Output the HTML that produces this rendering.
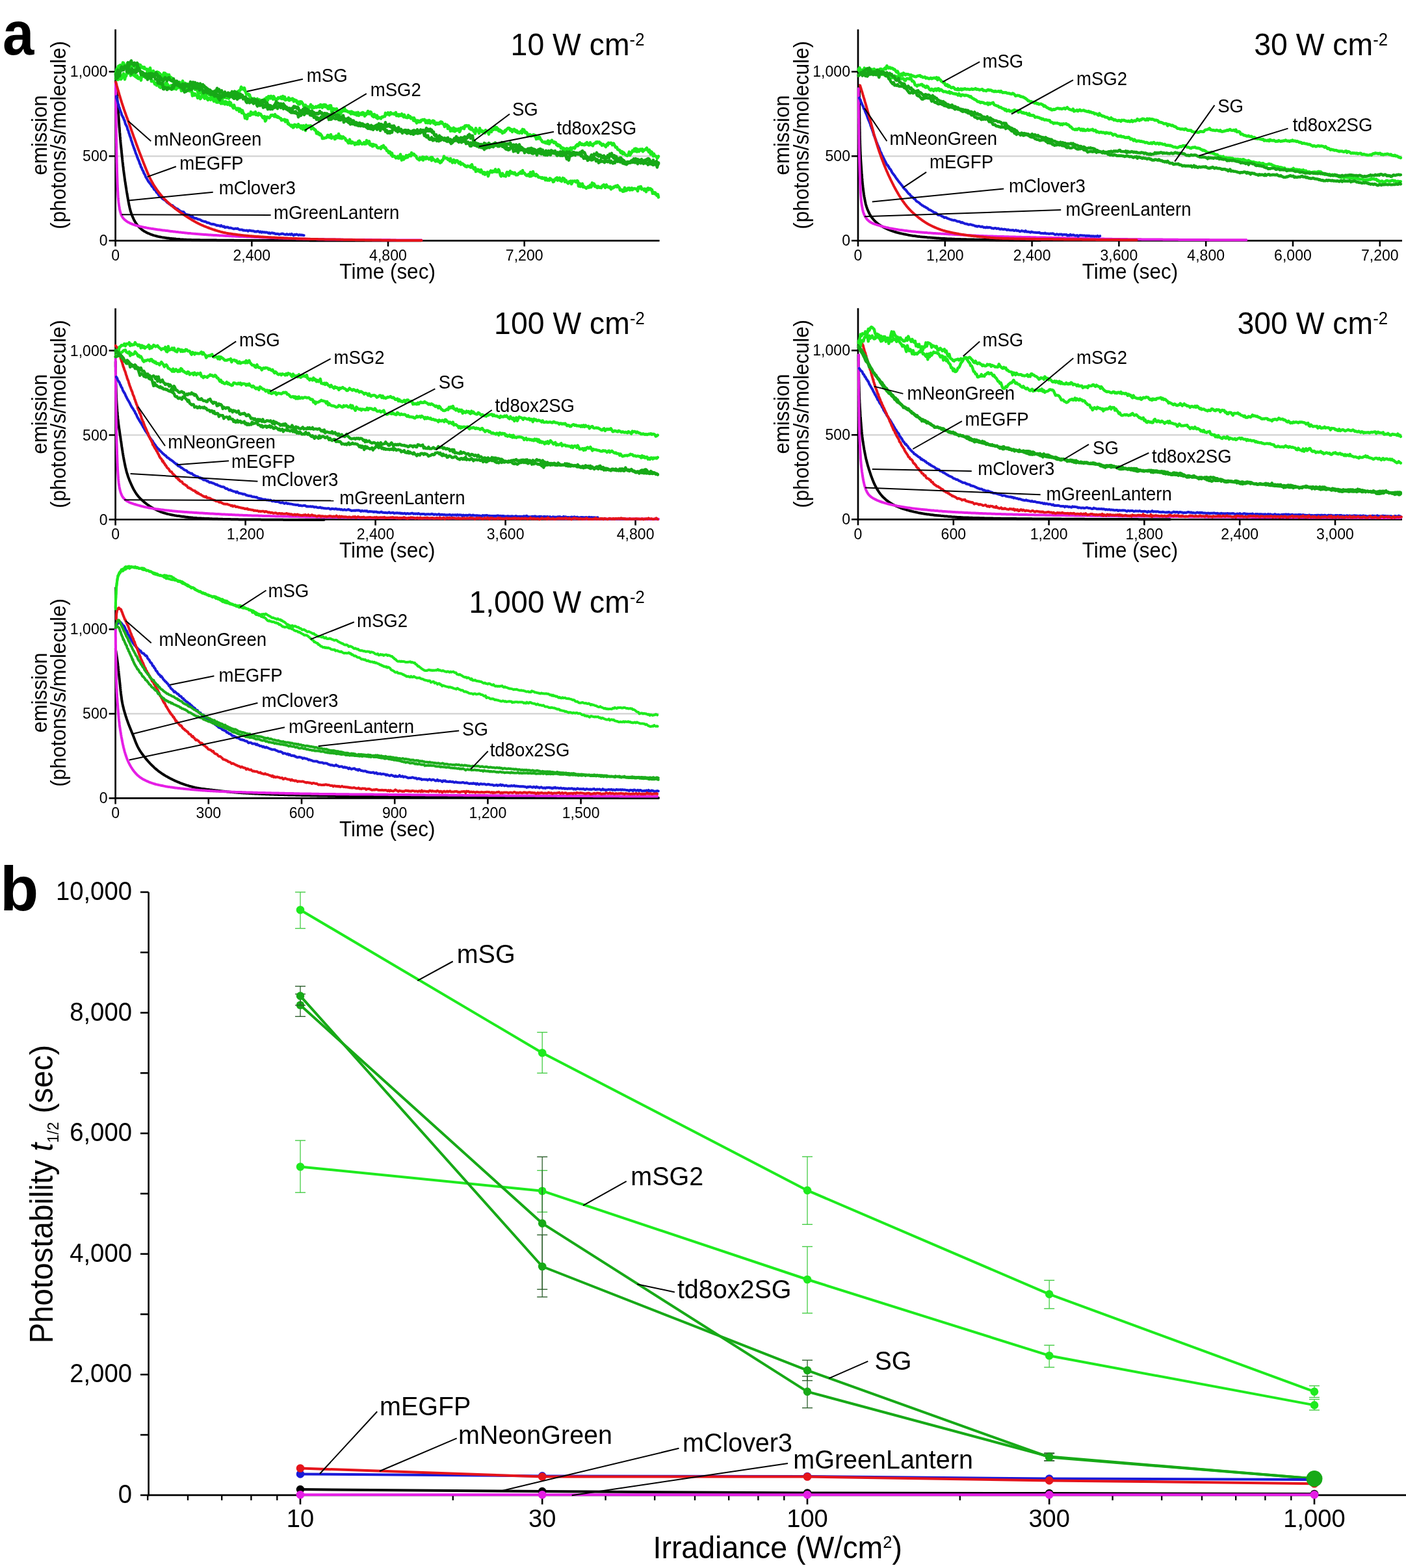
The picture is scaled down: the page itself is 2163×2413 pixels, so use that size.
<!DOCTYPE html>
<html><head><meta charset="utf-8"><title>Photostability</title>
<style>html,body{margin:0;padding:0;background:#fff;} svg{display:block;} text{fill:#000;}</style>
</head><body>
<svg xmlns="http://www.w3.org/2000/svg" width="2163" height="2413" viewBox="0 0 2163 2413" font-family='"Liberation Sans", Arial, Helvetica, sans-serif'>
<line x1="177.6" y1="240.3" x2="1014.6" y2="240.3" stroke="#d2d2d2" stroke-width="2.2" />
<line x1="167.6" y1="370.3" x2="177.6" y2="370.3" stroke="#000" stroke-width="2.6" />
<text transform="translate(165.6,378.3) scale(0.9615,1)" font-size="24.02" text-anchor="end" font-weight="normal"  style="">0</text>
<line x1="167.6" y1="240.3" x2="177.6" y2="240.3" stroke="#000" stroke-width="2.6" />
<text transform="translate(165.6,248.3) scale(0.9615,1)" font-size="24.02" text-anchor="end" font-weight="normal"  style="">500</text>
<line x1="167.6" y1="110.3" x2="177.6" y2="110.3" stroke="#000" stroke-width="2.6" />
<text transform="translate(165.6,118.3) scale(0.9615,1)" font-size="24.02" text-anchor="end" font-weight="normal"  style="">1,000</text>
<line x1="177.6" y1="370.3" x2="177.6" y2="379.3" stroke="#000" stroke-width="2.6" />
<text transform="translate(177.6,400.8) scale(0.9615,1)" font-size="24.02" text-anchor="middle" font-weight="normal"  style="">0</text>
<line x1="387.3" y1="370.3" x2="387.3" y2="379.3" stroke="#000" stroke-width="2.6" />
<text transform="translate(387.3,400.8) scale(0.9615,1)" font-size="24.02" text-anchor="middle" font-weight="normal"  style="">2,400</text>
<line x1="597.0" y1="370.3" x2="597.0" y2="379.3" stroke="#000" stroke-width="2.6" />
<text transform="translate(597.0,400.8) scale(0.9615,1)" font-size="24.02" text-anchor="middle" font-weight="normal"  style="">4,800</text>
<line x1="806.7" y1="370.3" x2="806.7" y2="379.3" stroke="#000" stroke-width="2.6" />
<text transform="translate(806.7,400.8) scale(0.9615,1)" font-size="24.02" text-anchor="middle" font-weight="normal"  style="">7,200</text>
<text transform="translate(596.1,428.8) scale(0.9615,1)" font-size="32.76" text-anchor="middle" font-weight="normal"  style="">Time (sec)</text>
<text transform="translate(71.8,207.9) rotate(-90) scale(0.9615,1)" font-size="32.45" text-anchor="middle">emission</text>
<text transform="translate(101.3,207.9) rotate(-90) scale(0.9615,1)" font-size="32.45" text-anchor="middle">(photons/s/molecule)</text>
<text transform="translate(991.5,85.0) scale(0.953,1)" font-size="48.7" text-anchor="end">10 W cm<tspan font-size="27" dy="-15.1">-2</tspan></text>
<line x1="1320.0" y1="240.3" x2="2157.0" y2="240.3" stroke="#d2d2d2" stroke-width="2.2" />
<line x1="1310.0" y1="370.3" x2="1320.0" y2="370.3" stroke="#000" stroke-width="2.6" />
<text transform="translate(1308.0,378.3) scale(0.9615,1)" font-size="24.02" text-anchor="end" font-weight="normal"  style="">0</text>
<line x1="1310.0" y1="240.3" x2="1320.0" y2="240.3" stroke="#000" stroke-width="2.6" />
<text transform="translate(1308.0,248.3) scale(0.9615,1)" font-size="24.02" text-anchor="end" font-weight="normal"  style="">500</text>
<line x1="1310.0" y1="110.3" x2="1320.0" y2="110.3" stroke="#000" stroke-width="2.6" />
<text transform="translate(1308.0,118.3) scale(0.9615,1)" font-size="24.02" text-anchor="end" font-weight="normal"  style="">1,000</text>
<line x1="1320.0" y1="370.3" x2="1320.0" y2="379.3" stroke="#000" stroke-width="2.6" />
<text transform="translate(1320.0,400.8) scale(0.9615,1)" font-size="24.02" text-anchor="middle" font-weight="normal"  style="">0</text>
<line x1="1453.8" y1="370.3" x2="1453.8" y2="379.3" stroke="#000" stroke-width="2.6" />
<text transform="translate(1453.8,400.8) scale(0.9615,1)" font-size="24.02" text-anchor="middle" font-weight="normal"  style="">1,200</text>
<line x1="1587.6" y1="370.3" x2="1587.6" y2="379.3" stroke="#000" stroke-width="2.6" />
<text transform="translate(1587.6,400.8) scale(0.9615,1)" font-size="24.02" text-anchor="middle" font-weight="normal"  style="">2,400</text>
<line x1="1721.4" y1="370.3" x2="1721.4" y2="379.3" stroke="#000" stroke-width="2.6" />
<text transform="translate(1721.4,400.8) scale(0.9615,1)" font-size="24.02" text-anchor="middle" font-weight="normal"  style="">3,600</text>
<line x1="1855.2" y1="370.3" x2="1855.2" y2="379.3" stroke="#000" stroke-width="2.6" />
<text transform="translate(1855.2,400.8) scale(0.9615,1)" font-size="24.02" text-anchor="middle" font-weight="normal"  style="">4,800</text>
<line x1="1989.0" y1="370.3" x2="1989.0" y2="379.3" stroke="#000" stroke-width="2.6" />
<text transform="translate(1989.0,400.8) scale(0.9615,1)" font-size="24.02" text-anchor="middle" font-weight="normal"  style="">6,000</text>
<line x1="2122.8" y1="370.3" x2="2122.8" y2="379.3" stroke="#000" stroke-width="2.6" />
<text transform="translate(2122.8,400.8) scale(0.9615,1)" font-size="24.02" text-anchor="middle" font-weight="normal"  style="">7,200</text>
<text transform="translate(1738.5,428.8) scale(0.9615,1)" font-size="32.76" text-anchor="middle" font-weight="normal"  style="">Time (sec)</text>
<text transform="translate(1214.2,207.9) rotate(-90) scale(0.9615,1)" font-size="32.45" text-anchor="middle">emission</text>
<text transform="translate(1243.7,207.9) rotate(-90) scale(0.9615,1)" font-size="32.45" text-anchor="middle">(photons/s/molecule)</text>
<text transform="translate(2135.1,85.0) scale(0.953,1)" font-size="48.7" text-anchor="end">30 W cm<tspan font-size="27" dy="-15.1">-2</tspan></text>
<line x1="177.6" y1="669.5" x2="1014.0" y2="669.5" stroke="#d2d2d2" stroke-width="2.2" />
<line x1="167.6" y1="799.5" x2="177.6" y2="799.5" stroke="#000" stroke-width="2.6" />
<text transform="translate(165.6,807.5) scale(0.9615,1)" font-size="24.02" text-anchor="end" font-weight="normal"  style="">0</text>
<line x1="167.6" y1="669.5" x2="177.6" y2="669.5" stroke="#000" stroke-width="2.6" />
<text transform="translate(165.6,677.5) scale(0.9615,1)" font-size="24.02" text-anchor="end" font-weight="normal"  style="">500</text>
<line x1="167.6" y1="539.5" x2="177.6" y2="539.5" stroke="#000" stroke-width="2.6" />
<text transform="translate(165.6,547.5) scale(0.9615,1)" font-size="24.02" text-anchor="end" font-weight="normal"  style="">1,000</text>
<line x1="177.6" y1="799.5" x2="177.6" y2="808.5" stroke="#000" stroke-width="2.6" />
<text transform="translate(177.6,830.0) scale(0.9615,1)" font-size="24.02" text-anchor="middle" font-weight="normal"  style="">0</text>
<line x1="377.6" y1="799.5" x2="377.6" y2="808.5" stroke="#000" stroke-width="2.6" />
<text transform="translate(377.6,830.0) scale(0.9615,1)" font-size="24.02" text-anchor="middle" font-weight="normal"  style="">1,200</text>
<line x1="577.6" y1="799.5" x2="577.6" y2="808.5" stroke="#000" stroke-width="2.6" />
<text transform="translate(577.6,830.0) scale(0.9615,1)" font-size="24.02" text-anchor="middle" font-weight="normal"  style="">2,400</text>
<line x1="777.6" y1="799.5" x2="777.6" y2="808.5" stroke="#000" stroke-width="2.6" />
<text transform="translate(777.6,830.0) scale(0.9615,1)" font-size="24.02" text-anchor="middle" font-weight="normal"  style="">3,600</text>
<line x1="977.6" y1="799.5" x2="977.6" y2="808.5" stroke="#000" stroke-width="2.6" />
<text transform="translate(977.6,830.0) scale(0.9615,1)" font-size="24.02" text-anchor="middle" font-weight="normal"  style="">4,800</text>
<text transform="translate(595.8,858.0) scale(0.9615,1)" font-size="32.76" text-anchor="middle" font-weight="normal"  style="">Time (sec)</text>
<text transform="translate(71.8,637.1) rotate(-90) scale(0.9615,1)" font-size="32.45" text-anchor="middle">emission</text>
<text transform="translate(101.3,637.1) rotate(-90) scale(0.9615,1)" font-size="32.45" text-anchor="middle">(photons/s/molecule)</text>
<text transform="translate(991.8,513.9) scale(0.953,1)" font-size="48.7" text-anchor="end">100 W cm<tspan font-size="27" dy="-15.1">-2</tspan></text>
<line x1="1320.0" y1="669.3" x2="2157.0" y2="669.3" stroke="#d2d2d2" stroke-width="2.2" />
<line x1="1310.0" y1="799.3" x2="1320.0" y2="799.3" stroke="#000" stroke-width="2.6" />
<text transform="translate(1308.0,807.3) scale(0.9615,1)" font-size="24.02" text-anchor="end" font-weight="normal"  style="">0</text>
<line x1="1310.0" y1="669.3" x2="1320.0" y2="669.3" stroke="#000" stroke-width="2.6" />
<text transform="translate(1308.0,677.3) scale(0.9615,1)" font-size="24.02" text-anchor="end" font-weight="normal"  style="">500</text>
<line x1="1310.0" y1="539.3" x2="1320.0" y2="539.3" stroke="#000" stroke-width="2.6" />
<text transform="translate(1308.0,547.3) scale(0.9615,1)" font-size="24.02" text-anchor="end" font-weight="normal"  style="">1,000</text>
<line x1="1320.0" y1="799.3" x2="1320.0" y2="808.3" stroke="#000" stroke-width="2.6" />
<text transform="translate(1320.0,829.8) scale(0.9615,1)" font-size="24.02" text-anchor="middle" font-weight="normal"  style="">0</text>
<line x1="1466.8" y1="799.3" x2="1466.8" y2="808.3" stroke="#000" stroke-width="2.6" />
<text transform="translate(1466.8,829.8) scale(0.9615,1)" font-size="24.02" text-anchor="middle" font-weight="normal"  style="">600</text>
<line x1="1613.6" y1="799.3" x2="1613.6" y2="808.3" stroke="#000" stroke-width="2.6" />
<text transform="translate(1613.6,829.8) scale(0.9615,1)" font-size="24.02" text-anchor="middle" font-weight="normal"  style="">1,200</text>
<line x1="1760.4" y1="799.3" x2="1760.4" y2="808.3" stroke="#000" stroke-width="2.6" />
<text transform="translate(1760.4,829.8) scale(0.9615,1)" font-size="24.02" text-anchor="middle" font-weight="normal"  style="">1,800</text>
<line x1="1907.2" y1="799.3" x2="1907.2" y2="808.3" stroke="#000" stroke-width="2.6" />
<text transform="translate(1907.2,829.8) scale(0.9615,1)" font-size="24.02" text-anchor="middle" font-weight="normal"  style="">2,400</text>
<line x1="2054.0" y1="799.3" x2="2054.0" y2="808.3" stroke="#000" stroke-width="2.6" />
<text transform="translate(2054.0,829.8) scale(0.9615,1)" font-size="24.02" text-anchor="middle" font-weight="normal"  style="">3,000</text>
<text transform="translate(1738.5,857.8) scale(0.9615,1)" font-size="32.76" text-anchor="middle" font-weight="normal"  style="">Time (sec)</text>
<text transform="translate(1214.2,636.9) rotate(-90) scale(0.9615,1)" font-size="32.45" text-anchor="middle">emission</text>
<text transform="translate(1243.7,636.9) rotate(-90) scale(0.9615,1)" font-size="32.45" text-anchor="middle">(photons/s/molecule)</text>
<text transform="translate(2135.1,513.9) scale(0.953,1)" font-size="48.7" text-anchor="end">300 W cm<tspan font-size="27" dy="-15.1">-2</tspan></text>
<line x1="177.6" y1="1098.4" x2="1014.0" y2="1098.4" stroke="#d2d2d2" stroke-width="2.2" />
<line x1="167.6" y1="1228.4" x2="177.6" y2="1228.4" stroke="#000" stroke-width="2.6" />
<text transform="translate(165.6,1236.4) scale(0.9615,1)" font-size="24.02" text-anchor="end" font-weight="normal"  style="">0</text>
<line x1="167.6" y1="1098.4" x2="177.6" y2="1098.4" stroke="#000" stroke-width="2.6" />
<text transform="translate(165.6,1106.4) scale(0.9615,1)" font-size="24.02" text-anchor="end" font-weight="normal"  style="">500</text>
<line x1="167.6" y1="968.4" x2="177.6" y2="968.4" stroke="#000" stroke-width="2.6" />
<text transform="translate(165.6,976.4) scale(0.9615,1)" font-size="24.02" text-anchor="end" font-weight="normal"  style="">1,000</text>
<line x1="177.6" y1="1228.4" x2="177.6" y2="1237.4" stroke="#000" stroke-width="2.6" />
<text transform="translate(177.6,1258.9) scale(0.9615,1)" font-size="24.02" text-anchor="middle" font-weight="normal"  style="">0</text>
<line x1="320.8" y1="1228.4" x2="320.8" y2="1237.4" stroke="#000" stroke-width="2.6" />
<text transform="translate(320.8,1258.9) scale(0.9615,1)" font-size="24.02" text-anchor="middle" font-weight="normal"  style="">300</text>
<line x1="464.0" y1="1228.4" x2="464.0" y2="1237.4" stroke="#000" stroke-width="2.6" />
<text transform="translate(464.0,1258.9) scale(0.9615,1)" font-size="24.02" text-anchor="middle" font-weight="normal"  style="">600</text>
<line x1="607.2" y1="1228.4" x2="607.2" y2="1237.4" stroke="#000" stroke-width="2.6" />
<text transform="translate(607.2,1258.9) scale(0.9615,1)" font-size="24.02" text-anchor="middle" font-weight="normal"  style="">900</text>
<line x1="750.4" y1="1228.4" x2="750.4" y2="1237.4" stroke="#000" stroke-width="2.6" />
<text transform="translate(750.4,1258.9) scale(0.9615,1)" font-size="24.02" text-anchor="middle" font-weight="normal"  style="">1,200</text>
<line x1="893.6" y1="1228.4" x2="893.6" y2="1237.4" stroke="#000" stroke-width="2.6" />
<text transform="translate(893.6,1258.9) scale(0.9615,1)" font-size="24.02" text-anchor="middle" font-weight="normal"  style="">1,500</text>
<text transform="translate(595.8,1286.9) scale(0.9615,1)" font-size="32.76" text-anchor="middle" font-weight="normal"  style="">Time (sec)</text>
<text transform="translate(71.8,1066.0) rotate(-90) scale(0.9615,1)" font-size="32.45" text-anchor="middle">emission</text>
<text transform="translate(101.3,1066.0) rotate(-90) scale(0.9615,1)" font-size="32.45" text-anchor="middle">(photons/s/molecule)</text>
<text transform="translate(991.8,942.7) scale(0.953,1)" font-size="48.7" text-anchor="end">1,000 W cm<tspan font-size="27" dy="-15.1">-2</tspan></text>
<text transform="translate(4,84.1) scale(0.927,1)" font-size="93.8" font-weight="bold">a</text>
<text transform="translate(0,1401) scale(1.0,1)" font-size="97" font-weight="bold">b</text>
<line x1="177.6" y1="45.3" x2="177.6" y2="371.6" stroke="#000" stroke-width="2.7" />
<line x1="176.3" y1="370.3" x2="1014.6" y2="370.3" stroke="#000" stroke-width="2.7" />
<path d="M178.0,126.0 178.2,128.1 178.3,129.2 178.4,130.6 178.6,132.0 178.7,133.5 178.8,135.0 179.0,136.5 179.1,137.9 179.2,139.4 179.4,140.9 179.5,142.4 179.6,143.9 179.8,145.4 179.9,146.9 180.0,148.4 180.2,149.9 180.3,151.4 180.4,152.9 180.5,154.4 180.7,155.9 180.8,157.4 180.9,158.9 181.0,160.4 181.1,161.9 181.3,163.4 181.4,164.8 181.5,166.3 181.6,167.8 181.7,169.3 181.8,170.8 181.9,172.3 182.0,173.8 182.1,175.3 182.3,176.8 182.4,178.3 182.5,179.8 182.6,181.3 182.7,182.8 182.8,184.3 182.9,185.8 183.0,187.3 183.1,188.8 183.2,190.3 183.3,191.8 183.4,193.3 183.5,194.8 183.6,196.3 183.8,197.8 183.9,199.3 184.0,200.7 184.1,202.2 184.2,203.7 184.4,205.2 184.5,206.7 184.6,208.2 184.7,209.7 184.9,211.2 185.0,212.7 185.1,214.2 185.3,215.7 185.4,217.2 185.5,218.7 185.7,220.2 185.8,221.7 186.0,223.2 186.1,224.7 186.2,226.1 186.4,227.6 186.5,229.1 186.7,230.6 186.8,232.1 187.0,233.6 187.1,235.1 187.3,236.6 187.4,238.1 187.6,239.6 187.7,241.1 187.9,242.6 188.1,244.1 188.2,245.5 188.4,247.0 188.5,248.5 188.7,250.0 188.9,251.5 189.1,253.0 189.2,254.5 189.4,256.0 189.6,257.5 189.8,259.0 189.9,260.4 190.1,261.9 190.3,263.4 190.5,264.9 190.7,266.4 190.9,267.9 191.1,269.4 191.3,270.8 191.5,272.3 191.7,273.8 191.9,275.3 192.1,276.8 192.3,278.3 192.6,279.8 192.8,281.2 193.0,282.7 193.2,284.2 193.5,285.7 193.7,287.2 193.9,288.7 194.2,290.1 194.4,291.6 194.6,293.1 194.9,294.6 195.1,296.1 195.4,297.5 195.6,299.0 195.9,300.5 196.1,302.0 196.4,303.5 196.6,305.0 196.9,306.4 197.2,307.9 197.4,309.4 197.7,310.9 198.0,312.4 198.3,313.9 198.5,315.3 198.9,316.8 199.2,318.3 199.5,319.7 199.9,321.2 200.2,322.6 200.6,324.0 201.0,325.5 201.5,326.9 202.0,328.3 202.5,329.8 203.0,331.2 203.6,332.6 204.2,334.0 204.8,335.4 205.4,336.8 206.1,338.2 206.8,339.5 207.5,340.8 208.3,342.1 209.1,343.3 209.9,344.5 210.8,345.7 211.7,346.8 212.6,348.0 213.7,349.1 214.7,350.2 215.9,351.2 217.0,352.3 218.2,353.3 219.4,354.2 220.7,355.1 221.9,355.9 223.2,356.6 224.5,357.3 225.7,358.0 227.1,358.6 228.4,359.2 229.8,359.7 231.1,360.3 232.5,360.8 234.0,361.3 235.4,361.8 236.9,362.3 238.3,362.7 239.8,363.1 241.3,363.5 242.8,363.9 244.3,364.2 245.8,364.6 247.3,364.8 248.8,365.1 250.2,365.4 251.7,365.6 253.2,365.8 254.7,366.0 256.1,366.2 257.6,366.4 259.1,366.5 260.6,366.7 262.0,366.9 263.5,367.0 265.0,367.2 266.5,367.3 268.0,367.5 269.5,367.6 271.0,367.8 272.5,367.9 274.0,368.0 275.5,368.1 277.0,368.3 278.5,368.4 280.0,368.5 281.5,368.6 283.0,368.7 284.5,368.7 286.0,368.8 287.6,368.9 289.1,369.0 290.6,369.0 292.1,369.1 293.6,369.1 295.1,369.2 296.6,369.2 298.1,369.2 299.6,369.2 301.1,369.3 302.6,369.3 304.1,369.3 305.6,369.3 307.0,369.3 308.5,369.4 310.0,369.4 311.5,369.4 313.0,369.4 314.5,369.4 316.0,369.5 317.5,369.5 319.0,369.5 320.5,369.5 322.0,369.5 323.5,369.6 325.0,369.6 326.5,369.6 328.0,369.6 329.5,369.6 331.0,369.6 332.5,369.6 334.0,369.7 335.5,369.7 337.0,369.7 338.5,369.7 340.0,369.7 341.5,369.7 343.0,369.7 344.5,369.7 346.0,369.8 347.5,369.8 349.0,369.8 350.5,369.8 352.0,369.8 353.5,369.8 355.0,369.8 356.5,369.8 358.0,369.8 359.5,369.8 361.0,369.9 362.5,369.9 364.0,369.9 365.5,369.9 367.0,369.9 368.5,369.9 370.0,369.9 371.5,369.9 373.0,369.9 374.5,369.9 376.0,369.9 377.5,369.9 379.0,369.9 380.5,369.9 382.0,369.9 383.5,370.0 385.0,370.0 386.5,370.0 388.0,370.0 389.5,370.0 391.0,370.0 392.5,370.0 394.0,370.0 395.5,370.0 397.0,370.0 398.5,370.0 400.0,370.0 401.5,370.0 403.0,370.0 404.5,370.0 406.0,370.0 407.5,370.0 409.0,370.0 410.5,370.0 412.0,370.0 413.5,370.0 415.0,370.0 416.5,370.0 418.0,370.0 419.5,370.0 421.0,370.0 422.5,370.1 424.0,370.1 425.5,370.1 427.0,370.1 428.5,370.1 430.0,370.1 431.5,370.1 433.0,370.1 434.5,370.1 436.0,370.1 437.5,370.1 439.0,370.1 440.5,370.1 442.0,370.1 443.5,370.1 445.0,370.1 446.5,370.1 448.0,370.1 449.5,370.1 451.0,370.1 452.5,370.1 454.0,370.1 455.5,370.1 457.0,370.1 458.5,370.1 460.0,370.1 461.5,370.1 463.0,370.1 464.5,370.1 466.0,370.1 467.5,370.1 469.0,370.1 470.5,370.1 472.0,370.1 473.5,370.1 475.0,370.1 476.5,370.2 478.0,370.2 479.5,370.2 481.0,370.2 482.5,370.2 484.0,370.2 485.5,370.2 487.0,370.2 488.5,370.2 490.0,370.2 491.5,370.2 493.0,370.2 494.5,370.2 496.0,370.2 497.5,370.2 499.0,370.2 500.5,370.2 502.0,370.2 503.5,370.2 505.0,370.2 506.5,370.2 508.0,370.2 509.5,370.2 511.0,370.2 512.5,370.2 514.0,370.2 515.5,370.2 517.0,370.2 518.5,370.2 520.0,370.2 521.5,370.2 523.0,370.2 524.5,370.2 526.0,370.2 527.5,370.2 529.0,370.2 530.5,370.2 532.0,370.2 533.5,370.2 535.0,370.2 536.5,370.2 538.0,370.2 539.5,370.2 541.0,370.2 542.5,370.2 544.0,370.2 545.5,370.2 547.0,370.2 548.5,370.2 550.0,370.2 551.5,370.3 553.0,370.3 554.5,370.3 556.0,370.3 557.5,370.3 559.0,370.3 560.5,370.3 562.0,370.3 563.5,370.3 565.0,370.3 566.5,370.3 568.0,370.3 569.5,370.3 571.0,370.3 572.5,370.3 574.0,370.3 575.5,370.3 577.0,370.3 578.5,370.3 580.0,370.3 581.5,370.3 583.0,370.3 584.5,370.3 586.0,370.3 587.5,370.3 589.0,370.3 590.5,370.3 592.0,370.3 593.5,370.3 595.0,370.3 596.5,370.3 598.0,370.3 599.5,370.3 601.0,370.3 602.5,370.3 604.0,370.3 605.5,370.3 607.0,370.3 608.5,370.3 610.0,370.3 611.5,370.3 613.0,370.3 614.5,370.3 616.0,370.3 617.5,370.3 619.0,370.3 620.5,370.3 622.0,370.3 623.5,370.3 625.0,370.3 626.5,370.3 628.0,370.3 629.5,370.3 631.0,370.3 632.5,370.3 634.0,370.3 635.5,370.3 637.0,370.3 638.5,370.3 640.0,370.3 641.5,370.3 643.0,370.3 644.5,370.3 645.9,370.3 647.2,370.3 648.2,370.3" fill="none" stroke="#000000" stroke-width="4" stroke-linejoin="round" stroke-linecap="round"/>
<path d="M178.0,128.0 178.0,130.1 178.0,131.2 178.0,132.6 178.0,134.0 178.1,135.5 178.1,137.0 178.1,138.5 178.1,140.0 178.1,141.5 178.1,143.0 178.1,144.5 178.1,146.0 178.2,147.5 178.2,149.0 178.2,150.5 178.2,152.0 178.2,153.5 178.2,155.0 178.2,156.5 178.3,158.0 178.3,159.5 178.3,161.0 178.3,162.5 178.3,164.0 178.3,165.5 178.4,167.0 178.4,168.5 178.4,170.0 178.4,171.5 178.4,173.0 178.4,174.5 178.5,176.0 178.5,177.5 178.5,179.0 178.5,180.5 178.5,182.0 178.5,183.5 178.6,185.0 178.6,186.5 178.6,188.0 178.6,189.5 178.6,191.0 178.7,192.5 178.7,194.0 178.7,195.5 178.7,197.0 178.7,198.5 178.8,200.0 178.8,201.5 178.8,203.0 178.8,204.5 178.8,206.0 178.9,207.5 178.9,209.0 178.9,210.5 178.9,212.0 179.0,213.5 179.0,215.0 179.0,216.5 179.0,218.0 179.0,219.5 179.1,221.0 179.1,222.5 179.1,224.0 179.2,225.5 179.2,227.0 179.2,228.5 179.2,230.0 179.3,231.5 179.3,233.0 179.3,234.5 179.4,236.0 179.4,237.5 179.4,239.0 179.4,240.5 179.5,242.0 179.5,243.5 179.5,245.0 179.6,246.5 179.6,248.0 179.6,249.5 179.7,251.0 179.7,252.5 179.8,254.0 179.8,255.5 179.8,257.0 179.9,258.5 179.9,260.0 179.9,261.5 180.0,263.0 180.0,264.5 180.1,266.0 180.1,267.5 180.2,269.0 180.2,270.5 180.3,272.0 180.3,273.5 180.4,275.0 180.4,276.5 180.5,278.0 180.5,279.5 180.6,281.0 180.6,282.5 180.7,284.0 180.8,285.5 180.8,287.0 180.9,288.5 181.0,290.0 181.0,291.5 181.1,293.0 181.2,294.5 181.3,296.0 181.4,297.5 181.4,299.0 181.5,300.4 181.6,301.9 181.7,303.4 181.9,304.9 182.0,306.4 182.1,307.9 182.3,309.4 182.4,310.9 182.6,312.4 182.8,313.9 183.0,315.4 183.2,316.9 183.4,318.4 183.7,319.9 183.9,321.3 184.2,322.8 184.6,324.3 184.9,325.8 185.4,327.2 185.8,328.7 186.3,330.1 186.9,331.5 187.6,332.8 188.3,334.0 189.1,335.2 190.0,336.3 191.1,337.4 192.2,338.5 193.4,339.4 194.6,340.3 195.8,341.2 197.1,341.9 198.4,342.6 199.7,343.3 201.1,343.9 202.5,344.5 203.9,345.0 205.3,345.6 206.7,346.0 208.2,346.5 209.6,347.0 211.1,347.4 212.6,347.8 214.0,348.1 215.5,348.5 216.9,348.8 218.4,349.1 219.8,349.4 221.3,349.8 222.8,350.0 224.2,350.3 225.7,350.6 227.2,350.9 228.7,351.1 230.1,351.4 231.6,351.6 233.1,351.9 234.6,352.1 236.1,352.3 237.6,352.6 239.0,352.8 240.5,353.0 242.0,353.2 243.5,353.4 245.0,353.6 246.5,353.8 248.0,354.0 249.5,354.2 251.0,354.4 252.5,354.6 254.0,354.8 255.5,355.0 257.0,355.1 258.5,355.3 259.9,355.5 261.4,355.7 262.9,355.9 264.4,356.0 265.9,356.2 267.4,356.4 268.9,356.6 270.4,356.8 271.9,356.9 273.3,357.1 274.8,357.3 276.3,357.4 277.8,357.6 279.3,357.8 280.8,357.9 282.3,358.1 283.8,358.2 285.3,358.4 286.8,358.6 288.3,358.7 289.8,358.9 291.3,359.0 292.7,359.1 294.2,359.3 295.7,359.4 297.2,359.6 298.7,359.7 300.2,359.8 301.7,360.0 303.2,360.1 304.7,360.2 306.2,360.3 307.7,360.5 309.2,360.6 310.7,360.7 312.2,360.8 313.7,360.9 315.2,361.0 316.7,361.1 318.2,361.2 319.7,361.3 321.2,361.4 322.7,361.5 324.1,361.6 325.6,361.7 327.1,361.8 328.6,361.9 330.1,362.0 331.6,362.0 333.1,362.1 334.6,362.2 336.1,362.3 337.6,362.4 339.1,362.5 340.6,362.6 342.1,362.6 343.6,362.7 345.1,362.8 346.6,362.9 348.1,362.9 349.6,363.0 351.1,363.1 352.6,363.2 354.1,363.2 355.6,363.3 357.1,363.4 358.6,363.4 360.1,363.5 361.6,363.6 363.1,363.7 364.6,363.7 366.1,363.8 367.6,363.9 369.1,363.9 370.6,364.0 372.1,364.1 373.6,364.1 375.1,364.2 376.6,364.2 378.1,364.3 379.6,364.4 381.1,364.4 382.6,364.5 384.1,364.6 385.6,364.6 387.1,364.7 388.6,364.7 390.1,364.8 391.6,364.9 393.1,364.9 394.6,365.0 396.1,365.0 397.6,365.1 399.1,365.2 400.6,365.2 402.1,365.3 403.6,365.4 405.1,365.4 406.6,365.5 408.1,365.5 409.6,365.6 411.1,365.7 412.6,365.7 414.1,365.8 415.6,365.9 417.1,365.9 418.5,366.0 420.0,366.0 421.5,366.1 423.0,366.2 424.5,366.2 426.0,366.3 427.5,366.3 429.0,366.4 430.5,366.5 432.0,366.5 433.5,366.6 435.0,366.6 436.5,366.7 438.0,366.7 439.5,366.8 441.0,366.8 442.5,366.9 444.0,367.0 445.5,367.0 447.0,367.1 448.5,367.1 450.0,367.2 451.5,367.2 453.0,367.3 454.5,367.3 456.0,367.4 457.5,367.4 459.0,367.5 460.5,367.5 462.0,367.5 463.5,367.6 465.0,367.6 466.5,367.7 468.0,367.7 469.5,367.8 471.0,367.8 472.5,367.8 474.0,367.9 475.5,367.9 477.0,367.9 478.5,368.0 480.0,368.0 481.5,368.0 483.0,368.1 484.5,368.1 486.0,368.1 487.5,368.2 489.0,368.2 490.5,368.2 492.0,368.2 493.5,368.3 495.0,368.3 496.5,368.3 498.0,368.3 499.5,368.3 501.0,368.4 502.5,368.4 504.0,368.4 505.5,368.4 507.0,368.4 508.5,368.5 510.0,368.5 511.5,368.5 513.0,368.5 514.5,368.5 516.0,368.6 517.5,368.6 519.0,368.6 520.5,368.6 522.0,368.6 523.5,368.6 525.0,368.7 526.5,368.7 528.0,368.7 529.5,368.7 531.0,368.7 532.5,368.7 534.0,368.8 535.5,368.8 537.0,368.8 538.5,368.8 540.0,368.8 541.5,368.8 543.0,368.9 544.5,368.9 546.0,368.9 547.5,368.9 549.0,368.9 550.5,368.9 552.0,369.0 553.5,369.0 555.0,369.0 556.5,369.0 558.0,369.0 559.5,369.0 561.0,369.0 562.5,369.1 564.0,369.1 565.5,369.1 567.0,369.1 568.5,369.1 570.0,369.1 571.5,369.1 573.0,369.2 574.5,369.2 576.0,369.2 577.5,369.2 579.0,369.2 580.5,369.2 582.0,369.2 583.5,369.2 585.0,369.2 586.5,369.3 588.0,369.3 589.5,369.3 591.0,369.3 592.5,369.3 594.0,369.3 595.5,369.3 597.0,369.3 598.5,369.3 600.0,369.3 601.5,369.4 603.0,369.4 604.5,369.4 606.0,369.4 607.5,369.4 609.0,369.4 610.5,369.4 612.0,369.4 613.5,369.4 615.0,369.4 616.5,369.4 618.0,369.4 619.5,369.4 621.0,369.4 622.5,369.5 624.0,369.5 625.5,369.5 627.0,369.5 628.5,369.5 630.0,369.5 631.5,369.5 633.0,369.5 634.5,369.5 636.0,369.5 637.5,369.5 639.0,369.5 640.5,369.5 642.0,369.5 643.5,369.5 644.9,369.5 646.3,369.5 647.5,369.5 648.5,369.5" fill="none" stroke="#e51ee5" stroke-width="4" stroke-linejoin="round" stroke-linecap="round"/>
<path d="M179.0,148.2 179.4,151.4 179.7,151.5 180.1,153.2 180.4,154.7 180.8,155.8 181.2,157.0 181.6,159.4 182.0,160.7 182.4,161.0 182.9,164.6 183.3,165.3 183.8,165.9 184.2,168.1 184.7,168.9 185.2,170.5 185.7,172.3 186.2,172.7 186.8,175.0 187.3,176.8 187.9,178.1 188.5,178.7 189.1,180.7 189.7,180.8 190.3,182.9 190.9,184.6 191.5,185.1 192.0,187.1 192.6,189.4 193.1,191.2 193.6,191.7 194.2,193.1 194.7,193.7 195.2,194.9 195.7,196.3 196.2,198.6 196.7,200.2 197.2,200.9 197.7,202.0 198.1,204.2 198.6,205.6 199.1,206.8 199.6,208.9 200.0,209.7 200.5,211.1 201.0,212.0 201.5,214.1 201.9,216.1 202.4,216.9 202.9,218.3 203.4,219.9 203.8,221.3 204.3,222.8 204.8,224.2 205.3,225.7 205.7,226.4 206.2,228.4 206.7,228.8 207.2,231.2 207.7,231.8 208.2,233.8 208.7,235.5 209.2,236.5 209.8,238.1 210.3,238.7 210.8,240.5 211.3,242.6 211.9,243.1 212.4,245.4 213.0,245.8 213.5,247.4 214.1,248.7 214.6,250.7 215.2,252.3 215.8,252.9 216.3,254.8 216.9,257.1 217.5,257.5 218.1,258.6 218.7,260.6 219.3,261.7 219.9,262.8 220.5,263.6 221.2,266.3 221.8,266.9 222.5,268.5 223.2,269.3 223.9,271.8 224.6,272.8 225.3,274.2 226.0,275.0 226.8,276.6 227.6,278.1 228.4,279.4 229.2,280.3 230.0,281.4 230.9,282.5 231.7,283.5 232.6,284.7 233.5,286.6 234.4,287.5 235.3,287.8 236.2,289.9 237.1,291.7 238.1,292.2 239.0,292.6 240.0,294.6 240.9,296.2 241.9,297.0 242.9,297.8 243.9,300.0 244.9,301.1 246.0,301.2 247.1,302.7 248.1,303.6 249.2,304.8 250.3,306.1 251.5,306.8 252.6,307.5 253.8,308.1 254.9,309.0 256.1,310.3 257.3,311.8 258.4,312.3 259.6,313.1 260.8,314.1 262.0,314.9 263.2,316.0 264.5,316.0 265.7,316.4 266.9,318.0 268.2,318.5 269.4,320.7 270.7,320.6 272.0,321.3 273.3,321.5 274.6,323.2 275.9,323.5 277.2,325.1 278.5,325.7 279.8,325.6 281.1,326.9 282.5,326.1 283.8,327.8 285.1,329.4 286.5,329.9 287.8,330.2 289.2,330.8 290.5,330.7 291.9,331.4 293.2,332.8 294.6,334.2 296.0,332.8 297.3,334.8 298.7,335.4 300.1,336.1 301.5,335.8 302.9,336.5 304.3,337.4 305.7,337.4 307.1,337.8 308.5,338.5 309.9,339.4 311.4,340.1 312.8,340.4 314.2,340.9 315.6,340.9 317.0,341.4 318.5,342.7 319.9,342.6 321.3,343.0 322.8,343.9 324.2,344.5 325.7,344.9 327.1,344.8 328.6,345.0 330.0,345.5 331.5,345.9 332.9,346.9 334.4,346.7 335.8,347.2 337.3,347.2 338.8,348.2 340.2,346.9 341.7,348.4 343.2,348.9 344.6,348.3 346.1,350.2 347.6,349.4 349.0,349.7 350.5,349.5 352.0,350.8 353.4,350.7 354.9,350.6 356.4,351.2 357.9,351.7 359.3,352.2 360.8,352.0 362.3,351.6 363.8,352.1 365.3,351.5 366.7,352.5 368.2,353.4 369.7,353.5 371.2,353.5 372.7,353.6 374.2,354.7 375.6,354.3 377.1,354.8 378.6,354.7 380.1,354.4 381.6,355.7 383.1,354.5 384.6,354.7 386.1,355.2 387.5,355.2 389.0,355.5 390.5,355.6 392.0,356.6 393.5,356.3 395.0,356.6 396.5,355.7 398.0,356.3 399.4,357.4 400.9,356.4 402.4,357.7 403.9,356.8 405.4,357.6 406.9,357.2 408.4,357.8 409.9,357.4 411.4,357.9 412.9,359.0 414.3,358.1 415.8,359.5 417.3,358.4 418.8,358.2 420.3,358.9 421.8,358.8 423.3,360.0 424.8,359.7 426.3,360.0 427.8,359.8 429.3,360.9 430.8,360.2 432.3,360.2 433.7,359.6 435.2,359.7 436.7,360.3 438.2,360.8 439.7,361.0 441.2,360.1 442.7,360.9 444.2,360.9 445.7,360.3 447.2,361.2 448.7,359.9 450.2,361.3 451.7,362.5 453.2,360.8 454.7,361.4 456.2,360.5 457.7,361.2 459.2,362.0 460.7,361.2 462.2,361.7 463.7,361.6 465.1,361.7 466.5,362.0 467.6,362.2" fill="none" stroke="#1a1ad8" stroke-width="4" stroke-linejoin="round" stroke-linecap="round"/>
<path d="M178.2,126.2 178.7,128.1 179.0,129.2 179.4,130.6 179.7,132.0 180.1,133.5 180.5,134.9 180.9,136.3 181.3,137.8 181.7,139.2 182.2,140.7 182.6,142.1 183.0,143.6 183.4,145.0 183.8,146.4 184.3,147.9 184.7,149.3 185.1,150.7 185.6,152.2 186.0,153.6 186.4,155.0 186.9,156.5 187.3,157.9 187.8,159.3 188.3,160.8 188.7,162.2 189.2,163.6 189.7,165.0 190.1,166.5 190.6,167.9 191.1,169.3 191.6,170.7 192.1,172.1 192.6,173.5 193.1,174.9 193.6,176.4 194.1,177.8 194.6,179.2 195.1,180.6 195.7,182.0 196.2,183.4 196.7,184.8 197.2,186.2 197.7,187.7 198.2,189.1 198.7,190.5 199.2,191.9 199.7,193.3 200.2,194.7 200.7,196.1 201.2,197.5 201.7,199.0 202.2,200.4 202.7,201.8 203.2,203.2 203.7,204.6 204.2,206.0 204.7,207.4 205.2,208.9 205.7,210.3 206.2,211.7 206.7,213.1 207.3,214.5 207.8,215.9 208.3,217.3 208.8,218.7 209.3,220.1 209.8,221.6 210.3,223.0 210.8,224.4 211.4,225.8 211.9,227.2 212.4,228.6 212.9,230.0 213.5,231.4 214.0,232.8 214.5,234.2 215.0,235.6 215.6,237.0 216.1,238.4 216.7,239.8 217.2,241.2 217.8,242.6 218.3,244.0 218.9,245.4 219.4,246.8 219.9,248.2 220.5,249.6 221.0,251.0 221.6,252.4 222.1,253.8 222.7,255.2 223.2,256.6 223.8,258.0 224.3,259.4 224.9,260.8 225.5,262.2 226.0,263.6 226.6,265.0 227.2,266.4 227.8,267.8 228.4,269.2 229.0,270.5 229.7,271.9 230.3,273.2 231.0,274.6 231.6,275.9 232.3,277.2 233.0,278.5 233.7,279.8 234.4,281.1 235.2,282.4 235.9,283.7 236.7,285.0 237.5,286.2 238.3,287.5 239.1,288.8 240.0,290.0 240.9,291.3 241.7,292.5 242.6,293.8 243.5,295.0 244.4,296.2 245.4,297.4 246.3,298.6 247.2,299.7 248.2,300.9 249.2,302.0 250.1,303.1 251.1,304.2 252.1,305.3 253.1,306.4 254.2,307.5 255.2,308.5 256.3,309.5 257.3,310.6 258.4,311.6 259.5,312.6 260.7,313.6 261.8,314.6 262.9,315.6 264.1,316.6 265.3,317.5 266.4,318.5 267.6,319.5 268.8,320.4 270.0,321.3 271.2,322.2 272.4,323.2 273.7,324.1 274.9,324.9 276.1,325.8 277.3,326.7 278.6,327.6 279.8,328.4 281.0,329.3 282.3,330.1 283.5,330.9 284.7,331.8 286.0,332.6 287.2,333.4 288.5,334.2 289.8,335.0 291.1,335.8 292.3,336.6 293.6,337.4 294.9,338.2 296.2,339.0 297.5,339.7 298.8,340.5 300.2,341.2 301.5,342.0 302.8,342.7 304.2,343.4 305.5,344.1 306.8,344.7 308.2,345.4 309.5,346.0 310.9,346.6 312.3,347.2 313.6,347.8 315.0,348.4 316.4,348.9 317.8,349.5 319.1,350.0 320.5,350.5 321.9,351.0 323.4,351.6 324.8,352.1 326.2,352.6 327.6,353.1 329.1,353.5 330.5,354.0 331.9,354.5 333.4,354.9 334.8,355.4 336.3,355.8 337.7,356.2 339.2,356.6 340.7,357.0 342.1,357.3 343.6,357.7 345.1,358.0 346.5,358.3 348.0,358.6 349.5,358.9 350.9,359.1 352.4,359.4 353.8,359.6 355.3,359.8 356.8,360.0 358.3,360.2 359.7,360.4 361.2,360.6 362.7,360.8 364.2,361.0 365.7,361.2 367.2,361.4 368.6,361.5 370.1,361.7 371.6,361.9 373.1,362.1 374.6,362.2 376.1,362.4 377.6,362.5 379.1,362.7 380.6,362.8 382.1,362.9 383.6,363.1 385.1,363.2 386.6,363.3 388.1,363.5 389.6,363.6 391.1,363.7 392.6,363.8 394.1,363.9 395.6,364.0 397.1,364.1 398.6,364.2 400.1,364.3 401.6,364.4 403.1,364.5 404.6,364.6 406.1,364.7 407.6,364.8 409.1,364.9 410.6,365.0 412.1,365.1 413.6,365.2 415.1,365.2 416.6,365.3 418.1,365.4 419.6,365.5 421.1,365.6 422.6,365.6 424.1,365.7 425.6,365.8 427.1,365.9 428.6,366.0 430.1,366.0 431.6,366.1 433.1,366.2 434.6,366.2 436.1,366.3 437.6,366.4 439.1,366.5 440.6,366.5 442.1,366.6 443.6,366.7 445.0,366.7 446.5,366.8 448.0,366.8 449.5,366.9 451.0,367.0 452.5,367.0 454.0,367.1 455.5,367.1 457.0,367.2 458.5,367.3 460.0,367.3 461.5,367.4 463.0,367.4 464.5,367.5 466.0,367.5 467.5,367.6 469.0,367.6 470.5,367.7 472.0,367.7 473.5,367.8 475.0,367.8 476.5,367.8 478.0,367.9 479.5,367.9 481.0,368.0 482.5,368.0 484.0,368.0 485.5,368.1 487.0,368.1 488.5,368.1 490.0,368.2 491.5,368.2 493.0,368.2 494.5,368.3 496.0,368.3 497.5,368.3 499.0,368.4 500.5,368.4 502.0,368.4 503.5,368.4 505.0,368.5 506.5,368.5 508.0,368.5 509.5,368.5 511.0,368.6 512.5,368.6 514.0,368.6 515.5,368.6 517.0,368.7 518.5,368.7 520.0,368.7 521.5,368.7 523.0,368.8 524.5,368.8 526.0,368.8 527.5,368.8 529.0,368.9 530.5,368.9 532.0,368.9 533.5,368.9 535.0,369.0 536.5,369.0 538.0,369.0 539.5,369.0 541.0,369.1 542.5,369.1 544.0,369.1 545.5,369.1 547.0,369.2 548.5,369.2 550.0,369.2 551.5,369.2 553.0,369.2 554.5,369.3 556.0,369.3 557.5,369.3 559.0,369.3 560.5,369.3 562.0,369.4 563.5,369.4 565.0,369.4 566.5,369.4 568.0,369.4 569.5,369.5 571.0,369.5 572.5,369.5 574.0,369.5 575.5,369.5 577.0,369.5 578.5,369.6 580.0,369.6 581.5,369.6 583.0,369.6 584.5,369.6 586.0,369.6 587.5,369.7 589.0,369.7 590.5,369.7 592.0,369.7 593.5,369.7 595.0,369.7 596.5,369.7 598.0,369.8 599.5,369.8 601.0,369.8 602.5,369.8 604.0,369.8 605.5,369.8 607.0,369.8 608.5,369.8 610.0,369.9 611.5,369.9 613.0,369.9 614.5,369.9 616.0,369.9 617.5,369.9 619.0,369.9 620.5,369.9 622.0,369.9 623.5,369.9 625.0,369.9 626.5,369.9 628.0,370.0 629.5,370.0 631.0,370.0 632.5,370.0 634.0,370.0 635.5,370.0 637.0,370.0 638.5,370.0 640.0,370.0 641.5,370.0 643.0,370.0 644.5,370.0 645.9,370.0 647.3,370.0 648.4,370.0" fill="none" stroke="#e5141b" stroke-width="4" stroke-linejoin="round" stroke-linecap="round"/>
<path d="M178.0,120.8 179.0,120.2 180.0,117.0 181.0,122.7 182.0,122.4 183.0,114.9 184.0,121.1 185.0,121.5 186.0,122.0 187.0,120.9 188.0,115.9 189.0,118.4 190.0,113.2 191.0,117.4 192.0,122.1 193.0,117.6 194.0,117.0 195.0,112.7 196.0,110.5 197.0,109.8 198.0,112.6 199.0,110.4 200.0,111.3 201.0,116.3 202.0,109.9 203.0,111.4 204.0,113.9 205.0,115.3 206.0,116.0 207.0,113.2 208.0,117.7 209.0,117.5 210.0,119.2 211.0,116.4 212.0,120.5 213.0,121.1 214.0,119.3 215.0,120.6 216.0,119.6 217.0,123.6 218.0,112.5 219.0,116.0 220.0,114.9 221.0,117.6 222.0,116.6 223.0,116.9 224.0,119.7 225.0,114.6 226.0,116.6 227.0,118.2 228.0,116.2 229.0,120.1 230.0,120.5 231.0,118.6 232.0,116.8 233.0,125.3 234.0,123.9 235.0,124.8 236.0,125.3 237.0,126.1 238.0,129.3 239.0,128.4 240.0,127.8 241.0,131.4 242.0,130.5 243.0,129.1 244.0,129.0 245.0,133.5 246.0,132.1 247.0,134.9 248.0,129.2 249.0,128.5 250.0,130.8 251.0,132.4 252.0,130.5 253.0,130.1 254.0,133.4 255.0,127.8 256.0,127.2 257.0,128.8 258.0,130.2 259.0,132.1 260.0,134.0 261.0,133.2 262.0,136.1 263.0,131.5 264.0,137.7 265.0,132.6 266.0,137.1 267.0,133.2 268.0,136.3 269.0,135.7 270.0,136.7 271.0,137.3 272.0,135.2 273.0,135.2 274.0,135.3 275.0,132.0 276.0,133.3 277.0,131.4 278.0,134.9 279.0,139.8 280.0,137.2 281.0,133.9 282.0,134.3 283.0,137.9 284.0,135.4 285.0,133.2 286.0,134.7 287.0,134.9 288.0,135.5 289.0,139.6 290.0,139.4 291.0,137.5 292.0,140.2 293.0,139.7 294.0,140.4 295.0,140.5 296.0,147.4 297.0,143.5 298.0,145.8 299.0,146.6 300.0,144.3 301.0,146.3 302.0,146.8 303.0,146.7 304.0,150.8 305.0,147.6 306.0,147.3 307.0,149.4 308.0,152.0 309.0,151.0 310.0,148.3 311.0,147.8 312.0,147.6 313.0,148.3 314.0,150.5 315.0,151.6 316.0,145.7 317.0,150.4 318.0,148.9 319.0,152.8 320.0,153.9 321.0,151.1 322.0,152.1 323.0,151.0 324.0,153.5 325.0,149.5 326.0,149.8 327.0,150.4 328.0,153.6 329.0,155.9 330.0,151.3 331.0,149.2 332.0,152.1 333.0,151.2 334.0,154.8 335.0,152.5 336.0,154.7 337.0,155.9 338.0,157.5 339.0,156.6 340.0,159.4 341.0,157.4 342.0,153.9 343.0,159.3 344.0,156.9 345.0,156.6 346.0,160.5 347.0,156.2 348.0,158.5 349.0,157.2 350.0,161.0 351.0,158.0 352.0,159.4 353.0,156.7 354.0,162.2 355.0,158.2 356.0,162.2 357.0,163.4 358.0,164.6 359.0,166.4 360.0,161.7 361.0,165.4 362.0,165.8 363.0,167.2 364.0,169.0 365.0,167.7 366.0,166.6 367.0,168.4 368.0,171.6 369.0,167.4 370.0,170.5 371.0,169.2 372.0,173.7 373.0,170.0 374.0,173.6 375.0,175.0 376.0,176.7 377.0,181.8 378.0,181.2 379.0,177.2 380.0,183.0 381.0,177.0 382.0,175.5 383.0,175.6 384.0,177.8 385.0,177.7 386.0,172.2 387.0,176.0 388.0,174.4 389.0,175.6 390.0,173.7 391.0,175.5 392.0,174.9 393.0,172.1 394.0,176.7 395.0,174.9 396.0,176.1 397.0,177.4 398.0,174.2 399.0,176.0 400.0,175.2 401.0,175.4 402.0,177.9 403.0,178.5 404.0,180.7 405.0,181.5 406.0,179.9 407.0,179.1 408.0,186.5 409.0,185.1 410.0,181.4 411.0,179.9 412.0,180.3 413.0,181.0 414.0,181.5 415.0,180.5 416.0,178.9 417.0,177.2 418.0,177.8 419.0,176.9 420.0,177.8 421.0,177.8 422.0,179.4 423.0,176.0 424.0,179.1 425.0,179.6 426.0,178.7 427.0,180.6 428.0,179.6 429.0,180.7 430.0,181.6 431.0,182.2 432.0,182.1 433.0,185.1 434.0,184.0 435.0,184.5 436.0,184.8 437.0,183.8 438.0,183.9 439.0,187.3 440.0,186.1 441.0,184.8 442.0,185.3 443.0,190.5 444.0,190.0 445.0,192.1 446.0,192.3 447.0,193.3 448.0,194.2 449.0,192.7 450.0,194.9 451.0,196.4 452.0,195.8 453.0,191.8 454.0,192.2 455.0,192.2 456.0,193.8 457.0,195.5 458.0,194.6 459.0,191.2 460.0,194.2 461.0,195.5 462.0,193.6 463.0,197.5 464.0,193.6 465.0,196.8 466.0,199.0 467.0,193.3 468.0,195.1 469.0,196.8 470.0,200.9 471.0,192.6 472.0,196.3 473.0,195.8 474.0,194.4 475.0,193.6 476.0,194.0 477.0,194.5 478.0,193.4 479.0,198.6 480.0,195.0 481.0,196.9 482.0,197.2 483.0,198.3 484.0,200.0 485.0,199.6 486.0,201.2 487.0,205.4 488.0,205.0 489.0,203.5 490.0,206.5 491.0,204.9 492.0,207.6 493.0,206.1 494.0,207.8 495.0,209.0 496.0,213.1 497.0,212.0 498.0,212.9 499.0,212.4 500.0,212.4 501.0,211.8 502.0,211.9 503.0,210.4 504.0,208.1 505.0,208.1 506.0,211.2 507.0,211.4 508.0,210.3 509.0,207.0 510.0,212.8 511.0,211.1 512.0,210.8 513.0,211.1 514.0,210.6 515.0,214.1 516.0,213.8 517.0,209.1 518.0,210.3 519.0,210.7 520.0,212.0 521.0,206.0 522.0,211.2 523.0,212.6 524.0,209.7 525.0,210.4 526.0,213.1 527.0,212.3 528.0,210.5 529.0,211.6 530.0,212.7 531.0,212.8 532.0,215.8 533.0,215.5 534.0,217.0 535.0,218.5 536.0,220.2 537.0,217.9 538.0,214.7 539.0,220.2 540.0,217.9 541.0,220.4 542.0,218.3 543.0,219.8 544.0,219.5 545.0,220.0 546.0,222.6 547.0,219.8 548.0,221.4 549.0,221.7 550.0,220.8 551.0,217.6 552.0,221.7 553.0,216.7 554.0,218.6 555.0,219.9 556.0,221.2 557.0,221.7 558.0,221.4 559.0,220.9 560.0,219.2 561.0,221.7 562.0,219.2 563.0,221.3 564.0,216.1 565.0,218.4 566.0,219.5 567.0,220.8 568.0,217.4 569.0,222.9 570.0,223.4 571.0,223.6 572.0,222.0 573.0,225.2 574.0,222.0 575.0,224.4 576.0,222.9 577.0,223.2 578.0,223.3 579.0,224.1 580.0,226.6 581.0,227.4 582.0,227.8 583.0,227.2 584.0,227.2 585.0,226.8 586.0,228.9 587.0,225.5 588.0,225.1 589.0,226.3 590.0,224.0 591.0,226.9 592.0,228.0 593.0,227.3 594.0,228.8 595.0,231.9 596.0,231.5 597.0,232.8 598.0,235.2 599.0,233.5 600.0,233.5 601.0,236.4 602.0,238.5 603.0,235.7 604.0,240.7 605.0,240.0 606.0,240.5 607.0,240.2 608.0,241.5 609.0,243.2 610.0,242.5 611.0,242.8 612.0,240.6 613.0,243.6 614.0,243.3 615.0,241.4 616.0,237.5 617.0,242.0 618.0,246.5 619.0,242.4 620.0,241.2 621.0,245.4 622.0,241.7 623.0,243.3 624.0,243.3 625.0,239.2 626.0,241.2 627.0,242.2 628.0,239.2 629.0,240.0 630.0,238.2 631.0,239.1 632.0,240.1 633.0,235.1 634.0,236.7 635.0,238.0 636.0,236.9 637.0,237.4 638.0,239.0 639.0,239.9 640.0,240.1 641.0,242.7 642.0,244.2 643.0,244.9 644.0,245.2 645.0,246.3 646.0,242.5 647.0,244.8 648.0,245.2 649.0,245.3 650.0,241.5 651.0,246.5 652.0,241.9 653.0,243.4 654.0,243.9 655.0,244.5 656.0,241.7 657.0,242.1 658.0,243.8 659.0,244.4 660.0,245.1 661.0,243.9 662.0,243.0 663.0,242.3 664.0,247.1 665.0,242.2 666.0,245.7 667.0,245.2 668.0,246.2 669.0,247.0 670.0,248.2 671.0,246.7 672.0,247.9 673.0,244.9 674.0,248.5 675.0,247.3 676.0,248.5 677.0,250.6 678.0,248.4 679.0,249.6 680.0,246.6 681.0,246.7 682.0,244.7 683.0,240.5 684.0,242.8 685.0,243.1 686.0,243.5 687.0,243.2 688.0,243.4 689.0,245.6 690.0,245.7 691.0,245.0 692.0,247.8 693.0,244.0 694.0,247.3 695.0,247.9 696.0,250.3 697.0,247.5 698.0,246.0 699.0,248.2 700.0,250.3 701.0,247.2 702.0,247.2 703.0,247.0 704.0,247.6 705.0,250.0 706.0,251.4 707.0,249.7 708.0,249.4 709.0,253.2 710.0,251.3 711.0,251.9 712.0,252.1 713.0,253.0 714.0,254.6 715.0,254.3 716.0,256.1 717.0,255.8 718.0,256.7 719.0,255.3 720.0,255.5 721.0,256.1 722.0,255.7 723.0,255.8 724.0,257.5 725.0,254.2 726.0,253.3 727.0,258.1 728.0,257.2 729.0,260.2 730.0,258.7 731.0,258.0 732.0,264.0 733.0,261.7 734.0,261.1 735.0,260.9 736.0,263.3 737.0,261.7 738.0,263.6 739.0,265.0 740.0,261.3 741.0,263.4 742.0,265.0 743.0,267.3 744.0,266.7 745.0,265.1 746.0,268.6 747.0,266.0 748.0,266.6 749.0,267.3 750.0,264.9 751.0,271.2 752.0,267.8 753.0,265.8 754.0,264.1 755.0,262.8 756.0,264.9 757.0,265.2 758.0,263.2 759.0,263.5 760.0,264.4 761.0,263.5 762.0,260.5 763.0,264.4 764.0,263.7 765.0,264.5 766.0,262.6 767.0,260.9 768.0,262.9 769.0,266.3 770.0,270.0 771.0,271.2 772.0,268.8 773.0,266.8 774.0,269.2 775.0,270.7 776.0,270.6 777.0,270.0 778.0,271.4 779.0,267.6 780.0,264.9 781.0,266.4 782.0,265.4 783.0,270.1 784.0,265.7 785.0,263.4 786.0,266.2 787.0,266.7 788.0,265.3 789.0,265.7 790.0,267.4 791.0,267.1 792.0,265.8 793.0,268.5 794.0,269.3 795.0,268.5 796.0,269.2 797.0,268.4 798.0,266.6 799.0,266.2 800.0,266.7 801.0,264.4 802.0,266.7 803.0,266.9 804.0,262.3 805.0,265.8 806.0,265.7 807.0,266.5 808.0,268.5 809.0,268.6 810.0,270.2 811.0,270.1 812.0,270.2 813.0,268.4 814.0,268.9 815.0,271.4 816.0,265.0 817.0,271.2 818.0,267.5 819.0,270.1 820.0,264.1 821.0,267.6 822.0,269.7 823.0,268.9 824.0,270.7 825.0,268.2 826.0,269.3 827.0,269.9 828.0,272.5 829.0,273.0 830.0,272.7 831.0,273.0 832.0,273.5 833.0,274.4 834.0,273.1 835.0,274.6 836.0,274.5 837.0,273.9 838.0,273.8 839.0,277.1 840.0,274.0 841.0,275.7 842.0,277.4 843.0,276.7 844.0,275.9 845.0,277.6 846.0,274.4 847.0,275.0 848.0,276.5 849.0,276.7 850.0,277.0 851.0,279.9 852.0,279.4 853.0,276.4 854.0,276.6 855.0,274.6 856.0,276.2 857.0,273.4 858.0,277.6 859.0,274.6 860.0,276.4 861.0,273.7 862.0,278.1 863.0,276.9 864.0,279.1 865.0,276.3 866.0,274.0 867.0,275.4 868.0,275.0 869.0,279.8 870.0,277.1 871.0,277.7 872.0,280.6 873.0,281.0 874.0,282.2 875.0,281.3 876.0,279.4 877.0,280.3 878.0,278.6 879.0,283.1 880.0,281.6 881.0,278.6 882.0,279.2 883.0,278.8 884.0,278.6 885.0,278.8 886.0,280.2 887.0,280.2 888.0,278.1 889.0,278.8 890.0,286.4 891.0,286.6 892.0,282.6 893.0,287.1 894.0,285.5 895.0,286.0 896.0,282.7 897.0,287.9 898.0,286.5 899.0,287.9 900.0,288.4 901.0,288.9 902.0,289.9 903.0,288.3 904.0,288.3 905.0,286.9 906.0,288.5 907.0,286.8 908.0,284.9 909.0,288.1 910.0,287.0 911.0,281.4 912.0,282.3 913.0,284.7 914.0,282.8 915.0,287.1 916.0,285.8 917.0,287.0 918.0,288.1 919.0,288.9 920.0,286.7 921.0,288.4 922.0,287.8 923.0,288.7 924.0,288.0 925.0,289.0 926.0,287.4 927.0,285.6 928.0,286.4 929.0,284.3 930.0,286.7 931.0,288.8 932.0,285.8 933.0,284.5 934.0,287.3 935.0,287.0 936.0,288.2 937.0,287.6 938.0,288.8 939.0,287.3 940.0,291.2 941.0,288.7 942.0,289.5 943.0,289.4 944.0,287.7 945.0,288.2 946.0,286.8 947.0,286.1 948.0,286.4 949.0,287.7 950.0,285.4 951.0,286.7 952.0,287.8 953.0,289.2 954.0,292.7 955.0,291.7 956.0,292.1 957.0,293.3 958.0,294.6 959.0,291.9 960.0,294.4 961.0,288.8 962.0,290.5 963.0,293.4 964.0,293.1 965.0,290.7 966.0,289.6 967.0,291.3 968.0,289.4 969.0,292.4 970.0,292.0 971.0,291.7 972.0,289.4 973.0,292.1 974.0,290.3 975.0,290.5 976.0,290.1 977.0,290.3 978.0,290.8 979.0,290.9 980.0,290.5 981.0,294.0 982.0,288.1 983.0,290.2 984.0,287.5 985.0,288.5 986.0,287.3 987.0,291.3 988.0,290.5 989.0,290.8 990.0,291.0 991.0,292.9 992.0,290.7 993.0,292.0 994.0,295.1 995.0,291.2 996.0,290.2 997.0,289.4 998.0,292.0 999.0,290.9 1000.0,290.0 1001.0,290.5 1002.0,292.6 1003.0,292.1 1004.0,297.8 1005.0,295.5 1006.0,296.8 1007.0,298.1 1008.0,296.5 1009.0,298.0 1010.0,300.3 1011.0,301.0 1012.0,299.1 1013.0,303.6" fill="none" stroke="#1eea1e" stroke-width="4.6" stroke-linejoin="round" stroke-linecap="round"/>
<path d="M178.0,113.4 179.0,108.7 180.0,105.3 181.0,108.5 182.0,101.8 183.0,103.5 184.0,100.9 185.0,100.2 186.0,101.1 187.0,104.1 188.0,101.5 189.0,96.4 190.0,96.7 191.0,99.6 192.0,100.5 193.0,103.1 194.0,101.7 195.0,101.9 196.0,97.1 197.0,100.9 198.0,102.1 199.0,105.1 200.0,102.5 201.0,100.4 202.0,97.4 203.0,100.6 204.0,101.0 205.0,100.6 206.0,101.6 207.0,102.5 208.0,102.8 209.0,107.2 210.0,99.5 211.0,98.0 212.0,103.0 213.0,98.9 214.0,101.7 215.0,102.0 216.0,100.0 217.0,104.0 218.0,103.9 219.0,102.9 220.0,104.4 221.0,105.4 222.0,103.3 223.0,106.1 224.0,105.9 225.0,106.5 226.0,106.4 227.0,112.4 228.0,110.1 229.0,106.5 230.0,111.3 231.0,104.5 232.0,111.3 233.0,112.6 234.0,113.9 235.0,111.0 236.0,109.1 237.0,115.5 238.0,114.0 239.0,115.3 240.0,112.5 241.0,115.3 242.0,110.7 243.0,116.7 244.0,111.4 245.0,114.0 246.0,113.3 247.0,119.3 248.0,118.8 249.0,115.4 250.0,119.4 251.0,116.9 252.0,112.3 253.0,115.6 254.0,112.6 255.0,116.5 256.0,117.0 257.0,114.6 258.0,117.9 259.0,118.8 260.0,115.0 261.0,118.9 262.0,118.4 263.0,119.0 264.0,124.3 265.0,120.5 266.0,122.3 267.0,124.0 268.0,126.3 269.0,127.8 270.0,124.9 271.0,130.1 272.0,131.5 273.0,132.2 274.0,128.8 275.0,127.7 276.0,126.4 277.0,129.4 278.0,128.6 279.0,128.7 280.0,127.7 281.0,124.6 282.0,128.9 283.0,129.6 284.0,129.6 285.0,127.9 286.0,130.5 287.0,130.9 288.0,129.1 289.0,132.8 290.0,131.4 291.0,131.7 292.0,132.1 293.0,130.7 294.0,131.1 295.0,132.6 296.0,133.5 297.0,134.3 298.0,133.0 299.0,135.8 300.0,137.7 301.0,133.6 302.0,136.6 303.0,138.6 304.0,140.0 305.0,144.5 306.0,143.9 307.0,142.2 308.0,142.5 309.0,140.6 310.0,141.8 311.0,146.3 312.0,140.2 313.0,144.6 314.0,141.7 315.0,142.1 316.0,142.3 317.0,145.8 318.0,142.8 319.0,142.9 320.0,143.9 321.0,137.9 322.0,146.2 323.0,140.3 324.0,143.0 325.0,146.8 326.0,144.3 327.0,144.7 328.0,151.9 329.0,150.6 330.0,154.2 331.0,154.4 332.0,153.7 333.0,157.5 334.0,153.8 335.0,157.6 336.0,151.4 337.0,150.0 338.0,149.5 339.0,150.2 340.0,146.7 341.0,146.9 342.0,150.6 343.0,148.4 344.0,150.6 345.0,149.6 346.0,148.5 347.0,148.7 348.0,150.8 349.0,150.8 350.0,149.4 351.0,148.8 352.0,151.6 353.0,150.0 354.0,147.6 355.0,145.5 356.0,144.3 357.0,147.9 358.0,142.9 359.0,148.0 360.0,142.3 361.0,140.9 362.0,147.0 363.0,143.0 364.0,145.5 365.0,143.1 366.0,141.0 367.0,142.4 368.0,139.3 369.0,139.5 370.0,137.4 371.0,133.8 372.0,137.1 373.0,135.4 374.0,136.4 375.0,137.8 376.0,135.4 377.0,140.0 378.0,141.2 379.0,145.0 380.0,144.4 381.0,145.1 382.0,144.7 383.0,147.1 384.0,146.0 385.0,150.3 386.0,150.3 387.0,151.3 388.0,152.5 389.0,153.7 390.0,153.9 391.0,151.5 392.0,155.7 393.0,153.6 394.0,153.9 395.0,153.4 396.0,152.0 397.0,154.2 398.0,153.7 399.0,153.3 400.0,155.4 401.0,156.8 402.0,157.1 403.0,156.6 404.0,155.2 405.0,155.4 406.0,155.3 407.0,152.3 408.0,155.2 409.0,153.2 410.0,150.2 411.0,154.0 412.0,154.1 413.0,148.2 414.0,149.8 415.0,148.6 416.0,151.3 417.0,147.9 418.0,151.1 419.0,151.3 420.0,152.8 421.0,148.2 422.0,150.4 423.0,151.6 424.0,153.5 425.0,152.2 426.0,153.1 427.0,152.5 428.0,150.1 429.0,151.2 430.0,150.6 431.0,150.4 432.0,149.2 433.0,152.0 434.0,151.3 435.0,148.0 436.0,152.3 437.0,150.5 438.0,149.3 439.0,154.1 440.0,152.2 441.0,153.4 442.0,152.7 443.0,153.2 444.0,150.4 445.0,154.6 446.0,152.1 447.0,153.5 448.0,153.4 449.0,151.9 450.0,151.6 451.0,153.5 452.0,156.1 453.0,153.5 454.0,154.0 455.0,155.5 456.0,154.7 457.0,158.1 458.0,156.8 459.0,160.2 460.0,156.7 461.0,160.4 462.0,156.3 463.0,158.0 464.0,156.7 465.0,158.7 466.0,160.0 467.0,162.5 468.0,164.8 469.0,163.0 470.0,161.6 471.0,164.6 472.0,164.5 473.0,164.2 474.0,166.5 475.0,166.8 476.0,164.0 477.0,164.0 478.0,160.9 479.0,164.1 480.0,166.4 481.0,163.4 482.0,166.2 483.0,165.7 484.0,165.5 485.0,165.3 486.0,163.8 487.0,165.3 488.0,164.9 489.0,163.5 490.0,162.8 491.0,164.9 492.0,164.9 493.0,161.0 494.0,163.2 495.0,162.0 496.0,165.8 497.0,161.7 498.0,161.3 499.0,161.0 500.0,164.3 501.0,161.4 502.0,164.5 503.0,163.1 504.0,166.5 505.0,167.5 506.0,167.2 507.0,162.6 508.0,163.8 509.0,162.4 510.0,171.5 511.0,166.6 512.0,166.9 513.0,168.0 514.0,169.1 515.0,167.7 516.0,168.7 517.0,168.9 518.0,167.4 519.0,172.8 520.0,173.1 521.0,170.8 522.0,170.7 523.0,174.2 524.0,175.2 525.0,171.2 526.0,171.9 527.0,169.8 528.0,170.8 529.0,166.1 530.0,166.4 531.0,170.8 532.0,169.9 533.0,171.2 534.0,170.8 535.0,172.1 536.0,172.2 537.0,172.0 538.0,173.3 539.0,171.8 540.0,175.4 541.0,171.7 542.0,172.9 543.0,175.1 544.0,173.1 545.0,175.2 546.0,176.1 547.0,175.3 548.0,173.5 549.0,177.4 550.0,175.0 551.0,173.0 552.0,177.9 553.0,174.8 554.0,175.6 555.0,176.1 556.0,174.0 557.0,176.3 558.0,173.0 559.0,173.5 560.0,174.5 561.0,178.7 562.0,176.1 563.0,176.7 564.0,173.8 565.0,175.2 566.0,171.0 567.0,174.1 568.0,175.3 569.0,173.9 570.0,172.1 571.0,173.0 572.0,177.3 573.0,178.7 574.0,176.5 575.0,180.0 576.0,175.9 577.0,179.4 578.0,179.4 579.0,181.2 580.0,177.7 581.0,182.5 582.0,181.9 583.0,180.6 584.0,181.4 585.0,182.0 586.0,182.5 587.0,180.2 588.0,179.6 589.0,180.2 590.0,179.3 591.0,179.3 592.0,179.3 593.0,173.9 594.0,176.3 595.0,176.3 596.0,175.6 597.0,173.4 598.0,175.8 599.0,177.1 600.0,174.2 601.0,173.1 602.0,175.4 603.0,174.5 604.0,175.0 605.0,175.5 606.0,174.7 607.0,175.8 608.0,175.0 609.0,173.1 610.0,178.1 611.0,176.9 612.0,176.3 613.0,178.6 614.0,176.1 615.0,178.2 616.0,177.8 617.0,176.3 618.0,175.2 619.0,178.4 620.0,178.5 621.0,180.2 622.0,176.7 623.0,179.6 624.0,180.5 625.0,181.0 626.0,180.9 627.0,181.2 628.0,177.3 629.0,180.6 630.0,180.1 631.0,179.2 632.0,182.4 633.0,182.0 634.0,181.4 635.0,181.8 636.0,185.3 637.0,181.4 638.0,185.9 639.0,184.4 640.0,186.6 641.0,189.3 642.0,187.6 643.0,185.5 644.0,187.8 645.0,187.9 646.0,186.2 647.0,187.4 648.0,184.8 649.0,185.3 650.0,184.3 651.0,184.1 652.0,184.9 653.0,184.0 654.0,185.2 655.0,189.0 656.0,187.0 657.0,185.8 658.0,189.2 659.0,189.0 660.0,185.1 661.0,185.9 662.0,189.8 663.0,187.4 664.0,187.3 665.0,186.4 666.0,185.7 667.0,189.6 668.0,186.5 669.0,189.2 670.0,191.6 671.0,190.0 672.0,189.2 673.0,190.7 674.0,190.8 675.0,189.3 676.0,190.5 677.0,188.3 678.0,187.4 679.0,189.7 680.0,188.0 681.0,190.2 682.0,191.0 683.0,191.9 684.0,195.0 685.0,191.0 686.0,192.2 687.0,192.7 688.0,192.4 689.0,198.0 690.0,194.3 691.0,195.9 692.0,196.8 693.0,201.7 694.0,198.0 695.0,197.8 696.0,201.4 697.0,198.7 698.0,196.7 699.0,202.2 700.0,202.1 701.0,198.4 702.0,198.9 703.0,200.7 704.0,199.4 705.0,198.3 706.0,198.4 707.0,202.9 708.0,201.1 709.0,196.9 710.0,197.6 711.0,197.3 712.0,196.0 713.0,195.9 714.0,198.2 715.0,193.8 716.0,193.3 717.0,194.3 718.0,193.2 719.0,193.9 720.0,194.1 721.0,193.4 722.0,197.6 723.0,195.3 724.0,199.2 725.0,196.7 726.0,197.4 727.0,200.2 728.0,200.1 729.0,202.5 730.0,202.8 731.0,205.7 732.0,197.2 733.0,200.0 734.0,201.5 735.0,201.0 736.0,200.9 737.0,205.1 738.0,197.3 739.0,202.0 740.0,200.4 741.0,201.1 742.0,203.2 743.0,201.8 744.0,203.4 745.0,204.6 746.0,204.8 747.0,200.3 748.0,202.6 749.0,201.6 750.0,202.7 751.0,203.3 752.0,206.6 753.0,201.7 754.0,201.7 755.0,201.1 756.0,202.9 757.0,199.0 758.0,199.7 759.0,199.7 760.0,198.9 761.0,194.8 762.0,196.2 763.0,199.5 764.0,196.0 765.0,199.1 766.0,197.9 767.0,201.5 768.0,201.6 769.0,199.8 770.0,202.5 771.0,201.3 772.0,202.2 773.0,205.0 774.0,203.0 775.0,202.6 776.0,203.6 777.0,200.6 778.0,201.5 779.0,199.4 780.0,198.8 781.0,197.7 782.0,197.0 783.0,197.0 784.0,197.7 785.0,200.6 786.0,200.9 787.0,199.2 788.0,203.0 789.0,200.1 790.0,200.4 791.0,198.8 792.0,199.8 793.0,202.6 794.0,202.1 795.0,200.9 796.0,204.2 797.0,202.7 798.0,203.2 799.0,204.8 800.0,204.0 801.0,202.7 802.0,201.4 803.0,204.8 804.0,198.9 805.0,201.3 806.0,199.6 807.0,201.7 808.0,204.3 809.0,203.1 810.0,203.7 811.0,205.0 812.0,208.8 813.0,208.8 814.0,207.5 815.0,206.9 816.0,207.7 817.0,209.3 818.0,208.4 819.0,208.8 820.0,207.6 821.0,207.2 822.0,207.8 823.0,210.0 824.0,208.5 825.0,214.1 826.0,211.5 827.0,212.1 828.0,213.2 829.0,210.4 830.0,210.8 831.0,213.0 832.0,215.0 833.0,215.6 834.0,217.9 835.0,218.4 836.0,218.5 837.0,219.2 838.0,218.5 839.0,220.0 840.0,218.7 841.0,218.5 842.0,220.7 843.0,216.5 844.0,221.2 845.0,221.5 846.0,217.5 847.0,218.9 848.0,217.7 849.0,215.8 850.0,217.9 851.0,218.6 852.0,219.8 853.0,218.4 854.0,220.0 855.0,219.5 856.0,222.8 857.0,222.0 858.0,224.4 859.0,222.7 860.0,224.5 861.0,223.6 862.0,224.6 863.0,228.1 864.0,226.8 865.0,227.6 866.0,229.7 867.0,228.0 868.0,232.8 869.0,229.0 870.0,229.8 871.0,234.0 872.0,228.2 873.0,233.6 874.0,231.3 875.0,231.2 876.0,228.6 877.0,229.9 878.0,227.4 879.0,230.7 880.0,228.4 881.0,227.4 882.0,227.2 883.0,227.1 884.0,228.4 885.0,226.8 886.0,224.3 887.0,223.5 888.0,222.4 889.0,224.5 890.0,223.4 891.0,220.5 892.0,219.4 893.0,221.8 894.0,221.1 895.0,222.7 896.0,221.7 897.0,222.6 898.0,223.1 899.0,223.3 900.0,221.3 901.0,222.5 902.0,220.2 903.0,219.2 904.0,221.3 905.0,223.0 906.0,223.5 907.0,221.5 908.0,219.3 909.0,222.8 910.0,222.0 911.0,223.4 912.0,224.2 913.0,221.7 914.0,220.9 915.0,220.9 916.0,219.8 917.0,218.7 918.0,220.1 919.0,218.3 920.0,218.7 921.0,218.7 922.0,218.6 923.0,221.1 924.0,220.3 925.0,221.6 926.0,223.8 927.0,223.3 928.0,221.8 929.0,223.4 930.0,223.5 931.0,224.8 932.0,226.0 933.0,223.1 934.0,221.7 935.0,223.4 936.0,219.8 937.0,220.8 938.0,220.8 939.0,219.9 940.0,219.7 941.0,220.6 942.0,223.1 943.0,222.0 944.0,220.8 945.0,222.8 946.0,224.6 947.0,226.7 948.0,226.4 949.0,226.7 950.0,229.8 951.0,230.4 952.0,230.6 953.0,230.7 954.0,232.9 955.0,235.2 956.0,233.1 957.0,233.2 958.0,236.9 959.0,234.5 960.0,235.3 961.0,237.4 962.0,238.0 963.0,238.8 964.0,239.3 965.0,239.8 966.0,238.7 967.0,237.3 968.0,233.7 969.0,239.0 970.0,237.3 971.0,236.1 972.0,234.2 973.0,231.9 974.0,233.1 975.0,231.7 976.0,229.2 977.0,232.7 978.0,228.6 979.0,230.1 980.0,233.5 981.0,229.7 982.0,231.5 983.0,233.0 984.0,231.6 985.0,229.6 986.0,231.0 987.0,231.6 988.0,229.3 989.0,233.2 990.0,231.1 991.0,231.4 992.0,230.3 993.0,230.0 994.0,228.9 995.0,227.6 996.0,231.2 997.0,230.8 998.0,233.8 999.0,230.7 1000.0,233.6 1001.0,237.5 1002.0,233.4 1003.0,234.4 1004.0,237.2 1005.0,240.3 1006.0,236.8 1007.0,239.7 1008.0,240.0 1009.0,240.2 1010.0,241.3 1011.0,243.7 1012.0,242.4 1013.0,240.5" fill="none" stroke="#1eea1e" stroke-width="4.6" stroke-linejoin="round" stroke-linecap="round"/>
<path d="M178.0,116.2 179.0,121.3 180.0,118.5 181.0,119.9 182.0,115.6 183.0,114.0 184.0,116.9 185.0,108.9 186.0,105.5 187.0,108.3 188.0,108.2 189.0,105.3 190.0,105.3 191.0,103.5 192.0,101.6 193.0,103.6 194.0,103.3 195.0,110.0 196.0,106.7 197.0,111.5 198.0,108.1 199.0,106.9 200.0,110.2 201.0,110.5 202.0,113.9 203.0,105.4 204.0,109.4 205.0,111.2 206.0,107.8 207.0,109.7 208.0,107.9 209.0,111.7 210.0,111.0 211.0,102.6 212.0,104.2 213.0,106.4 214.0,109.0 215.0,109.6 216.0,109.8 217.0,113.2 218.0,114.9 219.0,113.8 220.0,113.6 221.0,115.0 222.0,113.1 223.0,117.5 224.0,117.7 225.0,113.4 226.0,119.0 227.0,115.1 228.0,117.2 229.0,115.2 230.0,114.6 231.0,116.6 232.0,112.9 233.0,114.7 234.0,113.2 235.0,117.8 236.0,116.9 237.0,117.5 238.0,117.9 239.0,121.9 240.0,121.9 241.0,121.7 242.0,122.4 243.0,128.1 244.0,128.2 245.0,122.7 246.0,128.7 247.0,128.2 248.0,128.5 249.0,129.8 250.0,127.2 251.0,136.9 252.0,137.2 253.0,134.1 254.0,135.1 255.0,136.1 256.0,134.9 257.0,138.0 258.0,137.1 259.0,134.8 260.0,136.2 261.0,136.0 262.0,136.1 263.0,136.0 264.0,137.2 265.0,134.2 266.0,130.5 267.0,135.3 268.0,129.4 269.0,131.8 270.0,128.1 271.0,127.9 272.0,124.7 273.0,126.8 274.0,126.5 275.0,128.2 276.0,130.6 277.0,130.4 278.0,134.3 279.0,131.1 280.0,133.1 281.0,137.2 282.0,138.3 283.0,140.0 284.0,141.8 285.0,139.7 286.0,140.9 287.0,139.6 288.0,139.4 289.0,138.7 290.0,138.4 291.0,136.6 292.0,136.6 293.0,137.9 294.0,136.7 295.0,137.6 296.0,133.9 297.0,133.8 298.0,135.1 299.0,132.8 300.0,132.7 301.0,135.8 302.0,133.8 303.0,136.2 304.0,135.1 305.0,134.4 306.0,133.5 307.0,138.7 308.0,136.9 309.0,136.4 310.0,136.1 311.0,137.2 312.0,139.4 313.0,143.1 314.0,139.6 315.0,142.1 316.0,141.6 317.0,134.9 318.0,138.8 319.0,142.9 320.0,137.2 321.0,143.4 322.0,141.4 323.0,138.5 324.0,145.5 325.0,142.0 326.0,145.5 327.0,143.2 328.0,142.1 329.0,146.2 330.0,148.1 331.0,147.6 332.0,143.8 333.0,148.1 334.0,145.4 335.0,147.3 336.0,151.5 337.0,146.7 338.0,154.1 339.0,146.6 340.0,146.9 341.0,150.3 342.0,148.3 343.0,147.9 344.0,146.1 345.0,148.7 346.0,147.5 347.0,146.8 348.0,145.2 349.0,144.0 350.0,146.6 351.0,142.7 352.0,145.6 353.0,148.0 354.0,148.3 355.0,146.6 356.0,142.8 357.0,148.9 358.0,150.1 359.0,149.0 360.0,151.7 361.0,151.4 362.0,146.9 363.0,149.7 364.0,149.2 365.0,152.8 366.0,151.5 367.0,149.5 368.0,150.0 369.0,150.4 370.0,147.7 371.0,148.8 372.0,149.3 373.0,149.3 374.0,150.1 375.0,151.8 376.0,150.0 377.0,151.0 378.0,155.2 379.0,157.1 380.0,158.1 381.0,152.1 382.0,156.2 383.0,154.3 384.0,154.9 385.0,155.4 386.0,156.6 387.0,157.2 388.0,152.3 389.0,155.8 390.0,159.3 391.0,158.2 392.0,155.8 393.0,157.5 394.0,158.2 395.0,161.7 396.0,163.4 397.0,158.9 398.0,162.0 399.0,160.7 400.0,162.5 401.0,161.5 402.0,160.4 403.0,161.4 404.0,161.9 405.0,165.6 406.0,162.3 407.0,164.6 408.0,162.5 409.0,163.0 410.0,164.8 411.0,163.8 412.0,168.2 413.0,167.4 414.0,163.5 415.0,166.4 416.0,168.1 417.0,163.5 418.0,164.9 419.0,168.0 420.0,164.1 421.0,166.2 422.0,165.2 423.0,165.5 424.0,163.3 425.0,164.6 426.0,163.8 427.0,167.1 428.0,164.9 429.0,163.6 430.0,162.7 431.0,163.5 432.0,159.5 433.0,160.5 434.0,160.6 435.0,160.8 436.0,159.7 437.0,163.5 438.0,162.5 439.0,165.9 440.0,164.4 441.0,164.7 442.0,167.0 443.0,167.7 444.0,167.5 445.0,169.9 446.0,171.9 447.0,170.0 448.0,173.4 449.0,171.4 450.0,173.4 451.0,172.3 452.0,172.2 453.0,173.8 454.0,171.8 455.0,171.5 456.0,174.7 457.0,175.0 458.0,174.2 459.0,180.2 460.0,177.9 461.0,176.1 462.0,178.0 463.0,177.8 464.0,175.7 465.0,175.4 466.0,172.1 467.0,174.8 468.0,176.7 469.0,175.0 470.0,174.4 471.0,171.5 472.0,170.9 473.0,174.4 474.0,174.0 475.0,173.7 476.0,174.2 477.0,177.1 478.0,177.4 479.0,176.6 480.0,177.7 481.0,175.8 482.0,177.3 483.0,180.8 484.0,179.5 485.0,179.5 486.0,181.8 487.0,183.9 488.0,180.7 489.0,181.6 490.0,181.9 491.0,186.6 492.0,184.4 493.0,182.8 494.0,179.9 495.0,183.2 496.0,182.6 497.0,181.1 498.0,179.7 499.0,179.9 500.0,177.8 501.0,180.0 502.0,179.8 503.0,179.3 504.0,180.7 505.0,179.3 506.0,184.1 507.0,182.3 508.0,180.5 509.0,183.8 510.0,183.4 511.0,181.3 512.0,179.7 513.0,181.5 514.0,182.2 515.0,182.4 516.0,183.0 517.0,182.9 518.0,179.4 519.0,182.5 520.0,179.5 521.0,184.3 522.0,183.5 523.0,184.7 524.0,183.3 525.0,183.5 526.0,182.6 527.0,179.0 528.0,183.4 529.0,188.2 530.0,186.4 531.0,184.5 532.0,186.0 533.0,186.7 534.0,185.8 535.0,187.3 536.0,188.6 537.0,187.8 538.0,189.8 539.0,191.3 540.0,190.8 541.0,190.1 542.0,189.2 543.0,190.8 544.0,188.9 545.0,188.8 546.0,192.1 547.0,189.8 548.0,188.4 549.0,192.2 550.0,192.3 551.0,193.1 552.0,191.3 553.0,193.3 554.0,191.2 555.0,189.9 556.0,191.4 557.0,192.1 558.0,190.4 559.0,192.4 560.0,193.6 561.0,193.2 562.0,194.6 563.0,195.1 564.0,194.6 565.0,197.0 566.0,197.8 567.0,193.9 568.0,195.8 569.0,198.0 570.0,197.0 571.0,192.8 572.0,195.9 573.0,197.3 574.0,196.1 575.0,195.7 576.0,194.4 577.0,194.8 578.0,193.2 579.0,195.6 580.0,199.5 581.0,196.3 582.0,195.1 583.0,197.7 584.0,193.6 585.0,200.9 586.0,198.2 587.0,197.0 588.0,196.9 589.0,196.5 590.0,198.8 591.0,199.4 592.0,197.6 593.0,202.5 594.0,201.1 595.0,200.7 596.0,204.6 597.0,204.7 598.0,202.5 599.0,202.4 600.0,204.8 601.0,202.0 602.0,202.4 603.0,203.7 604.0,199.1 605.0,198.3 606.0,198.9 607.0,198.9 608.0,199.7 609.0,201.0 610.0,198.6 611.0,201.9 612.0,199.4 613.0,196.0 614.0,199.1 615.0,200.7 616.0,201.6 617.0,199.1 618.0,200.7 619.0,205.0 620.0,202.3 621.0,201.0 622.0,200.4 623.0,202.4 624.0,203.8 625.0,201.6 626.0,205.5 627.0,202.3 628.0,200.4 629.0,204.6 630.0,203.8 631.0,203.4 632.0,205.9 633.0,203.2 634.0,205.4 635.0,203.3 636.0,206.9 637.0,204.3 638.0,204.2 639.0,205.2 640.0,204.2 641.0,205.1 642.0,204.1 643.0,205.5 644.0,204.5 645.0,203.3 646.0,204.8 647.0,204.4 648.0,201.8 649.0,202.9 650.0,200.6 651.0,203.7 652.0,205.5 653.0,208.8 654.0,206.6 655.0,209.0 656.0,211.1 657.0,211.3 658.0,208.5 659.0,211.7 660.0,213.9 661.0,214.6 662.0,214.5 663.0,213.1 664.0,211.5 665.0,215.2 666.0,216.3 667.0,213.6 668.0,215.4 669.0,213.7 670.0,214.6 671.0,214.2 672.0,216.8 673.0,214.2 674.0,215.9 675.0,217.2 676.0,215.6 677.0,213.6 678.0,216.0 679.0,214.9 680.0,212.9 681.0,214.5 682.0,214.1 683.0,215.7 684.0,214.2 685.0,215.4 686.0,216.5 687.0,213.0 688.0,217.9 689.0,216.7 690.0,215.4 691.0,217.2 692.0,218.6 693.0,215.6 694.0,215.4 695.0,218.0 696.0,217.9 697.0,217.9 698.0,214.6 699.0,212.8 700.0,212.7 701.0,213.8 702.0,212.9 703.0,215.7 704.0,217.4 705.0,214.3 706.0,218.8 707.0,215.5 708.0,216.4 709.0,215.5 710.0,219.2 711.0,218.0 712.0,218.0 713.0,213.4 714.0,217.1 715.0,218.3 716.0,213.6 717.0,221.1 718.0,218.9 719.0,220.5 720.0,218.6 721.0,220.9 722.0,221.9 723.0,224.5 724.0,219.5 725.0,224.8 726.0,220.5 727.0,222.8 728.0,222.4 729.0,223.2 730.0,221.0 731.0,223.8 732.0,222.7 733.0,224.4 734.0,225.2 735.0,224.7 736.0,224.4 737.0,226.5 738.0,225.1 739.0,225.7 740.0,227.2 741.0,225.5 742.0,226.5 743.0,227.9 744.0,227.1 745.0,230.1 746.0,227.5 747.0,228.1 748.0,228.0 749.0,227.4 750.0,227.3 751.0,226.1 752.0,222.4 753.0,227.2 754.0,224.1 755.0,225.4 756.0,222.3 757.0,224.9 758.0,221.8 759.0,226.2 760.0,223.9 761.0,223.4 762.0,219.7 763.0,220.5 764.0,223.3 765.0,223.1 766.0,223.1 767.0,223.1 768.0,225.2 769.0,223.1 770.0,223.2 771.0,223.1 772.0,222.9 773.0,225.6 774.0,224.8 775.0,225.6 776.0,227.3 777.0,227.6 778.0,229.3 779.0,229.9 780.0,227.1 781.0,228.0 782.0,230.8 783.0,228.7 784.0,230.2 785.0,227.8 786.0,225.3 787.0,225.6 788.0,227.8 789.0,228.6 790.0,233.2 791.0,231.3 792.0,231.8 793.0,232.3 794.0,228.7 795.0,231.6 796.0,231.5 797.0,234.7 798.0,230.4 799.0,229.0 800.0,231.1 801.0,230.4 802.0,230.6 803.0,230.9 804.0,230.9 805.0,230.0 806.0,230.5 807.0,235.1 808.0,230.9 809.0,233.0 810.0,231.2 811.0,230.3 812.0,234.5 813.0,233.3 814.0,235.1 815.0,234.4 816.0,233.1 817.0,231.5 818.0,235.8 819.0,233.0 820.0,236.5 821.0,234.6 822.0,235.3 823.0,235.4 824.0,235.5 825.0,234.7 826.0,238.8 827.0,233.7 828.0,232.6 829.0,235.2 830.0,233.7 831.0,236.2 832.0,234.7 833.0,237.0 834.0,235.9 835.0,234.9 836.0,236.2 837.0,238.2 838.0,236.6 839.0,236.4 840.0,237.2 841.0,237.8 842.0,238.8 843.0,237.1 844.0,237.5 845.0,235.5 846.0,238.3 847.0,238.4 848.0,233.9 849.0,235.2 850.0,234.6 851.0,235.6 852.0,235.0 853.0,234.8 854.0,234.1 855.0,235.9 856.0,237.2 857.0,239.5 858.0,239.1 859.0,237.8 860.0,237.7 861.0,236.3 862.0,239.5 863.0,238.5 864.0,239.4 865.0,239.6 866.0,239.4 867.0,238.7 868.0,238.6 869.0,238.2 870.0,239.2 871.0,241.6 872.0,244.7 873.0,240.9 874.0,242.0 875.0,246.6 876.0,241.5 877.0,240.3 878.0,240.1 879.0,238.9 880.0,235.6 881.0,238.8 882.0,234.1 883.0,235.2 884.0,235.1 885.0,236.4 886.0,235.3 887.0,235.3 888.0,235.2 889.0,237.4 890.0,237.3 891.0,237.2 892.0,236.9 893.0,238.3 894.0,240.2 895.0,238.1 896.0,241.1 897.0,241.5 898.0,243.8 899.0,241.5 900.0,241.8 901.0,243.8 902.0,243.9 903.0,240.9 904.0,247.0 905.0,245.7 906.0,245.5 907.0,243.8 908.0,245.3 909.0,243.8 910.0,246.3 911.0,244.9 912.0,245.8 913.0,241.8 914.0,242.8 915.0,243.7 916.0,244.1 917.0,248.0 918.0,246.8 919.0,245.3 920.0,247.2 921.0,250.6 922.0,247.8 923.0,249.4 924.0,246.1 925.0,248.0 926.0,248.6 927.0,248.3 928.0,248.6 929.0,249.0 930.0,250.0 931.0,245.4 932.0,248.0 933.0,248.7 934.0,247.8 935.0,249.1 936.0,247.5 937.0,247.4 938.0,247.4 939.0,250.4 940.0,247.6 941.0,249.3 942.0,250.0 943.0,251.4 944.0,249.8 945.0,248.7 946.0,250.6 947.0,247.6 948.0,247.8 949.0,245.5 950.0,248.6 951.0,248.5 952.0,245.7 953.0,248.1 954.0,249.4 955.0,247.8 956.0,246.7 957.0,249.6 958.0,251.2 959.0,247.8 960.0,252.0 961.0,250.9 962.0,252.4 963.0,249.5 964.0,252.2 965.0,250.9 966.0,251.3 967.0,249.7 968.0,250.7 969.0,248.8 970.0,248.4 971.0,247.6 972.0,247.0 973.0,249.8 974.0,249.2 975.0,249.6 976.0,249.4 977.0,250.4 978.0,249.8 979.0,248.6 980.0,250.3 981.0,252.2 982.0,247.7 983.0,248.4 984.0,250.0 985.0,248.2 986.0,251.2 987.0,248.9 988.0,248.5 989.0,249.0 990.0,252.0 991.0,247.5 992.0,250.8 993.0,247.2 994.0,251.4 995.0,250.8 996.0,251.1 997.0,253.5 998.0,250.2 999.0,252.2 1000.0,251.4 1001.0,252.4 1002.0,249.8 1003.0,252.8 1004.0,250.9 1005.0,253.8 1006.0,253.2 1007.0,252.1 1008.0,253.2 1009.0,253.5 1010.0,253.3 1011.0,257.4 1012.0,252.3 1013.0,251.7" fill="none" stroke="#17a917" stroke-width="4.6" stroke-linejoin="round" stroke-linecap="round"/>
<path d="M178.0,114.1 179.0,112.8 180.0,111.3 181.0,107.5 182.0,111.8 183.0,110.2 184.0,113.5 185.0,109.7 186.0,107.4 187.0,102.7 188.0,105.4 189.0,105.7 190.0,107.6 191.0,103.4 192.0,103.9 193.0,102.9 194.0,105.0 195.0,103.4 196.0,100.4 197.0,96.2 198.0,103.7 199.0,99.4 200.0,96.8 201.0,94.7 202.0,93.5 203.0,98.3 204.0,97.2 205.0,98.4 206.0,101.0 207.0,96.7 208.0,99.5 209.0,98.6 210.0,98.8 211.0,96.8 212.0,101.6 213.0,107.5 214.0,105.2 215.0,108.6 216.0,109.5 217.0,115.2 218.0,115.2 219.0,110.9 220.0,112.0 221.0,116.3 222.0,114.7 223.0,114.6 224.0,117.6 225.0,116.6 226.0,115.6 227.0,122.5 228.0,116.8 229.0,113.3 230.0,117.5 231.0,117.6 232.0,121.2 233.0,118.2 234.0,116.0 235.0,118.0 236.0,114.2 237.0,115.8 238.0,117.0 239.0,114.0 240.0,111.3 241.0,113.6 242.0,114.4 243.0,118.4 244.0,117.0 245.0,118.9 246.0,117.8 247.0,121.2 248.0,120.3 249.0,123.2 250.0,122.6 251.0,125.1 252.0,123.1 253.0,120.6 254.0,119.2 255.0,121.3 256.0,122.4 257.0,124.4 258.0,120.7 259.0,119.8 260.0,119.2 261.0,121.5 262.0,123.5 263.0,123.7 264.0,123.8 265.0,124.6 266.0,125.4 267.0,121.2 268.0,125.3 269.0,125.5 270.0,126.5 271.0,127.0 272.0,125.3 273.0,131.4 274.0,130.4 275.0,131.7 276.0,133.2 277.0,132.8 278.0,133.6 279.0,133.4 280.0,130.2 281.0,129.3 282.0,133.0 283.0,129.8 284.0,136.0 285.0,129.3 286.0,132.1 287.0,131.8 288.0,132.7 289.0,130.1 290.0,132.5 291.0,135.4 292.0,129.9 293.0,125.9 294.0,131.0 295.0,129.9 296.0,129.7 297.0,126.4 298.0,128.8 299.0,129.7 300.0,126.9 301.0,128.1 302.0,129.4 303.0,130.0 304.0,128.5 305.0,129.7 306.0,133.8 307.0,134.1 308.0,128.6 309.0,135.2 310.0,130.9 311.0,134.3 312.0,130.1 313.0,132.6 314.0,131.9 315.0,134.8 316.0,134.0 317.0,135.2 318.0,135.6 319.0,136.3 320.0,138.6 321.0,138.2 322.0,139.1 323.0,139.0 324.0,139.4 325.0,140.6 326.0,142.6 327.0,143.5 328.0,140.9 329.0,144.3 330.0,142.2 331.0,139.5 332.0,139.8 333.0,139.0 334.0,135.8 335.0,141.1 336.0,140.4 337.0,137.5 338.0,142.7 339.0,140.6 340.0,141.9 341.0,139.4 342.0,143.0 343.0,144.2 344.0,143.2 345.0,144.5 346.0,141.4 347.0,146.2 348.0,145.5 349.0,145.9 350.0,147.5 351.0,148.2 352.0,146.1 353.0,147.7 354.0,148.8 355.0,143.0 356.0,144.6 357.0,140.9 358.0,144.1 359.0,145.6 360.0,142.6 361.0,140.8 362.0,142.3 363.0,144.6 364.0,142.0 365.0,142.8 366.0,146.8 367.0,144.2 368.0,147.2 369.0,145.4 370.0,144.6 371.0,149.0 372.0,149.7 373.0,146.5 374.0,152.4 375.0,149.3 376.0,150.4 377.0,150.6 378.0,149.3 379.0,153.6 380.0,153.0 381.0,154.1 382.0,154.1 383.0,153.5 384.0,158.3 385.0,155.3 386.0,154.5 387.0,156.0 388.0,152.7 389.0,155.2 390.0,159.2 391.0,153.5 392.0,155.4 393.0,152.8 394.0,155.1 395.0,157.3 396.0,154.3 397.0,154.8 398.0,158.8 399.0,157.8 400.0,158.5 401.0,158.5 402.0,155.2 403.0,154.3 404.0,154.1 405.0,157.9 406.0,154.9 407.0,154.5 408.0,157.3 409.0,158.8 410.0,160.5 411.0,158.2 412.0,164.5 413.0,161.5 414.0,164.0 415.0,163.9 416.0,162.3 417.0,164.4 418.0,163.7 419.0,164.2 420.0,164.8 421.0,164.4 422.0,161.9 423.0,160.8 424.0,158.7 425.0,156.4 426.0,159.7 427.0,158.3 428.0,159.2 429.0,159.3 430.0,161.3 431.0,160.6 432.0,165.9 433.0,164.3 434.0,162.8 435.0,165.0 436.0,167.5 437.0,163.9 438.0,166.7 439.0,166.2 440.0,167.8 441.0,167.3 442.0,168.9 443.0,169.6 444.0,169.9 445.0,166.4 446.0,169.9 447.0,168.4 448.0,166.8 449.0,167.0 450.0,168.9 451.0,165.4 452.0,163.6 453.0,165.7 454.0,164.0 455.0,165.5 456.0,164.9 457.0,167.1 458.0,164.8 459.0,166.1 460.0,169.5 461.0,171.6 462.0,169.9 463.0,172.1 464.0,171.4 465.0,170.8 466.0,168.2 467.0,174.1 468.0,172.1 469.0,166.0 470.0,170.7 471.0,168.2 472.0,167.6 473.0,168.5 474.0,171.0 475.0,170.2 476.0,170.6 477.0,171.5 478.0,171.9 479.0,174.2 480.0,170.6 481.0,172.3 482.0,174.5 483.0,173.0 484.0,175.3 485.0,174.4 486.0,175.4 487.0,174.3 488.0,175.3 489.0,174.2 490.0,175.2 491.0,173.5 492.0,171.1 493.0,174.0 494.0,174.2 495.0,173.5 496.0,176.1 497.0,175.4 498.0,177.0 499.0,174.3 500.0,174.2 501.0,176.2 502.0,178.1 503.0,174.7 504.0,177.0 505.0,176.3 506.0,176.2 507.0,178.3 508.0,178.1 509.0,177.7 510.0,175.5 511.0,176.3 512.0,173.3 513.0,176.9 514.0,174.0 515.0,175.9 516.0,177.8 517.0,176.6 518.0,177.5 519.0,176.9 520.0,182.9 521.0,177.2 522.0,178.7 523.0,179.8 524.0,184.7 525.0,179.8 526.0,181.1 527.0,182.4 528.0,177.7 529.0,183.0 530.0,182.2 531.0,184.4 532.0,184.7 533.0,183.3 534.0,184.5 535.0,182.0 536.0,181.4 537.0,183.2 538.0,184.0 539.0,183.4 540.0,184.7 541.0,185.5 542.0,187.9 543.0,185.6 544.0,185.8 545.0,188.2 546.0,188.6 547.0,190.1 548.0,192.4 549.0,188.9 550.0,192.1 551.0,193.4 552.0,193.3 553.0,189.0 554.0,191.0 555.0,193.9 556.0,191.9 557.0,193.0 558.0,192.1 559.0,194.4 560.0,192.8 561.0,192.2 562.0,193.0 563.0,195.3 564.0,194.1 565.0,191.4 566.0,191.5 567.0,196.6 568.0,193.6 569.0,197.3 570.0,196.6 571.0,198.5 572.0,197.1 573.0,194.1 574.0,199.7 575.0,196.8 576.0,195.7 577.0,197.5 578.0,195.1 579.0,194.9 580.0,192.1 581.0,192.2 582.0,192.2 583.0,190.2 584.0,192.8 585.0,192.1 586.0,191.1 587.0,191.2 588.0,193.7 589.0,192.4 590.0,193.7 591.0,193.6 592.0,193.0 593.0,188.3 594.0,194.1 595.0,194.7 596.0,192.3 597.0,191.9 598.0,194.2 599.0,191.0 600.0,195.0 601.0,194.1 602.0,195.8 603.0,193.9 604.0,194.6 605.0,195.6 606.0,193.6 607.0,195.6 608.0,199.7 609.0,197.4 610.0,197.9 611.0,200.6 612.0,203.0 613.0,201.2 614.0,201.2 615.0,201.8 616.0,202.3 617.0,198.9 618.0,201.7 619.0,201.3 620.0,202.1 621.0,201.9 622.0,201.0 623.0,203.2 624.0,200.1 625.0,200.4 626.0,203.9 627.0,202.1 628.0,201.7 629.0,202.3 630.0,203.7 631.0,201.8 632.0,205.5 633.0,204.4 634.0,205.4 635.0,201.1 636.0,201.7 637.0,200.5 638.0,201.8 639.0,201.3 640.0,201.8 641.0,202.0 642.0,199.3 643.0,201.8 644.0,201.9 645.0,202.2 646.0,203.2 647.0,199.5 648.0,201.6 649.0,202.1 650.0,201.0 651.0,200.2 652.0,203.2 653.0,202.8 654.0,203.9 655.0,199.6 656.0,197.1 657.0,201.6 658.0,200.1 659.0,198.9 660.0,201.7 661.0,200.9 662.0,198.6 663.0,202.1 664.0,199.9 665.0,204.0 666.0,202.4 667.0,203.0 668.0,207.4 669.0,208.7 670.0,207.8 671.0,207.3 672.0,210.6 673.0,210.5 674.0,211.0 675.0,210.1 676.0,208.8 677.0,210.5 678.0,213.9 679.0,211.1 680.0,212.4 681.0,212.6 682.0,214.3 683.0,213.3 684.0,212.4 685.0,216.2 686.0,213.6 687.0,213.9 688.0,212.6 689.0,211.9 690.0,216.0 691.0,215.6 692.0,217.6 693.0,214.4 694.0,221.1 695.0,218.6 696.0,219.5 697.0,216.0 698.0,217.1 699.0,216.3 700.0,216.7 701.0,215.2 702.0,210.1 703.0,213.3 704.0,213.0 705.0,212.4 706.0,213.3 707.0,214.0 708.0,214.8 709.0,211.6 710.0,212.1 711.0,213.5 712.0,214.3 713.0,211.5 714.0,212.6 715.0,210.3 716.0,211.9 717.0,211.0 718.0,211.6 719.0,212.4 720.0,208.4 721.0,209.9 722.0,206.7 723.0,210.0 724.0,212.9 725.0,208.7 726.0,211.6 727.0,209.0 728.0,216.3 729.0,220.7 730.0,217.3 731.0,220.6 732.0,223.1 733.0,220.4 734.0,222.4 735.0,220.9 736.0,221.3 737.0,222.1 738.0,223.4 739.0,222.3 740.0,222.1 741.0,222.2 742.0,224.4 743.0,223.7 744.0,223.7 745.0,220.1 746.0,222.7 747.0,221.2 748.0,225.3 749.0,223.5 750.0,224.7 751.0,221.1 752.0,220.2 753.0,221.2 754.0,223.7 755.0,222.1 756.0,224.5 757.0,225.6 758.0,223.3 759.0,225.6 760.0,220.9 761.0,222.4 762.0,223.6 763.0,224.0 764.0,222.1 765.0,223.4 766.0,225.3 767.0,224.6 768.0,223.5 769.0,220.8 770.0,223.9 771.0,222.2 772.0,219.1 773.0,222.1 774.0,219.9 775.0,221.1 776.0,220.7 777.0,221.1 778.0,222.7 779.0,224.3 780.0,221.3 781.0,221.2 782.0,221.1 783.0,221.9 784.0,222.3 785.0,219.6 786.0,222.2 787.0,225.9 788.0,223.6 789.0,224.2 790.0,222.6 791.0,226.4 792.0,224.2 793.0,223.1 794.0,222.6 795.0,224.9 796.0,227.3 797.0,223.8 798.0,223.8 799.0,222.5 800.0,227.8 801.0,225.8 802.0,227.0 803.0,227.1 804.0,228.1 805.0,231.4 806.0,229.5 807.0,231.4 808.0,230.1 809.0,230.9 810.0,232.3 811.0,231.9 812.0,228.9 813.0,230.4 814.0,228.6 815.0,230.8 816.0,228.6 817.0,228.0 818.0,230.7 819.0,228.7 820.0,230.1 821.0,231.3 822.0,229.7 823.0,230.2 824.0,231.6 825.0,234.3 826.0,231.6 827.0,231.7 828.0,230.4 829.0,230.0 830.0,232.5 831.0,229.2 832.0,229.6 833.0,233.4 834.0,230.8 835.0,230.9 836.0,234.4 837.0,236.0 838.0,237.7 839.0,238.6 840.0,231.8 841.0,234.7 842.0,234.0 843.0,234.4 844.0,232.2 845.0,233.1 846.0,233.1 847.0,232.7 848.0,231.4 849.0,233.5 850.0,232.4 851.0,232.8 852.0,234.2 853.0,236.2 854.0,232.2 855.0,235.4 856.0,237.7 857.0,235.6 858.0,234.4 859.0,235.3 860.0,237.2 861.0,234.2 862.0,233.4 863.0,235.7 864.0,234.1 865.0,233.5 866.0,236.2 867.0,233.9 868.0,235.0 869.0,238.0 870.0,236.4 871.0,238.2 872.0,233.6 873.0,234.2 874.0,235.4 875.0,236.5 876.0,233.6 877.0,236.8 878.0,235.6 879.0,235.6 880.0,236.5 881.0,236.0 882.0,234.6 883.0,236.1 884.0,234.8 885.0,239.0 886.0,236.2 887.0,236.5 888.0,236.2 889.0,237.2 890.0,237.2 891.0,236.5 892.0,234.7 893.0,237.9 894.0,235.8 895.0,232.7 896.0,232.2 897.0,234.3 898.0,234.8 899.0,234.6 900.0,236.6 901.0,239.5 902.0,241.7 903.0,240.9 904.0,241.9 905.0,243.3 906.0,245.2 907.0,243.5 908.0,242.2 909.0,240.4 910.0,238.4 911.0,240.2 912.0,240.8 913.0,238.9 914.0,237.0 915.0,238.6 916.0,237.7 917.0,237.0 918.0,235.0 919.0,239.3 920.0,237.5 921.0,240.6 922.0,238.1 923.0,239.4 924.0,238.7 925.0,242.5 926.0,242.3 927.0,240.5 928.0,243.1 929.0,239.5 930.0,242.8 931.0,241.3 932.0,242.1 933.0,241.5 934.0,242.9 935.0,239.1 936.0,240.7 937.0,243.1 938.0,236.9 939.0,239.8 940.0,238.0 941.0,235.9 942.0,241.0 943.0,240.1 944.0,243.4 945.0,239.2 946.0,243.0 947.0,245.5 948.0,240.7 949.0,244.5 950.0,244.7 951.0,243.9 952.0,245.8 953.0,244.7 954.0,242.7 955.0,242.8 956.0,244.3 957.0,247.6 958.0,245.7 959.0,248.2 960.0,247.2 961.0,249.2 962.0,249.9 963.0,251.7 964.0,253.0 965.0,249.7 966.0,248.9 967.0,250.4 968.0,250.1 969.0,250.0 970.0,250.5 971.0,247.7 972.0,247.4 973.0,246.5 974.0,247.4 975.0,244.4 976.0,246.4 977.0,247.4 978.0,244.1 979.0,246.7 980.0,245.6 981.0,245.1 982.0,248.8 983.0,248.1 984.0,246.2 985.0,247.9 986.0,246.2 987.0,245.2 988.0,248.8 989.0,247.0 990.0,249.4 991.0,246.9 992.0,246.9 993.0,246.0 994.0,246.4 995.0,245.1 996.0,246.1 997.0,244.1 998.0,244.3 999.0,245.4 1000.0,247.1 1001.0,248.4 1002.0,248.7 1003.0,250.9 1004.0,253.3 1005.0,246.2 1006.0,252.2 1007.0,251.5 1008.0,249.4 1009.0,250.8 1010.0,247.9 1011.0,250.8 1012.0,254.0 1013.0,250.4" fill="none" stroke="#17a917" stroke-width="4.6" stroke-linejoin="round" stroke-linecap="round"/>
<line x1="379.8" y1="140.7" x2="465.9" y2="121.7" stroke="#000" stroke-width="2.0" />
<text transform="translate(471.8,126.4) scale(0.9615,1)" font-size="28.70" text-anchor="start" font-weight="normal"  style="">mSG</text>
<line x1="468.8" y1="200.6" x2="563.8" y2="144.2" stroke="#000" stroke-width="2.0" />
<text transform="translate(569.7,148.4) scale(0.9615,1)" font-size="28.70" text-anchor="start" font-weight="normal"  style="">mSG2</text>
<line x1="729.0" y1="216.8" x2="784.0" y2="175.5" stroke="#000" stroke-width="2.0" />
<text transform="translate(787.9,178.1) scale(0.9615,1)" font-size="28.70" text-anchor="start" font-weight="normal"  style="">SG</text>
<line x1="736.9" y1="225.6" x2="852.0" y2="202.7" stroke="#000" stroke-width="2.0" />
<text transform="translate(856.5,207.1) scale(0.9615,1)" font-size="28.70" text-anchor="start" font-weight="normal"  style="">td8ox2SG</text>
<line x1="197.0" y1="186.0" x2="232.3" y2="217.2" stroke="#000" stroke-width="2.0" />
<text transform="translate(236.8,223.9) scale(0.9615,1)" font-size="28.70" text-anchor="start" font-weight="normal"  style="">mNeonGreen</text>
<line x1="226.6" y1="272.1" x2="270.9" y2="256.3" stroke="#000" stroke-width="2.0" />
<text transform="translate(276.3,261.4) scale(0.9615,1)" font-size="28.70" text-anchor="start" font-weight="normal"  style="">mEGFP</text>
<line x1="198.1" y1="308.5" x2="327.7" y2="295.8" stroke="#000" stroke-width="2.0" />
<text transform="translate(336.8,299.4) scale(0.9615,1)" font-size="28.70" text-anchor="start" font-weight="normal"  style="">mClover3</text>
<line x1="187.2" y1="330.2" x2="416.6" y2="331.1" stroke="#000" stroke-width="2.0" />
<text transform="translate(421.1,336.6) scale(0.9615,1)" font-size="28.70" text-anchor="start" font-weight="normal"  style="">mGreenLantern</text>
<line x1="1320.0" y1="45.3" x2="1320.0" y2="371.6" stroke="#000" stroke-width="2.7" />
<line x1="1318.7" y1="370.3" x2="2157.0" y2="370.3" stroke="#000" stroke-width="2.7" />
<path d="M1321.9,131.5 1321.9,133.6 1321.9,134.8 1321.9,136.1 1321.9,137.5 1321.9,139.0 1321.9,140.5 1321.9,142.0 1321.9,143.5 1321.9,145.0 1321.9,146.5 1322.0,148.0 1322.0,149.5 1322.0,151.0 1322.0,152.5 1322.0,154.0 1322.0,155.5 1322.0,157.0 1322.0,158.5 1322.1,160.0 1322.1,161.5 1322.1,163.0 1322.1,164.5 1322.1,166.0 1322.1,167.5 1322.2,169.0 1322.2,170.5 1322.2,172.0 1322.2,173.5 1322.2,175.0 1322.3,176.5 1322.3,178.0 1322.3,179.5 1322.3,181.0 1322.4,182.5 1322.4,184.0 1322.4,185.5 1322.4,187.0 1322.5,188.5 1322.5,190.0 1322.5,191.5 1322.5,193.0 1322.6,194.5 1322.6,196.0 1322.6,197.5 1322.7,199.0 1322.7,200.5 1322.7,202.0 1322.8,203.5 1322.8,205.0 1322.8,206.5 1322.8,208.0 1322.9,209.5 1322.9,211.0 1322.9,212.5 1323.0,214.0 1323.0,215.5 1323.1,217.0 1323.1,218.5 1323.1,220.0 1323.2,221.5 1323.2,223.0 1323.3,224.5 1323.3,226.0 1323.4,227.5 1323.4,229.0 1323.5,230.5 1323.5,232.0 1323.6,233.5 1323.7,235.0 1323.7,236.5 1323.8,238.0 1323.9,239.5 1324.0,241.0 1324.0,242.5 1324.1,244.0 1324.2,245.5 1324.3,247.0 1324.4,248.5 1324.5,250.0 1324.6,251.5 1324.7,252.9 1324.8,254.4 1324.9,255.9 1325.0,257.4 1325.1,258.9 1325.2,260.4 1325.3,261.9 1325.4,263.4 1325.5,264.9 1325.6,266.4 1325.8,267.9 1325.9,269.4 1326.0,270.9 1326.1,272.4 1326.2,273.9 1326.4,275.4 1326.5,276.9 1326.6,278.4 1326.8,279.9 1326.9,281.4 1327.1,282.9 1327.2,284.4 1327.4,285.9 1327.5,287.4 1327.7,288.9 1327.9,290.4 1328.0,291.9 1328.2,293.3 1328.4,294.8 1328.6,296.3 1328.8,297.8 1329.0,299.3 1329.3,300.8 1329.5,302.3 1329.8,303.8 1330.0,305.2 1330.3,306.7 1330.6,308.1 1330.8,309.6 1331.2,311.1 1331.5,312.5 1331.8,314.0 1332.2,315.4 1332.7,316.9 1333.1,318.3 1333.6,319.7 1334.1,321.2 1334.7,322.6 1335.3,324.0 1335.9,325.3 1336.5,326.7 1337.2,328.0 1337.8,329.4 1338.6,330.6 1339.3,331.9 1340.1,333.2 1341.0,334.4 1341.9,335.6 1342.9,336.8 1343.9,338.0 1344.9,339.1 1345.9,340.1 1347.0,341.2 1348.1,342.2 1349.2,343.1 1350.4,344.1 1351.6,345.0 1352.8,345.9 1354.1,346.7 1355.3,347.5 1356.6,348.3 1358.0,349.0 1359.3,349.8 1360.6,350.4 1361.9,351.1 1363.3,351.7 1364.6,352.3 1366.0,352.9 1367.4,353.5 1368.8,354.1 1370.2,354.6 1371.6,355.1 1373.1,355.6 1374.5,356.1 1375.9,356.6 1377.4,357.0 1378.8,357.5 1380.3,357.9 1381.7,358.3 1383.2,358.6 1384.6,359.0 1386.1,359.3 1387.5,359.6 1389.0,359.9 1390.4,360.3 1391.9,360.6 1393.4,360.8 1394.8,361.1 1396.3,361.4 1397.8,361.7 1399.3,361.9 1400.8,362.2 1402.3,362.4 1403.7,362.7 1405.2,362.9 1406.7,363.1 1408.2,363.3 1409.7,363.5 1411.2,363.7 1412.7,363.9 1414.2,364.1 1415.7,364.3 1417.2,364.4 1418.7,364.6 1420.1,364.7 1421.6,364.8 1423.1,365.0 1424.6,365.1 1426.1,365.2 1427.6,365.4 1429.1,365.5 1430.6,365.6 1432.1,365.7 1433.6,365.8 1435.1,366.0 1436.6,366.1 1438.1,366.2 1439.6,366.3 1441.1,366.4 1442.6,366.5 1444.0,366.6 1445.5,366.7 1447.0,366.8 1448.5,366.9 1450.0,367.0 1451.5,367.0 1453.0,367.1 1454.5,367.2 1456.0,367.3 1457.5,367.4 1459.0,367.4 1460.5,367.5 1462.0,367.6 1463.5,367.6 1465.0,367.7 1466.5,367.8 1468.0,367.8 1469.5,367.9 1471.0,367.9 1472.5,368.0 1474.0,368.0 1475.5,368.1 1477.0,368.1 1478.5,368.2 1480.0,368.2 1481.5,368.2 1483.0,368.3 1484.5,368.3 1486.0,368.3 1487.5,368.4 1489.0,368.4 1490.5,368.5 1492.0,368.5 1493.5,368.5 1495.0,368.6 1496.5,368.6 1498.0,368.6 1499.5,368.7 1501.0,368.7 1502.5,368.7 1504.0,368.8 1505.5,368.8 1507.0,368.8 1508.5,368.9 1510.0,368.9 1511.5,368.9 1513.0,369.0 1514.5,369.0 1516.0,369.0 1517.5,369.1 1519.0,369.1 1520.5,369.1 1522.0,369.2 1523.5,369.2 1525.0,369.2 1526.5,369.3 1528.0,369.3 1529.5,369.3 1531.0,369.3 1532.5,369.4 1534.0,369.4 1535.5,369.4 1537.0,369.4 1538.5,369.5 1540.0,369.5 1541.5,369.5 1543.0,369.5 1544.5,369.6 1546.0,369.6 1547.5,369.6 1549.0,369.6 1550.5,369.6 1552.0,369.7 1553.5,369.7 1555.0,369.7 1556.5,369.7 1558.0,369.7 1559.5,369.8 1561.0,369.8 1562.5,369.8 1564.0,369.8 1565.5,369.8 1567.0,369.8 1568.5,369.8 1570.0,369.9 1571.5,369.9 1573.0,369.9 1574.5,369.9 1576.0,369.9 1577.5,369.9 1579.0,369.9 1580.5,369.9 1582.0,369.9 1583.5,370.0 1585.0,370.0 1586.5,370.0 1588.0,370.0 1589.5,370.0 1591.0,370.0 1592.5,370.0 1594.0,370.0 1595.4,370.0 1596.7,370.0 1597.9,370.0 1600.0,370.0" fill="none" stroke="#000000" stroke-width="4" stroke-linejoin="round" stroke-linecap="round"/>
<path d="M1320.8,136.2 1320.8,138.3 1320.8,139.4 1320.8,140.8 1320.8,142.2 1320.8,143.7 1320.8,145.2 1320.8,146.7 1320.8,148.2 1320.8,149.7 1320.8,151.2 1320.8,152.7 1320.8,154.2 1320.9,155.7 1320.9,157.2 1320.9,158.7 1320.9,160.2 1320.9,161.7 1320.9,163.2 1320.9,164.7 1320.9,166.2 1320.9,167.7 1320.9,169.2 1321.0,170.7 1321.0,172.2 1321.0,173.7 1321.0,175.2 1321.0,176.7 1321.0,178.2 1321.0,179.7 1321.0,181.2 1321.1,182.7 1321.1,184.2 1321.1,185.7 1321.1,187.2 1321.1,188.7 1321.1,190.2 1321.2,191.7 1321.2,193.2 1321.2,194.7 1321.2,196.2 1321.2,197.7 1321.2,199.2 1321.3,200.7 1321.3,202.2 1321.3,203.7 1321.3,205.2 1321.3,206.7 1321.4,208.2 1321.4,209.7 1321.4,211.2 1321.4,212.7 1321.4,214.2 1321.5,215.7 1321.5,217.2 1321.5,218.7 1321.5,220.2 1321.5,221.7 1321.6,223.2 1321.6,224.7 1321.6,226.2 1321.6,227.7 1321.7,229.2 1321.7,230.7 1321.7,232.2 1321.8,233.7 1321.8,235.2 1321.8,236.6 1321.9,238.1 1321.9,239.6 1321.9,241.1 1322.0,242.6 1322.0,244.1 1322.1,245.6 1322.1,247.1 1322.1,248.6 1322.2,250.1 1322.2,251.6 1322.3,253.1 1322.3,254.6 1322.4,256.1 1322.4,257.6 1322.5,259.1 1322.5,260.6 1322.6,262.1 1322.6,263.6 1322.7,265.1 1322.7,266.6 1322.8,268.1 1322.8,269.6 1322.9,271.1 1322.9,272.6 1323.0,274.1 1323.1,275.6 1323.1,277.1 1323.2,278.6 1323.2,280.1 1323.3,281.6 1323.3,283.1 1323.4,284.6 1323.5,286.1 1323.5,287.6 1323.6,289.1 1323.7,290.6 1323.7,292.1 1323.8,293.6 1323.9,295.1 1324.0,296.6 1324.1,298.1 1324.2,299.6 1324.3,301.1 1324.4,302.6 1324.5,304.1 1324.6,305.6 1324.7,307.1 1324.9,308.6 1325.0,310.0 1325.2,311.5 1325.4,313.0 1325.6,314.5 1325.8,316.0 1326.1,317.5 1326.4,319.0 1326.6,320.5 1326.9,321.9 1327.3,323.4 1327.6,324.8 1328.0,326.3 1328.5,327.7 1329.0,329.1 1329.6,330.5 1330.2,331.9 1330.9,333.2 1331.7,334.5 1332.5,335.7 1333.4,336.9 1334.3,338.1 1335.4,339.1 1336.5,340.1 1337.7,341.0 1338.9,341.8 1340.2,342.6 1341.5,343.2 1342.9,343.8 1344.3,344.4 1345.7,344.9 1347.1,345.4 1348.6,345.8 1350.0,346.3 1351.4,346.7 1352.9,347.2 1354.3,347.6 1355.8,348.0 1357.2,348.4 1358.7,348.8 1360.1,349.2 1361.6,349.5 1363.0,349.9 1364.5,350.2 1366.0,350.5 1367.4,350.9 1368.9,351.2 1370.4,351.4 1371.8,351.7 1373.3,352.0 1374.8,352.3 1376.3,352.5 1377.7,352.8 1379.2,353.0 1380.7,353.2 1382.2,353.5 1383.7,353.7 1385.1,353.9 1386.6,354.1 1388.1,354.3 1389.6,354.5 1391.1,354.7 1392.6,354.9 1394.1,355.1 1395.6,355.3 1397.1,355.5 1398.5,355.7 1400.0,355.8 1401.5,356.0 1403.0,356.2 1404.5,356.3 1406.0,356.5 1407.5,356.6 1409.0,356.8 1410.5,356.9 1412.0,357.0 1413.5,357.2 1415.0,357.3 1416.4,357.4 1417.9,357.5 1419.4,357.7 1420.9,357.8 1422.4,357.9 1423.9,358.0 1425.4,358.1 1426.9,358.3 1428.4,358.4 1429.9,358.5 1431.4,358.6 1432.9,358.7 1434.4,358.8 1435.9,358.9 1437.4,359.0 1438.9,359.1 1440.4,359.2 1441.9,359.3 1443.4,359.4 1444.9,359.5 1446.4,359.6 1447.9,359.7 1449.4,359.7 1450.9,359.8 1452.4,359.9 1453.8,360.0 1455.3,360.1 1456.8,360.2 1458.3,360.3 1459.8,360.4 1461.3,360.5 1462.8,360.6 1464.3,360.6 1465.8,360.7 1467.3,360.8 1468.8,360.9 1470.3,361.0 1471.8,361.1 1473.3,361.2 1474.8,361.3 1476.3,361.3 1477.8,361.4 1479.3,361.5 1480.8,361.6 1482.3,361.7 1483.8,361.8 1485.3,361.8 1486.8,361.9 1488.3,362.0 1489.8,362.1 1491.3,362.1 1492.8,362.2 1494.3,362.3 1495.8,362.4 1497.3,362.4 1498.8,362.5 1500.3,362.6 1501.8,362.7 1503.3,362.7 1504.8,362.8 1506.3,362.9 1507.8,362.9 1509.2,363.0 1510.7,363.0 1512.2,363.1 1513.7,363.2 1515.2,363.2 1516.7,363.3 1518.2,363.3 1519.7,363.4 1521.2,363.4 1522.7,363.5 1524.2,363.5 1525.7,363.6 1527.2,363.6 1528.7,363.7 1530.2,363.7 1531.7,363.8 1533.2,363.8 1534.7,363.9 1536.2,363.9 1537.7,364.0 1539.2,364.0 1540.7,364.1 1542.2,364.1 1543.7,364.1 1545.2,364.2 1546.7,364.2 1548.2,364.3 1549.7,364.3 1551.2,364.3 1552.7,364.4 1554.2,364.4 1555.7,364.5 1557.2,364.5 1558.7,364.5 1560.2,364.6 1561.7,364.6 1563.2,364.7 1564.7,364.7 1566.2,364.7 1567.7,364.8 1569.2,364.8 1570.7,364.8 1572.2,364.9 1573.7,364.9 1575.2,364.9 1576.7,365.0 1578.2,365.0 1579.7,365.0 1581.2,365.1 1582.7,365.1 1584.2,365.1 1585.7,365.2 1587.2,365.2 1588.7,365.2 1590.2,365.3 1591.7,365.3 1593.2,365.3 1594.7,365.4 1596.2,365.4 1597.7,365.4 1599.2,365.5 1600.7,365.5 1602.2,365.5 1603.7,365.6 1605.2,365.6 1606.7,365.6 1608.2,365.6 1609.7,365.7 1611.2,365.7 1612.7,365.7 1614.2,365.8 1615.7,365.8 1617.2,365.8 1618.7,365.9 1620.2,365.9 1621.7,366.0 1623.2,366.0 1624.7,366.0 1626.2,366.1 1627.7,366.1 1629.2,366.1 1630.7,366.2 1632.1,366.2 1633.6,366.2 1635.1,366.3 1636.6,366.3 1638.1,366.3 1639.6,366.4 1641.1,366.4 1642.6,366.4 1644.1,366.5 1645.6,366.5 1647.1,366.5 1648.6,366.6 1650.1,366.6 1651.6,366.6 1653.1,366.7 1654.6,366.7 1656.1,366.8 1657.6,366.8 1659.1,366.8 1660.6,366.9 1662.1,366.9 1663.6,366.9 1665.1,367.0 1666.6,367.0 1668.1,367.0 1669.6,367.1 1671.1,367.1 1672.6,367.1 1674.1,367.2 1675.6,367.2 1677.1,367.2 1678.6,367.3 1680.1,367.3 1681.6,367.3 1683.1,367.3 1684.6,367.4 1686.1,367.4 1687.6,367.4 1689.1,367.5 1690.6,367.5 1692.1,367.5 1693.6,367.6 1695.1,367.6 1696.6,367.6 1698.1,367.6 1699.6,367.7 1701.1,367.7 1702.6,367.7 1704.1,367.7 1705.6,367.8 1707.1,367.8 1708.6,367.8 1710.1,367.8 1711.6,367.9 1713.1,367.9 1714.6,367.9 1716.1,367.9 1717.6,367.9 1719.1,368.0 1720.6,368.0 1722.1,368.0 1723.6,368.0 1725.1,368.0 1726.6,368.1 1728.1,368.1 1729.6,368.1 1731.1,368.1 1732.6,368.1 1734.1,368.1 1735.6,368.2 1737.1,368.2 1738.6,368.2 1740.1,368.2 1741.6,368.2 1743.1,368.2 1744.6,368.2 1746.1,368.3 1747.6,368.3 1749.1,368.3 1750.6,368.3 1752.1,368.3 1753.6,368.3 1755.1,368.3 1756.6,368.4 1758.1,368.4 1759.6,368.4 1761.1,368.4 1762.6,368.4 1764.1,368.4 1765.6,368.4 1767.1,368.5 1768.6,368.5 1770.1,368.5 1771.6,368.5 1773.1,368.5 1774.6,368.5 1776.1,368.5 1777.6,368.6 1779.1,368.6 1780.6,368.6 1782.1,368.6 1783.6,368.6 1785.1,368.6 1786.6,368.6 1788.1,368.6 1789.6,368.7 1791.1,368.7 1792.6,368.7 1794.1,368.7 1795.6,368.7 1797.1,368.7 1798.6,368.7 1800.1,368.7 1801.5,368.8 1803.0,368.8 1804.5,368.8 1806.0,368.8 1807.5,368.8 1809.0,368.8 1810.5,368.8 1812.0,368.8 1813.5,368.9 1815.0,368.9 1816.5,368.9 1818.0,368.9 1819.5,368.9 1821.0,368.9 1822.5,368.9 1824.0,368.9 1825.5,368.9 1827.0,369.0 1828.5,369.0 1830.0,369.0 1831.5,369.0 1833.0,369.0 1834.5,369.0 1836.0,369.0 1837.5,369.0 1839.0,369.0 1840.5,369.0 1842.0,369.1 1843.5,369.1 1845.0,369.1 1846.5,369.1 1848.0,369.1 1849.5,369.1 1851.0,369.1 1852.5,369.1 1854.0,369.1 1855.5,369.1 1857.0,369.1 1858.5,369.1 1860.0,369.1 1861.5,369.2 1863.0,369.2 1864.5,369.2 1866.0,369.2 1867.5,369.2 1869.0,369.2 1870.5,369.2 1872.0,369.2 1873.5,369.2 1875.0,369.2 1876.5,369.2 1878.0,369.2 1879.5,369.2 1881.0,369.2 1882.5,369.2 1884.0,369.2 1885.5,369.2 1887.0,369.3 1888.5,369.3 1890.0,369.3 1891.5,369.3 1893.0,369.3 1894.5,369.3 1896.0,369.3 1897.5,369.3 1899.0,369.3 1900.5,369.3 1902.0,369.3 1903.5,369.3 1905.0,369.3 1906.5,369.3 1908.0,369.3 1909.5,369.3 1911.0,369.3 1912.5,369.3 1913.9,369.3 1915.3,369.3 1916.5,369.3 1917.5,369.3" fill="none" stroke="#e51ee5" stroke-width="4" stroke-linejoin="round" stroke-linecap="round"/>
<path d="M1321.9,150.7 1322.7,152.1 1323.1,152.9 1323.7,153.7 1324.3,156.0 1324.9,157.5 1325.5,158.5 1326.0,160.1 1326.6,161.4 1327.2,162.5 1327.8,163.8 1328.4,165.3 1328.9,167.1 1329.5,167.8 1330.1,168.8 1330.7,170.8 1331.2,172.2 1331.8,173.5 1332.4,175.0 1332.9,175.9 1333.5,177.4 1334.0,179.0 1334.6,180.5 1335.1,182.1 1335.7,183.6 1336.2,184.8 1336.8,186.0 1337.3,187.1 1337.8,188.7 1338.4,189.7 1338.9,191.4 1339.4,193.3 1339.9,194.7 1340.4,195.5 1340.9,197.8 1341.4,197.9 1341.9,200.4 1342.4,201.6 1342.9,202.9 1343.4,204.6 1343.9,205.7 1344.3,208.1 1344.8,208.5 1345.3,210.0 1345.8,211.6 1346.3,212.2 1346.8,214.3 1347.4,215.2 1347.9,217.6 1348.4,218.3 1349.0,219.9 1349.5,220.6 1350.1,223.4 1350.6,223.4 1351.2,224.9 1351.8,226.6 1352.4,227.4 1353.0,229.1 1353.5,230.8 1354.1,232.8 1354.8,234.2 1355.4,234.7 1356.0,236.3 1356.6,238.1 1357.3,239.6 1357.9,240.2 1358.6,241.8 1359.2,243.2 1359.9,244.6 1360.6,245.8 1361.3,247.9 1362.0,248.4 1362.8,250.3 1363.5,251.3 1364.3,253.7 1365.0,254.2 1365.8,254.2 1366.6,256.5 1367.4,256.7 1368.3,259.3 1369.1,259.9 1369.9,260.5 1370.7,262.1 1371.6,263.6 1372.4,265.5 1373.2,266.3 1374.1,267.7 1374.9,268.5 1375.8,269.8 1376.6,270.6 1377.5,272.3 1378.3,273.5 1379.2,274.8 1380.1,275.8 1381.0,277.2 1381.9,278.3 1382.8,279.8 1383.7,280.6 1384.6,281.8 1385.6,282.8 1386.5,284.1 1387.4,285.4 1388.4,286.3 1389.3,288.3 1390.3,289.4 1391.3,290.3 1392.3,291.6 1393.2,292.0 1394.2,293.4 1395.2,294.6 1396.2,296.0 1397.3,297.3 1398.3,298.4 1399.3,298.6 1400.3,300.2 1401.4,301.7 1402.5,302.3 1403.5,303.6 1404.6,303.8 1405.7,305.4 1406.8,306.3 1407.9,306.6 1409.0,308.6 1410.2,309.8 1411.4,310.5 1412.5,311.0 1413.7,312.0 1414.9,312.7 1416.1,314.1 1417.4,314.9 1418.6,316.1 1419.9,316.4 1421.1,317.6 1422.4,318.0 1423.6,318.7 1424.9,319.7 1426.2,320.2 1427.5,321.0 1428.7,322.4 1430.0,323.1 1431.3,323.3 1432.6,324.0 1433.9,325.0 1435.2,325.5 1436.5,326.8 1437.9,327.1 1439.2,327.5 1440.5,328.3 1441.9,329.5 1443.2,330.8 1444.6,330.9 1445.9,330.8 1447.3,331.6 1448.7,332.6 1450.0,333.1 1451.4,333.8 1452.8,335.0 1454.2,334.4 1455.6,334.9 1457.0,335.8 1458.4,336.3 1459.8,336.8 1461.3,337.5 1462.7,337.7 1464.1,338.5 1465.6,338.6 1467.0,339.1 1468.5,338.7 1469.9,339.4 1471.4,340.0 1472.8,340.8 1474.2,340.7 1475.7,341.0 1477.1,341.5 1478.6,342.8 1480.0,342.0 1481.5,343.0 1482.9,343.4 1484.4,344.3 1485.8,344.4 1487.3,344.4 1488.7,345.2 1490.2,345.8 1491.7,345.5 1493.1,345.3 1494.6,345.8 1496.0,346.6 1497.5,346.5 1499.0,347.2 1500.4,347.9 1501.9,347.8 1503.4,348.8 1504.9,348.1 1506.3,347.9 1507.8,348.7 1509.3,349.2 1510.8,348.5 1512.3,349.4 1513.7,350.1 1515.2,349.7 1516.7,350.5 1518.2,349.4 1519.7,350.4 1521.2,349.7 1522.7,349.9 1524.2,350.2 1525.7,351.3 1527.1,351.2 1528.6,351.8 1530.1,351.1 1531.6,350.9 1533.1,352.0 1534.6,351.6 1536.1,351.5 1537.6,352.5 1539.1,352.8 1540.6,352.2 1542.1,352.7 1543.6,353.1 1545.1,352.6 1546.5,352.9 1548.0,353.4 1549.5,354.1 1551.0,353.3 1552.5,354.1 1554.0,354.2 1555.5,354.2 1557.0,354.2 1558.5,354.1 1560.0,354.9 1561.4,354.7 1562.9,354.0 1564.4,355.2 1565.9,354.9 1567.4,355.3 1568.9,356.3 1570.4,355.8 1571.9,355.0 1573.4,355.8 1574.9,355.7 1576.4,356.7 1577.8,355.1 1579.3,356.8 1580.8,356.7 1582.3,356.7 1583.8,357.1 1585.3,357.8 1586.8,356.5 1588.3,357.2 1589.8,357.5 1591.3,357.7 1592.8,357.7 1594.3,358.1 1595.8,358.1 1597.3,358.0 1598.7,357.6 1600.2,358.7 1601.7,359.1 1603.2,359.1 1604.7,359.0 1606.2,359.4 1607.7,358.5 1609.2,359.5 1610.7,359.5 1612.2,359.4 1613.7,360.0 1615.2,359.6 1616.7,359.6 1618.2,359.5 1619.7,359.3 1621.2,360.0 1622.6,360.9 1624.1,361.1 1625.6,360.2 1627.1,360.6 1628.6,361.3 1630.1,360.4 1631.6,360.7 1633.1,360.4 1634.6,361.7 1636.1,360.9 1637.6,361.1 1639.1,361.3 1640.6,361.0 1642.1,362.5 1643.6,362.0 1645.1,362.5 1646.6,360.9 1648.1,362.1 1649.6,361.8 1651.1,361.5 1652.6,362.0 1654.1,362.7 1655.6,362.6 1657.1,362.0 1658.5,363.7 1660.0,362.8 1661.5,362.1 1663.0,362.2 1664.5,362.3 1666.0,362.6 1667.5,362.5 1669.0,362.5 1670.5,363.2 1672.0,362.6 1673.5,363.0 1675.0,362.8 1676.5,363.0 1678.0,363.6 1679.5,363.2 1681.0,363.5 1682.5,363.3 1684.0,363.8 1685.5,363.4 1687.0,363.9 1688.5,362.9 1689.9,363.9 1691.2,363.7 1692.2,363.2" fill="none" stroke="#1a1ad8" stroke-width="4" stroke-linejoin="round" stroke-linecap="round"/>
<path d="M1323.1,131.5 1323.7,133.3 1324.0,134.5 1324.5,135.8 1324.9,137.2 1325.3,138.7 1325.8,140.1 1326.2,141.5 1326.7,142.9 1327.1,144.4 1327.5,145.8 1328.0,147.3 1328.4,148.7 1328.8,150.1 1329.3,151.6 1329.7,153.0 1330.1,154.4 1330.5,155.9 1330.9,157.3 1331.4,158.8 1331.8,160.2 1332.2,161.6 1332.6,163.1 1333.0,164.5 1333.4,166.0 1333.8,167.4 1334.2,168.9 1334.6,170.3 1335.0,171.7 1335.4,173.2 1335.8,174.6 1336.2,176.1 1336.7,177.5 1337.1,179.0 1337.5,180.4 1337.9,181.8 1338.3,183.3 1338.7,184.7 1339.1,186.2 1339.5,187.6 1339.9,189.1 1340.3,190.5 1340.6,192.0 1341.0,193.4 1341.4,194.9 1341.8,196.3 1342.2,197.8 1342.6,199.2 1343.0,200.7 1343.4,202.1 1343.8,203.6 1344.1,205.0 1344.5,206.5 1344.9,207.9 1345.3,209.3 1345.7,210.8 1346.1,212.2 1346.5,213.7 1347.0,215.1 1347.4,216.6 1347.8,218.0 1348.2,219.4 1348.7,220.9 1349.1,222.3 1349.6,223.7 1350.0,225.1 1350.5,226.6 1350.9,228.0 1351.4,229.4 1351.9,230.8 1352.3,232.3 1352.8,233.7 1353.3,235.1 1353.8,236.5 1354.3,237.9 1354.8,239.3 1355.3,240.8 1355.8,242.2 1356.3,243.6 1356.9,245.0 1357.4,246.4 1357.9,247.8 1358.5,249.2 1359.0,250.6 1359.5,252.0 1360.1,253.4 1360.6,254.8 1361.2,256.2 1361.8,257.6 1362.3,258.9 1362.9,260.3 1363.5,261.7 1364.1,263.1 1364.7,264.4 1365.3,265.8 1365.9,267.2 1366.5,268.6 1367.1,269.9 1367.8,271.3 1368.4,272.6 1369.1,274.0 1369.7,275.4 1370.3,276.7 1371.0,278.1 1371.7,279.4 1372.3,280.7 1373.0,282.1 1373.7,283.4 1374.4,284.8 1375.0,286.1 1375.7,287.4 1376.4,288.7 1377.1,290.1 1377.9,291.4 1378.6,292.7 1379.3,294.0 1380.1,295.3 1380.8,296.6 1381.6,297.9 1382.3,299.2 1383.1,300.5 1383.9,301.8 1384.7,303.0 1385.5,304.3 1386.3,305.5 1387.1,306.8 1388.0,308.1 1388.8,309.3 1389.7,310.5 1390.6,311.7 1391.5,313.0 1392.4,314.2 1393.3,315.3 1394.2,316.5 1395.1,317.7 1396.1,318.8 1397.1,319.9 1398.1,321.1 1399.1,322.2 1400.1,323.2 1401.2,324.3 1402.3,325.4 1403.4,326.4 1404.5,327.4 1405.6,328.4 1406.7,329.4 1407.8,330.4 1409.0,331.4 1410.1,332.3 1411.3,333.3 1412.4,334.2 1413.6,335.2 1414.8,336.1 1416.0,337.0 1417.3,337.9 1418.5,338.8 1419.7,339.7 1421.0,340.5 1422.2,341.3 1423.5,342.2 1424.8,343.0 1426.0,343.7 1427.3,344.5 1428.6,345.2 1429.9,345.9 1431.2,346.6 1432.6,347.3 1433.9,347.9 1435.2,348.6 1436.6,349.2 1438.0,349.8 1439.4,350.4 1440.8,351.0 1442.2,351.6 1443.6,352.1 1445.0,352.7 1446.4,353.2 1447.8,353.7 1449.3,354.1 1450.7,354.6 1452.1,355.0 1453.5,355.4 1455.0,355.8 1456.4,356.1 1457.9,356.5 1459.3,356.8 1460.8,357.1 1462.2,357.5 1463.7,357.8 1465.1,358.1 1466.6,358.4 1468.1,358.7 1469.5,359.0 1471.0,359.3 1472.5,359.6 1474.0,359.8 1475.5,360.1 1477.0,360.4 1478.4,360.6 1479.9,360.9 1481.4,361.1 1482.9,361.3 1484.4,361.6 1485.9,361.8 1487.4,362.0 1488.9,362.2 1490.4,362.4 1491.9,362.6 1493.4,362.8 1494.8,363.0 1496.3,363.1 1497.8,363.3 1499.3,363.5 1500.8,363.6 1502.3,363.8 1503.8,363.9 1505.3,364.1 1506.8,364.2 1508.2,364.4 1509.7,364.5 1511.2,364.7 1512.7,364.8 1514.2,365.0 1515.7,365.1 1517.2,365.2 1518.7,365.4 1520.2,365.5 1521.7,365.6 1523.2,365.7 1524.7,365.9 1526.2,366.0 1527.7,366.1 1529.2,366.2 1530.7,366.3 1532.2,366.4 1533.7,366.5 1535.2,366.5 1536.7,366.6 1538.2,366.7 1539.7,366.8 1541.2,366.8 1542.7,366.9 1544.2,366.9 1545.6,367.0 1547.1,367.0 1548.6,367.1 1550.1,367.1 1551.6,367.1 1553.1,367.2 1554.6,367.2 1556.1,367.3 1557.6,367.3 1559.1,367.3 1560.6,367.4 1562.1,367.4 1563.6,367.4 1565.1,367.4 1566.6,367.5 1568.1,367.5 1569.6,367.5 1571.1,367.5 1572.6,367.6 1574.1,367.6 1575.6,367.6 1577.1,367.6 1578.6,367.7 1580.1,367.7 1581.6,367.7 1583.1,367.7 1584.6,367.7 1586.1,367.8 1587.6,367.8 1589.1,367.8 1590.6,367.8 1592.1,367.8 1593.6,367.9 1595.1,367.9 1596.6,367.9 1598.1,367.9 1599.6,367.9 1601.1,367.9 1602.6,368.0 1604.1,368.0 1605.6,368.0 1607.1,368.0 1608.6,368.0 1610.1,368.0 1611.6,368.1 1613.1,368.1 1614.6,368.1 1616.1,368.1 1617.6,368.1 1619.1,368.1 1620.6,368.2 1622.1,368.2 1623.6,368.2 1625.1,368.2 1626.6,368.2 1628.1,368.3 1629.6,368.3 1631.1,368.3 1632.6,368.3 1634.1,368.3 1635.6,368.3 1637.1,368.4 1638.6,368.4 1640.1,368.4 1641.6,368.4 1643.1,368.4 1644.6,368.4 1646.1,368.5 1647.6,368.5 1649.1,368.5 1650.6,368.5 1652.1,368.5 1653.6,368.5 1655.1,368.6 1656.6,368.6 1658.1,368.6 1659.6,368.6 1661.1,368.6 1662.6,368.6 1664.1,368.6 1665.6,368.7 1667.1,368.7 1668.6,368.7 1670.1,368.7 1671.6,368.7 1673.1,368.7 1674.6,368.8 1676.0,368.8 1677.5,368.8 1679.0,368.8 1680.5,368.8 1682.0,368.8 1683.5,368.8 1685.0,368.8 1686.5,368.9 1688.0,368.9 1689.5,368.9 1691.0,368.9 1692.5,368.9 1694.0,368.9 1695.5,368.9 1697.0,369.0 1698.5,369.0 1700.0,369.0 1701.5,369.0 1703.0,369.0 1704.5,369.0 1706.0,369.0 1707.5,369.0 1709.0,369.1 1710.5,369.1 1712.0,369.1 1713.5,369.1 1715.0,369.1 1716.5,369.1 1718.0,369.1 1719.5,369.1 1721.0,369.1 1722.5,369.1 1724.0,369.2 1725.5,369.2 1727.0,369.2 1728.5,369.2 1730.0,369.2 1731.5,369.2 1733.0,369.2 1734.5,369.2 1736.0,369.2 1737.5,369.2 1739.0,369.2 1740.5,369.3 1742.0,369.3 1743.5,369.3 1745.0,369.3 1746.4,369.3 1747.7,369.3 1748.7,369.3" fill="none" stroke="#e5141b" stroke-width="4" stroke-linejoin="round" stroke-linecap="round"/>
<path d="M1320.8,107.3 1322.3,104.3 1323.8,108.2 1325.3,109.1 1326.8,107.8 1328.3,111.0 1329.8,104.7 1331.3,108.4 1332.8,106.0 1334.3,107.1 1335.8,109.3 1337.3,107.5 1338.8,110.2 1340.3,106.9 1341.8,106.8 1343.3,107.8 1344.8,106.1 1346.3,107.7 1347.8,109.4 1349.3,111.0 1350.8,107.5 1352.3,107.6 1353.8,106.2 1355.3,106.0 1356.8,107.6 1358.3,106.8 1359.8,106.6 1361.3,104.8 1362.8,106.4 1364.3,101.3 1365.8,103.7 1367.3,104.8 1368.8,103.6 1370.3,105.3 1371.8,104.7 1373.3,105.2 1374.8,107.0 1376.3,106.8 1377.8,109.0 1379.3,111.0 1380.8,109.7 1382.3,113.1 1383.8,114.6 1385.3,116.0 1386.8,113.7 1388.3,116.2 1389.8,112.4 1391.3,113.4 1392.8,115.5 1394.3,114.1 1395.8,114.4 1397.3,114.4 1398.8,115.5 1400.3,115.3 1401.8,115.4 1403.3,117.1 1404.8,116.6 1406.3,117.5 1407.8,118.0 1409.3,118.2 1410.8,117.1 1412.3,116.7 1413.8,116.6 1415.3,116.1 1416.8,118.0 1418.3,117.7 1419.8,119.3 1421.3,118.9 1422.8,118.4 1424.3,120.4 1425.8,119.6 1427.3,120.2 1428.8,121.1 1430.3,120.9 1431.8,119.8 1433.3,121.1 1434.8,120.5 1436.3,120.0 1437.8,119.9 1439.3,120.6 1440.8,119.3 1442.3,122.9 1443.8,119.8 1445.3,122.1 1446.8,123.0 1448.3,125.1 1449.8,125.8 1451.3,127.4 1452.8,127.1 1454.3,130.8 1455.8,131.7 1457.3,130.1 1458.8,133.3 1460.3,132.0 1461.8,133.7 1463.3,135.2 1464.8,134.9 1466.3,134.2 1467.8,135.3 1469.3,137.5 1470.8,137.2 1472.3,138.2 1473.8,136.3 1475.3,138.4 1476.8,137.9 1478.3,136.7 1479.8,138.4 1481.3,136.9 1482.8,137.5 1484.3,136.4 1485.8,137.2 1487.3,137.4 1488.8,137.1 1490.3,137.5 1491.8,137.9 1493.3,137.5 1494.8,136.6 1496.3,137.8 1497.8,137.2 1499.3,137.2 1500.8,136.1 1502.3,137.7 1503.8,137.2 1505.3,137.6 1506.8,138.4 1508.3,138.1 1509.8,137.6 1511.3,137.3 1512.8,139.5 1514.3,139.1 1515.8,139.6 1517.3,139.9 1518.8,138.6 1520.3,138.0 1521.8,139.0 1523.3,138.6 1524.8,138.7 1526.3,140.1 1527.8,140.1 1529.3,141.1 1530.8,140.1 1532.3,140.9 1533.8,140.7 1535.3,140.8 1536.8,140.3 1538.3,141.4 1539.8,140.1 1541.3,141.8 1542.8,142.6 1544.3,142.2 1545.8,142.5 1547.3,142.2 1548.8,143.2 1550.3,143.5 1551.8,143.5 1553.3,144.0 1554.8,144.5 1556.3,144.8 1557.8,143.6 1559.3,144.4 1560.8,145.5 1562.3,147.6 1563.8,147.2 1565.3,146.8 1566.8,147.0 1568.3,147.3 1569.8,148.6 1571.3,148.5 1572.8,149.3 1574.3,149.4 1575.8,150.5 1577.3,151.1 1578.8,152.3 1580.3,153.4 1581.8,155.2 1583.3,155.4 1584.8,156.5 1586.3,156.1 1587.8,157.2 1589.3,157.3 1590.8,158.2 1592.3,158.7 1593.8,158.1 1595.3,159.6 1596.8,159.1 1598.3,160.5 1599.8,160.1 1601.3,159.8 1602.8,160.6 1604.3,161.3 1605.8,163.6 1607.3,162.6 1608.8,164.0 1610.3,165.4 1611.8,166.0 1613.3,166.8 1614.8,167.9 1616.3,167.4 1617.8,169.3 1619.3,169.1 1620.8,168.1 1622.3,168.8 1623.8,167.8 1625.3,167.2 1626.8,166.5 1628.3,166.7 1629.8,167.4 1631.3,167.0 1632.8,167.8 1634.3,167.5 1635.8,166.9 1637.3,166.4 1638.8,167.6 1640.3,166.5 1641.8,165.3 1643.3,167.1 1644.8,168.0 1646.3,168.6 1647.8,169.1 1649.3,169.5 1650.8,167.7 1652.3,171.3 1653.8,170.5 1655.3,170.4 1656.8,169.3 1658.3,171.1 1659.8,169.7 1661.3,168.9 1662.8,170.4 1664.3,170.3 1665.8,169.9 1667.3,169.6 1668.8,170.8 1670.3,170.9 1671.8,171.5 1673.3,171.9 1674.8,171.1 1676.3,172.7 1677.8,172.0 1679.3,173.4 1680.8,173.2 1682.3,173.5 1683.8,175.3 1685.3,174.8 1686.8,175.3 1688.3,176.1 1689.8,177.4 1691.3,174.6 1692.8,177.3 1694.3,177.4 1695.8,178.7 1697.3,178.6 1698.8,179.2 1700.3,180.3 1701.8,180.5 1703.3,180.6 1704.8,181.6 1706.3,183.2 1707.8,182.8 1709.3,181.3 1710.8,183.2 1712.3,183.2 1713.8,184.9 1715.3,184.0 1716.8,185.1 1718.3,185.7 1719.8,185.9 1721.3,185.1 1722.8,185.5 1724.3,186.7 1725.8,184.9 1727.3,185.3 1728.8,184.9 1730.3,185.5 1731.8,186.2 1733.3,186.3 1734.8,186.9 1736.3,186.0 1737.8,187.1 1739.3,186.9 1740.8,185.1 1742.3,187.3 1743.8,186.4 1745.3,185.6 1746.8,186.2 1748.3,185.3 1749.8,183.1 1751.3,184.6 1752.8,185.6 1754.3,184.1 1755.8,184.4 1757.3,182.8 1758.8,182.9 1760.3,183.2 1761.8,184.8 1763.3,184.7 1764.8,182.7 1766.3,184.7 1767.8,182.7 1769.3,183.0 1770.8,183.7 1772.3,183.2 1773.8,183.8 1775.3,184.3 1776.8,185.3 1778.3,184.8 1779.8,185.2 1781.3,185.7 1782.8,188.1 1784.3,187.8 1785.8,188.4 1787.3,188.6 1788.8,189.1 1790.3,190.5 1791.8,190.4 1793.3,190.1 1794.8,190.5 1796.3,193.4 1797.8,191.4 1799.3,191.8 1800.8,192.4 1802.3,193.5 1803.8,192.7 1805.3,193.9 1806.8,195.0 1808.3,194.7 1809.8,196.3 1811.3,197.6 1812.8,197.7 1814.3,198.0 1815.8,198.7 1817.3,198.6 1818.8,198.5 1820.3,198.7 1821.8,199.7 1823.3,198.2 1824.8,198.7 1826.3,200.1 1827.8,200.8 1829.3,200.6 1830.8,200.6 1832.3,200.6 1833.8,202.5 1835.3,202.7 1836.8,203.3 1838.3,203.6 1839.8,202.9 1841.3,203.3 1842.8,203.7 1844.3,203.6 1845.8,202.6 1847.3,202.3 1848.8,202.5 1850.3,202.8 1851.8,202.7 1853.3,200.7 1854.8,199.7 1856.3,199.5 1857.8,199.2 1859.3,198.6 1860.8,197.4 1862.3,199.8 1863.8,199.8 1865.3,200.5 1866.8,200.3 1868.3,200.7 1869.8,201.0 1871.3,200.1 1872.8,200.5 1874.3,201.3 1875.8,201.6 1877.3,200.4 1878.8,202.2 1880.3,202.6 1881.8,202.1 1883.3,201.9 1884.8,201.3 1886.3,201.1 1887.8,200.2 1889.3,200.9 1890.8,199.9 1892.3,199.1 1893.8,200.4 1895.3,200.8 1896.8,200.7 1898.3,200.1 1899.8,201.4 1901.3,199.8 1902.8,202.9 1904.3,202.9 1905.8,202.3 1907.3,203.0 1908.8,206.6 1910.3,206.3 1911.8,206.7 1913.3,208.1 1914.8,208.3 1916.3,208.7 1917.8,209.4 1919.3,209.5 1920.8,208.9 1922.3,209.9 1923.8,210.2 1925.3,209.8 1926.8,211.4 1928.3,211.6 1929.8,211.2 1931.3,213.3 1932.8,213.0 1934.3,213.8 1935.8,213.0 1937.3,213.5 1938.8,214.2 1940.3,214.2 1941.8,214.7 1943.3,214.3 1944.8,216.5 1946.3,215.7 1947.8,216.2 1949.3,216.6 1950.8,215.7 1952.3,217.0 1953.8,214.9 1955.3,216.1 1956.8,216.1 1958.3,216.4 1959.8,215.8 1961.3,217.0 1962.8,217.8 1964.3,217.0 1965.8,217.5 1967.3,216.2 1968.8,217.1 1970.3,217.6 1971.8,217.0 1973.3,217.1 1974.8,216.5 1976.3,216.6 1977.8,215.5 1979.3,216.6 1980.8,217.1 1982.3,216.8 1983.8,217.7 1985.3,216.5 1986.8,217.0 1988.3,215.7 1989.8,217.0 1991.3,216.9 1992.8,216.8 1994.3,217.9 1995.8,217.2 1997.3,218.1 1998.8,219.1 2000.3,218.9 2001.8,219.3 2003.3,220.8 2004.8,220.4 2006.3,220.4 2007.8,221.0 2009.3,221.2 2010.8,221.4 2012.3,222.3 2013.8,222.0 2015.3,222.3 2016.8,223.6 2018.3,224.0 2019.8,225.1 2021.3,224.1 2022.8,224.6 2024.3,225.5 2025.8,225.0 2027.3,224.4 2028.8,224.3 2030.3,225.1 2031.8,224.8 2033.3,224.6 2034.8,225.1 2036.3,225.4 2037.8,226.7 2039.3,225.5 2040.8,227.1 2042.3,228.8 2043.8,228.0 2045.3,229.4 2046.8,230.6 2048.3,229.8 2049.8,230.5 2051.3,230.6 2052.8,231.4 2054.3,231.2 2055.8,231.3 2057.3,232.1 2058.8,232.4 2060.3,233.1 2061.8,232.5 2063.3,232.8 2064.8,232.6 2066.3,233.6 2067.8,233.7 2069.3,232.8 2070.8,232.4 2072.3,234.8 2073.8,233.1 2075.3,233.5 2076.8,234.4 2078.3,236.0 2079.8,235.8 2081.3,235.3 2082.8,235.9 2084.3,235.5 2085.8,236.2 2087.3,235.5 2088.8,236.7 2090.3,236.3 2091.8,236.0 2093.3,235.7 2094.8,237.5 2096.3,237.7 2097.8,237.3 2099.3,237.6 2100.8,238.1 2102.3,238.4 2103.8,238.6 2105.3,238.7 2106.8,238.5 2108.3,238.0 2109.8,238.8 2111.3,237.1 2112.8,236.4 2114.3,236.5 2115.8,235.5 2117.3,236.0 2118.8,236.0 2120.3,236.6 2121.8,236.0 2123.3,235.9 2124.8,237.8 2126.3,237.3 2127.8,238.2 2129.3,237.8 2130.8,237.2 2132.3,237.5 2133.8,236.8 2135.3,237.1 2136.8,237.7 2138.3,238.1 2139.8,237.5 2141.3,239.1 2142.8,239.2 2144.3,239.7 2145.8,238.8 2147.3,240.2 2148.8,240.0 2150.3,240.6 2151.8,242.0 2153.3,242.1 2154.8,242.9" fill="none" stroke="#1eea1e" stroke-width="4.6" stroke-linejoin="round" stroke-linecap="round"/>
<path d="M1320.8,107.2 1322.3,110.1 1323.8,107.4 1325.3,109.7 1326.8,112.1 1328.3,109.8 1329.8,110.4 1331.3,111.6 1332.8,115.7 1334.3,113.8 1335.8,111.6 1337.3,113.0 1338.8,112.5 1340.3,109.5 1341.8,108.8 1343.3,113.4 1344.8,110.3 1346.3,112.8 1347.8,108.9 1349.3,111.5 1350.8,109.5 1352.3,113.2 1353.8,113.8 1355.3,113.4 1356.8,114.6 1358.3,112.6 1359.8,114.9 1361.3,116.0 1362.8,114.1 1364.3,117.3 1365.8,117.7 1367.3,118.6 1368.8,118.1 1370.3,118.8 1371.8,119.8 1373.3,119.2 1374.8,119.9 1376.3,116.7 1377.8,120.4 1379.3,117.7 1380.8,120.6 1382.3,117.2 1383.8,118.7 1385.3,120.5 1386.8,121.4 1388.3,120.8 1389.8,120.9 1391.3,123.4 1392.8,124.2 1394.3,121.4 1395.8,120.7 1397.3,121.1 1398.8,121.6 1400.3,119.7 1401.8,121.6 1403.3,125.0 1404.8,124.7 1406.3,126.4 1407.8,130.7 1409.3,131.1 1410.8,132.6 1412.3,130.9 1413.8,131.0 1415.3,130.9 1416.8,130.0 1418.3,129.7 1419.8,132.4 1421.3,131.8 1422.8,134.0 1424.3,134.8 1425.8,132.5 1427.3,133.3 1428.8,135.8 1430.3,137.8 1431.8,138.8 1433.3,137.0 1434.8,138.0 1436.3,139.8 1437.8,137.3 1439.3,136.8 1440.8,139.2 1442.3,136.8 1443.8,136.3 1445.3,139.5 1446.8,137.8 1448.3,138.3 1449.8,139.7 1451.3,141.1 1452.8,140.9 1454.3,140.9 1455.8,141.5 1457.3,142.1 1458.8,142.5 1460.3,141.0 1461.8,143.5 1463.3,142.2 1464.8,143.1 1466.3,144.1 1467.8,144.0 1469.3,144.6 1470.8,144.4 1472.3,145.1 1473.8,146.6 1475.3,144.2 1476.8,146.5 1478.3,147.5 1479.8,145.7 1481.3,146.0 1482.8,146.5 1484.3,147.1 1485.8,146.4 1487.3,146.8 1488.8,147.2 1490.3,147.7 1491.8,149.2 1493.3,148.3 1494.8,150.2 1496.3,151.3 1497.8,151.9 1499.3,153.1 1500.8,153.5 1502.3,154.6 1503.8,156.2 1505.3,156.6 1506.8,156.6 1508.3,158.1 1509.8,157.4 1511.3,157.6 1512.8,157.7 1514.3,159.2 1515.8,159.2 1517.3,159.4 1518.8,158.5 1520.3,161.0 1521.8,158.6 1523.3,160.1 1524.8,158.9 1526.3,158.7 1527.8,157.9 1529.3,161.0 1530.8,161.9 1532.3,162.3 1533.8,163.0 1535.3,163.0 1536.8,164.8 1538.3,165.3 1539.8,165.1 1541.3,166.5 1542.8,167.3 1544.3,167.3 1545.8,169.6 1547.3,168.1 1548.8,170.9 1550.3,170.4 1551.8,169.3 1553.3,171.2 1554.8,170.9 1556.3,171.2 1557.8,170.5 1559.3,169.8 1560.8,169.0 1562.3,170.8 1563.8,170.6 1565.3,170.4 1566.8,172.8 1568.3,172.0 1569.8,171.1 1571.3,172.8 1572.8,173.8 1574.3,173.0 1575.8,174.5 1577.3,174.5 1578.8,174.0 1580.3,175.9 1581.8,176.6 1583.3,174.7 1584.8,177.6 1586.3,177.2 1587.8,177.9 1589.3,177.3 1590.8,178.2 1592.3,180.6 1593.8,180.2 1595.3,180.0 1596.8,180.8 1598.3,180.8 1599.8,181.9 1601.3,182.1 1602.8,183.4 1604.3,182.8 1605.8,184.1 1607.3,184.7 1608.8,184.0 1610.3,184.7 1611.8,185.1 1613.3,185.1 1614.8,185.3 1616.3,188.0 1617.8,188.1 1619.3,188.6 1620.8,190.2 1622.3,189.1 1623.8,189.5 1625.3,189.5 1626.8,189.4 1628.3,190.3 1629.8,190.2 1631.3,192.0 1632.8,190.7 1634.3,192.1 1635.8,190.4 1637.3,190.7 1638.8,190.8 1640.3,190.3 1641.8,191.9 1643.3,191.8 1644.8,193.0 1646.3,195.2 1647.8,195.4 1649.3,197.5 1650.8,198.6 1652.3,199.0 1653.8,199.7 1655.3,198.5 1656.8,199.6 1658.3,198.5 1659.8,197.7 1661.3,198.8 1662.8,200.4 1664.3,198.7 1665.8,200.9 1667.3,199.0 1668.8,201.0 1670.3,200.9 1671.8,200.3 1673.3,199.0 1674.8,200.7 1676.3,200.3 1677.8,199.8 1679.3,200.0 1680.8,198.9 1682.3,201.1 1683.8,200.9 1685.3,200.4 1686.8,203.2 1688.3,202.4 1689.8,203.3 1691.3,204.1 1692.8,203.2 1694.3,203.4 1695.8,204.1 1697.3,203.7 1698.8,204.4 1700.3,205.4 1701.8,203.9 1703.3,204.8 1704.8,204.6 1706.3,205.6 1707.8,204.6 1709.3,205.0 1710.8,206.2 1712.3,208.1 1713.8,206.7 1715.3,206.7 1716.8,207.7 1718.3,209.2 1719.8,209.8 1721.3,209.4 1722.8,209.9 1724.3,209.1 1725.8,210.5 1727.3,210.4 1728.8,210.4 1730.3,211.6 1731.8,211.9 1733.3,211.3 1734.8,212.0 1736.3,211.0 1737.8,212.2 1739.3,214.4 1740.8,213.5 1742.3,214.4 1743.8,216.4 1745.3,214.7 1746.8,216.3 1748.3,217.5 1749.8,216.9 1751.3,216.9 1752.8,216.8 1754.3,217.8 1755.8,217.2 1757.3,218.1 1758.8,218.1 1760.3,218.5 1761.8,219.6 1763.3,219.1 1764.8,219.3 1766.3,220.3 1767.8,220.8 1769.3,220.6 1770.8,219.6 1772.3,221.1 1773.8,219.4 1775.3,219.1 1776.8,220.9 1778.3,221.4 1779.8,220.3 1781.3,220.2 1782.8,221.8 1784.3,220.3 1785.8,221.3 1787.3,221.1 1788.8,222.2 1790.3,222.3 1791.8,221.9 1793.3,223.5 1794.8,223.6 1796.3,223.6 1797.8,223.6 1799.3,224.2 1800.8,223.8 1802.3,224.8 1803.8,225.3 1805.3,226.3 1806.8,226.3 1808.3,226.4 1809.8,227.0 1811.3,227.3 1812.8,226.7 1814.3,225.9 1815.8,225.2 1817.3,225.9 1818.8,224.8 1820.3,224.0 1821.8,225.0 1823.3,224.1 1824.8,225.3 1826.3,226.5 1827.8,226.5 1829.3,226.9 1830.8,227.9 1832.3,228.3 1833.8,227.0 1835.3,226.8 1836.8,226.9 1838.3,226.4 1839.8,227.5 1841.3,227.9 1842.8,227.9 1844.3,228.1 1845.8,228.5 1847.3,229.9 1848.8,230.2 1850.3,231.5 1851.8,231.0 1853.3,231.9 1854.8,232.6 1856.3,234.0 1857.8,234.4 1859.3,234.7 1860.8,234.9 1862.3,235.4 1863.8,234.1 1865.3,235.9 1866.8,235.6 1868.3,237.1 1869.8,237.4 1871.3,238.3 1872.8,238.0 1874.3,241.0 1875.8,240.4 1877.3,240.9 1878.8,240.9 1880.3,241.9 1881.8,240.8 1883.3,243.0 1884.8,242.7 1886.3,242.5 1887.8,243.4 1889.3,243.0 1890.8,243.3 1892.3,243.0 1893.8,243.8 1895.3,243.4 1896.8,243.9 1898.3,245.1 1899.8,245.0 1901.3,244.8 1902.8,245.7 1904.3,244.8 1905.8,246.7 1907.3,245.4 1908.8,245.5 1910.3,246.9 1911.8,245.3 1913.3,245.2 1914.8,246.8 1916.3,246.9 1917.8,247.9 1919.3,247.5 1920.8,246.9 1922.3,248.1 1923.8,248.3 1925.3,249.4 1926.8,249.3 1928.3,249.1 1929.8,249.6 1931.3,250.3 1932.8,250.3 1934.3,250.9 1935.8,251.1 1937.3,250.4 1938.8,251.3 1940.3,252.0 1941.8,251.2 1943.3,251.4 1944.8,252.9 1946.3,253.0 1947.8,253.2 1949.3,253.7 1950.8,252.6 1952.3,252.1 1953.8,252.9 1955.3,252.7 1956.8,253.8 1958.3,254.6 1959.8,254.9 1961.3,255.8 1962.8,256.1 1964.3,256.8 1965.8,256.4 1967.3,258.3 1968.8,257.2 1970.3,257.6 1971.8,257.8 1973.3,258.5 1974.8,258.8 1976.3,258.6 1977.8,261.0 1979.3,260.6 1980.8,260.5 1982.3,260.7 1983.8,261.1 1985.3,260.9 1986.8,260.5 1988.3,260.8 1989.8,259.0 1991.3,261.1 1992.8,260.8 1994.3,260.8 1995.8,260.9 1997.3,261.8 1998.8,261.0 2000.3,262.2 2001.8,261.8 2003.3,262.6 2004.8,261.5 2006.3,262.9 2007.8,262.8 2009.3,262.9 2010.8,264.6 2012.3,264.9 2013.8,264.2 2015.3,264.9 2016.8,266.0 2018.3,265.4 2019.8,264.9 2021.3,264.7 2022.8,264.6 2024.3,265.1 2025.8,265.1 2027.3,264.3 2028.8,263.9 2030.3,264.3 2031.8,264.2 2033.3,266.0 2034.8,266.4 2036.3,267.6 2037.8,268.8 2039.3,268.8 2040.8,268.3 2042.3,268.6 2043.8,268.4 2045.3,268.1 2046.8,270.3 2048.3,269.6 2049.8,268.7 2051.3,270.0 2052.8,268.7 2054.3,270.0 2055.8,270.6 2057.3,270.7 2058.8,271.3 2060.3,272.4 2061.8,272.1 2063.3,273.2 2064.8,271.8 2066.3,272.7 2067.8,273.8 2069.3,272.4 2070.8,272.6 2072.3,273.2 2073.8,273.1 2075.3,273.6 2076.8,274.1 2078.3,274.1 2079.8,274.1 2081.3,274.0 2082.8,274.4 2084.3,275.0 2085.8,274.2 2087.3,274.6 2088.8,274.6 2090.3,275.3 2091.8,275.8 2093.3,275.8 2094.8,275.8 2096.3,276.3 2097.8,277.2 2099.3,276.8 2100.8,277.6 2102.3,276.8 2103.8,276.5 2105.3,277.0 2106.8,275.9 2108.3,276.5 2109.8,274.5 2111.3,275.5 2112.8,275.3 2114.3,275.6 2115.8,276.3 2117.3,275.6 2118.8,278.2 2120.3,277.5 2121.8,279.5 2123.3,279.1 2124.8,279.1 2126.3,278.5 2127.8,280.2 2129.3,279.6 2130.8,279.8 2132.3,278.3 2133.8,277.9 2135.3,278.4 2136.8,278.7 2138.3,278.6 2139.8,278.7 2141.3,277.6 2142.8,277.5 2144.3,278.8 2145.8,278.1 2147.3,278.8 2148.8,280.0 2150.3,278.8 2151.8,279.2 2153.3,279.2 2154.8,279.2" fill="none" stroke="#1eea1e" stroke-width="4.6" stroke-linejoin="round" stroke-linecap="round"/>
<path d="M1320.8,116.6 1322.3,114.4 1323.8,113.3 1325.3,111.3 1326.8,111.0 1328.3,111.6 1329.8,109.5 1331.3,107.3 1332.8,106.7 1334.3,105.4 1335.8,110.9 1337.3,104.6 1338.8,107.2 1340.3,109.6 1341.8,110.6 1343.3,111.3 1344.8,110.2 1346.3,114.7 1347.8,113.4 1349.3,107.7 1350.8,109.6 1352.3,108.9 1353.8,114.2 1355.3,111.5 1356.8,110.1 1358.3,112.8 1359.8,111.3 1361.3,113.9 1362.8,114.7 1364.3,111.6 1365.8,113.8 1367.3,114.0 1368.8,112.7 1370.3,115.2 1371.8,114.4 1373.3,117.8 1374.8,117.5 1376.3,118.5 1377.8,122.9 1379.3,123.7 1380.8,123.3 1382.3,120.5 1383.8,126.8 1385.3,126.6 1386.8,128.6 1388.3,128.5 1389.8,128.8 1391.3,129.3 1392.8,132.4 1394.3,133.8 1395.8,134.5 1397.3,132.5 1398.8,134.9 1400.3,136.9 1401.8,135.2 1403.3,140.1 1404.8,138.1 1406.3,141.6 1407.8,140.3 1409.3,141.9 1410.8,139.7 1412.3,139.4 1413.8,142.1 1415.3,142.1 1416.8,142.8 1418.3,144.3 1419.8,145.9 1421.3,147.2 1422.8,145.6 1424.3,145.4 1425.8,147.0 1427.3,146.1 1428.8,146.1 1430.3,147.2 1431.8,149.2 1433.3,148.7 1434.8,146.9 1436.3,152.0 1437.8,149.2 1439.3,151.4 1440.8,151.0 1442.3,153.8 1443.8,153.9 1445.3,155.6 1446.8,155.5 1448.3,156.1 1449.8,158.5 1451.3,156.3 1452.8,157.9 1454.3,158.5 1455.8,160.5 1457.3,160.6 1458.8,160.7 1460.3,162.6 1461.8,162.6 1463.3,162.0 1464.8,161.5 1466.3,165.2 1467.8,163.9 1469.3,163.7 1470.8,165.0 1472.3,165.9 1473.8,165.6 1475.3,167.7 1476.8,167.7 1478.3,167.8 1479.8,169.6 1481.3,168.5 1482.8,170.2 1484.3,169.3 1485.8,169.2 1487.3,170.7 1488.8,169.8 1490.3,171.2 1491.8,172.5 1493.3,171.8 1494.8,172.2 1496.3,174.1 1497.8,174.6 1499.3,172.5 1500.8,175.0 1502.3,175.8 1503.8,174.7 1505.3,176.6 1506.8,176.3 1508.3,176.8 1509.8,178.1 1511.3,179.8 1512.8,179.8 1514.3,180.1 1515.8,180.9 1517.3,181.8 1518.8,179.5 1520.3,182.2 1521.8,182.7 1523.3,181.3 1524.8,182.6 1526.3,183.7 1527.8,184.1 1529.3,186.2 1530.8,185.6 1532.3,185.7 1533.8,186.3 1535.3,187.5 1536.8,187.1 1538.3,187.8 1539.8,188.2 1541.3,190.4 1542.8,190.0 1544.3,189.3 1545.8,191.2 1547.3,189.6 1548.8,192.6 1550.3,194.0 1551.8,194.8 1553.3,196.1 1554.8,196.7 1556.3,197.0 1557.8,198.2 1559.3,199.1 1560.8,199.1 1562.3,201.1 1563.8,201.1 1565.3,203.2 1566.8,205.2 1568.3,205.7 1569.8,206.5 1571.3,204.6 1572.8,204.9 1574.3,206.0 1575.8,205.1 1577.3,206.4 1578.8,205.7 1580.3,206.6 1581.8,206.2 1583.3,207.9 1584.8,207.7 1586.3,207.6 1587.8,206.3 1589.3,208.3 1590.8,207.5 1592.3,207.2 1593.8,208.7 1595.3,209.6 1596.8,208.3 1598.3,210.3 1599.8,210.1 1601.3,210.6 1602.8,211.5 1604.3,211.4 1605.8,211.7 1607.3,213.5 1608.8,211.5 1610.3,214.5 1611.8,213.3 1613.3,215.6 1614.8,214.3 1616.3,216.5 1617.8,214.7 1619.3,217.6 1620.8,216.9 1622.3,217.3 1623.8,217.8 1625.3,219.3 1626.8,218.9 1628.3,219.7 1629.8,219.5 1631.3,218.7 1632.8,220.6 1634.3,219.3 1635.8,219.8 1637.3,220.2 1638.8,220.4 1640.3,222.0 1641.8,221.4 1643.3,221.2 1644.8,221.5 1646.3,221.2 1647.8,220.5 1649.3,222.1 1650.8,220.8 1652.3,222.8 1653.8,222.4 1655.3,223.5 1656.8,223.5 1658.3,224.1 1659.8,226.4 1661.3,225.0 1662.8,225.0 1664.3,226.4 1665.8,227.5 1667.3,225.9 1668.8,226.8 1670.3,228.1 1671.8,228.3 1673.3,228.3 1674.8,227.6 1676.3,228.0 1677.8,227.3 1679.3,228.3 1680.8,228.2 1682.3,228.8 1683.8,229.1 1685.3,230.5 1686.8,230.9 1688.3,231.2 1689.8,233.5 1691.3,233.4 1692.8,233.5 1694.3,234.0 1695.8,235.4 1697.3,234.7 1698.8,234.8 1700.3,234.1 1701.8,234.3 1703.3,234.0 1704.8,233.6 1706.3,233.3 1707.8,233.5 1709.3,232.6 1710.8,233.6 1712.3,233.6 1713.8,232.3 1715.3,233.1 1716.8,232.3 1718.3,232.9 1719.8,232.9 1721.3,231.5 1722.8,231.0 1724.3,233.0 1725.8,233.2 1727.3,233.2 1728.8,233.2 1730.3,233.5 1731.8,232.5 1733.3,235.2 1734.8,232.8 1736.3,234.3 1737.8,233.9 1739.3,234.1 1740.8,233.1 1742.3,233.5 1743.8,234.5 1745.3,233.7 1746.8,234.6 1748.3,234.0 1749.8,235.0 1751.3,235.3 1752.8,235.2 1754.3,235.5 1755.8,234.5 1757.3,235.0 1758.8,235.1 1760.3,236.4 1761.8,235.3 1763.3,235.9 1764.8,237.1 1766.3,236.8 1767.8,237.6 1769.3,236.6 1770.8,237.9 1772.3,237.2 1773.8,237.2 1775.3,236.9 1776.8,234.9 1778.3,236.4 1779.8,235.1 1781.3,235.9 1782.8,235.1 1784.3,235.4 1785.8,234.4 1787.3,234.7 1788.8,236.1 1790.3,235.1 1791.8,235.8 1793.3,235.8 1794.8,235.4 1796.3,236.1 1797.8,236.1 1799.3,236.5 1800.8,235.8 1802.3,235.4 1803.8,236.4 1805.3,236.2 1806.8,235.4 1808.3,234.6 1809.8,235.6 1811.3,235.2 1812.8,236.6 1814.3,235.9 1815.8,235.7 1817.3,236.1 1818.8,235.9 1820.3,236.8 1821.8,236.5 1823.3,237.9 1824.8,238.9 1826.3,239.2 1827.8,238.8 1829.3,239.7 1830.8,239.2 1832.3,238.3 1833.8,238.7 1835.3,239.1 1836.8,238.6 1838.3,238.5 1839.8,238.7 1841.3,239.6 1842.8,240.5 1844.3,240.8 1845.8,241.7 1847.3,241.7 1848.8,242.0 1850.3,241.3 1851.8,241.9 1853.3,241.9 1854.8,242.4 1856.3,242.7 1857.8,244.3 1859.3,242.3 1860.8,243.3 1862.3,242.8 1863.8,243.2 1865.3,243.0 1866.8,243.8 1868.3,242.9 1869.8,242.7 1871.3,243.5 1872.8,243.6 1874.3,242.3 1875.8,244.7 1877.3,243.2 1878.8,244.8 1880.3,244.9 1881.8,245.4 1883.3,245.3 1884.8,245.2 1886.3,245.8 1887.8,247.3 1889.3,246.7 1890.8,247.2 1892.3,246.7 1893.8,246.5 1895.3,247.4 1896.8,246.4 1898.3,247.2 1899.8,247.4 1901.3,248.1 1902.8,248.5 1904.3,248.4 1905.8,249.0 1907.3,249.3 1908.8,250.9 1910.3,250.5 1911.8,250.3 1913.3,250.7 1914.8,250.7 1916.3,252.0 1917.8,251.1 1919.3,250.8 1920.8,253.5 1922.3,250.8 1923.8,250.9 1925.3,251.0 1926.8,252.1 1928.3,252.0 1929.8,252.5 1931.3,254.1 1932.8,254.9 1934.3,254.7 1935.8,254.3 1937.3,255.3 1938.8,254.8 1940.3,255.6 1941.8,255.9 1943.3,255.6 1944.8,257.3 1946.3,257.6 1947.8,258.3 1949.3,258.2 1950.8,259.8 1952.3,259.2 1953.8,259.7 1955.3,259.0 1956.8,258.9 1958.3,258.8 1959.8,258.6 1961.3,259.4 1962.8,260.6 1964.3,260.6 1965.8,259.7 1967.3,259.9 1968.8,261.5 1970.3,261.3 1971.8,261.2 1973.3,261.3 1974.8,261.5 1976.3,260.5 1977.8,261.5 1979.3,262.9 1980.8,262.6 1982.3,261.6 1983.8,262.3 1985.3,262.3 1986.8,262.0 1988.3,262.1 1989.8,262.6 1991.3,263.2 1992.8,264.0 1994.3,263.6 1995.8,263.6 1997.3,263.7 1998.8,264.7 2000.3,265.2 2001.8,264.8 2003.3,264.8 2004.8,265.4 2006.3,265.8 2007.8,266.4 2009.3,266.5 2010.8,265.8 2012.3,266.3 2013.8,266.3 2015.3,266.9 2016.8,266.0 2018.3,265.7 2019.8,266.7 2021.3,266.5 2022.8,266.7 2024.3,267.0 2025.8,266.8 2027.3,267.3 2028.8,266.8 2030.3,266.6 2031.8,267.4 2033.3,266.8 2034.8,267.6 2036.3,267.3 2037.8,267.0 2039.3,267.5 2040.8,267.7 2042.3,268.8 2043.8,269.5 2045.3,269.5 2046.8,269.8 2048.3,269.2 2049.8,270.2 2051.3,269.8 2052.8,270.0 2054.3,269.0 2055.8,269.6 2057.3,269.6 2058.8,271.0 2060.3,270.3 2061.8,271.5 2063.3,270.5 2064.8,269.9 2066.3,270.7 2067.8,270.9 2069.3,269.9 2070.8,269.8 2072.3,270.1 2073.8,269.6 2075.3,269.7 2076.8,269.1 2078.3,269.8 2079.8,269.3 2081.3,269.9 2082.8,269.9 2084.3,270.3 2085.8,270.1 2087.3,270.0 2088.8,270.9 2090.3,270.2 2091.8,269.7 2093.3,270.3 2094.8,271.0 2096.3,271.6 2097.8,272.0 2099.3,271.0 2100.8,272.0 2102.3,271.4 2103.8,271.3 2105.3,270.3 2106.8,270.4 2108.3,269.2 2109.8,270.1 2111.3,269.8 2112.8,270.1 2114.3,270.1 2115.8,268.9 2117.3,269.6 2118.8,269.6 2120.3,268.8 2121.8,269.7 2123.3,268.3 2124.8,268.0 2126.3,268.8 2127.8,269.7 2129.3,269.3 2130.8,268.5 2132.3,269.4 2133.8,270.6 2135.3,270.0 2136.8,270.6 2138.3,270.3 2139.8,271.7 2141.3,271.5 2142.8,269.9 2144.3,269.2 2145.8,270.0 2147.3,269.7 2148.8,269.1 2150.3,269.0 2151.8,268.6 2153.3,269.1 2154.8,269.0" fill="none" stroke="#17a917" stroke-width="4.6" stroke-linejoin="round" stroke-linecap="round"/>
<path d="M1320.8,115.5 1322.3,115.2 1323.8,112.1 1325.3,113.2 1326.8,116.5 1328.3,109.4 1329.8,113.5 1331.3,116.9 1332.8,112.6 1334.3,117.5 1335.8,115.3 1337.3,112.0 1338.8,114.5 1340.3,114.3 1341.8,113.8 1343.3,115.1 1344.8,111.2 1346.3,113.2 1347.8,115.1 1349.3,114.8 1350.8,114.8 1352.3,119.0 1353.8,112.7 1355.3,111.8 1356.8,113.6 1358.3,111.9 1359.8,114.0 1361.3,112.6 1362.8,116.9 1364.3,114.7 1365.8,117.3 1367.3,121.3 1368.8,122.1 1370.3,125.4 1371.8,127.2 1373.3,129.0 1374.8,127.0 1376.3,131.3 1377.8,130.9 1379.3,131.6 1380.8,130.2 1382.3,132.4 1383.8,132.9 1385.3,132.5 1386.8,132.9 1388.3,133.0 1389.8,133.3 1391.3,135.2 1392.8,135.5 1394.3,136.8 1395.8,138.8 1397.3,140.9 1398.8,143.0 1400.3,143.1 1401.8,142.4 1403.3,141.8 1404.8,143.4 1406.3,142.0 1407.8,142.4 1409.3,141.9 1410.8,146.7 1412.3,147.7 1413.8,146.5 1415.3,149.2 1416.8,150.5 1418.3,152.5 1419.8,152.6 1421.3,149.9 1422.8,151.3 1424.3,149.1 1425.8,150.7 1427.3,151.0 1428.8,151.1 1430.3,150.8 1431.8,152.4 1433.3,155.9 1434.8,153.7 1436.3,155.4 1437.8,157.3 1439.3,157.9 1440.8,157.2 1442.3,159.6 1443.8,160.1 1445.3,159.4 1446.8,159.8 1448.3,159.9 1449.8,161.1 1451.3,161.4 1452.8,162.8 1454.3,160.5 1455.8,163.5 1457.3,163.0 1458.8,165.1 1460.3,165.4 1461.8,164.5 1463.3,165.3 1464.8,165.4 1466.3,165.7 1467.8,167.0 1469.3,168.2 1470.8,167.5 1472.3,166.9 1473.8,168.3 1475.3,167.6 1476.8,169.0 1478.3,170.1 1479.8,171.0 1481.3,171.9 1482.8,170.8 1484.3,169.7 1485.8,172.2 1487.3,172.4 1488.8,173.7 1490.3,174.2 1491.8,174.1 1493.3,175.4 1494.8,177.3 1496.3,177.0 1497.8,177.0 1499.3,180.0 1500.8,180.6 1502.3,180.6 1503.8,182.5 1505.3,181.8 1506.8,181.6 1508.3,182.6 1509.8,184.0 1511.3,182.0 1512.8,183.6 1514.3,182.0 1515.8,183.6 1517.3,182.9 1518.8,183.3 1520.3,185.0 1521.8,187.4 1523.3,185.3 1524.8,187.9 1526.3,189.0 1527.8,191.8 1529.3,191.9 1530.8,191.9 1532.3,193.8 1533.8,194.2 1535.3,194.1 1536.8,195.2 1538.3,195.1 1539.8,195.9 1541.3,194.4 1542.8,195.7 1544.3,195.8 1545.8,194.4 1547.3,198.0 1548.8,196.9 1550.3,196.8 1551.8,197.2 1553.3,198.6 1554.8,200.0 1556.3,201.6 1557.8,201.5 1559.3,202.6 1560.8,205.2 1562.3,204.0 1563.8,207.0 1565.3,205.8 1566.8,205.2 1568.3,205.9 1569.8,208.0 1571.3,207.2 1572.8,206.6 1574.3,208.5 1575.8,208.2 1577.3,207.5 1578.8,207.4 1580.3,207.3 1581.8,208.5 1583.3,209.2 1584.8,210.3 1586.3,211.0 1587.8,211.2 1589.3,210.3 1590.8,211.9 1592.3,213.6 1593.8,213.8 1595.3,214.8 1596.8,214.8 1598.3,215.3 1599.8,216.2 1601.3,216.0 1602.8,214.6 1604.3,215.5 1605.8,215.2 1607.3,215.3 1608.8,217.6 1610.3,217.5 1611.8,219.9 1613.3,219.3 1614.8,220.1 1616.3,220.2 1617.8,220.8 1619.3,222.4 1620.8,221.9 1622.3,223.7 1623.8,223.3 1625.3,223.3 1626.8,222.6 1628.3,221.8 1629.8,223.4 1631.3,222.5 1632.8,223.3 1634.3,224.3 1635.8,224.1 1637.3,224.7 1638.8,224.6 1640.3,226.7 1641.8,227.3 1643.3,225.8 1644.8,227.2 1646.3,227.8 1647.8,227.8 1649.3,227.4 1650.8,226.4 1652.3,226.2 1653.8,227.2 1655.3,228.4 1656.8,229.3 1658.3,229.6 1659.8,228.8 1661.3,229.3 1662.8,228.8 1664.3,228.0 1665.8,229.0 1667.3,230.7 1668.8,231.0 1670.3,231.3 1671.8,232.0 1673.3,234.2 1674.8,233.5 1676.3,233.3 1677.8,232.7 1679.3,233.2 1680.8,233.6 1682.3,232.8 1683.8,233.3 1685.3,232.6 1686.8,234.7 1688.3,232.7 1689.8,233.8 1691.3,232.8 1692.8,233.6 1694.3,234.1 1695.8,233.9 1697.3,232.9 1698.8,235.5 1700.3,235.6 1701.8,235.2 1703.3,236.2 1704.8,237.7 1706.3,237.4 1707.8,238.7 1709.3,237.6 1710.8,238.7 1712.3,239.1 1713.8,238.3 1715.3,238.6 1716.8,238.9 1718.3,239.7 1719.8,239.8 1721.3,239.5 1722.8,239.8 1724.3,239.6 1725.8,239.8 1727.3,240.1 1728.8,240.1 1730.3,241.0 1731.8,240.3 1733.3,240.0 1734.8,240.1 1736.3,240.7 1737.8,241.3 1739.3,240.8 1740.8,240.9 1742.3,241.9 1743.8,242.5 1745.3,241.3 1746.8,241.7 1748.3,240.8 1749.8,243.6 1751.3,241.5 1752.8,241.6 1754.3,242.8 1755.8,242.8 1757.3,243.8 1758.8,242.8 1760.3,243.5 1761.8,243.6 1763.3,243.9 1764.8,244.9 1766.3,244.0 1767.8,243.8 1769.3,245.1 1770.8,244.9 1772.3,246.4 1773.8,246.4 1775.3,246.5 1776.8,245.5 1778.3,245.6 1779.8,246.2 1781.3,246.6 1782.8,245.4 1784.3,246.6 1785.8,247.3 1787.3,247.1 1788.8,248.4 1790.3,248.2 1791.8,249.3 1793.3,248.3 1794.8,249.5 1796.3,247.9 1797.8,249.7 1799.3,251.3 1800.8,250.9 1802.3,251.2 1803.8,251.1 1805.3,253.0 1806.8,252.8 1808.3,252.1 1809.8,252.5 1811.3,252.5 1812.8,252.0 1814.3,253.6 1815.8,253.6 1817.3,253.9 1818.8,255.5 1820.3,255.2 1821.8,254.7 1823.3,255.7 1824.8,255.3 1826.3,255.5 1827.8,255.2 1829.3,255.5 1830.8,255.6 1832.3,255.1 1833.8,257.1 1835.3,256.3 1836.8,254.8 1838.3,257.2 1839.8,256.0 1841.3,257.3 1842.8,258.0 1844.3,256.8 1845.8,256.8 1847.3,257.4 1848.8,256.9 1850.3,256.9 1851.8,256.6 1853.3,257.1 1854.8,256.3 1856.3,257.7 1857.8,258.3 1859.3,258.9 1860.8,259.0 1862.3,258.0 1863.8,258.1 1865.3,257.0 1866.8,258.0 1868.3,259.1 1869.8,258.4 1871.3,258.1 1872.8,259.0 1874.3,259.3 1875.8,259.0 1877.3,259.4 1878.8,260.1 1880.3,260.8 1881.8,260.2 1883.3,260.4 1884.8,260.3 1886.3,261.5 1887.8,261.2 1889.3,263.1 1890.8,262.3 1892.3,260.6 1893.8,263.4 1895.3,263.1 1896.8,263.2 1898.3,263.7 1899.8,263.8 1901.3,264.1 1902.8,264.5 1904.3,265.0 1905.8,265.2 1907.3,266.2 1908.8,265.3 1910.3,265.4 1911.8,265.5 1913.3,264.6 1914.8,264.6 1916.3,265.0 1917.8,266.5 1919.3,265.1 1920.8,266.5 1922.3,266.0 1923.8,268.2 1925.3,266.3 1926.8,266.5 1928.3,267.1 1929.8,266.9 1931.3,268.2 1932.8,268.5 1934.3,268.8 1935.8,269.7 1937.3,268.3 1938.8,269.1 1940.3,268.9 1941.8,268.7 1943.3,269.1 1944.8,270.0 1946.3,268.2 1947.8,270.0 1949.3,268.9 1950.8,268.6 1952.3,268.3 1953.8,269.6 1955.3,269.3 1956.8,269.2 1958.3,268.8 1959.8,269.1 1961.3,269.0 1962.8,269.4 1964.3,268.5 1965.8,269.8 1967.3,270.6 1968.8,270.9 1970.3,270.1 1971.8,271.4 1973.3,271.9 1974.8,272.8 1976.3,272.7 1977.8,272.8 1979.3,271.9 1980.8,272.1 1982.3,271.2 1983.8,270.8 1985.3,270.1 1986.8,271.1 1988.3,271.1 1989.8,270.8 1991.3,272.8 1992.8,272.2 1994.3,272.8 1995.8,272.7 1997.3,272.3 1998.8,272.3 2000.3,272.4 2001.8,271.3 2003.3,270.9 2004.8,272.3 2006.3,272.2 2007.8,271.9 2009.3,273.3 2010.8,272.6 2012.3,273.7 2013.8,274.2 2015.3,274.4 2016.8,274.9 2018.3,274.5 2019.8,274.0 2021.3,274.5 2022.8,275.3 2024.3,275.2 2025.8,275.5 2027.3,275.6 2028.8,276.7 2030.3,276.3 2031.8,277.2 2033.3,277.6 2034.8,277.2 2036.3,278.3 2037.8,278.2 2039.3,278.2 2040.8,277.1 2042.3,278.2 2043.8,277.3 2045.3,277.5 2046.8,277.8 2048.3,278.2 2049.8,277.6 2051.3,278.4 2052.8,278.4 2054.3,278.5 2055.8,278.7 2057.3,278.2 2058.8,278.7 2060.3,279.4 2061.8,278.3 2063.3,277.9 2064.8,279.5 2066.3,278.1 2067.8,278.6 2069.3,278.4 2070.8,278.8 2072.3,278.5 2073.8,278.9 2075.3,278.4 2076.8,278.2 2078.3,280.0 2079.8,278.9 2081.3,279.1 2082.8,278.3 2084.3,278.8 2085.8,279.2 2087.3,280.3 2088.8,279.8 2090.3,280.9 2091.8,280.9 2093.3,281.0 2094.8,281.8 2096.3,281.6 2097.8,280.9 2099.3,281.6 2100.8,280.6 2102.3,281.6 2103.8,281.5 2105.3,282.9 2106.8,282.5 2108.3,283.6 2109.8,283.2 2111.3,283.1 2112.8,284.0 2114.3,283.1 2115.8,283.4 2117.3,284.2 2118.8,285.2 2120.3,285.1 2121.8,284.1 2123.3,283.9 2124.8,285.0 2126.3,284.0 2127.8,284.2 2129.3,284.3 2130.8,283.9 2132.3,283.8 2133.8,283.9 2135.3,284.4 2136.8,283.5 2138.3,283.9 2139.8,284.1 2141.3,284.2 2142.8,284.0 2144.3,283.7 2145.8,284.0 2147.3,283.1 2148.8,283.4 2150.3,283.8 2151.8,283.3 2153.3,281.5 2154.8,283.2" fill="none" stroke="#17a917" stroke-width="4.6" stroke-linejoin="round" stroke-linecap="round"/>
<line x1="1450.1" y1="126.2" x2="1507.2" y2="95.2" stroke="#000" stroke-width="2.0" />
<text transform="translate(1511.4,104.1) scale(0.9615,1)" font-size="28.70" text-anchor="start" font-weight="normal"  style="">mSG</text>
<line x1="1556.0" y1="175.5" x2="1651.0" y2="123.2" stroke="#000" stroke-width="2.0" />
<text transform="translate(1656.0,131.0) scale(0.9615,1)" font-size="28.70" text-anchor="start" font-weight="normal"  style="">mSG2</text>
<line x1="1807.2" y1="248.7" x2="1868.5" y2="161.9" stroke="#000" stroke-width="2.0" />
<text transform="translate(1873.2,172.6) scale(0.9615,1)" font-size="28.70" text-anchor="start" font-weight="normal"  style="">SG</text>
<line x1="1844.6" y1="239.8" x2="1981.5" y2="197.6" stroke="#000" stroke-width="2.0" />
<text transform="translate(1988.7,202.3) scale(0.9615,1)" font-size="28.70" text-anchor="start" font-weight="normal"  style="">td8ox2SG</text>
<line x1="1330.0" y1="166.6" x2="1364.4" y2="217.2" stroke="#000" stroke-width="2.0" />
<text transform="translate(1368.6,223.2) scale(0.9615,1)" font-size="28.70" text-anchor="start" font-weight="normal"  style="">mNeonGreen</text>
<line x1="1389.4" y1="288.6" x2="1425.1" y2="264.8" stroke="#000" stroke-width="2.0" />
<text transform="translate(1430.0,258.9) scale(0.9615,1)" font-size="28.70" text-anchor="start" font-weight="normal"  style="">mEGFP</text>
<line x1="1341.8" y1="310.6" x2="1544.2" y2="290.4" stroke="#000" stroke-width="2.0" />
<text transform="translate(1551.9,295.7) scale(0.9615,1)" font-size="28.70" text-anchor="start" font-weight="normal"  style="">mClover3</text>
<line x1="1330.0" y1="333.2" x2="1632.2" y2="323.1" stroke="#000" stroke-width="2.0" />
<text transform="translate(1639.4,331.5) scale(0.9615,1)" font-size="28.70" text-anchor="start" font-weight="normal"  style="">mGreenLantern</text>
<line x1="177.6" y1="474.5" x2="177.6" y2="800.8" stroke="#000" stroke-width="2.7" />
<line x1="176.3" y1="799.5" x2="1014.0" y2="799.5" stroke="#000" stroke-width="2.7" />
<path d="M177.8,556.5 177.8,558.6 177.8,559.7 177.8,561.1 177.8,562.5 177.8,564.0 177.9,565.5 177.9,567.0 177.9,568.5 177.9,570.0 177.9,571.5 178.0,573.0 178.0,574.5 178.0,576.0 178.0,577.5 178.1,579.0 178.1,580.5 178.1,582.0 178.2,583.5 178.2,585.0 178.3,586.5 178.3,588.0 178.3,589.5 178.4,591.0 178.4,592.5 178.5,594.0 178.5,595.5 178.6,597.0 178.6,598.5 178.7,600.0 178.7,601.5 178.8,603.0 178.8,604.5 178.9,606.0 178.9,607.5 179.0,609.0 179.0,610.5 179.1,612.0 179.2,613.5 179.2,615.0 179.3,616.5 179.4,618.0 179.5,619.5 179.6,621.0 179.7,622.4 179.8,623.9 179.9,625.4 180.0,626.9 180.1,628.4 180.2,629.9 180.3,631.4 180.4,632.9 180.6,634.4 180.7,635.9 180.8,637.4 180.9,638.9 181.1,640.4 181.2,641.9 181.3,643.4 181.5,644.9 181.6,646.4 181.8,647.8 182.0,649.3 182.1,650.8 182.3,652.3 182.5,653.8 182.7,655.3 182.9,656.8 183.1,658.3 183.3,659.7 183.5,661.2 183.8,662.7 184.0,664.2 184.2,665.7 184.4,667.2 184.6,668.7 184.8,670.1 185.1,671.6 185.3,673.1 185.5,674.6 185.7,676.1 185.9,677.6 186.2,679.0 186.4,680.5 186.6,682.0 186.8,683.5 187.0,685.0 187.2,686.5 187.4,687.9 187.7,689.4 187.9,690.9 188.1,692.4 188.4,693.9 188.6,695.4 188.8,696.8 189.1,698.3 189.3,699.8 189.6,701.3 189.8,702.8 190.1,704.2 190.3,705.7 190.6,707.2 190.9,708.7 191.2,710.1 191.5,711.6 191.8,713.1 192.1,714.5 192.4,716.0 192.7,717.5 193.0,719.0 193.4,720.4 193.7,721.9 194.1,723.3 194.4,724.8 194.8,726.2 195.2,727.7 195.7,729.1 196.1,730.5 196.6,731.9 197.0,733.4 197.5,734.8 198.1,736.2 198.6,737.6 199.1,739.0 199.7,740.4 200.3,741.8 200.9,743.2 201.5,744.5 202.1,745.9 202.7,747.3 203.4,748.6 204.0,750.0 204.7,751.3 205.4,752.7 206.1,754.0 206.9,755.3 207.7,756.6 208.4,757.9 209.3,759.1 210.1,760.4 211.0,761.5 211.9,762.7 212.8,763.9 213.8,765.0 214.8,766.1 215.8,767.2 216.9,768.3 218.0,769.3 219.1,770.3 220.3,771.3 221.4,772.3 222.6,773.2 223.7,774.2 224.9,775.1 226.1,776.0 227.3,776.9 228.6,777.7 229.8,778.6 231.1,779.4 232.3,780.2 233.6,781.0 234.9,781.7 236.2,782.5 237.6,783.2 238.9,783.8 240.2,784.5 241.6,785.2 243.0,785.8 244.3,786.4 245.7,787.0 247.1,787.6 248.5,788.1 249.9,788.6 251.3,789.1 252.8,789.5 254.2,789.9 255.6,790.3 257.1,790.7 258.5,791.1 260.0,791.4 261.4,791.7 262.9,792.0 264.4,792.4 265.9,792.6 267.4,792.9 268.8,793.2 270.3,793.4 271.8,793.7 273.3,793.9 274.8,794.1 276.3,794.3 277.7,794.5 279.2,794.7 280.7,794.9 282.2,795.1 283.7,795.3 285.2,795.5 286.7,795.7 288.2,795.8 289.6,796.0 291.1,796.2 292.6,796.3 294.1,796.5 295.6,796.6 297.1,796.8 298.6,796.9 300.1,797.0 301.6,797.1 303.1,797.3 304.6,797.4 306.1,797.5 307.6,797.5 309.1,797.6 310.6,797.7 312.1,797.8 313.6,797.8 315.1,797.9 316.6,798.0 318.1,798.0 319.6,798.1 321.1,798.1 322.6,798.2 324.1,798.2 325.6,798.3 327.1,798.4 328.6,798.4 330.0,798.5 331.5,798.5 333.0,798.6 334.5,798.6 336.0,798.7 337.5,798.7 339.0,798.7 340.5,798.8 342.0,798.8 343.5,798.9 345.0,798.9 346.5,798.9 348.0,799.0 349.5,799.0 351.0,799.1 352.5,799.1 354.0,799.1 355.5,799.2 357.0,799.2 358.5,799.2 360.0,799.2 361.5,799.3 363.0,799.3 364.5,799.3 366.0,799.3 367.5,799.4 369.0,799.4 370.5,799.4 372.0,799.4 373.5,799.4 375.0,799.5 376.5,799.5 378.0,799.5 379.5,799.5 381.0,799.5 382.5,799.5 384.0,799.5 385.5,799.5 387.0,799.6 388.5,799.6 390.0,799.6 391.5,799.6 393.0,799.6 394.5,799.6 396.0,799.6 397.5,799.6 399.0,799.6 400.5,799.6 402.0,799.7 403.5,799.7 405.0,799.7 406.5,799.7 408.0,799.7 409.5,799.7 411.0,799.7 412.5,799.7 414.0,799.7 415.5,799.7 417.0,799.8 418.5,799.8 420.0,799.8 421.5,799.8 423.0,799.8 424.5,799.8 426.0,799.8 427.5,799.8 429.0,799.8 430.5,799.8 432.0,799.8 433.5,799.8 435.0,799.8 436.5,799.9 438.0,799.9 439.5,799.9 441.0,799.9 442.5,799.9 444.0,799.9 445.5,799.9 447.0,799.9 448.5,799.9 450.0,799.9 451.5,799.9 453.0,799.9 454.5,799.9 456.0,799.9 457.5,799.9 459.0,799.9 460.5,799.9 462.0,799.9 463.5,799.9 465.0,800.0 466.5,800.0 468.0,800.0 469.5,800.0 471.0,800.0 472.5,800.0 474.0,800.0 475.5,800.0 477.0,800.0 478.5,800.0 480.0,800.0 481.5,800.0 483.0,800.0 484.5,800.0 486.0,800.0 487.5,800.0 489.0,800.0 490.5,800.0 492.0,800.0 493.5,800.0 494.9,800.0 496.3,800.0 497.5,800.0 498.5,800.0" fill="none" stroke="#000000" stroke-width="4" stroke-linejoin="round" stroke-linecap="round"/>
<path d="M177.8,549.6 177.8,551.7 177.8,552.8 177.8,554.2 177.8,555.6 177.8,557.1 177.8,558.6 177.8,560.1 177.8,561.6 177.8,563.1 177.8,564.6 177.9,566.1 177.9,567.6 177.9,569.1 177.9,570.6 177.9,572.1 177.9,573.6 177.9,575.1 177.9,576.6 177.9,578.1 177.9,579.6 178.0,581.1 178.0,582.6 178.0,584.1 178.0,585.6 178.0,587.1 178.0,588.6 178.0,590.1 178.0,591.6 178.1,593.1 178.1,594.6 178.1,596.1 178.1,597.6 178.1,599.1 178.1,600.6 178.2,602.1 178.2,603.6 178.2,605.1 178.2,606.6 178.2,608.1 178.2,609.6 178.3,611.1 178.3,612.6 178.3,614.1 178.3,615.6 178.3,617.1 178.4,618.6 178.4,620.1 178.4,621.6 178.4,623.1 178.4,624.6 178.4,626.1 178.5,627.6 178.5,629.1 178.5,630.6 178.5,632.1 178.5,633.6 178.6,635.1 178.6,636.6 178.6,638.1 178.6,639.6 178.7,641.1 178.7,642.6 178.7,644.1 178.7,645.6 178.8,647.1 178.8,648.6 178.8,650.1 178.8,651.6 178.9,653.1 178.9,654.6 178.9,656.1 179.0,657.6 179.0,659.1 179.0,660.6 179.1,662.1 179.1,663.6 179.1,665.1 179.2,666.6 179.2,668.1 179.2,669.6 179.3,671.1 179.3,672.6 179.3,674.1 179.4,675.6 179.4,677.1 179.5,678.6 179.5,680.1 179.5,681.6 179.6,683.1 179.6,684.6 179.7,686.1 179.7,687.6 179.8,689.1 179.8,690.6 179.9,692.1 179.9,693.6 180.0,695.1 180.0,696.6 180.0,698.1 180.1,699.6 180.2,701.1 180.2,702.6 180.3,704.1 180.3,705.6 180.4,707.1 180.4,708.6 180.5,710.1 180.5,711.6 180.6,713.1 180.7,714.6 180.7,716.1 180.8,717.6 180.9,719.1 180.9,720.6 181.0,722.1 181.1,723.6 181.2,725.1 181.3,726.6 181.4,728.1 181.5,729.6 181.6,731.1 181.7,732.6 181.8,734.0 181.9,735.5 182.0,737.0 182.2,738.5 182.3,740.0 182.5,741.5 182.6,743.0 182.8,744.5 183.0,746.0 183.3,747.5 183.5,749.1 183.8,750.6 184.1,752.1 184.5,753.6 184.8,755.0 185.2,756.5 185.6,757.9 186.1,759.3 186.6,760.6 187.2,761.9 187.8,763.2 188.6,764.5 189.5,765.7 190.4,766.9 191.5,768.0 192.6,769.0 193.8,770.0 194.9,770.9 196.2,771.6 197.5,772.3 198.8,773.0 200.2,773.6 201.6,774.1 203.0,774.6 204.5,775.1 205.9,775.6 207.4,776.0 208.8,776.5 210.3,776.9 211.7,777.3 213.1,777.7 214.6,778.1 216.0,778.5 217.5,778.9 218.9,779.3 220.4,779.6 221.9,780.0 223.3,780.3 224.8,780.6 226.3,780.9 227.7,781.2 229.2,781.5 230.7,781.8 232.2,782.0 233.6,782.3 235.1,782.5 236.6,782.7 238.1,783.0 239.6,783.2 241.0,783.4 242.5,783.6 244.0,783.8 245.5,784.0 247.0,784.2 248.5,784.4 250.0,784.6 251.5,784.8 253.0,785.0 254.4,785.2 255.9,785.3 257.4,785.5 258.9,785.6 260.4,785.8 261.9,786.0 263.4,786.1 264.9,786.2 266.4,786.4 267.9,786.5 269.4,786.7 270.9,786.8 272.4,786.9 273.8,787.1 275.3,787.2 276.8,787.3 278.3,787.4 279.8,787.5 281.3,787.7 282.8,787.8 284.3,787.9 285.8,788.0 287.3,788.1 288.8,788.2 290.3,788.3 291.8,788.4 293.3,788.5 294.8,788.6 296.3,788.7 297.8,788.8 299.3,788.9 300.8,789.0 302.3,789.1 303.8,789.2 305.3,789.3 306.8,789.4 308.3,789.5 309.8,789.6 311.3,789.6 312.8,789.7 314.3,789.8 315.7,789.9 317.2,790.0 318.7,790.1 320.2,790.2 321.7,790.3 323.2,790.4 324.7,790.4 326.2,790.5 327.7,790.6 329.2,790.7 330.7,790.8 332.2,790.9 333.7,791.0 335.2,791.0 336.7,791.1 338.2,791.2 339.7,791.3 341.2,791.4 342.7,791.5 344.2,791.5 345.7,791.6 347.2,791.7 348.7,791.8 350.2,791.8 351.7,791.9 353.2,792.0 354.7,792.1 356.2,792.1 357.7,792.2 359.2,792.3 360.7,792.3 362.2,792.4 363.7,792.5 365.2,792.5 366.7,792.6 368.2,792.7 369.7,792.7 371.2,792.8 372.7,792.8 374.2,792.9 375.7,793.0 377.2,793.0 378.7,793.1 380.2,793.1 381.7,793.2 383.2,793.2 384.7,793.3 386.2,793.3 387.7,793.4 389.2,793.4 390.6,793.5 392.1,793.5 393.6,793.5 395.1,793.6 396.6,793.6 398.1,793.7 399.6,793.7 401.1,793.8 402.6,793.8 404.1,793.9 405.6,793.9 407.1,793.9 408.6,794.0 410.1,794.0 411.6,794.1 413.1,794.1 414.6,794.1 416.1,794.2 417.6,794.2 419.1,794.3 420.6,794.3 422.1,794.3 423.6,794.4 425.1,794.4 426.6,794.5 428.1,794.5 429.6,794.5 431.1,794.6 432.6,794.6 434.1,794.6 435.6,794.7 437.1,794.7 438.6,794.7 440.1,794.8 441.6,794.8 443.1,794.8 444.6,794.9 446.1,794.9 447.6,794.9 449.1,795.0 450.6,795.0 452.1,795.0 453.6,795.0 455.1,795.1 456.6,795.1 458.1,795.1 459.6,795.2 461.1,795.2 462.6,795.2 464.1,795.3 465.6,795.3 467.1,795.3 468.6,795.3 470.1,795.4 471.6,795.4 473.1,795.4 474.6,795.4 476.1,795.5 477.6,795.5 479.1,795.5 480.6,795.6 482.1,795.6 483.6,795.6 485.1,795.6 486.6,795.7 488.1,795.7 489.6,795.7 491.1,795.7 492.6,795.8 494.1,795.8 495.6,795.8 497.1,795.8 498.6,795.9 500.1,795.9 501.6,795.9 503.1,795.9 504.6,796.0 506.1,796.0 507.6,796.0 509.1,796.0 510.6,796.1 512.1,796.1 513.6,796.1 515.1,796.1 516.6,796.2 518.1,796.2 519.6,796.2 521.1,796.2 522.6,796.2 524.1,796.3 525.6,796.3 527.1,796.3 528.6,796.3 530.1,796.4 531.6,796.4 533.1,796.4 534.6,796.4 536.1,796.4 537.6,796.5 539.1,796.5 540.6,796.5 542.1,796.5 543.6,796.5 545.1,796.6 546.6,796.6 548.1,796.6 549.6,796.6 551.1,796.6 552.6,796.7 554.1,796.7 555.6,796.7 557.1,796.7 558.6,796.7 560.1,796.7 561.6,796.8 563.1,796.8 564.6,796.8 566.1,796.8 567.6,796.8 569.1,796.8 570.6,796.9 572.1,796.9 573.6,796.9 575.1,796.9 576.6,796.9 578.1,796.9 579.6,796.9 581.1,796.9 582.6,797.0 584.1,797.0 585.6,797.0 587.1,797.0 588.6,797.0 590.1,797.0 591.6,797.0 593.1,797.0 594.6,797.1 596.1,797.1 597.6,797.1 599.1,797.1 600.6,797.1 602.1,797.1 603.6,797.1 605.1,797.1 606.6,797.1 608.1,797.1 609.6,797.2 611.1,797.2 612.6,797.2 614.1,797.2 615.6,797.2 617.1,797.2 618.6,797.2 620.1,797.2 621.6,797.2 623.1,797.2 624.6,797.2 626.1,797.3 627.6,797.3 629.1,797.3 630.6,797.3 632.1,797.3 633.6,797.3 635.1,797.3 636.6,797.3 638.1,797.3 639.6,797.3 641.1,797.3 642.6,797.3 644.1,797.4 645.6,797.4 647.1,797.4 648.6,797.4 650.1,797.4 651.6,797.4 653.1,797.4 654.6,797.4 656.1,797.4 657.6,797.4 659.1,797.4 660.6,797.4 662.1,797.4 663.6,797.5 665.1,797.5 666.6,797.5 668.1,797.5 669.6,797.5 671.1,797.5 672.6,797.5 674.1,797.5 675.6,797.5 677.1,797.5 678.6,797.5 680.1,797.5 681.6,797.5 683.1,797.5 684.6,797.6 686.1,797.6 687.6,797.6 689.1,797.6 690.6,797.6 692.1,797.6 693.6,797.6 695.1,797.6 696.6,797.6 698.1,797.6 699.6,797.6 701.1,797.6 702.6,797.6 704.1,797.6 705.6,797.6 707.1,797.6 708.6,797.7 710.1,797.7 711.6,797.7 713.1,797.7 714.6,797.7 716.1,797.7 717.6,797.7 719.1,797.7 720.6,797.7 722.1,797.7 723.6,797.7 725.1,797.7 726.6,797.7 728.1,797.7 729.6,797.7 731.1,797.7 732.6,797.7 734.1,797.8 735.6,797.8 737.1,797.8 738.6,797.8 740.1,797.8 741.6,797.8 743.1,797.8 744.6,797.8 746.0,797.8 747.5,797.8 749.0,797.8 750.5,797.8 752.0,797.8 753.5,797.8 755.0,797.8 756.5,797.8 758.0,797.8 759.5,797.8 761.0,797.9 762.5,797.9 764.0,797.9 765.5,797.9 767.0,797.9 768.5,797.9 770.0,797.9 771.5,797.9 773.0,797.9 774.5,797.9 776.0,797.9 777.5,797.9 779.0,797.9 780.5,797.9 782.0,797.9 783.5,797.9 785.0,797.9 786.5,797.9 788.0,798.0 789.5,798.0 791.0,798.0 792.5,798.0 794.0,798.0 795.5,798.0 797.0,798.0 798.5,798.0 800.0,798.0 801.5,798.0 803.0,798.0 804.5,798.0 806.0,798.0 807.5,798.0 809.0,798.0 810.5,798.0 812.0,798.0 813.5,798.1 815.0,798.1 816.5,798.1 818.0,798.1 819.5,798.1 821.0,798.1 822.5,798.1 824.0,798.1 825.5,798.1 827.0,798.1 828.5,798.1 830.0,798.1 831.5,798.1 833.0,798.1 834.5,798.1 836.0,798.1 837.5,798.1 839.0,798.1 840.5,798.2 842.0,798.2 843.5,798.2 845.0,798.2 846.5,798.2 848.0,798.2 849.5,798.2 851.0,798.2 852.5,798.2 854.0,798.2 855.5,798.2 857.0,798.2 858.5,798.2 860.0,798.2 861.5,798.2 863.0,798.2 864.5,798.2 866.0,798.2 867.5,798.3 869.0,798.3 870.5,798.3 872.0,798.3 873.5,798.3 875.0,798.3 876.5,798.3 878.0,798.3 879.5,798.3 881.0,798.3 882.5,798.3 884.0,798.3 885.5,798.3 887.0,798.3 888.5,798.3 890.0,798.3 891.5,798.3 893.0,798.3 894.5,798.3 896.0,798.3 897.5,798.4 899.0,798.4 900.5,798.4 902.0,798.4 903.5,798.4 905.0,798.4 906.5,798.4 908.0,798.4 909.5,798.4 911.0,798.4 912.5,798.4 914.0,798.4 915.5,798.4 917.0,798.4 918.5,798.4 920.0,798.4 921.5,798.4 923.0,798.4 924.5,798.4 926.0,798.4 927.5,798.5 929.0,798.5 930.5,798.5 932.0,798.5 933.5,798.5 935.0,798.5 936.5,798.5 938.0,798.5 939.5,798.5 941.0,798.5 942.5,798.5 944.0,798.5 945.5,798.5 947.0,798.5 948.5,798.5 950.0,798.5 951.5,798.5 953.0,798.5 954.5,798.5 956.0,798.5 957.5,798.5 959.0,798.5 960.5,798.6 962.0,798.6 963.5,798.6 965.0,798.6 966.5,798.6 968.0,798.6 969.5,798.6 971.0,798.6 972.5,798.6 974.0,798.6 975.5,798.6 977.0,798.6 978.5,798.6 980.0,798.6 981.5,798.6 983.0,798.6 984.5,798.6 986.0,798.6 987.5,798.6 989.0,798.6 990.5,798.6 992.0,798.6 993.5,798.6 995.0,798.7 996.5,798.7 998.0,798.7 999.5,798.7 1001.0,798.7 1002.5,798.7 1004.0,798.7 1005.5,798.7 1007.0,798.7 1008.4,798.7 1009.8,798.7 1010.9,798.7 1013.0,798.7" fill="none" stroke="#e51ee5" stroke-width="4" stroke-linejoin="round" stroke-linecap="round"/>
<path d="M178.9,580.1 179.7,581.5 180.3,582.0 180.9,584.3 181.6,585.7 182.2,586.1 182.9,587.9 183.6,588.1 184.2,590.0 184.9,592.2 185.6,592.4 186.2,594.7 186.9,596.2 187.6,596.5 188.2,598.4 188.9,600.4 189.6,602.1 190.2,602.5 190.9,604.4 191.6,604.8 192.3,606.2 193.0,608.0 193.6,609.5 194.3,610.6 195.0,612.3 195.7,613.5 196.4,615.0 197.2,616.1 197.9,617.2 198.6,618.5 199.3,619.7 200.0,621.2 200.8,622.9 201.5,624.1 202.2,625.6 203.0,626.7 203.7,628.0 204.4,628.6 205.2,630.1 205.9,631.4 206.6,632.6 207.4,633.2 208.1,635.8 208.8,636.4 209.5,637.8 210.2,639.1 211.0,641.4 211.7,642.2 212.4,644.0 213.1,644.7 213.9,646.3 214.6,647.6 215.3,648.5 216.1,650.0 216.8,650.5 217.6,652.1 218.3,653.8 219.1,654.1 219.9,656.5 220.6,657.7 221.4,658.6 222.2,660.5 223.0,661.7 223.8,663.2 224.6,664.1 225.4,665.5 226.2,666.7 227.0,667.3 227.8,669.1 228.6,670.3 229.5,671.6 230.3,672.8 231.1,674.4 231.9,675.3 232.8,676.3 233.6,678.1 234.5,678.2 235.3,679.7 236.2,682.0 237.1,682.2 237.9,684.1 238.8,684.7 239.8,686.6 240.7,687.6 241.7,689.0 242.7,690.0 243.7,691.3 244.7,691.5 245.7,693.6 246.8,693.9 247.9,695.4 249.0,696.1 250.1,697.6 251.2,698.4 252.3,699.3 253.4,700.4 254.6,701.1 255.7,702.1 256.9,703.7 258.0,704.3 259.2,705.0 260.4,705.8 261.6,707.3 262.7,707.4 263.9,708.6 265.1,709.1 266.3,710.2 267.5,711.3 268.7,712.4 269.9,713.2 271.1,714.5 272.4,714.2 273.6,716.7 274.8,717.0 276.0,717.8 277.2,718.1 278.5,719.7 279.7,719.9 281.0,721.0 282.2,721.9 283.5,722.9 284.7,723.6 286.0,723.9 287.3,724.5 288.6,726.3 289.9,726.8 291.2,727.4 292.5,728.1 293.8,728.8 295.2,728.6 296.5,730.0 297.8,731.1 299.2,731.4 300.5,732.3 301.9,732.9 303.2,733.2 304.6,733.7 306.0,734.6 307.3,735.7 308.7,735.2 310.1,736.8 311.4,736.3 312.8,738.5 314.2,738.2 315.6,738.9 317.0,739.2 318.3,740.4 319.7,740.2 321.1,741.6 322.5,742.5 323.9,742.2 325.3,742.4 326.7,743.6 328.1,743.5 329.5,744.2 330.9,745.0 332.3,745.9 333.7,745.6 335.1,746.8 336.5,747.3 337.9,747.7 339.3,748.5 340.7,748.9 342.0,749.3 343.4,749.2 344.8,749.6 346.2,751.1 347.6,752.0 349.0,751.8 350.4,752.7 351.8,754.0 353.2,754.2 354.6,753.7 356.0,755.1 357.4,755.2 358.8,756.0 360.3,756.3 361.7,756.4 363.1,758.0 364.5,756.6 366.0,757.7 367.4,759.0 368.8,758.9 370.3,759.5 371.7,759.4 373.2,760.5 374.6,760.3 376.1,760.5 377.5,760.9 378.9,762.2 380.4,762.2 381.8,762.9 383.3,763.1 384.7,763.3 386.2,763.3 387.6,764.2 389.1,764.7 390.5,764.4 392.0,765.0 393.5,765.2 394.9,765.1 396.4,766.4 397.8,766.8 399.3,766.9 400.8,767.4 402.2,767.6 403.7,768.4 405.2,768.5 406.6,768.9 408.1,768.5 409.6,769.3 411.0,769.4 412.5,769.2 414.0,770.1 415.5,769.5 416.9,770.0 418.4,771.2 419.9,771.3 421.4,770.6 422.8,771.7 424.3,771.9 425.8,772.0 427.3,771.9 428.7,772.5 430.2,773.2 431.7,773.8 433.2,773.7 434.7,773.2 436.1,774.1 437.6,774.9 439.1,774.2 440.6,774.0 442.1,775.2 443.6,774.8 445.0,775.3 446.5,775.6 448.0,775.6 449.5,775.9 451.0,776.4 452.5,776.6 453.9,776.7 455.4,777.1 456.9,777.1 458.4,776.9 459.9,778.1 461.4,777.7 462.8,778.0 464.3,778.4 465.8,778.2 467.3,777.9 468.8,777.9 470.3,778.6 471.8,779.4 473.3,779.3 474.7,779.6 476.2,779.4 477.7,779.2 479.2,779.8 480.7,779.3 482.2,779.9 483.7,780.6 485.2,780.3 486.7,780.2 488.2,781.1 489.6,781.2 491.1,781.2 492.6,780.6 494.1,781.7 495.6,781.5 497.1,781.9 498.6,782.3 500.1,782.2 501.6,782.6 503.1,782.5 504.6,782.2 506.1,782.3 507.6,783.4 509.1,783.6 510.5,782.7 512.0,783.1 513.5,783.3 515.0,783.5 516.5,782.7 518.0,783.7 519.5,783.6 521.0,783.7 522.5,783.6 524.0,784.4 525.5,783.8 527.0,784.8 528.5,784.8 530.0,784.1 531.5,784.8 533.0,784.9 534.5,784.5 536.0,783.8 537.5,784.7 539.0,785.1 540.5,785.9 542.0,785.7 543.5,785.7 545.0,785.5 546.5,785.9 547.9,785.3 549.4,785.4 550.9,785.3 552.4,785.5 553.9,786.0 555.4,787.0 556.9,785.8 558.4,786.6 559.9,786.6 561.4,786.0 562.9,786.8 564.4,786.1 565.9,787.5 567.4,787.5 568.9,787.0 570.4,787.3 571.9,787.3 573.4,787.4 574.9,788.1 576.4,787.4 577.8,787.8 579.3,787.6 580.8,788.6 582.3,788.3 583.8,788.8 585.3,788.1 586.8,787.5 588.3,788.8 589.8,788.8 591.3,789.1 592.8,788.8 594.3,789.1 595.8,789.3 597.3,788.8 598.8,788.2 600.3,789.4 601.8,789.3 603.3,789.1 604.8,788.8 606.3,790.1 607.8,789.5 609.3,789.6 610.8,789.2 612.3,789.4 613.8,789.8 615.3,789.3 616.8,790.3 618.3,789.7 619.8,790.5 621.3,790.1 622.8,789.8 624.3,791.0 625.8,790.2 627.3,790.0 628.8,790.7 630.3,790.5 631.8,790.4 633.3,789.7 634.8,789.8 636.3,790.9 637.8,790.4 639.2,790.9 640.7,790.4 642.2,790.9 643.7,790.1 645.2,790.8 646.7,791.5 648.2,791.1 649.7,790.9 651.2,791.0 652.7,791.1 654.2,791.9 655.7,791.3 657.2,791.4 658.7,791.1 660.2,791.6 661.7,791.6 663.2,791.2 664.7,790.8 666.2,791.4 667.7,792.1 669.2,791.4 670.7,791.5 672.2,792.2 673.7,791.7 675.2,791.0 676.7,792.5 678.2,791.9 679.7,791.7 681.2,791.9 682.7,792.2 684.2,791.9 685.7,792.8 687.2,792.3 688.7,792.4 690.2,792.3 691.7,792.0 693.2,792.4 694.7,793.1 696.2,792.2 697.7,792.4 699.2,792.6 700.7,792.2 702.2,792.9 703.7,792.1 705.2,792.8 706.7,792.3 708.2,792.6 709.7,792.6 711.2,793.9 712.7,792.6 714.2,793.3 715.7,793.1 717.2,792.7 718.7,793.4 720.2,793.0 721.7,792.4 723.2,792.4 724.7,793.2 726.2,793.3 727.7,792.6 729.2,793.3 730.7,793.2 732.2,793.5 733.7,793.1 735.2,793.5 736.7,793.4 738.2,793.7 739.7,794.0 741.2,794.4 742.7,793.0 744.2,793.7 745.7,793.3 747.2,793.2 748.7,793.0 750.2,793.5 751.7,793.8 753.2,793.7 754.7,793.9 756.2,794.0 757.7,794.1 759.2,794.0 760.7,794.1 762.2,794.1 763.7,793.9 765.2,793.5 766.7,793.5 768.2,794.3 769.7,793.8 771.2,794.5 772.7,794.0 774.2,793.9 775.7,794.2 777.2,794.4 778.7,795.0 780.2,794.2 781.7,794.2 783.2,794.6 784.7,794.8 786.2,794.4 787.7,794.3 789.2,794.7 790.7,794.7 792.2,794.8 793.7,794.1 795.2,794.9 796.7,794.7 798.2,795.1 799.7,794.6 801.2,794.9 802.6,794.7 804.1,795.7 805.6,794.3 807.1,794.5 808.6,794.6 810.1,793.7 811.6,794.7 813.1,795.6 814.6,795.3 816.1,795.4 817.6,795.0 819.1,794.8 820.6,795.0 822.1,794.6 823.6,794.4 825.1,795.6 826.6,795.2 828.1,795.7 829.6,794.7 831.1,795.3 832.6,794.7 834.1,795.9 835.6,795.3 837.1,794.9 838.6,795.0 840.1,795.9 841.6,795.0 843.1,795.3 844.6,795.4 846.1,795.1 847.6,796.1 849.1,796.2 850.6,795.3 852.1,795.6 853.6,795.8 855.1,795.8 856.6,795.9 858.1,795.2 859.6,795.7 861.1,795.1 862.6,795.6 864.1,795.9 865.6,796.1 867.1,794.9 868.6,795.9 870.1,795.2 871.6,796.0 873.1,796.0 874.6,795.9 876.1,796.2 877.6,796.0 879.1,795.6 880.6,795.8 882.1,796.1 883.6,795.3 885.1,795.9 886.6,796.1 888.1,795.6 889.6,796.5 891.1,796.5 892.6,796.3 894.1,796.0 895.6,795.9 897.1,796.3 898.6,796.3 900.1,796.5 901.6,795.9 903.1,796.4 904.6,796.6 906.1,795.8 907.6,796.2 909.1,796.2 910.6,796.1 912.1,796.6 913.6,796.2 915.1,796.5 916.5,796.4 917.7,796.6 919.6,796.2" fill="none" stroke="#1a1ad8" stroke-width="4" stroke-linejoin="round" stroke-linecap="round"/>
<path d="M177.8,531.9 179.2,533.9 180.0,534.5 180.8,536.0 181.5,536.6 182.1,537.8 182.6,539.8 183.0,540.9 183.4,542.2 183.8,544.1 184.2,545.2 184.5,546.9 184.9,548.5 185.3,549.2 185.7,551.7 186.1,552.7 186.5,554.0 187.0,555.5 187.4,556.7 187.9,557.5 188.4,559.9 188.9,561.0 189.4,563.4 189.9,564.8 190.3,565.3 190.8,567.1 191.3,568.9 191.8,569.9 192.3,571.1 192.8,572.5 193.2,573.6 193.7,575.9 194.2,577.2 194.7,578.4 195.1,579.7 195.6,582.0 196.1,582.8 196.5,584.6 197.0,584.9 197.5,586.4 197.9,587.9 198.4,590.0 198.9,591.0 199.4,593.2 199.9,594.0 200.4,595.8 200.9,596.6 201.4,598.6 201.9,599.5 202.4,601.0 202.9,602.0 203.4,603.0 203.9,604.7 204.4,606.8 204.9,608.2 205.4,608.7 206.0,610.3 206.5,611.6 207.0,614.0 207.5,614.7 208.0,616.0 208.5,618.1 209.1,619.1 209.6,621.0 210.1,622.5 210.6,623.3 211.1,624.2 211.6,626.3 212.1,628.8 212.6,628.7 213.1,631.2 213.6,631.7 214.2,633.0 214.7,635.5 215.2,636.0 215.7,636.6 216.2,638.4 216.8,640.1 217.3,641.6 217.8,643.9 218.4,645.1 218.9,646.1 219.5,647.7 220.0,648.6 220.6,649.4 221.1,651.6 221.7,652.9 222.3,654.9 222.8,656.0 223.4,657.7 224.0,658.4 224.5,659.8 225.1,661.1 225.7,662.3 226.3,664.6 226.9,665.6 227.5,666.3 228.1,668.0 228.7,670.5 229.3,672.1 229.9,673.0 230.5,673.8 231.2,675.8 231.8,676.4 232.4,677.2 233.1,679.2 233.7,680.0 234.4,681.7 235.0,684.3 235.7,684.8 236.4,686.0 237.1,687.6 237.8,688.3 238.4,690.0 239.1,690.7 239.9,691.9 240.6,693.6 241.3,694.6 242.0,695.4 242.8,697.5 243.5,698.5 244.3,699.9 245.1,702.3 245.8,703.2 246.6,704.7 247.4,705.4 248.2,706.2 249.0,707.6 249.9,710.1 250.7,709.1 251.6,711.5 252.4,713.0 253.3,713.4 254.2,715.8 255.1,716.1 256.0,717.7 257.0,719.6 257.9,720.4 258.9,721.1 259.9,722.3 260.9,724.2 261.9,725.5 262.9,726.0 263.9,725.9 264.9,727.7 265.9,729.5 266.9,729.8 268.0,731.1 269.0,731.8 270.1,733.2 271.1,734.9 272.2,735.8 273.3,736.0 274.4,738.1 275.5,737.8 276.6,740.0 277.8,740.9 278.9,740.9 280.1,741.6 281.2,743.9 282.4,744.7 283.6,745.4 284.8,745.8 286.0,747.3 287.2,747.2 288.4,749.2 289.6,750.8 290.9,750.4 292.1,751.8 293.4,751.8 294.6,753.1 295.9,753.7 297.2,754.8 298.5,755.2 299.8,755.3 301.1,757.4 302.4,757.1 303.7,759.0 305.0,758.6 306.3,760.2 307.6,760.7 309.0,761.0 310.3,762.4 311.6,762.7 313.0,763.9 314.3,764.1 315.7,765.0 317.1,764.0 318.5,766.2 319.9,766.0 321.3,766.6 322.7,766.6 324.1,767.4 325.5,768.2 326.9,768.9 328.3,769.4 329.7,769.7 331.1,770.4 332.5,771.3 333.9,771.1 335.4,771.5 336.8,772.8 338.2,773.0 339.6,772.8 341.1,774.0 342.5,774.4 343.9,775.6 345.4,775.5 346.8,775.8 348.3,775.8 349.7,775.8 351.1,776.6 352.6,776.9 354.0,777.3 355.5,778.4 356.9,777.7 358.4,779.4 359.9,778.4 361.3,778.6 362.8,780.1 364.2,779.8 365.7,779.9 367.1,780.8 368.6,780.7 370.1,781.4 371.5,781.5 373.0,782.0 374.5,781.9 375.9,782.9 377.4,782.7 378.9,783.3 380.4,782.5 381.8,784.1 383.3,783.8 384.8,784.3 386.3,784.5 387.7,784.7 389.2,784.7 390.7,785.9 392.2,785.5 393.7,785.9 395.1,786.0 396.6,786.1 398.1,787.1 399.6,786.5 401.1,787.2 402.5,786.8 404.0,786.7 405.5,786.8 407.0,788.0 408.5,787.0 410.0,787.3 411.4,787.9 412.9,788.7 414.4,788.2 415.9,789.2 417.4,788.8 418.9,788.9 420.4,789.9 421.9,789.6 423.4,789.3 424.9,789.4 426.3,790.2 427.8,790.6 429.3,789.9 430.8,790.1 432.3,790.8 433.8,790.1 435.3,790.8 436.8,790.8 438.3,790.8 439.8,790.5 441.3,790.0 442.8,791.1 444.3,790.7 445.8,791.6 447.3,791.3 448.8,791.5 450.3,792.4 451.8,792.2 453.3,791.5 454.8,792.5 456.3,792.0 457.8,791.6 459.3,792.4 460.8,792.4 462.3,793.0 463.8,793.1 465.3,793.2 466.8,792.4 468.3,792.8 469.8,792.1 471.3,793.1 472.8,793.0 474.3,792.1 475.8,793.5 477.3,793.5 478.7,792.6 480.2,792.3 481.7,793.3 483.2,793.6 484.7,793.5 486.2,794.3 487.7,794.8 489.2,793.8 490.7,793.7 492.2,793.7 493.7,795.0 495.2,794.1 496.7,794.4 498.2,794.6 499.7,794.7 501.2,794.5 502.7,795.2 504.2,794.7 505.7,794.6 507.2,794.0 508.7,794.4 510.2,794.6 511.7,795.2 513.2,794.5 514.7,794.9 516.2,794.8 517.7,793.6 519.2,795.1 520.7,795.8 522.2,794.4 523.7,795.7 525.2,794.6 526.7,795.0 528.2,795.2 529.7,795.7 531.2,795.3 532.7,795.4 534.2,795.9 535.7,796.0 537.2,795.5 538.7,795.8 540.2,796.3 541.7,795.9 543.2,795.2 544.7,795.8 546.2,795.0 547.7,796.9 549.2,796.0 550.7,795.1 552.2,795.7 553.7,796.2 555.2,796.3 556.7,796.0 558.2,795.9 559.7,795.6 561.2,796.6 562.7,796.8 564.2,796.4 565.7,796.3 567.2,796.3 568.7,796.0 570.2,796.1 571.7,796.6 573.2,796.5 574.7,796.6 576.2,796.0 577.7,796.8 579.2,795.9 580.7,797.1 582.2,796.4 583.7,796.7 585.2,796.2 586.7,796.5 588.2,796.2 589.7,796.7 591.2,795.7 592.7,797.2 594.2,796.7 595.7,797.0 597.2,796.6 598.7,796.9 600.2,796.4 601.7,796.3 603.2,796.5 604.7,796.0 606.2,797.1 607.7,796.6 609.2,796.7 610.7,796.4 612.2,797.1 613.7,797.4 615.1,796.7 616.6,797.4 618.1,797.0 619.6,797.0 621.1,796.1 622.6,796.5 624.1,797.5 625.6,797.5 627.1,798.1 628.6,796.7 630.1,797.4 631.6,796.3 633.1,796.6 634.6,796.5 636.1,796.7 637.6,797.2 639.1,797.8 640.6,797.2 642.1,796.5 643.6,797.8 645.1,797.3 646.6,796.4 648.1,797.9 649.6,797.2 651.1,797.6 652.6,796.9 654.1,797.0 655.6,797.5 657.1,796.5 658.6,797.3 660.1,797.7 661.6,797.5 663.1,797.3 664.6,797.1 666.1,797.1 667.6,798.1 669.1,797.5 670.6,797.5 672.1,796.9 673.6,797.6 675.1,797.8 676.6,796.3 678.1,798.2 679.6,797.8 681.1,797.3 682.6,796.5 684.1,798.7 685.6,797.8 687.1,797.2 688.6,796.8 690.1,798.0 691.6,796.6 693.1,797.5 694.6,797.4 696.1,796.9 697.6,797.2 699.1,797.2 700.6,798.0 702.1,797.8 703.6,798.1 705.1,797.1 706.6,798.2 708.1,797.8 709.6,798.2 711.1,797.5 712.6,797.9 714.1,797.1 715.6,798.2 717.1,797.7 718.6,797.3 720.1,797.6 721.6,797.7 723.1,796.7 724.6,797.7 726.1,797.1 727.6,797.6 729.1,797.8 730.6,798.8 732.1,797.9 733.6,797.0 735.1,798.0 736.6,797.1 738.1,797.2 739.6,797.3 741.1,798.2 742.6,798.6 744.1,798.1 745.6,797.1 747.1,797.8 748.6,798.2 750.1,796.5 751.6,797.6 753.1,799.0 754.6,797.1 756.1,797.3 757.6,797.2 759.1,798.5 760.6,798.3 762.1,798.2 763.6,798.4 765.1,797.5 766.6,796.9 768.1,798.1 769.6,797.0 771.1,798.2 772.6,798.2 774.1,798.0 775.6,798.6 777.1,798.1 778.6,797.3 780.1,797.5 781.6,798.3 783.1,797.6 784.6,798.3 786.1,797.8 787.6,798.1 789.1,797.5 790.6,797.9 792.1,797.2 793.6,797.6 795.1,798.3 796.6,797.7 798.1,797.5 799.6,798.4 801.1,798.4 802.6,797.4 804.1,798.1 805.6,798.3 807.1,797.6 808.6,797.7 810.1,798.0 811.6,798.8 813.1,798.0 814.6,798.0 816.1,796.7 817.6,798.2 819.1,798.6 820.6,797.5 822.1,798.5 823.6,798.3 825.1,798.5 826.6,798.1 828.1,798.1 829.6,799.4 831.1,799.0 832.6,797.7 834.1,797.3 835.6,798.3 837.1,798.4 838.6,798.2 840.1,798.1 841.6,798.9 843.1,796.6 844.6,797.7 846.1,798.5 847.6,798.4 849.1,798.4 850.6,797.8 852.1,799.0 853.6,798.7 855.1,798.6 856.6,798.4 858.1,797.5 859.6,797.9 861.1,797.5 862.6,798.2 864.1,797.4 865.6,798.2 867.1,797.8 868.6,798.1 870.1,797.1 871.6,797.6 873.1,798.2 874.6,798.5 876.1,797.5 877.6,798.5 879.1,799.4 880.5,798.1 882.0,797.8 883.5,797.2 885.0,797.4 886.5,797.9 888.0,798.0 889.5,798.5 891.0,799.1 892.5,797.8 894.0,798.3 895.5,799.0 897.0,798.5 898.5,798.4 900.0,798.4 901.5,797.6 903.0,797.6 904.5,798.7 906.0,799.0 907.5,798.8 909.0,798.8 910.5,799.1 912.0,799.1 913.5,798.2 915.0,798.5 916.5,797.2 918.0,798.9 919.5,798.4 921.0,798.4 922.5,798.9 924.0,797.7 925.5,798.4 927.0,797.9 928.5,799.2 930.0,797.7 931.5,798.1 933.0,798.6 934.5,799.2 936.0,798.4 937.5,797.7 939.0,798.0 940.5,798.6 942.0,798.7 943.5,797.8 945.0,799.0 946.5,798.0 948.0,797.9 949.5,798.3 951.0,797.8 952.5,797.8 954.0,798.3 955.5,797.2 957.0,798.2 958.5,797.8 960.0,798.6 961.5,797.9 963.0,798.9 964.5,798.6 966.0,798.7 967.5,798.5 969.0,798.0 970.5,798.6 972.0,798.7 973.5,798.5 975.0,798.6 976.5,798.6 978.0,798.3 979.5,798.2 981.0,798.5 982.5,798.5 984.0,798.8 985.5,799.1 987.0,798.3 988.5,798.2 990.0,799.4 991.5,798.4 993.0,798.5 994.5,798.1 996.0,798.7 997.5,797.4 999.0,798.1 1000.5,798.4 1002.0,798.1 1003.5,798.6 1005.0,799.0 1006.5,798.6 1008.0,798.3 1009.4,797.3 1010.7,798.1 1011.7,799.1" fill="none" stroke="#e5141b" stroke-width="4" stroke-linejoin="round" stroke-linecap="round"/>
<path d="M177.8,548.8 179.3,545.0 180.8,543.1 182.3,540.5 183.8,534.0 185.3,533.5 186.8,531.2 188.3,531.5 189.8,531.6 191.3,529.2 192.8,532.4 194.3,529.3 195.8,529.2 197.3,529.6 198.8,527.2 200.3,532.0 201.8,529.6 203.3,531.2 204.8,530.6 206.3,530.5 207.8,527.1 209.3,529.5 210.8,530.2 212.3,532.0 213.8,530.5 215.3,531.2 216.8,535.5 218.3,531.7 219.8,534.7 221.3,532.9 222.8,536.0 224.3,534.0 225.8,534.0 227.3,532.8 228.8,530.8 230.3,536.6 231.8,533.2 233.3,535.5 234.8,534.0 236.3,531.1 237.8,531.9 239.3,533.5 240.8,532.9 242.3,531.9 243.8,534.0 245.3,535.4 246.8,536.5 248.3,538.1 249.8,536.4 251.3,536.5 252.8,537.1 254.3,534.2 255.8,540.7 257.3,541.3 258.8,533.0 260.3,538.9 261.8,537.7 263.3,538.1 264.8,535.6 266.3,538.4 267.8,535.6 269.3,540.1 270.8,540.8 272.3,541.5 273.8,537.0 275.3,537.5 276.8,538.1 278.3,541.0 279.8,538.4 281.3,541.0 282.8,539.3 284.3,540.4 285.8,537.8 287.3,538.2 288.8,540.2 290.3,540.2 291.8,540.3 293.3,543.7 294.8,545.6 296.3,542.2 297.8,543.2 299.3,545.3 300.8,543.2 302.3,544.0 303.8,543.7 305.3,544.3 306.8,544.2 308.3,543.1 309.8,541.7 311.3,545.2 312.8,542.7 314.3,545.3 315.8,546.4 317.3,550.4 318.8,547.8 320.3,547.7 321.8,546.9 323.3,547.6 324.8,546.0 326.3,545.4 327.8,548.8 329.3,549.6 330.8,548.8 332.3,549.3 333.8,549.3 335.3,552.2 336.8,548.8 338.3,552.6 339.8,549.4 341.3,550.6 342.8,551.4 344.3,552.9 345.8,554.6 347.3,554.3 348.8,554.6 350.3,553.7 351.8,553.3 353.3,553.3 354.8,552.2 356.3,557.2 357.8,554.4 359.3,554.1 360.8,554.0 362.3,555.8 363.8,555.1 365.3,558.4 366.8,558.8 368.3,556.5 369.8,559.2 371.3,558.5 372.8,557.8 374.3,557.7 375.8,557.0 377.3,558.5 378.8,555.0 380.3,558.3 381.8,557.5 383.3,554.8 384.8,558.3 386.3,559.9 387.8,561.7 389.3,562.2 390.8,562.1 392.3,564.7 393.8,565.4 395.3,561.2 396.8,564.5 398.3,565.7 399.8,565.5 401.3,566.7 402.8,569.4 404.3,566.8 405.8,566.2 407.3,566.9 408.8,565.8 410.3,566.3 411.8,566.4 413.3,568.6 414.8,567.6 416.3,569.1 417.8,570.1 419.3,569.0 420.8,571.9 422.3,574.0 423.8,572.1 425.3,573.5 426.8,575.4 428.3,576.5 429.8,575.7 431.3,575.6 432.8,577.2 434.3,575.3 435.8,575.9 437.3,576.2 438.8,577.4 440.3,575.2 441.8,577.0 443.3,574.3 444.8,575.2 446.3,575.5 447.8,577.7 449.3,579.7 450.8,575.6 452.3,578.4 453.8,578.3 455.3,579.2 456.8,578.2 458.3,580.1 459.8,576.2 461.3,580.2 462.8,580.8 464.3,577.8 465.8,579.2 467.3,577.7 468.8,579.2 470.3,579.7 471.8,577.1 473.3,582.5 474.8,582.8 476.3,585.0 477.8,583.0 479.3,583.6 480.8,585.2 482.3,581.5 483.8,584.7 485.3,583.8 486.8,587.2 488.3,585.1 489.8,587.2 491.3,586.1 492.8,583.2 494.3,590.0 495.8,590.1 497.3,590.8 498.8,589.6 500.3,591.9 501.8,589.6 503.3,590.3 504.8,592.9 506.3,593.3 507.8,595.3 509.3,592.8 510.8,595.1 512.3,596.1 513.8,597.5 515.3,595.1 516.8,596.8 518.3,596.2 519.8,597.3 521.3,600.0 522.8,597.0 524.3,598.0 525.8,596.9 527.3,596.1 528.8,597.6 530.3,598.1 531.8,598.9 533.3,600.9 534.8,601.0 536.3,599.3 537.8,597.5 539.3,599.0 540.8,599.8 542.3,600.7 543.8,599.2 545.3,600.0 546.8,601.2 548.3,602.0 549.8,600.4 551.3,601.8 552.8,603.6 554.3,602.6 555.8,602.5 557.3,603.7 558.8,604.6 560.3,606.5 561.8,605.1 563.3,605.3 564.8,606.4 566.3,608.4 567.8,605.8 569.3,608.7 570.8,609.9 572.3,608.4 573.8,608.5 575.3,608.1 576.8,608.6 578.3,609.8 579.8,611.6 581.3,610.8 582.8,609.7 584.3,608.5 585.8,608.9 587.3,611.9 588.8,609.3 590.3,612.5 591.8,611.8 593.3,613.0 594.8,612.3 596.3,611.0 597.8,611.4 599.3,610.9 600.8,610.0 602.3,611.6 603.8,612.3 605.3,611.6 606.8,613.2 608.3,614.9 609.8,614.5 611.3,613.5 612.8,617.1 614.3,614.8 615.8,617.5 617.3,617.0 618.8,618.4 620.3,617.6 621.8,616.0 623.3,618.8 624.8,616.4 626.3,615.5 627.8,615.6 629.3,618.2 630.8,617.5 632.3,618.0 633.8,617.5 635.3,622.1 636.8,621.1 638.3,621.8 639.8,621.0 641.3,622.1 642.8,620.0 644.3,621.7 645.8,619.5 647.3,618.6 648.8,619.9 650.3,619.5 651.8,619.8 653.3,618.1 654.8,619.5 656.3,619.9 657.8,621.0 659.3,622.4 660.8,621.5 662.3,622.6 663.8,621.4 665.3,622.3 666.8,623.4 668.3,624.3 669.8,625.7 671.3,624.6 672.8,625.5 674.3,627.9 675.8,625.2 677.3,626.8 678.8,629.7 680.3,630.4 681.8,631.8 683.3,631.9 684.8,631.7 686.3,630.7 687.8,629.6 689.3,630.5 690.8,626.6 692.3,628.0 693.8,626.2 695.3,627.7 696.8,625.0 698.3,629.3 699.8,629.3 701.3,631.4 702.8,629.0 704.3,631.1 705.8,633.1 707.3,630.6 708.8,632.8 710.3,630.9 711.8,636.0 713.3,633.1 714.8,634.5 716.3,635.1 717.8,632.7 719.3,634.2 720.8,633.1 722.3,635.6 723.8,636.7 725.3,632.6 726.8,635.3 728.3,634.0 729.8,636.3 731.3,636.7 732.8,637.4 734.3,637.4 735.8,635.1 737.3,635.9 738.8,637.7 740.3,639.1 741.8,638.0 743.3,638.8 744.8,640.1 746.3,639.8 747.8,640.6 749.3,637.9 750.8,639.2 752.3,638.4 753.8,638.1 755.3,637.8 756.8,637.6 758.3,640.0 759.8,638.4 761.3,640.1 762.8,640.3 764.3,639.9 765.8,641.2 767.3,641.4 768.8,642.7 770.3,640.1 771.8,641.4 773.3,641.2 774.8,641.6 776.3,639.8 777.8,641.1 779.3,639.7 780.8,641.8 782.3,643.4 783.8,644.5 785.3,641.1 786.8,643.8 788.3,645.1 789.8,643.1 791.3,647.9 792.8,645.3 794.3,642.7 795.8,647.7 797.3,644.3 798.8,641.5 800.3,642.6 801.8,642.7 803.3,643.6 804.8,645.6 806.3,643.2 807.8,643.6 809.3,644.3 810.8,645.1 812.3,645.2 813.8,643.8 815.3,646.5 816.8,645.0 818.3,645.4 819.8,649.1 821.3,644.7 822.8,646.5 824.3,645.5 825.8,647.6 827.3,647.4 828.8,646.5 830.3,647.5 831.8,647.8 833.3,649.4 834.8,647.4 836.3,649.8 837.8,649.9 839.3,649.6 840.8,649.0 842.3,650.1 843.8,649.9 845.3,649.5 846.8,649.4 848.3,650.2 849.8,650.5 851.3,649.1 852.8,649.3 854.3,650.5 855.8,650.4 857.3,650.7 858.8,651.1 860.3,652.8 861.8,651.4 863.3,651.6 864.8,652.8 866.3,651.7 867.8,652.6 869.3,651.6 870.8,653.2 872.3,655.2 873.8,654.3 875.3,654.4 876.8,656.3 878.3,656.3 879.8,654.5 881.3,653.5 882.8,653.3 884.3,654.8 885.8,654.0 887.3,655.4 888.8,655.1 890.3,655.6 891.8,655.2 893.3,656.6 894.8,654.8 896.3,656.6 897.8,654.5 899.3,656.9 900.8,654.5 902.3,656.3 903.8,656.2 905.3,655.8 906.8,659.3 908.3,657.5 909.8,656.5 911.3,656.1 912.8,658.4 914.3,658.9 915.8,658.6 917.3,658.2 918.8,658.8 920.3,658.5 921.8,659.7 923.3,660.3 924.8,661.7 926.3,662.1 927.8,660.3 929.3,659.3 930.8,663.0 932.3,661.1 933.8,660.1 935.3,661.2 936.8,660.2 938.3,660.9 939.8,659.3 941.3,661.8 942.8,664.3 944.3,663.7 945.8,662.8 947.3,663.2 948.8,664.0 950.3,664.4 951.8,662.7 953.3,663.5 954.8,664.3 956.3,665.3 957.8,664.2 959.3,665.2 960.8,665.6 962.3,664.9 963.8,665.4 965.3,666.2 966.8,664.0 968.3,665.4 969.8,665.7 971.3,667.5 972.8,663.6 974.3,664.7 975.8,664.0 977.3,664.4 978.8,665.8 980.3,664.6 981.8,665.7 983.3,666.3 984.8,666.6 986.3,668.1 987.8,668.1 989.3,667.4 990.8,668.1 992.3,668.8 993.8,668.0 995.3,669.0 996.8,668.4 998.3,667.8 999.8,668.0 1001.3,667.2 1002.8,668.6 1004.3,667.9 1005.8,668.0 1007.3,668.7 1008.8,671.4 1010.3,670.8 1011.8,669.6" fill="none" stroke="#1eea1e" stroke-width="4.5" stroke-linejoin="round" stroke-linecap="round"/>
<path d="M177.8,541.5 179.3,540.6 180.8,541.3 182.3,537.9 183.8,544.2 185.3,543.1 186.8,542.6 188.3,541.4 189.8,539.8 191.3,538.9 192.8,538.6 194.3,541.7 195.8,542.7 197.3,543.4 198.8,541.4 200.3,547.4 201.8,543.7 203.3,545.4 204.8,545.4 206.3,544.5 207.8,541.3 209.3,543.1 210.8,544.7 212.3,548.2 213.8,546.9 215.3,549.6 216.8,548.6 218.3,551.3 219.8,554.9 221.3,556.6 222.8,554.7 224.3,555.2 225.8,554.4 227.3,553.8 228.8,554.0 230.3,555.5 231.8,553.0 233.3,552.9 234.8,556.5 236.3,555.7 237.8,558.1 239.3,556.9 240.8,559.7 242.3,559.2 243.8,559.4 245.3,561.6 246.8,559.6 248.3,557.1 249.8,559.2 251.3,561.1 252.8,564.4 254.3,561.8 255.8,561.3 257.3,563.4 258.8,566.9 260.3,567.2 261.8,568.4 263.3,569.5 264.8,571.5 266.3,567.6 267.8,571.7 269.3,570.6 270.8,568.3 272.3,570.8 273.8,571.9 275.3,569.6 276.8,571.5 278.3,567.0 279.8,568.0 281.3,571.4 282.8,571.3 284.3,573.0 285.8,573.5 287.3,574.9 288.8,572.2 290.3,572.7 291.8,576.5 293.3,575.2 294.8,574.7 296.3,574.3 297.8,576.8 299.3,573.5 300.8,575.2 302.3,576.9 303.8,574.5 305.3,575.0 306.8,575.8 308.3,574.0 309.8,579.0 311.3,579.5 312.8,581.2 314.3,579.0 315.8,579.7 317.3,580.0 318.8,581.0 320.3,578.8 321.8,578.6 323.3,576.6 324.8,577.8 326.3,577.4 327.8,579.2 329.3,579.2 330.8,577.4 332.3,578.4 333.8,581.5 335.3,581.7 336.8,584.1 338.3,586.8 339.8,585.0 341.3,588.7 342.8,588.0 344.3,590.0 345.8,590.6 347.3,589.5 348.8,588.0 350.3,590.7 351.8,589.7 353.3,591.8 354.8,592.0 356.3,593.2 357.8,592.8 359.3,589.3 360.8,589.3 362.3,590.0 363.8,590.7 365.3,590.9 366.8,589.5 368.3,590.8 369.8,589.3 371.3,592.3 372.8,590.4 374.3,590.4 375.8,590.5 377.3,591.1 378.8,593.0 380.3,591.3 381.8,592.5 383.3,590.6 384.8,593.1 386.3,594.1 387.8,595.5 389.3,593.9 390.8,595.0 392.3,597.1 393.8,598.3 395.3,596.8 396.8,598.1 398.3,599.9 399.8,595.2 401.3,596.1 402.8,597.6 404.3,598.9 405.8,598.8 407.3,600.2 408.8,602.1 410.3,600.5 411.8,600.8 413.3,604.5 414.8,601.0 416.3,605.0 417.8,605.8 419.3,604.8 420.8,603.8 422.3,604.8 423.8,603.9 425.3,607.3 426.8,605.5 428.3,604.9 429.8,605.4 431.3,605.5 432.8,606.3 434.3,605.2 435.8,603.8 437.3,604.6 438.8,603.7 440.3,603.9 441.8,606.8 443.3,606.7 444.8,608.0 446.3,609.9 447.8,611.1 449.3,610.6 450.8,610.1 452.3,611.9 453.8,610.4 455.3,613.5 456.8,611.2 458.3,613.4 459.8,610.6 461.3,613.0 462.8,612.5 464.3,611.6 465.8,612.9 467.3,612.0 468.8,611.4 470.3,611.4 471.8,612.2 473.3,612.2 474.8,611.8 476.3,613.0 477.8,614.7 479.3,614.6 480.8,614.7 482.3,619.0 483.8,617.9 485.3,621.5 486.8,618.8 488.3,619.2 489.8,618.8 491.3,617.8 492.8,617.2 494.3,615.8 495.8,616.8 497.3,617.0 498.8,617.4 500.3,617.7 501.8,620.4 503.3,618.2 504.8,623.2 506.3,620.9 507.8,623.1 509.3,623.8 510.8,624.6 512.3,624.5 513.8,624.8 515.3,625.4 516.8,626.6 518.3,626.5 519.8,625.9 521.3,623.7 522.8,624.4 524.3,625.4 525.8,626.4 527.3,626.7 528.8,624.2 530.3,625.4 531.8,624.4 533.3,624.3 534.8,625.9 536.3,626.6 537.8,626.5 539.3,623.6 540.8,628.1 542.3,624.3 543.8,628.4 545.3,629.3 546.8,631.7 548.3,626.4 549.8,628.0 551.3,629.2 552.8,629.9 554.3,629.2 555.8,631.3 557.3,629.5 558.8,630.1 560.3,630.0 561.8,630.9 563.3,630.6 564.8,627.9 566.3,630.7 567.8,628.5 569.3,628.5 570.8,628.7 572.3,629.3 573.8,630.3 575.3,630.7 576.8,628.5 578.3,630.7 579.8,632.6 581.3,633.1 582.8,632.7 584.3,632.2 585.8,634.1 587.3,633.4 588.8,632.6 590.3,631.7 591.8,635.5 593.3,636.7 594.8,637.8 596.3,637.3 597.8,636.3 599.3,635.7 600.8,636.2 602.3,636.9 603.8,635.0 605.3,636.9 606.8,636.7 608.3,638.1 609.8,638.2 611.3,635.1 612.8,635.8 614.3,637.7 615.8,638.3 617.3,636.9 618.8,638.1 620.3,638.1 621.8,637.7 623.3,638.0 624.8,639.5 626.3,640.9 627.8,639.5 629.3,641.4 630.8,641.6 632.3,641.4 633.8,641.9 635.3,641.7 636.8,643.2 638.3,643.6 639.8,642.3 641.3,640.3 642.8,641.8 644.3,641.2 645.8,640.5 647.3,642.1 648.8,640.1 650.3,641.2 651.8,642.3 653.3,644.6 654.8,642.3 656.3,644.2 657.8,642.3 659.3,643.9 660.8,644.4 662.3,643.3 663.8,645.6 665.3,645.6 666.8,645.0 668.3,646.5 669.8,646.1 671.3,646.9 672.8,647.2 674.3,649.2 675.8,646.4 677.3,647.7 678.8,648.1 680.3,646.7 681.8,647.3 683.3,649.0 684.8,645.7 686.3,646.1 687.8,648.8 689.3,648.9 690.8,651.4 692.3,649.6 693.8,650.8 695.3,652.1 696.8,649.6 698.3,654.3 699.8,653.5 701.3,653.3 702.8,654.6 704.3,655.7 705.8,658.4 707.3,656.3 708.8,658.9 710.3,656.8 711.8,657.8 713.3,656.7 714.8,656.9 716.3,658.0 717.8,656.9 719.3,656.6 720.8,658.7 722.3,660.2 723.8,658.1 725.3,658.4 726.8,658.4 728.3,657.8 729.8,658.5 731.3,659.7 732.8,658.5 734.3,659.6 735.8,659.3 737.3,660.0 738.8,661.2 740.3,659.8 741.8,659.0 743.3,661.4 744.8,662.4 746.3,664.3 747.8,662.8 749.3,662.6 750.8,662.7 752.3,664.6 753.8,664.0 755.3,666.0 756.8,666.8 758.3,666.0 759.8,667.2 761.3,667.2 762.8,668.3 764.3,666.5 765.8,667.1 767.3,669.6 768.8,666.1 770.3,666.6 771.8,668.3 773.3,666.8 774.8,667.5 776.3,667.3 777.8,670.4 779.3,669.3 780.8,671.6 782.3,670.7 783.8,669.4 785.3,671.8 786.8,670.1 788.3,673.2 789.8,669.8 791.3,673.2 792.8,672.7 794.3,673.6 795.8,672.6 797.3,672.6 798.8,672.3 800.3,672.4 801.8,672.7 803.3,673.4 804.8,673.8 806.3,676.8 807.8,675.1 809.3,674.2 810.8,677.0 812.3,676.1 813.8,675.7 815.3,676.9 816.8,676.2 818.3,677.6 819.8,676.6 821.3,678.2 822.8,675.7 824.3,677.4 825.8,675.8 827.3,679.4 828.8,676.6 830.3,680.6 831.8,679.0 833.3,681.2 834.8,679.9 836.3,681.0 837.8,683.1 839.3,680.4 840.8,682.1 842.3,679.3 843.8,682.6 845.3,681.1 846.8,678.0 848.3,679.6 849.8,681.4 851.3,683.4 852.8,681.8 854.3,680.9 855.8,685.0 857.3,683.6 858.8,684.7 860.3,684.4 861.8,683.3 863.3,682.2 864.8,686.1 866.3,684.7 867.8,684.9 869.3,684.7 870.8,686.4 872.3,685.7 873.8,686.4 875.3,686.5 876.8,686.7 878.3,688.3 879.8,686.1 881.3,689.1 882.8,686.8 884.3,686.2 885.8,686.6 887.3,688.9 888.8,685.5 890.3,688.7 891.8,691.3 893.3,691.1 894.8,690.8 896.3,690.2 897.8,693.0 899.3,690.1 900.8,692.4 902.3,689.2 903.8,688.4 905.3,690.0 906.8,689.7 908.3,687.9 909.8,690.6 911.3,693.4 912.8,691.2 914.3,692.1 915.8,691.9 917.3,692.2 918.8,692.8 920.3,693.0 921.8,693.2 923.3,694.1 924.8,694.6 926.3,694.6 927.8,693.2 929.3,694.0 930.8,693.6 932.3,694.4 933.8,696.0 935.3,694.5 936.8,693.6 938.3,696.0 939.8,695.0 941.3,693.8 942.8,695.3 944.3,696.5 945.8,697.3 947.3,696.5 948.8,698.1 950.3,698.1 951.8,698.2 953.3,700.7 954.8,698.7 956.3,700.9 957.8,702.3 959.3,701.9 960.8,701.1 962.3,701.2 963.8,700.7 965.3,701.4 966.8,700.4 968.3,700.3 969.8,698.9 971.3,699.5 972.8,699.5 974.3,701.4 975.8,701.6 977.3,701.3 978.8,702.3 980.3,701.8 981.8,701.7 983.3,702.4 984.8,702.2 986.3,704.5 987.8,701.3 989.3,703.8 990.8,702.5 992.3,704.7 993.8,703.5 995.3,703.2 996.8,706.7 998.3,705.2 999.8,706.8 1001.3,704.5 1002.8,704.4 1004.3,706.3 1005.8,704.5 1007.3,705.2 1008.8,704.6 1010.3,705.4 1011.8,703.9" fill="none" stroke="#1eea1e" stroke-width="4.5" stroke-linejoin="round" stroke-linecap="round"/>
<path d="M177.8,538.5 179.3,542.8 180.8,541.1 182.3,542.9 183.8,547.7 185.3,546.0 186.8,549.3 188.3,552.0 189.8,550.8 191.3,556.0 192.8,556.3 194.3,559.3 195.8,559.4 197.3,557.5 198.8,557.8 200.3,559.6 201.8,561.0 203.3,561.8 204.8,562.1 206.3,564.1 207.8,561.4 209.3,563.2 210.8,567.5 212.3,565.6 213.8,566.4 215.3,568.6 216.8,566.2 218.3,570.5 219.8,570.9 221.3,571.0 222.8,573.8 224.3,577.1 225.8,575.7 227.3,575.5 228.8,579.0 230.3,577.8 231.8,580.7 233.3,580.1 234.8,579.0 236.3,578.3 237.8,579.8 239.3,583.0 240.8,579.9 242.3,586.9 243.8,579.7 245.3,585.8 246.8,587.9 248.3,585.7 249.8,584.6 251.3,588.3 252.8,589.3 254.3,591.9 255.8,590.8 257.3,591.5 258.8,591.3 260.3,594.5 261.8,592.2 263.3,593.9 264.8,596.1 266.3,602.0 267.8,594.1 269.3,596.9 270.8,600.5 272.3,600.6 273.8,602.3 275.3,603.8 276.8,603.9 278.3,602.8 279.8,602.6 281.3,604.0 282.8,604.0 284.3,608.9 285.8,608.2 287.3,606.3 288.8,607.6 290.3,605.7 291.8,606.3 293.3,606.4 294.8,604.4 296.3,606.5 297.8,606.0 299.3,608.5 300.8,607.2 302.3,609.0 303.8,612.0 305.3,614.5 306.8,614.3 308.3,615.0 309.8,613.3 311.3,615.2 312.8,616.8 314.3,616.7 315.8,616.8 317.3,618.2 318.8,618.2 320.3,615.3 321.8,614.8 323.3,614.1 324.8,617.4 326.3,619.0 327.8,620.9 329.3,618.8 330.8,619.8 332.3,619.6 333.8,624.5 335.3,624.1 336.8,621.4 338.3,623.0 339.8,622.4 341.3,624.1 342.8,629.0 344.3,626.5 345.8,627.6 347.3,628.6 348.8,627.2 350.3,627.5 351.8,627.5 353.3,632.4 354.8,630.5 356.3,631.4 357.8,634.2 359.3,631.5 360.8,632.7 362.3,632.5 363.8,634.5 365.3,634.0 366.8,632.3 368.3,636.8 369.8,637.8 371.3,636.8 372.8,636.5 374.3,636.9 375.8,635.8 377.3,637.4 378.8,640.0 380.3,639.6 381.8,638.0 383.3,638.9 384.8,641.2 386.3,644.3 387.8,643.8 389.3,644.0 390.8,646.0 392.3,644.4 393.8,646.6 395.3,646.1 396.8,645.4 398.3,648.1 399.8,645.5 401.3,647.2 402.8,648.6 404.3,645.3 405.8,648.9 407.3,649.2 408.8,648.4 410.3,647.2 411.8,647.5 413.3,647.8 414.8,648.5 416.3,647.4 417.8,649.6 419.3,651.6 420.8,648.1 422.3,652.8 423.8,649.5 425.3,650.3 426.8,651.2 428.3,652.0 429.8,652.5 431.3,654.7 432.8,653.3 434.3,654.5 435.8,652.6 437.3,654.5 438.8,652.1 440.3,653.5 441.8,659.0 443.3,655.9 444.8,657.2 446.3,657.6 447.8,657.5 449.3,654.5 450.8,656.7 452.3,659.8 453.8,658.4 455.3,656.7 456.8,657.9 458.3,657.6 459.8,659.2 461.3,659.5 462.8,659.7 464.3,658.8 465.8,657.5 467.3,660.3 468.8,659.5 470.3,659.6 471.8,660.1 473.3,658.1 474.8,659.8 476.3,658.1 477.8,660.0 479.3,659.7 480.8,658.0 482.3,660.7 483.8,660.3 485.3,660.1 486.8,660.1 488.3,660.7 489.8,659.9 491.3,659.6 492.8,661.5 494.3,663.3 495.8,662.4 497.3,664.0 498.8,661.5 500.3,666.2 501.8,664.7 503.3,664.5 504.8,665.2 506.3,665.7 507.8,665.5 509.3,666.2 510.8,664.1 512.3,666.9 513.8,666.2 515.3,665.4 516.8,668.3 518.3,667.6 519.8,670.2 521.3,667.7 522.8,670.6 524.3,670.0 525.8,668.7 527.3,671.3 528.8,671.1 530.3,672.0 531.8,670.2 533.3,668.1 534.8,671.0 536.3,672.2 537.8,673.8 539.3,674.7 540.8,675.4 542.3,675.0 543.8,674.9 545.3,674.4 546.8,675.7 548.3,674.3 549.8,675.1 551.3,674.2 552.8,675.7 554.3,674.6 555.8,674.8 557.3,675.6 558.8,677.8 560.3,677.2 561.8,680.1 563.3,677.7 564.8,679.7 566.3,679.2 567.8,678.4 569.3,680.3 570.8,681.3 572.3,682.0 573.8,681.4 575.3,680.9 576.8,681.8 578.3,682.3 579.8,685.5 581.3,681.6 582.8,682.9 584.3,685.5 585.8,681.1 587.3,684.2 588.8,683.7 590.3,683.0 591.8,682.8 593.3,680.2 594.8,682.6 596.3,683.1 597.8,685.4 599.3,685.5 600.8,682.9 602.3,681.3 603.8,683.3 605.3,686.5 606.8,684.1 608.3,683.8 609.8,684.8 611.3,683.8 612.8,684.8 614.3,683.5 615.8,683.7 617.3,685.3 618.8,685.0 620.3,685.6 621.8,685.0 623.3,686.3 624.8,686.1 626.3,686.5 627.8,687.9 629.3,687.0 630.8,685.6 632.3,686.0 633.8,686.5 635.3,688.0 636.8,685.9 638.3,686.0 639.8,687.7 641.3,687.9 642.8,684.2 644.3,684.4 645.8,685.5 647.3,686.0 648.8,685.4 650.3,684.7 651.8,689.6 653.3,688.2 654.8,690.1 656.3,690.0 657.8,690.2 659.3,687.9 660.8,690.6 662.3,690.6 663.8,690.6 665.3,689.4 666.8,688.6 668.3,690.0 669.8,690.5 671.3,690.7 672.8,689.5 674.3,687.2 675.8,688.7 677.3,688.6 678.8,688.4 680.3,688.0 681.8,690.3 683.3,689.0 684.8,690.3 686.3,691.2 687.8,690.1 689.3,691.1 690.8,691.1 692.3,693.8 693.8,692.3 695.3,691.9 696.8,695.5 698.3,692.0 699.8,697.2 701.3,696.5 702.8,696.9 704.3,697.4 705.8,697.4 707.3,698.1 708.8,695.0 710.3,697.7 711.8,696.7 713.3,696.0 714.8,697.0 716.3,698.1 717.8,699.0 719.3,698.1 720.8,698.3 722.3,701.3 723.8,700.7 725.3,699.1 726.8,699.2 728.3,700.4 729.8,701.5 731.3,700.2 732.8,701.0 734.3,702.6 735.8,700.4 737.3,702.9 738.8,703.1 740.3,702.8 741.8,704.7 743.3,705.6 744.8,704.6 746.3,704.4 747.8,706.7 749.3,705.4 750.8,704.3 752.3,705.8 753.8,706.5 755.3,705.7 756.8,704.0 758.3,705.3 759.8,704.6 761.3,707.4 762.8,704.7 764.3,707.4 765.8,705.5 767.3,705.8 768.8,706.4 770.3,708.7 771.8,706.5 773.3,708.0 774.8,708.9 776.3,710.2 777.8,709.6 779.3,710.5 780.8,711.2 782.3,709.4 783.8,710.9 785.3,709.1 786.8,708.6 788.3,709.3 789.8,708.0 791.3,708.9 792.8,707.7 794.3,707.1 795.8,709.0 797.3,709.4 798.8,708.5 800.3,709.5 801.8,708.0 803.3,710.5 804.8,707.7 806.3,708.4 807.8,707.8 809.3,707.8 810.8,707.3 812.3,710.1 813.8,708.7 815.3,708.4 816.8,710.4 818.3,710.3 819.8,708.2 821.3,709.4 822.8,709.8 824.3,708.7 825.8,707.2 827.3,708.7 828.8,708.3 830.3,708.2 831.8,710.2 833.3,711.1 834.8,708.5 836.3,710.8 837.8,710.7 839.3,712.4 840.8,711.9 842.3,711.5 843.8,715.1 845.3,713.9 846.8,716.0 848.3,715.0 849.8,713.8 851.3,713.1 852.8,712.7 854.3,713.6 855.8,713.9 857.3,715.1 858.8,712.4 860.3,713.8 861.8,714.9 863.3,715.9 864.8,715.7 866.3,715.4 867.8,715.6 869.3,713.5 870.8,715.1 872.3,713.8 873.8,717.4 875.3,716.3 876.8,715.2 878.3,715.4 879.8,715.7 881.3,717.0 882.8,716.4 884.3,717.0 885.8,716.5 887.3,718.2 888.8,718.5 890.3,716.8 891.8,718.7 893.3,717.9 894.8,719.0 896.3,719.4 897.8,717.9 899.3,719.1 900.8,719.5 902.3,717.0 903.8,718.3 905.3,717.2 906.8,719.0 908.3,716.9 909.8,719.9 911.3,719.0 912.8,720.3 914.3,721.9 915.8,719.7 917.3,718.5 918.8,718.2 920.3,719.8 921.8,717.4 923.3,716.9 924.8,718.8 926.3,719.9 927.8,719.0 929.3,720.9 930.8,720.7 932.3,720.7 933.8,720.9 935.3,721.5 936.8,722.3 938.3,723.3 939.8,723.0 941.3,721.7 942.8,721.7 944.3,722.3 945.8,723.3 947.3,721.5 948.8,722.6 950.3,723.0 951.8,723.8 953.3,721.6 954.8,721.7 956.3,721.4 957.8,721.6 959.3,722.4 960.8,724.4 962.3,719.6 963.8,722.8 965.3,723.0 966.8,724.2 968.3,724.4 969.8,723.8 971.3,722.2 972.8,723.7 974.3,724.8 975.8,725.0 977.3,727.0 978.8,726.1 980.3,725.5 981.8,726.5 983.3,727.0 984.8,725.1 986.3,723.9 987.8,723.5 989.3,723.8 990.8,723.6 992.3,722.4 993.8,722.4 995.3,724.1 996.8,725.9 998.3,726.8 999.8,727.2 1001.3,725.0 1002.8,726.5 1004.3,726.9 1005.8,727.2 1007.3,727.7 1008.8,728.8 1010.3,729.6 1011.8,730.5" fill="none" stroke="#17a917" stroke-width="4.5" stroke-linejoin="round" stroke-linecap="round"/>
<path d="M177.8,549.0 179.3,548.7 180.8,547.8 182.3,547.6 183.8,547.2 185.3,546.8 186.8,547.6 188.3,549.3 189.8,552.5 191.3,553.8 192.8,556.9 194.3,557.3 195.8,554.4 197.3,555.9 198.8,558.5 200.3,564.9 201.8,560.7 203.3,563.3 204.8,563.8 206.3,563.8 207.8,567.2 209.3,563.8 210.8,567.3 212.3,567.9 213.8,572.9 215.3,577.8 216.8,574.9 218.3,575.2 219.8,576.5 221.3,579.2 222.8,579.5 224.3,580.5 225.8,578.6 227.3,578.6 228.8,582.1 230.3,583.2 231.8,583.7 233.3,582.8 234.8,588.4 236.3,593.8 237.8,588.8 239.3,593.3 240.8,592.8 242.3,594.6 243.8,595.1 245.3,596.4 246.8,595.0 248.3,597.2 249.8,596.6 251.3,598.8 252.8,599.1 254.3,598.5 255.8,599.9 257.3,599.5 258.8,601.3 260.3,601.8 261.8,602.5 263.3,599.3 264.8,603.7 266.3,604.3 267.8,605.8 269.3,609.6 270.8,610.5 272.3,610.3 273.8,613.0 275.3,613.2 276.8,612.1 278.3,613.1 279.8,614.6 281.3,610.9 282.8,611.3 284.3,612.2 285.8,613.6 287.3,615.0 288.8,617.8 290.3,616.0 291.8,620.5 293.3,621.7 294.8,623.1 296.3,622.5 297.8,622.6 299.3,626.7 300.8,626.2 302.3,625.8 303.8,627.8 305.3,627.3 306.8,625.7 308.3,627.6 309.8,627.1 311.3,626.8 312.8,628.0 314.3,626.5 315.8,628.4 317.3,628.2 318.8,631.0 320.3,631.0 321.8,631.3 323.3,633.4 324.8,631.9 326.3,632.2 327.8,635.4 329.3,633.0 330.8,636.8 332.3,636.9 333.8,635.9 335.3,636.3 336.8,641.1 338.3,639.0 339.8,639.1 341.3,639.4 342.8,639.3 344.3,644.1 345.8,642.3 347.3,641.9 348.8,641.6 350.3,642.5 351.8,645.0 353.3,641.4 354.8,644.4 356.3,644.9 357.8,644.9 359.3,648.7 360.8,647.1 362.3,649.8 363.8,649.6 365.3,646.7 366.8,649.6 368.3,648.5 369.8,648.0 371.3,650.5 372.8,649.7 374.3,650.3 375.8,648.7 377.3,652.4 378.8,651.2 380.3,653.8 381.8,652.0 383.3,653.8 384.8,652.7 386.3,653.5 387.8,649.5 389.3,652.2 390.8,651.5 392.3,651.5 393.8,650.3 395.3,649.7 396.8,653.8 398.3,653.7 399.8,654.5 401.3,656.4 402.8,654.7 404.3,657.5 405.8,656.6 407.3,655.8 408.8,655.5 410.3,657.8 411.8,656.1 413.3,656.8 414.8,655.0 416.3,657.6 417.8,656.2 419.3,657.4 420.8,659.5 422.3,659.0 423.8,657.3 425.3,658.6 426.8,659.5 428.3,661.3 429.8,660.0 431.3,662.4 432.8,661.4 434.3,660.3 435.8,664.1 437.3,662.1 438.8,661.8 440.3,661.7 441.8,662.6 443.3,662.0 444.8,662.8 446.3,663.4 447.8,662.6 449.3,661.7 450.8,664.4 452.3,663.3 453.8,664.8 455.3,661.8 456.8,666.7 458.3,664.8 459.8,667.0 461.3,664.5 462.8,666.0 464.3,668.3 465.8,668.3 467.3,667.5 468.8,668.3 470.3,665.1 471.8,667.3 473.3,668.5 474.8,666.6 476.3,669.1 477.8,670.5 479.3,671.8 480.8,670.5 482.3,672.7 483.8,674.7 485.3,671.5 486.8,672.9 488.3,673.3 489.8,674.7 491.3,670.6 492.8,673.9 494.3,672.7 495.8,671.7 497.3,671.6 498.8,672.6 500.3,673.9 501.8,673.0 503.3,672.2 504.8,674.5 506.3,676.9 507.8,674.4 509.3,676.9 510.8,678.0 512.3,676.6 513.8,676.1 515.3,676.3 516.8,679.7 518.3,679.5 519.8,679.0 521.3,679.9 522.8,679.4 524.3,680.5 525.8,683.4 527.3,682.8 528.8,683.2 530.3,684.0 531.8,683.0 533.3,684.4 534.8,682.8 536.3,681.3 537.8,684.1 539.3,683.5 540.8,683.0 542.3,681.7 543.8,683.1 545.3,683.2 546.8,682.7 548.3,683.6 549.8,683.6 551.3,685.2 552.8,687.6 554.3,686.0 555.8,688.7 557.3,686.3 558.8,687.3 560.3,692.0 561.8,686.7 563.3,689.7 564.8,687.7 566.3,689.6 567.8,690.1 569.3,690.9 570.8,689.9 572.3,689.1 573.8,692.7 575.3,690.0 576.8,689.5 578.3,686.9 579.8,686.1 581.3,688.0 582.8,689.1 584.3,687.0 585.8,686.9 587.3,690.3 588.8,689.2 590.3,691.2 591.8,690.1 593.3,691.7 594.8,691.0 596.3,691.6 597.8,691.0 599.3,692.1 600.8,691.1 602.3,691.7 603.8,690.5 605.3,692.4 606.8,690.4 608.3,691.1 609.8,693.0 611.3,692.3 612.8,691.8 614.3,692.5 615.8,692.7 617.3,695.4 618.8,694.6 620.3,694.8 621.8,693.2 623.3,696.3 624.8,696.4 626.3,697.0 627.8,694.4 629.3,697.5 630.8,695.7 632.3,697.2 633.8,697.4 635.3,698.7 636.8,696.6 638.3,698.7 639.8,699.8 641.3,701.4 642.8,699.1 644.3,699.7 645.8,700.5 647.3,698.0 648.8,697.8 650.3,697.9 651.8,699.6 653.3,697.8 654.8,698.9 656.3,698.7 657.8,700.0 659.3,702.2 660.8,701.2 662.3,701.1 663.8,699.7 665.3,699.0 666.8,700.1 668.3,699.7 669.8,696.9 671.3,696.9 672.8,696.5 674.3,696.8 675.8,698.5 677.3,696.9 678.8,700.1 680.3,701.3 681.8,698.6 683.3,700.9 684.8,700.9 686.3,700.4 687.8,703.9 689.3,703.6 690.8,701.4 692.3,701.6 693.8,702.6 695.3,704.0 696.8,704.2 698.3,703.7 699.8,702.7 701.3,702.6 702.8,704.8 704.3,706.0 705.8,706.3 707.3,707.2 708.8,705.4 710.3,705.2 711.8,706.8 713.3,705.4 714.8,706.7 716.3,703.3 717.8,707.6 719.3,706.8 720.8,707.0 722.3,707.7 723.8,706.9 725.3,705.3 726.8,706.6 728.3,709.2 729.8,707.3 731.3,707.7 732.8,707.3 734.3,708.0 735.8,707.6 737.3,707.3 738.8,708.8 740.3,708.3 741.8,708.1 743.3,710.8 744.8,709.2 746.3,709.8 747.8,710.9 749.3,710.8 750.8,707.9 752.3,708.9 753.8,708.2 755.3,707.7 756.8,709.1 758.3,708.8 759.8,709.1 761.3,710.4 762.8,711.2 764.3,712.0 765.8,711.3 767.3,712.5 768.8,710.9 770.3,710.8 771.8,711.8 773.3,710.0 774.8,711.3 776.3,711.5 777.8,709.9 779.3,709.9 780.8,710.7 782.3,711.3 783.8,710.4 785.3,710.8 786.8,710.1 788.3,712.6 789.8,713.5 791.3,713.9 792.8,713.0 794.3,713.8 795.8,714.6 797.3,713.6 798.8,712.4 800.3,711.8 801.8,711.9 803.3,711.5 804.8,710.7 806.3,711.9 807.8,711.0 809.3,712.1 810.8,711.3 812.3,713.3 813.8,712.4 815.3,711.9 816.8,711.8 818.3,714.6 819.8,713.4 821.3,714.1 822.8,712.8 824.3,713.3 825.8,713.4 827.3,714.6 828.8,714.2 830.3,714.9 831.8,713.7 833.3,717.1 834.8,713.6 836.3,719.5 837.8,715.2 839.3,716.1 840.8,714.6 842.3,715.6 843.8,714.8 845.3,713.0 846.8,713.2 848.3,713.1 849.8,715.4 851.3,714.7 852.8,715.3 854.3,715.8 855.8,716.0 857.3,716.1 858.8,715.4 860.3,715.0 861.8,716.1 863.3,715.7 864.8,715.2 866.3,715.6 867.8,715.4 869.3,715.5 870.8,716.8 872.3,713.7 873.8,716.6 875.3,714.1 876.8,717.5 878.3,717.4 879.8,716.5 881.3,716.6 882.8,717.2 884.3,716.1 885.8,716.5 887.3,717.8 888.8,715.0 890.3,718.2 891.8,718.7 893.3,719.4 894.8,719.3 896.3,717.4 897.8,720.2 899.3,717.8 900.8,716.3 902.3,719.1 903.8,719.1 905.3,719.5 906.8,720.0 908.3,721.1 909.8,720.7 911.3,718.4 912.8,720.4 914.3,720.4 915.8,720.1 917.3,720.5 918.8,720.6 920.3,721.7 921.8,720.4 923.3,719.3 924.8,721.8 926.3,721.3 927.8,722.1 929.3,723.5 930.8,722.0 932.3,723.5 933.8,722.5 935.3,722.8 936.8,723.3 938.3,723.1 939.8,724.3 941.3,722.6 942.8,723.3 944.3,723.2 945.8,723.0 947.3,723.9 948.8,724.2 950.3,723.8 951.8,724.5 953.3,723.4 954.8,724.6 956.3,724.2 957.8,723.4 959.3,724.6 960.8,722.8 962.3,722.7 963.8,722.6 965.3,724.1 966.8,722.8 968.3,725.0 969.8,723.0 971.3,724.0 972.8,724.6 974.3,725.5 975.8,724.7 977.3,726.6 978.8,727.3 980.3,726.9 981.8,725.6 983.3,728.5 984.8,727.2 986.3,726.9 987.8,727.6 989.3,725.5 990.8,728.3 992.3,726.6 993.8,728.4 995.3,728.3 996.8,727.7 998.3,728.8 999.8,728.9 1001.3,728.4 1002.8,728.7 1004.3,729.0 1005.8,728.4 1007.3,728.6 1008.8,729.9 1010.3,728.9 1011.8,729.9" fill="none" stroke="#17a917" stroke-width="4.5" stroke-linejoin="round" stroke-linecap="round"/>
<line x1="326.4" y1="549.7" x2="363.2" y2="525.4" stroke="#000" stroke-width="2.0" />
<text transform="translate(368.0,533.0) scale(0.9615,1)" font-size="28.70" text-anchor="start" font-weight="normal"  style="">mSG</text>
<line x1="415.4" y1="602.5" x2="508.6" y2="552.1" stroke="#000" stroke-width="2.0" />
<text transform="translate(513.4,559.8) scale(0.9615,1)" font-size="28.70" text-anchor="start" font-weight="normal"  style="">mSG2</text>
<line x1="513.4" y1="678.5" x2="669.4" y2="598.4" stroke="#000" stroke-width="2.0" />
<text transform="translate(674.8,598.4) scale(0.9615,1)" font-size="28.70" text-anchor="start" font-weight="normal"  style="">SG</text>
<line x1="670.6" y1="692.1" x2="756.7" y2="631.0" stroke="#000" stroke-width="2.0" />
<text transform="translate(761.4,634.0) scale(0.9615,1)" font-size="28.70" text-anchor="start" font-weight="normal"  style="">td8ox2SG</text>
<line x1="212.4" y1="625.8" x2="254.0" y2="686.2" stroke="#000" stroke-width="2.0" />
<text transform="translate(258.2,690.4) scale(0.9615,1)" font-size="28.70" text-anchor="start" font-weight="normal"  style="">mNeonGreen</text>
<line x1="271.8" y1="715.3" x2="352.0" y2="709.3" stroke="#000" stroke-width="2.0" />
<text transform="translate(356.0,720.0) scale(0.9615,1)" font-size="28.70" text-anchor="start" font-weight="normal"  style="">mEGFP</text>
<line x1="200.6" y1="729.0" x2="396.4" y2="740.8" stroke="#000" stroke-width="2.0" />
<text transform="translate(402.4,748.0) scale(0.9615,1)" font-size="28.70" text-anchor="start" font-weight="normal"  style="">mClover3</text>
<line x1="191.1" y1="769.3" x2="513.4" y2="770.5" stroke="#000" stroke-width="2.0" />
<text transform="translate(522.3,776.4) scale(0.9615,1)" font-size="28.70" text-anchor="start" font-weight="normal"  style="">mGreenLantern</text>
<line x1="1320.0" y1="474.3" x2="1320.0" y2="800.6" stroke="#000" stroke-width="2.7" />
<line x1="1318.7" y1="799.3" x2="2157.0" y2="799.3" stroke="#000" stroke-width="2.7" />
<path d="M1320.8,546.2 1320.8,548.3 1320.8,549.4 1320.8,550.8 1320.8,552.2 1320.8,553.7 1320.8,555.2 1320.9,556.7 1320.9,558.2 1320.9,559.7 1320.9,561.2 1320.9,562.7 1320.9,564.2 1321.0,565.7 1321.0,567.2 1321.0,568.7 1321.0,570.2 1321.1,571.7 1321.1,573.2 1321.1,574.7 1321.2,576.2 1321.2,577.7 1321.2,579.2 1321.3,580.7 1321.3,582.2 1321.3,583.7 1321.4,585.2 1321.4,586.7 1321.5,588.2 1321.5,589.7 1321.5,591.2 1321.6,592.7 1321.6,594.2 1321.7,595.7 1321.7,597.2 1321.8,598.7 1321.8,600.2 1321.8,601.7 1321.9,603.2 1321.9,604.7 1322.0,606.2 1322.0,607.7 1322.1,609.2 1322.1,610.7 1322.2,612.2 1322.2,613.7 1322.3,615.2 1322.4,616.7 1322.4,618.2 1322.5,619.7 1322.6,621.2 1322.7,622.7 1322.7,624.2 1322.8,625.7 1322.9,627.2 1323.0,628.7 1323.1,630.2 1323.2,631.7 1323.3,633.2 1323.4,634.7 1323.4,636.2 1323.5,637.7 1323.6,639.2 1323.7,640.7 1323.9,642.2 1324.0,643.6 1324.1,645.1 1324.2,646.6 1324.3,648.1 1324.4,649.6 1324.5,651.1 1324.7,652.6 1324.8,654.1 1324.9,655.6 1325.0,657.1 1325.2,658.6 1325.3,660.1 1325.4,661.6 1325.6,663.1 1325.7,664.5 1325.9,666.0 1326.0,667.5 1326.2,669.0 1326.4,670.5 1326.5,672.0 1326.7,673.5 1326.9,675.0 1327.1,676.5 1327.3,678.0 1327.5,679.5 1327.8,680.9 1328.0,682.4 1328.2,683.9 1328.4,685.4 1328.7,686.9 1328.9,688.4 1329.2,689.8 1329.4,691.3 1329.7,692.8 1330.0,694.3 1330.2,695.7 1330.5,697.2 1330.8,698.7 1331.1,700.2 1331.4,701.6 1331.7,703.1 1332.0,704.5 1332.3,706.0 1332.7,707.5 1333.1,708.9 1333.4,710.4 1333.8,711.8 1334.2,713.3 1334.6,714.7 1335.0,716.2 1335.4,717.6 1335.9,719.1 1336.3,720.5 1336.7,721.9 1337.2,723.4 1337.7,724.8 1338.1,726.2 1338.6,727.6 1339.1,729.1 1339.5,730.5 1340.0,731.9 1340.5,733.3 1341.1,734.8 1341.6,736.2 1342.1,737.6 1342.7,739.0 1343.3,740.4 1343.8,741.8 1344.4,743.1 1345.0,744.5 1345.7,745.9 1346.3,747.2 1347.0,748.5 1347.7,749.8 1348.4,751.1 1349.2,752.4 1349.9,753.7 1350.8,755.0 1351.6,756.3 1352.4,757.5 1353.3,758.8 1354.2,760.0 1355.2,761.2 1356.1,762.3 1357.1,763.5 1358.1,764.5 1359.1,765.6 1360.2,766.6 1361.3,767.6 1362.4,768.6 1363.6,769.6 1364.7,770.5 1366.0,771.4 1367.2,772.3 1368.5,773.2 1369.7,774.0 1371.0,774.8 1372.3,775.5 1373.6,776.2 1374.9,776.9 1376.2,777.6 1377.6,778.2 1378.9,778.9 1380.3,779.5 1381.7,780.1 1383.1,780.6 1384.5,781.2 1385.9,781.8 1387.3,782.3 1388.8,782.8 1390.2,783.3 1391.6,783.7 1393.1,784.2 1394.5,784.6 1395.9,785.0 1397.4,785.4 1398.8,785.8 1400.3,786.2 1401.7,786.5 1403.2,786.9 1404.6,787.2 1406.1,787.6 1407.5,787.9 1409.0,788.2 1410.5,788.5 1412.0,788.9 1413.4,789.2 1414.9,789.4 1416.4,789.7 1417.9,790.0 1419.4,790.3 1420.9,790.5 1422.3,790.8 1423.8,791.0 1425.3,791.2 1426.8,791.4 1428.3,791.6 1429.8,791.8 1431.2,792.0 1432.7,792.2 1434.2,792.3 1435.7,792.5 1437.2,792.7 1438.7,792.9 1440.2,793.0 1441.7,793.2 1443.1,793.3 1444.6,793.5 1446.1,793.6 1447.6,793.8 1449.1,793.9 1450.6,794.1 1452.1,794.2 1453.6,794.4 1455.1,794.5 1456.6,794.6 1458.1,794.8 1459.6,794.9 1461.1,795.0 1462.6,795.1 1464.1,795.3 1465.6,795.4 1467.1,795.5 1468.6,795.6 1470.1,795.7 1471.6,795.8 1473.1,795.9 1474.6,796.0 1476.1,796.1 1477.6,796.1 1479.1,796.2 1480.6,796.3 1482.1,796.4 1483.6,796.4 1485.1,796.5 1486.6,796.5 1488.1,796.6 1489.6,796.6 1491.1,796.7 1492.5,796.7 1494.0,796.8 1495.5,796.8 1497.0,796.9 1498.5,796.9 1500.0,797.0 1501.5,797.0 1503.0,797.1 1504.5,797.1 1506.0,797.1 1507.5,797.2 1509.0,797.2 1510.5,797.3 1512.0,797.3 1513.5,797.3 1515.0,797.4 1516.5,797.4 1518.0,797.4 1519.5,797.5 1521.0,797.5 1522.5,797.5 1524.0,797.6 1525.5,797.6 1527.0,797.6 1528.5,797.7 1530.0,797.7 1531.5,797.7 1533.0,797.7 1534.5,797.8 1536.0,797.8 1537.5,797.8 1539.0,797.8 1540.5,797.9 1542.0,797.9 1543.5,797.9 1545.0,797.9 1546.5,798.0 1548.0,798.0 1549.5,798.0 1551.0,798.0 1552.5,798.0 1554.0,798.1 1555.5,798.1 1557.0,798.1 1558.5,798.1 1560.0,798.1 1561.5,798.1 1563.0,798.1 1564.5,798.2 1566.0,798.2 1567.5,798.2 1569.0,798.2 1570.5,798.2 1572.0,798.2 1573.5,798.2 1575.0,798.2 1576.5,798.3 1578.0,798.3 1579.5,798.3 1581.0,798.3 1582.5,798.3 1584.0,798.3 1585.5,798.3 1587.0,798.3 1588.5,798.4 1590.0,798.4 1591.5,798.4 1593.0,798.4 1594.5,798.4 1596.0,798.4 1597.5,798.4 1599.0,798.4 1600.5,798.4 1602.0,798.4 1603.5,798.5 1605.0,798.5 1606.5,798.5 1608.0,798.5 1609.5,798.5 1611.0,798.5 1612.5,798.5 1614.0,798.5 1615.5,798.5 1617.0,798.6 1618.5,798.6 1620.0,798.6 1621.5,798.6 1623.0,798.6 1624.5,798.6 1626.0,798.6 1627.5,798.6 1629.0,798.6 1630.5,798.6 1632.0,798.6 1633.5,798.7 1635.0,798.7 1636.5,798.7 1638.0,798.7 1639.5,798.7 1641.0,798.7 1642.5,798.7 1644.0,798.7 1645.5,798.7 1647.0,798.7 1648.5,798.7 1650.0,798.8 1651.5,798.8 1653.0,798.8 1654.5,798.8 1656.0,798.8 1657.5,798.8 1659.0,798.8 1660.5,798.8 1662.0,798.8 1663.5,798.8 1665.0,798.8 1666.5,798.8 1668.0,798.8 1669.5,798.9 1671.0,798.9 1672.5,798.9 1674.0,798.9 1675.5,798.9 1677.0,798.9 1678.5,798.9 1680.0,798.9 1681.5,798.9 1683.0,798.9 1684.5,798.9 1686.0,798.9 1687.5,798.9 1689.0,798.9 1690.5,799.0 1692.0,799.0 1693.5,799.0 1695.0,799.0 1696.5,799.0 1698.0,799.0 1699.5,799.0 1701.0,799.0 1702.5,799.0 1704.0,799.0 1705.5,799.0 1707.0,799.0 1708.5,799.0 1710.0,799.0 1711.5,799.0 1713.0,799.0 1714.5,799.0 1716.0,799.1 1717.5,799.1 1719.0,799.1 1720.5,799.1 1722.0,799.1 1723.5,799.1 1725.0,799.1 1726.5,799.1 1728.0,799.1 1729.5,799.1 1731.0,799.1 1732.5,799.1 1734.0,799.1 1735.5,799.1 1737.0,799.1 1738.5,799.1 1740.0,799.1 1741.5,799.1 1743.0,799.1 1744.5,799.1 1746.0,799.1 1747.5,799.1 1749.0,799.1 1750.5,799.1 1752.0,799.2 1753.5,799.2 1755.0,799.2 1756.5,799.2 1758.0,799.2 1759.5,799.2 1761.0,799.2 1762.5,799.2 1764.0,799.2 1765.5,799.2 1767.0,799.2 1768.5,799.2 1770.0,799.2 1771.5,799.2 1773.0,799.2 1774.5,799.2 1776.0,799.2 1777.5,799.2 1779.0,799.2 1780.5,799.2 1782.0,799.2 1783.5,799.2 1785.0,799.2 1786.5,799.2 1788.0,799.2 1789.5,799.2 1791.0,799.2 1792.5,799.2 1794.0,799.2 1795.4,799.2 1796.8,799.2 1797.9,799.2 1800.0,799.2" fill="none" stroke="#000000" stroke-width="4" stroke-linejoin="round" stroke-linecap="round"/>
<path d="M1320.8,546.2 1320.8,548.3 1320.8,549.4 1320.8,550.8 1320.8,552.2 1320.8,553.7 1320.8,555.2 1320.8,556.7 1320.8,558.2 1320.8,559.7 1320.8,561.2 1320.8,562.7 1320.8,564.2 1320.8,565.7 1320.8,567.2 1320.9,568.7 1320.9,570.2 1320.9,571.7 1320.9,573.2 1320.9,574.7 1320.9,576.2 1320.9,577.7 1320.9,579.2 1320.9,580.7 1320.9,582.2 1320.9,583.7 1320.9,585.2 1321.0,586.7 1321.0,588.2 1321.0,589.7 1321.0,591.2 1321.0,592.7 1321.0,594.2 1321.0,595.7 1321.0,597.2 1321.1,598.7 1321.1,600.2 1321.1,601.7 1321.1,603.2 1321.1,604.7 1321.1,606.2 1321.1,607.7 1321.2,609.2 1321.2,610.7 1321.2,612.2 1321.2,613.7 1321.2,615.2 1321.2,616.7 1321.3,618.2 1321.3,619.7 1321.3,621.2 1321.3,622.7 1321.3,624.2 1321.3,625.7 1321.4,627.2 1321.4,628.7 1321.4,630.2 1321.4,631.7 1321.4,633.2 1321.5,634.7 1321.5,636.2 1321.5,637.7 1321.5,639.2 1321.5,640.7 1321.6,642.2 1321.6,643.7 1321.6,645.2 1321.6,646.7 1321.7,648.2 1321.7,649.7 1321.7,651.2 1321.8,652.7 1321.8,654.2 1321.8,655.7 1321.9,657.2 1321.9,658.7 1322.0,660.2 1322.0,661.7 1322.1,663.2 1322.1,664.7 1322.2,666.2 1322.2,667.7 1322.3,669.2 1322.3,670.7 1322.4,672.2 1322.4,673.7 1322.5,675.2 1322.6,676.7 1322.6,678.2 1322.7,679.7 1322.8,681.2 1322.8,682.7 1322.9,684.2 1323.0,685.6 1323.0,687.1 1323.1,688.6 1323.2,690.1 1323.3,691.6 1323.3,693.1 1323.4,694.6 1323.5,696.1 1323.6,697.6 1323.7,699.1 1323.8,700.6 1323.9,702.1 1323.9,703.6 1324.0,705.1 1324.1,706.6 1324.2,708.1 1324.3,709.6 1324.5,711.1 1324.6,712.6 1324.7,714.1 1324.8,715.6 1325.0,717.1 1325.1,718.6 1325.3,720.1 1325.5,721.6 1325.7,723.1 1325.8,724.6 1326.0,726.1 1326.3,727.6 1326.5,729.0 1326.7,730.5 1326.9,732.0 1327.2,733.5 1327.4,735.0 1327.7,736.4 1327.9,737.9 1328.2,739.4 1328.5,740.8 1328.8,742.3 1329.2,743.8 1329.5,745.2 1329.9,746.7 1330.3,748.2 1330.8,749.7 1331.3,751.2 1331.8,752.7 1332.4,754.1 1333.0,755.5 1333.6,756.8 1334.3,758.1 1335.0,759.3 1335.8,760.4 1336.7,761.5 1337.6,762.5 1338.7,763.5 1339.8,764.4 1341.0,765.3 1342.3,766.2 1343.7,767.0 1345.1,767.7 1346.4,768.4 1347.8,769.1 1349.2,769.8 1350.6,770.4 1351.9,770.9 1353.3,771.5 1354.7,772.0 1356.1,772.5 1357.6,773.0 1359.0,773.4 1360.4,773.9 1361.9,774.3 1363.3,774.7 1364.8,775.1 1366.3,775.5 1367.7,775.8 1369.2,776.2 1370.7,776.5 1372.1,776.9 1373.6,777.2 1375.1,777.5 1376.5,777.8 1378.0,778.1 1379.5,778.4 1380.9,778.7 1382.4,778.9 1383.9,779.2 1385.4,779.5 1386.8,779.7 1388.3,780.0 1389.8,780.2 1391.3,780.5 1392.8,780.7 1394.3,781.0 1395.7,781.2 1397.2,781.4 1398.7,781.6 1400.2,781.8 1401.7,782.0 1403.2,782.2 1404.7,782.4 1406.2,782.6 1407.6,782.7 1409.1,782.9 1410.6,783.1 1412.1,783.2 1413.6,783.4 1415.1,783.6 1416.6,783.7 1418.1,783.9 1419.6,784.0 1421.0,784.2 1422.5,784.3 1424.0,784.5 1425.5,784.6 1427.0,784.8 1428.5,784.9 1430.0,785.1 1431.5,785.2 1433.0,785.4 1434.5,785.5 1436.0,785.6 1437.5,785.8 1439.0,785.9 1440.5,786.0 1442.0,786.1 1443.4,786.3 1444.9,786.4 1446.4,786.5 1447.9,786.6 1449.4,786.7 1450.9,786.9 1452.4,787.0 1453.9,787.1 1455.4,787.2 1456.9,787.3 1458.4,787.4 1459.9,787.5 1461.4,787.6 1462.9,787.7 1464.4,787.8 1465.9,787.9 1467.4,788.0 1468.9,788.1 1470.4,788.2 1471.9,788.2 1473.4,788.3 1474.9,788.4 1476.4,788.5 1477.9,788.6 1479.4,788.6 1480.9,788.7 1482.4,788.8 1483.9,788.9 1485.4,788.9 1486.9,789.0 1488.3,789.1 1489.8,789.2 1491.3,789.2 1492.8,789.3 1494.3,789.4 1495.8,789.4 1497.3,789.5 1498.8,789.6 1500.3,789.6 1501.8,789.7 1503.3,789.8 1504.8,789.8 1506.3,789.9 1507.8,790.0 1509.3,790.0 1510.8,790.1 1512.3,790.2 1513.8,790.2 1515.3,790.3 1516.8,790.3 1518.3,790.4 1519.8,790.4 1521.3,790.5 1522.8,790.6 1524.3,790.6 1525.8,790.7 1527.3,790.7 1528.8,790.8 1530.3,790.8 1531.8,790.9 1533.3,790.9 1534.8,791.0 1536.3,791.0 1537.8,791.1 1539.3,791.1 1540.8,791.2 1542.3,791.2 1543.8,791.3 1545.3,791.3 1546.8,791.3 1548.3,791.4 1549.8,791.4 1551.3,791.5 1552.8,791.5 1554.3,791.5 1555.8,791.6 1557.3,791.6 1558.8,791.7 1560.3,791.7 1561.8,791.7 1563.3,791.8 1564.8,791.8 1566.3,791.8 1567.8,791.9 1569.3,791.9 1570.8,791.9 1572.3,792.0 1573.8,792.0 1575.3,792.0 1576.8,792.1 1578.3,792.1 1579.8,792.1 1581.3,792.2 1582.8,792.2 1584.3,792.2 1585.8,792.2 1587.3,792.3 1588.8,792.3 1590.3,792.3 1591.8,792.4 1593.3,792.4 1594.8,792.4 1596.3,792.4 1597.8,792.5 1599.3,792.5 1600.8,792.5 1602.2,792.6 1603.7,792.6 1605.2,792.6 1606.7,792.6 1608.2,792.7 1609.7,792.7 1611.2,792.7 1612.7,792.7 1614.2,792.8 1615.7,792.8 1617.2,792.8 1618.7,792.8 1620.2,792.9 1621.7,792.9 1623.2,792.9 1624.7,792.9 1626.2,793.0 1627.7,793.0 1629.2,793.0 1630.7,793.0 1632.2,793.1 1633.7,793.1 1635.2,793.1 1636.7,793.1 1638.2,793.1 1639.7,793.2 1641.2,793.2 1642.7,793.2 1644.2,793.2 1645.7,793.2 1647.2,793.3 1648.7,793.3 1650.2,793.3 1651.7,793.3 1653.2,793.4 1654.7,793.4 1656.2,793.4 1657.7,793.4 1659.2,793.4 1660.7,793.5 1662.2,793.5 1663.7,793.5 1665.2,793.5 1666.7,793.5 1668.2,793.5 1669.7,793.6 1671.2,793.6 1672.7,793.6 1674.2,793.6 1675.7,793.6 1677.2,793.7 1678.7,793.7 1680.2,793.7 1681.7,793.7 1683.2,793.7 1684.7,793.7 1686.2,793.8 1687.7,793.8 1689.2,793.8 1690.7,793.8 1692.2,793.8 1693.7,793.9 1695.2,793.9 1696.7,793.9 1698.2,793.9 1699.7,793.9 1701.2,793.9 1702.7,794.0 1704.2,794.0 1705.7,794.0 1707.2,794.0 1708.7,794.0 1710.2,794.0 1711.7,794.1 1713.2,794.1 1714.7,794.1 1716.2,794.1 1717.7,794.1 1719.2,794.1 1720.7,794.2 1722.2,794.2 1723.7,794.2 1725.2,794.2 1726.7,794.2 1728.2,794.2 1729.7,794.2 1731.2,794.3 1732.7,794.3 1734.2,794.3 1735.7,794.3 1737.2,794.3 1738.7,794.3 1740.2,794.4 1741.7,794.4 1743.2,794.4 1744.7,794.4 1746.2,794.4 1747.7,794.4 1749.2,794.4 1750.7,794.5 1752.2,794.5 1753.7,794.5 1755.2,794.5 1756.7,794.5 1758.2,794.5 1759.7,794.5 1761.2,794.6 1762.7,794.6 1764.2,794.6 1765.7,794.6 1767.2,794.6 1768.7,794.6 1770.2,794.6 1771.7,794.7 1773.2,794.7 1774.7,794.7 1776.2,794.7 1777.7,794.7 1779.2,794.7 1780.7,794.7 1782.2,794.8 1783.7,794.8 1785.2,794.8 1786.7,794.8 1788.2,794.8 1789.7,794.8 1791.2,794.8 1792.7,794.9 1794.2,794.9 1795.7,794.9 1797.2,794.9 1798.7,794.9 1800.2,794.9 1801.7,794.9 1803.2,794.9 1804.7,795.0 1806.2,795.0 1807.7,795.0 1809.2,795.0 1810.7,795.0 1812.2,795.0 1813.6,795.0 1815.1,795.0 1816.6,795.1 1818.1,795.1 1819.6,795.1 1821.1,795.1 1822.6,795.1 1824.1,795.1 1825.6,795.1 1827.1,795.1 1828.6,795.2 1830.1,795.2 1831.6,795.2 1833.1,795.2 1834.6,795.2 1836.1,795.2 1837.6,795.2 1839.1,795.2 1840.6,795.3 1842.1,795.3 1843.6,795.3 1845.1,795.3 1846.6,795.3 1848.1,795.3 1849.6,795.3 1851.1,795.3 1852.6,795.3 1854.1,795.4 1855.6,795.4 1857.1,795.4 1858.6,795.4 1860.1,795.4 1861.6,795.4 1863.1,795.4 1864.6,795.4 1866.1,795.4 1867.6,795.5 1869.1,795.5 1870.6,795.5 1872.1,795.5 1873.6,795.5 1875.1,795.5 1876.6,795.5 1878.1,795.5 1879.6,795.5 1881.1,795.6 1882.6,795.6 1884.1,795.6 1885.6,795.6 1887.1,795.6 1888.6,795.6 1890.1,795.6 1891.6,795.6 1893.1,795.6 1894.6,795.6 1896.1,795.7 1897.6,795.7 1899.1,795.7 1900.6,795.7 1902.1,795.7 1903.6,795.7 1905.1,795.7 1906.6,795.7 1908.1,795.7 1909.6,795.7 1911.1,795.8 1912.6,795.8 1914.1,795.8 1915.6,795.8 1917.1,795.8 1918.6,795.8 1920.1,795.8 1921.6,795.8 1923.1,795.8 1924.6,795.8 1926.1,795.9 1927.6,795.9 1929.1,795.9 1930.6,795.9 1932.1,795.9 1933.6,795.9 1935.1,795.9 1936.6,795.9 1938.1,795.9 1939.6,795.9 1941.1,795.9 1942.6,796.0 1944.1,796.0 1945.6,796.0 1947.1,796.0 1948.6,796.0 1950.1,796.0 1951.6,796.0 1953.1,796.0 1954.6,796.0 1956.1,796.0 1957.6,796.0 1959.1,796.1 1960.6,796.1 1962.1,796.1 1963.6,796.1 1965.1,796.1 1966.6,796.1 1968.1,796.1 1969.6,796.1 1971.1,796.1 1972.6,796.1 1974.1,796.1 1975.6,796.2 1977.1,796.2 1978.6,796.2 1980.1,796.2 1981.6,796.2 1983.1,796.2 1984.6,796.2 1986.1,796.2 1987.6,796.2 1989.1,796.2 1990.6,796.2 1992.1,796.2 1993.6,796.3 1995.1,796.3 1996.6,796.3 1998.1,796.3 1999.6,796.3 2001.1,796.3 2002.6,796.3 2004.1,796.3 2005.6,796.3 2007.1,796.3 2008.6,796.3 2010.1,796.3 2011.6,796.4 2013.1,796.4 2014.6,796.4 2016.1,796.4 2017.6,796.4 2019.1,796.4 2020.6,796.4 2022.1,796.4 2023.6,796.4 2025.1,796.4 2026.6,796.4 2028.1,796.4 2029.6,796.4 2031.1,796.5 2032.6,796.5 2034.1,796.5 2035.6,796.5 2037.1,796.5 2038.6,796.5 2040.0,796.5 2041.5,796.5 2043.0,796.5 2044.5,796.5 2046.0,796.5 2047.5,796.5 2049.0,796.5 2050.5,796.6 2052.0,796.6 2053.5,796.6 2055.0,796.6 2056.5,796.6 2058.0,796.6 2059.5,796.6 2061.0,796.6 2062.5,796.6 2064.0,796.6 2065.5,796.6 2067.0,796.6 2068.5,796.6 2070.0,796.7 2071.5,796.7 2073.0,796.7 2074.5,796.7 2076.0,796.7 2077.5,796.7 2079.0,796.7 2080.5,796.7 2082.0,796.7 2083.5,796.7 2085.0,796.7 2086.5,796.7 2088.0,796.7 2089.5,796.7 2091.0,796.7 2092.5,796.8 2094.0,796.8 2095.5,796.8 2097.0,796.8 2098.5,796.8 2100.0,796.8 2101.5,796.8 2103.0,796.8 2104.5,796.8 2106.0,796.8 2107.5,796.8 2109.0,796.8 2110.5,796.8 2112.0,796.8 2113.5,796.8 2115.0,796.8 2116.5,796.9 2118.0,796.9 2119.5,796.9 2121.0,796.9 2122.5,796.9 2124.0,796.9 2125.5,796.9 2127.0,796.9 2128.5,796.9 2130.0,796.9 2131.5,796.9 2133.0,796.9 2134.5,796.9 2136.0,796.9 2137.5,796.9 2139.0,796.9 2140.5,796.9 2142.0,797.0 2143.5,797.0 2145.0,797.0 2146.5,797.0 2148.0,797.0 2149.5,797.0 2150.9,797.0 2152.3,797.0 2153.6,797.0 2154.5,797.0" fill="none" stroke="#e51ee5" stroke-width="4" stroke-linejoin="round" stroke-linecap="round"/>
<path d="M1321.9,566.9 1323.1,568.6 1323.8,569.9 1324.7,570.6 1325.6,571.4 1326.5,572.1 1327.3,574.4 1328.2,576.0 1329.0,576.2 1329.8,578.0 1330.6,579.9 1331.4,580.2 1332.1,581.5 1332.9,583.4 1333.6,584.0 1334.4,585.1 1335.1,586.8 1335.8,587.0 1336.6,589.1 1337.3,591.1 1338.0,592.0 1338.7,593.3 1339.5,594.7 1340.2,595.9 1340.9,597.1 1341.7,598.6 1342.4,599.4 1343.1,601.4 1343.8,602.6 1344.6,604.2 1345.3,605.1 1346.0,607.2 1346.7,607.9 1347.4,609.0 1348.2,610.9 1348.9,611.4 1349.6,613.7 1350.3,615.3 1351.1,615.3 1351.8,616.5 1352.5,618.6 1353.2,620.0 1354.0,621.3 1354.7,621.9 1355.4,623.1 1356.1,624.1 1356.9,626.4 1357.6,627.2 1358.3,628.0 1359.1,630.3 1359.8,631.8 1360.6,632.9 1361.3,633.9 1362.1,635.6 1362.9,635.7 1363.7,638.0 1364.4,639.4 1365.2,640.4 1366.0,641.4 1366.8,642.8 1367.6,644.8 1368.4,645.2 1369.2,645.9 1370.0,648.1 1370.8,648.7 1371.6,650.5 1372.4,651.6 1373.2,653.1 1374.0,653.9 1374.8,655.9 1375.6,657.2 1376.4,658.4 1377.1,659.7 1377.9,661.0 1378.7,661.9 1379.5,663.4 1380.3,664.9 1381.1,665.8 1381.9,666.7 1382.7,667.5 1383.5,669.9 1384.3,671.5 1385.2,672.3 1386.0,673.4 1386.8,674.4 1387.7,675.9 1388.5,677.5 1389.4,679.2 1390.3,679.9 1391.2,681.0 1392.0,682.7 1393.0,683.8 1393.9,683.5 1394.8,685.4 1395.8,686.0 1396.7,687.0 1397.7,689.1 1398.7,690.1 1399.8,691.2 1400.8,692.6 1401.9,693.4 1402.9,694.6 1404.0,695.7 1405.1,696.2 1406.2,698.4 1407.4,698.9 1408.5,699.4 1409.7,700.6 1410.8,701.1 1412.0,702.3 1413.2,703.3 1414.4,703.7 1415.6,704.5 1416.9,706.9 1418.1,706.3 1419.4,708.0 1420.6,708.0 1421.9,708.9 1423.1,710.2 1424.4,710.2 1425.7,712.3 1426.9,712.7 1428.2,713.2 1429.5,714.8 1430.7,714.6 1432.0,716.2 1433.3,716.5 1434.5,717.5 1435.8,718.0 1437.1,718.6 1438.3,719.5 1439.6,720.8 1440.9,721.2 1442.2,721.8 1443.5,722.5 1444.8,722.7 1446.1,724.8 1447.3,725.1 1448.6,725.2 1450.0,726.4 1451.3,727.3 1452.6,727.7 1453.9,728.6 1455.2,729.4 1456.5,730.3 1457.8,730.8 1459.2,731.9 1460.5,732.6 1461.8,733.0 1463.2,733.7 1464.5,734.2 1465.8,735.3 1467.2,736.3 1468.5,736.5 1469.9,737.2 1471.2,738.1 1472.6,738.0 1474.0,738.8 1475.3,739.9 1476.7,740.2 1478.1,741.2 1479.4,741.4 1480.8,742.7 1482.2,742.8 1483.6,742.9 1485.0,743.2 1486.4,744.7 1487.7,744.6 1489.1,745.2 1490.5,745.5 1491.9,745.8 1493.3,747.4 1494.8,747.3 1496.2,748.0 1497.6,748.1 1499.0,748.6 1500.4,749.5 1501.8,749.9 1503.2,750.9 1504.6,751.3 1506.1,751.7 1507.5,752.6 1508.9,752.5 1510.3,752.6 1511.8,753.7 1513.2,754.5 1514.6,754.2 1516.0,755.3 1517.5,755.4 1518.9,755.6 1520.3,755.5 1521.8,756.3 1523.2,756.7 1524.7,757.8 1526.1,757.5 1527.5,758.6 1529.0,759.1 1530.4,759.0 1531.9,759.3 1533.3,759.6 1534.8,760.3 1536.2,760.6 1537.7,761.0 1539.1,761.3 1540.6,761.8 1542.0,762.9 1543.5,762.5 1544.9,762.6 1546.4,762.9 1547.8,763.8 1549.3,763.8 1550.7,764.3 1552.2,764.6 1553.7,764.7 1555.1,764.5 1556.6,765.5 1558.1,765.1 1559.5,766.5 1561.0,766.0 1562.5,766.6 1563.9,767.0 1565.4,767.0 1566.9,768.1 1568.3,767.7 1569.8,768.3 1571.3,768.7 1572.8,769.4 1574.2,769.5 1575.7,770.0 1577.2,770.0 1578.7,769.2 1580.1,770.4 1581.6,770.3 1583.1,770.8 1584.6,771.1 1586.1,771.7 1587.5,770.9 1589.0,772.0 1590.5,772.0 1592.0,771.8 1593.4,772.4 1594.9,772.9 1596.4,773.0 1597.9,773.3 1599.4,773.3 1600.8,773.9 1602.3,774.1 1603.8,773.9 1605.3,775.3 1606.8,774.3 1608.2,775.6 1609.7,775.1 1611.2,775.3 1612.7,776.1 1614.2,775.7 1615.6,775.8 1617.1,776.3 1618.6,777.2 1620.1,776.4 1621.6,777.9 1623.1,777.8 1624.5,778.0 1626.0,778.1 1627.5,777.7 1629.0,778.1 1630.5,778.6 1632.0,779.0 1633.5,779.1 1635.0,779.0 1636.4,779.0 1637.9,780.3 1639.4,779.0 1640.9,779.6 1642.4,779.3 1643.9,780.3 1645.4,779.8 1646.9,780.4 1648.4,780.8 1649.9,779.3 1651.4,780.0 1652.9,779.7 1654.4,780.1 1655.8,780.2 1657.3,780.5 1658.8,781.5 1660.3,781.1 1661.8,781.4 1663.3,781.9 1664.8,781.5 1666.3,781.4 1667.8,782.1 1669.3,781.8 1670.8,781.4 1672.3,781.0 1673.8,781.7 1675.3,782.1 1676.8,781.9 1678.3,782.5 1679.8,783.1 1681.3,782.9 1682.8,781.6 1684.3,782.5 1685.8,782.4 1687.3,783.3 1688.8,783.2 1690.3,783.1 1691.8,783.2 1693.3,783.2 1694.8,783.0 1696.3,783.6 1697.8,783.3 1699.3,783.6 1700.8,784.4 1702.2,783.9 1703.7,784.4 1705.2,784.3 1706.7,784.0 1708.2,784.7 1709.7,784.4 1711.2,784.8 1712.7,784.7 1714.2,785.3 1715.7,785.2 1717.2,785.0 1718.7,784.9 1720.2,786.1 1721.7,785.3 1723.2,785.5 1724.7,785.5 1726.2,785.5 1727.7,785.2 1729.2,785.6 1730.7,785.5 1732.2,786.3 1733.7,786.9 1735.2,785.8 1736.7,786.1 1738.2,786.5 1739.7,785.9 1741.2,786.0 1742.7,786.1 1744.2,787.0 1745.7,786.7 1747.2,786.2 1748.7,786.6 1750.2,786.6 1751.7,786.7 1753.2,786.0 1754.7,786.7 1756.2,786.9 1757.7,787.1 1759.1,787.0 1760.6,786.8 1762.1,786.9 1763.6,787.4 1765.1,788.3 1766.6,786.8 1768.1,787.6 1769.6,787.7 1771.1,787.2 1772.6,786.1 1774.1,787.6 1775.6,787.2 1777.1,787.2 1778.6,787.7 1780.1,787.2 1781.6,787.2 1783.1,788.0 1784.6,788.1 1786.1,788.2 1787.6,788.0 1789.1,787.8 1790.6,788.1 1792.1,788.4 1793.6,788.6 1795.1,788.2 1796.6,788.4 1798.1,787.9 1799.6,788.6 1801.1,788.9 1802.6,788.9 1804.1,788.3 1805.6,787.6 1807.1,788.0 1808.6,788.5 1810.1,787.9 1811.6,788.1 1813.1,789.2 1814.6,787.9 1816.1,788.0 1817.6,788.6 1819.1,788.6 1820.6,789.5 1822.1,788.8 1823.6,788.9 1825.1,788.9 1826.6,788.2 1828.1,788.1 1829.6,788.3 1831.1,788.8 1832.6,788.3 1834.1,789.3 1835.6,789.0 1837.1,789.3 1838.6,789.4 1840.1,789.2 1841.6,788.5 1843.1,788.9 1844.6,789.3 1846.1,788.7 1847.6,789.2 1849.1,788.8 1850.6,789.6 1852.1,789.6 1853.6,789.5 1855.1,789.7 1856.6,789.9 1858.1,789.6 1859.6,789.7 1861.1,790.0 1862.6,789.8 1864.1,789.8 1865.6,789.7 1867.1,789.6 1868.6,789.6 1870.1,790.1 1871.6,790.0 1873.1,789.8 1874.6,790.4 1876.1,790.5 1877.6,790.1 1879.1,789.8 1880.6,790.3 1882.1,790.2 1883.6,790.5 1885.1,790.3 1886.6,790.7 1888.1,789.9 1889.6,790.4 1891.1,790.3 1892.6,790.6 1894.1,790.2 1895.6,790.2 1897.1,790.0 1898.6,790.6 1900.1,791.3 1901.6,791.3 1903.1,790.5 1904.6,790.7 1906.1,790.9 1907.6,790.1 1909.1,791.1 1910.6,791.4 1912.1,790.8 1913.6,790.2 1915.1,790.3 1916.6,791.2 1918.1,790.8 1919.6,790.9 1921.1,791.3 1922.6,791.1 1924.1,790.9 1925.6,791.0 1927.1,790.4 1928.6,791.7 1930.1,791.7 1931.6,791.0 1933.1,791.4 1934.6,791.0 1936.1,791.6 1937.6,791.3 1939.1,791.2 1940.6,791.2 1942.1,791.9 1943.6,791.5 1945.1,791.7 1946.6,791.2 1948.1,792.6 1949.6,791.7 1951.1,791.1 1952.6,792.2 1954.1,791.2 1955.6,792.2 1957.1,792.1 1958.6,792.5 1960.1,791.7 1961.6,791.2 1963.1,792.0 1964.6,792.2 1966.1,792.0 1967.6,792.0 1969.1,792.6 1970.6,792.4 1972.1,791.7 1973.6,792.2 1975.1,791.6 1976.6,792.0 1978.1,791.4 1979.6,791.8 1981.0,791.7 1982.5,791.5 1984.0,792.2 1985.5,792.3 1987.0,792.0 1988.5,791.7 1990.0,792.9 1991.5,792.3 1993.0,792.2 1994.5,792.2 1996.0,792.8 1997.5,792.0 1999.0,792.5 2000.5,792.0 2002.0,792.9 2003.5,792.2 2005.0,792.2 2006.5,792.8 2008.0,792.8 2009.5,793.0 2011.0,792.9 2012.5,793.4 2014.0,792.4 2015.5,792.9 2017.0,793.1 2018.5,792.9 2020.0,793.4 2021.5,793.2 2023.0,793.0 2024.5,793.4 2026.0,792.7 2027.5,793.0 2029.0,792.7 2030.5,793.5 2032.0,792.7 2033.5,792.7 2035.0,793.2 2036.5,793.1 2038.0,792.7 2039.5,793.2 2041.0,793.6 2042.5,793.2 2044.0,792.7 2045.5,793.1 2047.0,792.8 2048.5,792.9 2050.0,793.6 2051.5,793.5 2053.0,793.9 2054.5,793.0 2056.0,793.3 2057.5,793.0 2059.0,793.8 2060.5,793.1 2062.0,793.1 2063.5,793.0 2065.0,793.7 2066.5,793.7 2068.0,793.6 2069.5,794.1 2071.0,793.6 2072.5,793.3 2074.0,794.5 2075.5,793.4 2077.0,793.5 2078.5,794.2 2080.0,793.8 2081.5,793.9 2083.0,793.2 2084.5,793.5 2086.0,793.5 2087.5,794.0 2089.0,793.8 2090.5,794.1 2092.0,793.6 2093.5,793.8 2095.0,794.1 2096.5,793.5 2098.0,793.6 2099.5,794.4 2101.0,793.8 2102.5,794.9 2104.0,794.4 2105.5,794.4 2107.0,794.0 2108.5,794.3 2110.0,794.2 2111.5,793.6 2113.0,794.0 2114.5,794.0 2116.0,794.5 2117.5,794.1 2119.0,793.3 2120.5,794.3 2122.0,794.2 2123.5,794.5 2125.0,794.4 2126.5,793.8 2128.0,793.7 2129.5,794.1 2131.0,794.0 2132.5,794.3 2134.0,794.2 2135.5,794.3 2137.0,794.6 2138.5,794.3 2140.0,794.3 2141.5,794.7 2143.0,794.9 2144.5,794.7 2146.0,793.9 2147.5,794.6 2149.0,794.4 2150.5,794.9 2151.9,793.6 2153.3,794.5 2154.4,794.6" fill="none" stroke="#1a1ad8" stroke-width="4" stroke-linejoin="round" stroke-linecap="round"/>
<path d="M1321.9,525.7 1323.5,526.2 1324.4,527.0 1325.3,528.2 1326.1,528.3 1326.8,530.4 1327.4,530.7 1328.0,532.5 1328.5,534.9 1329.0,536.2 1329.4,537.7 1329.8,539.7 1330.2,540.8 1330.7,542.2 1331.1,543.0 1331.6,544.5 1332.0,547.2 1332.5,547.4 1332.9,549.8 1333.3,550.9 1333.8,553.1 1334.2,553.1 1334.6,555.7 1335.0,556.1 1335.5,557.7 1335.9,560.4 1336.3,561.7 1336.7,562.3 1337.1,564.5 1337.6,565.4 1338.0,566.5 1338.4,568.6 1338.8,568.7 1339.2,570.1 1339.7,570.6 1340.1,573.9 1340.5,574.7 1340.9,576.4 1341.3,578.1 1341.8,579.5 1342.2,581.3 1342.6,582.3 1343.1,584.5 1343.5,584.2 1343.9,587.2 1344.4,588.7 1344.8,589.3 1345.3,591.8 1345.8,592.2 1346.3,595.1 1346.7,596.0 1347.2,596.9 1347.7,598.1 1348.2,599.8 1348.7,601.1 1349.2,602.3 1349.7,603.9 1350.2,605.9 1350.8,606.4 1351.3,607.4 1351.8,610.6 1352.4,610.9 1352.9,612.5 1353.4,613.5 1354.0,614.6 1354.6,616.9 1355.1,618.4 1355.7,618.8 1356.3,620.0 1356.9,621.9 1357.5,623.4 1358.2,624.3 1358.8,626.5 1359.4,627.4 1360.0,628.1 1360.7,629.9 1361.3,631.4 1361.9,632.8 1362.5,633.8 1363.1,635.9 1363.8,636.3 1364.4,638.5 1365.0,639.5 1365.6,640.4 1366.2,641.9 1366.8,642.8 1367.4,644.1 1368.0,645.5 1368.6,647.9 1369.2,649.1 1369.8,649.8 1370.4,651.5 1371.0,652.6 1371.7,655.1 1372.3,655.5 1372.9,657.4 1373.6,658.9 1374.2,660.4 1374.8,662.0 1375.5,662.6 1376.2,663.1 1376.8,665.8 1377.5,667.1 1378.2,667.1 1378.8,669.4 1379.5,671.0 1380.2,671.9 1380.9,673.4 1381.6,674.0 1382.3,675.6 1383.0,676.7 1383.7,679.7 1384.4,680.1 1385.1,681.2 1385.8,682.2 1386.5,684.1 1387.2,685.5 1387.9,686.6 1388.7,687.4 1389.4,688.8 1390.1,689.8 1390.9,690.9 1391.7,693.4 1392.5,694.2 1393.3,696.0 1394.1,696.9 1394.9,698.1 1395.7,699.3 1396.6,700.7 1397.5,703.0 1398.4,703.5 1399.2,703.9 1400.2,706.3 1401.1,706.5 1402.0,707.1 1402.9,707.9 1403.9,709.2 1404.8,711.8 1405.7,713.1 1406.7,713.2 1407.6,714.9 1408.5,715.3 1409.5,717.2 1410.4,719.0 1411.4,719.9 1412.3,720.6 1413.3,721.4 1414.3,723.2 1415.2,724.5 1416.2,725.2 1417.2,726.4 1418.2,728.2 1419.2,728.8 1420.3,729.1 1421.3,731.6 1422.4,731.9 1423.5,731.8 1424.6,734.6 1425.7,735.9 1426.8,736.2 1427.9,736.6 1429.1,737.3 1430.2,738.6 1431.4,738.7 1432.5,741.1 1433.7,742.1 1434.9,742.1 1436.1,744.6 1437.2,745.1 1438.4,746.4 1439.6,746.7 1440.8,748.1 1442.0,748.5 1443.2,748.5 1444.4,750.1 1445.6,750.2 1446.8,751.2 1448.1,752.6 1449.3,752.8 1450.6,753.5 1451.8,755.5 1453.1,755.8 1454.4,756.6 1455.6,757.6 1456.9,757.4 1458.2,759.0 1459.6,759.1 1460.9,760.6 1462.2,761.3 1463.5,761.8 1464.9,763.4 1466.2,763.3 1467.6,764.1 1468.9,764.6 1470.3,765.3 1471.7,766.5 1473.1,767.5 1474.4,767.0 1475.8,767.3 1477.2,767.8 1478.6,768.4 1480.0,769.7 1481.4,769.1 1482.9,769.2 1484.3,768.8 1485.7,770.7 1487.2,771.3 1488.6,771.5 1490.1,772.0 1491.5,772.5 1493.0,772.5 1494.4,773.3 1495.9,773.1 1497.3,773.9 1498.8,775.8 1500.2,775.0 1501.7,775.1 1503.2,775.3 1504.6,775.7 1506.1,776.8 1507.5,775.9 1509.0,776.6 1510.5,776.8 1511.9,777.9 1513.4,777.9 1514.9,777.4 1516.4,777.0 1517.8,778.8 1519.3,779.4 1520.8,778.6 1522.3,780.0 1523.8,778.6 1525.2,778.9 1526.7,778.9 1528.2,780.5 1529.7,780.2 1531.2,781.1 1532.7,779.2 1534.1,781.5 1535.6,781.4 1537.1,782.5 1538.6,782.1 1540.1,781.1 1541.6,783.1 1543.1,782.4 1544.5,783.3 1546.0,782.1 1547.5,783.1 1549.0,783.6 1550.5,783.8 1552.0,783.9 1553.5,782.8 1555.0,783.5 1556.4,783.2 1557.9,784.2 1559.4,783.1 1560.9,785.3 1562.4,784.0 1563.9,785.1 1565.4,784.2 1566.9,786.3 1568.4,786.1 1569.9,784.2 1571.4,784.3 1572.9,785.7 1574.4,784.6 1575.8,785.6 1577.3,786.4 1578.8,785.4 1580.3,785.8 1581.8,786.0 1583.3,786.4 1584.8,787.0 1586.3,787.0 1587.8,785.9 1589.3,786.1 1590.8,787.1 1592.3,787.8 1593.8,786.8 1595.3,786.7 1596.8,787.2 1598.3,787.3 1599.8,787.7 1601.3,787.5 1602.8,787.9 1604.3,787.4 1605.8,788.5 1607.3,788.5 1608.8,788.4 1610.3,788.3 1611.8,787.9 1613.3,787.7 1614.8,788.6 1616.3,788.4 1617.8,788.5 1619.3,789.6 1620.8,788.6 1622.3,789.7 1623.7,790.2 1625.2,789.8 1626.7,789.0 1628.2,789.5 1629.7,789.2 1631.2,789.5 1632.7,789.6 1634.2,788.7 1635.7,789.6 1637.2,789.8 1638.7,790.1 1640.2,790.0 1641.7,790.0 1643.2,789.8 1644.7,790.8 1646.2,789.8 1647.7,789.9 1649.2,790.3 1650.7,790.2 1652.2,789.7 1653.7,790.9 1655.2,791.2 1656.7,790.7 1658.2,790.7 1659.7,790.9 1661.2,791.4 1662.7,790.3 1664.2,791.0 1665.7,791.7 1667.2,790.6 1668.7,791.6 1670.2,790.1 1671.7,791.9 1673.2,792.4 1674.7,791.9 1676.2,791.8 1677.7,791.0 1679.2,791.0 1680.7,791.1 1682.2,792.0 1683.7,791.7 1685.2,792.5 1686.7,791.7 1688.2,792.4 1689.7,792.2 1691.2,792.0 1692.7,791.8 1694.2,792.6 1695.7,790.8 1697.2,793.6 1698.7,792.0 1700.2,792.6 1701.7,793.6 1703.2,791.6 1704.7,791.9 1706.2,793.1 1707.7,791.8 1709.2,792.5 1710.7,792.5 1712.2,792.8 1713.7,792.6 1715.2,793.1 1716.7,792.3 1718.2,792.8 1719.7,792.0 1721.2,793.2 1722.7,791.8 1724.1,793.2 1725.6,792.6 1727.1,793.9 1728.6,793.2 1730.1,793.3 1731.6,792.7 1733.1,793.3 1734.6,793.7 1736.1,793.5 1737.6,794.2 1739.1,793.2 1740.6,794.4 1742.1,792.4 1743.6,793.0 1745.1,793.2 1746.6,793.2 1748.1,793.6 1749.6,793.1 1751.1,792.6 1752.6,793.2 1754.1,792.7 1755.6,793.4 1757.1,793.6 1758.6,791.3 1760.1,794.0 1761.6,793.0 1763.1,793.4 1764.6,793.6 1766.1,793.5 1767.6,794.1 1769.1,794.3 1770.6,791.9 1772.1,795.1 1773.6,793.4 1775.1,793.7 1776.6,793.5 1778.1,793.1 1779.6,793.6 1781.1,793.7 1782.6,793.8 1784.1,794.3 1785.6,794.1 1787.1,793.4 1788.6,794.6 1790.1,794.2 1791.6,793.5 1793.1,794.2 1794.6,794.4 1796.1,793.8 1797.6,793.9 1799.1,792.5 1800.6,792.8 1802.1,793.7 1803.6,793.8 1805.1,794.5 1806.6,793.1 1808.1,793.5 1809.6,793.9 1811.1,793.3 1812.6,793.3 1814.1,794.7 1815.6,794.1 1817.1,794.9 1818.6,793.5 1820.1,794.6 1821.6,794.6 1823.1,795.3 1824.6,794.2 1826.1,794.9 1827.6,794.8 1829.1,794.2 1830.6,793.4 1832.1,793.7 1833.6,793.8 1835.1,794.0 1836.6,794.6 1838.1,794.8 1839.6,793.6 1841.1,794.5 1842.6,794.6 1844.1,794.7 1845.6,793.6 1847.1,793.5 1848.6,794.7 1850.1,794.2 1851.6,794.2 1853.1,795.2 1854.6,793.9 1856.1,793.5 1857.6,794.0 1859.1,795.3 1860.6,794.3 1862.1,794.8 1863.6,794.7 1865.1,795.7 1866.6,794.0 1868.1,794.7 1869.6,794.7 1871.1,794.4 1872.6,794.6 1874.1,793.5 1875.6,794.8 1877.1,793.8 1878.6,795.1 1880.1,794.5 1881.6,793.6 1883.1,794.3 1884.6,795.0 1886.1,794.1 1887.6,793.3 1889.1,794.5 1890.6,794.6 1892.1,794.6 1893.6,794.8 1895.1,795.4 1896.6,795.3 1898.1,795.3 1899.6,794.6 1901.1,795.8 1902.6,793.8 1904.1,793.9 1905.6,794.0 1907.1,794.6 1908.6,794.8 1910.1,794.1 1911.6,794.7 1913.1,795.3 1914.6,795.0 1916.1,795.0 1917.6,795.4 1919.1,795.6 1920.6,794.3 1922.1,794.7 1923.6,793.8 1925.1,794.3 1926.6,794.3 1928.1,794.5 1929.6,793.8 1931.1,794.7 1932.6,794.8 1934.1,794.1 1935.6,794.5 1937.1,795.3 1938.6,795.2 1940.1,794.3 1941.6,794.6 1943.1,794.7 1944.6,795.2 1946.1,795.4 1947.6,794.6 1949.1,794.7 1950.6,795.0 1952.1,794.6 1953.6,795.1 1955.1,794.1 1956.6,794.5 1958.1,795.9 1959.6,795.0 1961.1,794.3 1962.6,795.6 1964.1,795.0 1965.6,795.0 1967.1,795.1 1968.6,796.2 1970.1,794.8 1971.6,794.5 1973.1,795.4 1974.6,795.5 1976.1,794.5 1977.6,794.8 1979.1,796.0 1980.6,795.5 1982.1,796.0 1983.6,794.9 1985.1,795.2 1986.6,794.5 1988.1,793.8 1989.6,795.7 1991.1,794.5 1992.6,795.1 1994.1,794.6 1995.6,795.1 1997.1,794.8 1998.6,796.2 2000.0,795.2 2001.5,794.8 2003.0,795.2 2004.5,793.7 2006.0,795.5 2007.5,794.7 2009.0,795.8 2010.5,794.5 2012.0,796.0 2013.5,793.7 2015.0,794.8 2016.5,795.9 2018.0,795.6 2019.5,794.9 2021.0,795.8 2022.5,794.7 2024.0,795.9 2025.5,796.2 2027.0,796.3 2028.5,794.7 2030.0,796.2 2031.5,796.2 2033.0,795.5 2034.5,795.5 2036.0,795.6 2037.5,795.1 2039.0,795.2 2040.5,795.7 2042.0,795.9 2043.5,795.4 2045.0,794.3 2046.5,795.7 2048.0,794.2 2049.5,796.2 2051.0,795.9 2052.5,794.9 2054.0,796.0 2055.5,796.0 2057.0,795.2 2058.5,794.5 2060.0,796.1 2061.5,795.6 2063.0,795.2 2064.5,796.0 2066.0,795.1 2067.5,796.1 2069.0,796.5 2070.5,795.1 2072.0,795.2 2073.5,796.0 2075.0,795.6 2076.5,794.4 2078.0,796.2 2079.5,795.3 2081.0,796.3 2082.5,794.7 2084.0,795.8 2085.5,795.8 2087.0,795.9 2088.5,795.0 2090.0,794.7 2091.5,796.0 2093.0,796.2 2094.5,795.7 2096.0,795.9 2097.5,795.2 2099.0,795.0 2100.5,796.4 2102.0,796.6 2103.5,796.8 2105.0,795.9 2106.5,795.1 2108.0,794.0 2109.5,795.9 2111.0,796.4 2112.5,796.1 2114.0,796.1 2115.5,795.0 2117.0,796.4 2118.5,796.6 2120.0,797.3 2121.5,796.6 2123.0,796.7 2124.5,794.6 2126.0,794.9 2127.5,794.9 2129.0,796.3 2130.5,795.8 2132.0,795.1 2133.5,795.2 2135.0,796.1 2136.5,794.8 2138.0,796.0 2139.5,796.1 2141.0,797.1 2142.5,795.8 2144.0,794.7 2145.5,796.7 2147.0,795.9 2148.5,795.8 2150.0,795.4 2151.5,796.0 2152.9,795.4 2154.1,795.6 2156.0,795.5" fill="none" stroke="#e5141b" stroke-width="4" stroke-linejoin="round" stroke-linecap="round"/>
<path d="M1320.8,525.5 1322.3,522.6 1323.8,514.6 1325.3,516.9 1326.8,513.4 1328.3,514.0 1329.8,513.9 1331.3,510.3 1332.8,514.3 1334.3,513.4 1335.8,506.3 1337.3,508.7 1338.8,504.9 1340.3,503.2 1341.8,503.8 1343.3,505.3 1344.8,506.9 1346.3,513.0 1347.8,514.9 1349.3,513.8 1350.8,514.9 1352.3,520.1 1353.8,522.2 1355.3,525.3 1356.8,522.4 1358.3,523.6 1359.8,518.1 1361.3,521.5 1362.8,524.1 1364.3,520.3 1365.8,520.0 1367.3,528.7 1368.8,525.1 1370.3,522.4 1371.8,525.3 1373.3,523.6 1374.8,521.2 1376.3,522.8 1377.8,522.5 1379.3,525.7 1380.8,522.4 1382.3,522.7 1383.8,519.7 1385.3,519.8 1386.8,522.6 1388.3,522.9 1389.8,525.0 1391.3,525.1 1392.8,524.0 1394.3,520.0 1395.8,523.8 1397.3,517.6 1398.8,521.8 1400.3,522.7 1401.8,525.7 1403.3,522.0 1404.8,525.5 1406.3,526.9 1407.8,524.8 1409.3,532.5 1410.8,529.9 1412.3,533.7 1413.8,529.7 1415.3,534.2 1416.8,535.1 1418.3,533.5 1419.8,538.4 1421.3,533.6 1422.8,534.4 1424.3,527.4 1425.8,532.9 1427.3,527.2 1428.8,528.0 1430.3,528.5 1431.8,529.5 1433.3,534.6 1434.8,531.5 1436.3,533.1 1437.8,532.7 1439.3,534.8 1440.8,533.0 1442.3,538.2 1443.8,539.2 1445.3,536.6 1446.8,535.9 1448.3,538.2 1449.8,540.0 1451.3,538.2 1452.8,537.4 1454.3,541.8 1455.8,539.8 1457.3,545.5 1458.8,548.3 1460.3,545.1 1461.8,550.9 1463.3,552.3 1464.8,553.1 1466.3,555.0 1467.8,555.6 1469.3,553.7 1470.8,553.7 1472.3,553.1 1473.8,552.5 1475.3,554.4 1476.8,553.4 1478.3,551.8 1479.8,553.4 1481.3,552.6 1482.8,551.9 1484.3,550.1 1485.8,550.0 1487.3,551.8 1488.8,551.0 1490.3,550.5 1491.8,549.7 1493.3,551.3 1494.8,553.2 1496.3,554.5 1497.8,557.4 1499.3,558.2 1500.8,555.7 1502.3,558.9 1503.8,559.9 1505.3,558.4 1506.8,558.4 1508.3,560.6 1509.8,560.8 1511.3,563.0 1512.8,561.6 1514.3,562.8 1515.8,563.3 1517.3,562.9 1518.8,560.7 1520.3,561.5 1521.8,561.0 1523.3,561.0 1524.8,564.0 1526.3,562.1 1527.8,562.8 1529.3,563.3 1530.8,564.7 1532.3,564.4 1533.8,564.9 1535.3,564.8 1536.8,560.3 1538.3,563.1 1539.8,564.7 1541.3,566.2 1542.8,567.0 1544.3,565.2 1545.8,566.6 1547.3,566.0 1548.8,569.6 1550.3,569.6 1551.8,571.4 1553.3,571.9 1554.8,572.2 1556.3,572.4 1557.8,577.2 1559.3,573.6 1560.8,574.2 1562.3,577.0 1563.8,574.1 1565.3,575.7 1566.8,576.5 1568.3,576.6 1569.8,576.3 1571.3,576.5 1572.8,578.1 1574.3,577.8 1575.8,578.6 1577.3,578.0 1578.8,577.8 1580.3,576.5 1581.8,579.5 1583.3,577.6 1584.8,579.4 1586.3,575.2 1587.8,575.5 1589.3,577.3 1590.8,577.2 1592.3,578.8 1593.8,579.2 1595.3,580.2 1596.8,581.5 1598.3,583.7 1599.8,582.9 1601.3,581.2 1602.8,582.0 1604.3,581.7 1605.8,583.8 1607.3,579.5 1608.8,581.3 1610.3,583.0 1611.8,582.1 1613.3,584.6 1614.8,583.1 1616.3,584.5 1617.8,586.0 1619.3,587.7 1620.8,587.7 1622.3,586.3 1623.8,588.5 1625.3,586.6 1626.8,587.5 1628.3,589.4 1629.8,586.8 1631.3,590.4 1632.8,588.0 1634.3,590.6 1635.8,590.3 1637.3,591.1 1638.8,591.0 1640.3,589.1 1641.8,590.6 1643.3,591.3 1644.8,590.0 1646.3,591.0 1647.8,588.7 1649.3,589.6 1650.8,592.2 1652.3,591.3 1653.8,591.5 1655.3,592.2 1656.8,593.9 1658.3,592.2 1659.8,594.3 1661.3,593.8 1662.8,594.2 1664.3,593.7 1665.8,596.8 1667.3,595.9 1668.8,595.1 1670.3,595.5 1671.8,595.0 1673.3,596.7 1674.8,593.5 1676.3,594.0 1677.8,594.0 1679.3,593.8 1680.8,592.3 1682.3,592.0 1683.8,593.9 1685.3,594.9 1686.8,592.7 1688.3,593.9 1689.8,594.6 1691.3,595.2 1692.8,597.7 1694.3,595.2 1695.8,597.1 1697.3,599.1 1698.8,600.6 1700.3,601.6 1701.8,602.5 1703.3,603.0 1704.8,602.6 1706.3,602.9 1707.8,603.8 1709.3,604.4 1710.8,604.4 1712.3,603.0 1713.8,602.9 1715.3,604.9 1716.8,604.1 1718.3,605.2 1719.8,603.8 1721.3,603.7 1722.8,605.0 1724.3,603.1 1725.8,605.9 1727.3,604.9 1728.8,605.2 1730.3,606.1 1731.8,605.1 1733.3,606.1 1734.8,608.7 1736.3,606.5 1737.8,608.5 1739.3,608.0 1740.8,610.9 1742.3,612.2 1743.8,608.7 1745.3,611.7 1746.8,611.9 1748.3,612.7 1749.8,613.3 1751.3,613.0 1752.8,613.5 1754.3,612.2 1755.8,614.9 1757.3,613.6 1758.8,611.7 1760.3,612.2 1761.8,612.2 1763.3,610.9 1764.8,611.5 1766.3,611.5 1767.8,613.8 1769.3,615.2 1770.8,614.2 1772.3,615.9 1773.8,613.6 1775.3,614.9 1776.8,614.1 1778.3,614.9 1779.8,613.0 1781.3,613.1 1782.8,612.7 1784.3,612.4 1785.8,611.8 1787.3,614.3 1788.8,613.0 1790.3,615.1 1791.8,614.3 1793.3,615.1 1794.8,616.6 1796.3,617.6 1797.8,620.3 1799.3,619.3 1800.8,620.3 1802.3,620.8 1803.8,622.2 1805.3,623.0 1806.8,621.6 1808.3,622.2 1809.8,623.8 1811.3,624.1 1812.8,623.0 1814.3,622.9 1815.8,620.8 1817.3,622.5 1818.8,624.4 1820.3,622.8 1821.8,621.4 1823.3,623.3 1824.8,623.3 1826.3,624.9 1827.8,624.5 1829.3,625.2 1830.8,627.1 1832.3,625.4 1833.8,625.1 1835.3,626.1 1836.8,626.4 1838.3,625.0 1839.8,626.9 1841.3,624.8 1842.8,625.7 1844.3,627.7 1845.8,629.2 1847.3,628.4 1848.8,630.2 1850.3,629.7 1851.8,629.5 1853.3,630.4 1854.8,631.6 1856.3,631.6 1857.8,632.5 1859.3,631.0 1860.8,631.8 1862.3,631.9 1863.8,629.3 1865.3,629.3 1866.8,630.3 1868.3,631.8 1869.8,632.2 1871.3,630.4 1872.8,630.9 1874.3,630.4 1875.8,630.9 1877.3,634.0 1878.8,631.9 1880.3,631.1 1881.8,631.8 1883.3,631.5 1884.8,634.5 1886.3,634.1 1887.8,636.8 1889.3,637.0 1890.8,634.7 1892.3,634.7 1893.8,634.9 1895.3,637.3 1896.8,639.1 1898.3,636.0 1899.8,635.9 1901.3,636.2 1902.8,636.0 1904.3,635.4 1905.8,637.2 1907.3,637.1 1908.8,638.9 1910.3,639.3 1911.8,639.7 1913.3,641.1 1914.8,639.8 1916.3,642.4 1917.8,642.3 1919.3,642.4 1920.8,640.8 1922.3,641.2 1923.8,641.9 1925.3,640.7 1926.8,638.6 1928.3,640.3 1929.8,639.7 1931.3,640.3 1932.8,641.0 1934.3,640.5 1935.8,642.0 1937.3,642.3 1938.8,642.9 1940.3,644.3 1941.8,644.8 1943.3,644.3 1944.8,644.7 1946.3,643.9 1947.8,644.0 1949.3,643.9 1950.8,646.0 1952.3,645.7 1953.8,646.5 1955.3,646.5 1956.8,648.0 1958.3,645.6 1959.8,645.9 1961.3,644.9 1962.8,645.3 1964.3,646.3 1965.8,645.4 1967.3,643.3 1968.8,644.3 1970.3,645.3 1971.8,645.1 1973.3,644.8 1974.8,646.3 1976.3,646.1 1977.8,647.1 1979.3,648.7 1980.8,649.4 1982.3,647.9 1983.8,649.6 1985.3,651.1 1986.8,650.2 1988.3,650.9 1989.8,649.3 1991.3,650.3 1992.8,649.5 1994.3,649.5 1995.8,650.0 1997.3,650.7 1998.8,649.4 2000.3,649.9 2001.8,649.4 2003.3,649.7 2004.8,650.2 2006.3,650.3 2007.8,651.0 2009.3,652.6 2010.8,651.5 2012.3,651.1 2013.8,655.1 2015.3,656.0 2016.8,653.7 2018.3,654.9 2019.8,656.6 2021.3,656.1 2022.8,656.1 2024.3,656.2 2025.8,655.8 2027.3,658.8 2028.8,657.8 2030.3,656.4 2031.8,658.5 2033.3,659.0 2034.8,658.3 2036.3,658.5 2037.8,656.9 2039.3,658.7 2040.8,658.2 2042.3,658.2 2043.8,658.1 2045.3,659.2 2046.8,661.6 2048.3,659.0 2049.8,659.3 2051.3,659.3 2052.8,659.4 2054.3,661.3 2055.8,660.9 2057.3,662.4 2058.8,662.7 2060.3,660.3 2061.8,663.0 2063.3,662.3 2064.8,661.2 2066.3,661.3 2067.8,662.2 2069.3,663.3 2070.8,662.6 2072.3,662.0 2073.8,661.2 2075.3,661.8 2076.8,662.4 2078.3,662.9 2079.8,662.4 2081.3,661.5 2082.8,662.4 2084.3,663.9 2085.8,663.5 2087.3,664.4 2088.8,664.4 2090.3,663.6 2091.8,664.8 2093.3,665.6 2094.8,664.3 2096.3,664.6 2097.8,666.3 2099.3,665.3 2100.8,665.8 2102.3,665.6 2103.8,665.5 2105.3,665.3 2106.8,666.3 2108.3,665.4 2109.8,665.0 2111.3,665.4 2112.8,664.9 2114.3,664.6 2115.8,664.4 2117.3,667.1 2118.8,665.1 2120.3,664.7 2121.8,666.0 2123.3,666.0 2124.8,666.1 2126.3,666.4 2127.8,665.3 2129.3,668.6 2130.8,668.5 2132.3,667.9 2133.8,668.3 2135.3,666.9 2136.8,668.2 2138.3,669.7 2139.8,669.8 2141.3,668.5 2142.8,668.0 2144.3,668.7 2145.8,668.6 2147.3,668.9 2148.8,669.9 2150.3,667.7 2151.8,670.3 2153.3,669.5 2154.8,671.9" fill="none" stroke="#1eea1e" stroke-width="4.5" stroke-linejoin="round" stroke-linecap="round"/>
<path d="M1320.8,527.8 1322.3,527.2 1323.8,532.9 1325.3,524.1 1326.8,523.8 1328.3,525.1 1329.8,519.5 1331.3,517.9 1332.8,518.7 1334.3,517.2 1335.8,525.3 1337.3,516.6 1338.8,520.8 1340.3,518.7 1341.8,516.6 1343.3,520.1 1344.8,521.5 1346.3,521.1 1347.8,515.2 1349.3,519.1 1350.8,517.3 1352.3,515.7 1353.8,519.7 1355.3,517.0 1356.8,524.8 1358.3,518.5 1359.8,520.2 1361.3,518.0 1362.8,525.6 1364.3,521.7 1365.8,521.0 1367.3,522.3 1368.8,522.7 1370.3,516.2 1371.8,510.4 1373.3,518.5 1374.8,510.7 1376.3,514.5 1377.8,516.7 1379.3,519.6 1380.8,518.7 1382.3,524.4 1383.8,526.2 1385.3,528.1 1386.8,529.7 1388.3,533.0 1389.8,531.3 1391.3,532.5 1392.8,536.1 1394.3,541.1 1395.8,531.7 1397.3,537.1 1398.8,540.1 1400.3,537.5 1401.8,539.8 1403.3,544.6 1404.8,539.4 1406.3,545.3 1407.8,544.9 1409.3,543.5 1410.8,545.0 1412.3,543.3 1413.8,541.2 1415.3,541.7 1416.8,537.8 1418.3,539.1 1419.8,544.8 1421.3,544.2 1422.8,546.5 1424.3,548.5 1425.8,544.9 1427.3,553.2 1428.8,544.5 1430.3,549.3 1431.8,543.3 1433.3,546.7 1434.8,544.2 1436.3,541.5 1437.8,542.7 1439.3,542.8 1440.8,542.4 1442.3,543.9 1443.8,544.0 1445.3,546.7 1446.8,549.5 1448.3,547.6 1449.8,547.8 1451.3,554.4 1452.8,549.6 1454.3,549.7 1455.8,555.3 1457.3,553.2 1458.8,557.6 1460.3,559.2 1461.8,561.0 1463.3,566.1 1464.8,565.8 1466.3,570.7 1467.8,567.8 1469.3,572.1 1470.8,571.8 1472.3,570.0 1473.8,566.2 1475.3,565.5 1476.8,562.4 1478.3,558.6 1479.8,557.0 1481.3,554.9 1482.8,551.4 1484.3,551.2 1485.8,550.6 1487.3,552.8 1488.8,554.9 1490.3,557.3 1491.8,558.6 1493.3,562.8 1494.8,563.0 1496.3,566.7 1497.8,571.6 1499.3,572.1 1500.8,575.5 1502.3,575.4 1503.8,580.2 1505.3,580.2 1506.8,579.1 1508.3,579.1 1509.8,576.2 1511.3,578.8 1512.8,578.3 1514.3,579.1 1515.8,575.9 1517.3,575.9 1518.8,574.0 1520.3,573.3 1521.8,575.4 1523.3,574.9 1524.8,574.0 1526.3,576.4 1527.8,578.4 1529.3,577.4 1530.8,580.4 1532.3,581.6 1533.8,583.7 1535.3,586.7 1536.8,587.0 1538.3,590.0 1539.8,589.2 1541.3,593.8 1542.8,597.4 1544.3,598.0 1545.8,597.5 1547.3,594.9 1548.8,595.7 1550.3,593.4 1551.8,591.3 1553.3,590.3 1554.8,589.0 1556.3,589.2 1557.8,587.3 1559.3,585.0 1560.8,587.4 1562.3,590.0 1563.8,589.0 1565.3,590.8 1566.8,591.6 1568.3,591.8 1569.8,593.9 1571.3,595.1 1572.8,596.1 1574.3,594.3 1575.8,596.5 1577.3,597.6 1578.8,598.6 1580.3,597.2 1581.8,598.5 1583.3,600.5 1584.8,601.3 1586.3,599.9 1587.8,598.8 1589.3,602.0 1590.8,600.6 1592.3,601.2 1593.8,599.8 1595.3,600.3 1596.8,600.7 1598.3,601.3 1599.8,599.7 1601.3,601.2 1602.8,598.7 1604.3,602.3 1605.8,600.6 1607.3,603.9 1608.8,602.6 1610.3,602.3 1611.8,601.9 1613.3,601.0 1614.8,599.4 1616.3,599.5 1617.8,600.2 1619.3,600.1 1620.8,601.4 1622.3,604.9 1623.8,608.5 1625.3,608.1 1626.8,608.4 1628.3,608.7 1629.8,610.1 1631.3,612.4 1632.8,615.4 1634.3,615.5 1635.8,615.6 1637.3,617.7 1638.8,618.1 1640.3,619.4 1641.8,619.2 1643.3,618.2 1644.8,616.1 1646.3,615.1 1647.8,615.3 1649.3,614.1 1650.8,615.7 1652.3,615.4 1653.8,612.5 1655.3,615.9 1656.8,613.5 1658.3,615.0 1659.8,616.0 1661.3,613.9 1662.8,615.4 1664.3,615.3 1665.8,617.3 1667.3,616.6 1668.8,617.3 1670.3,620.1 1671.8,620.9 1673.3,622.7 1674.8,623.0 1676.3,623.2 1677.8,627.1 1679.3,627.5 1680.8,631.0 1682.3,628.8 1683.8,627.1 1685.3,628.6 1686.8,629.3 1688.3,626.7 1689.8,627.4 1691.3,628.6 1692.8,628.3 1694.3,629.7 1695.8,629.0 1697.3,632.5 1698.8,629.5 1700.3,630.3 1701.8,628.9 1703.3,629.6 1704.8,629.1 1706.3,627.5 1707.8,626.2 1709.3,629.6 1710.8,627.0 1712.3,627.5 1713.8,627.0 1715.3,631.4 1716.8,629.3 1718.3,631.9 1719.8,633.4 1721.3,636.4 1722.8,635.4 1724.3,638.4 1725.8,639.3 1727.3,639.2 1728.8,638.7 1730.3,638.0 1731.8,638.7 1733.3,638.0 1734.8,638.7 1736.3,639.5 1737.8,638.6 1739.3,638.9 1740.8,637.0 1742.3,636.1 1743.8,638.4 1745.3,639.5 1746.8,638.4 1748.3,638.2 1749.8,639.9 1751.3,641.3 1752.8,643.1 1754.3,642.8 1755.8,644.4 1757.3,644.5 1758.8,642.8 1760.3,647.3 1761.8,646.1 1763.3,649.4 1764.8,650.1 1766.3,648.2 1767.8,648.9 1769.3,650.0 1770.8,649.3 1772.3,650.5 1773.8,650.2 1775.3,646.3 1776.8,645.1 1778.3,648.1 1779.8,649.1 1781.3,647.5 1782.8,647.8 1784.3,649.6 1785.8,649.4 1787.3,647.8 1788.8,648.9 1790.3,650.1 1791.8,651.7 1793.3,649.8 1794.8,650.1 1796.3,648.4 1797.8,651.0 1799.3,648.0 1800.8,651.1 1802.3,651.1 1803.8,651.5 1805.3,652.0 1806.8,652.6 1808.3,652.5 1809.8,653.8 1811.3,656.2 1812.8,654.4 1814.3,652.3 1815.8,653.8 1817.3,655.3 1818.8,655.3 1820.3,655.3 1821.8,654.8 1823.3,654.8 1824.8,654.6 1826.3,654.2 1827.8,656.9 1829.3,657.5 1830.8,659.8 1832.3,658.6 1833.8,657.8 1835.3,659.4 1836.8,659.4 1838.3,657.1 1839.8,659.3 1841.3,660.3 1842.8,659.2 1844.3,660.4 1845.8,661.3 1847.3,663.4 1848.8,662.5 1850.3,664.1 1851.8,662.1 1853.3,665.1 1854.8,664.9 1856.3,665.8 1857.8,664.6 1859.3,664.6 1860.8,663.9 1862.3,667.5 1863.8,669.0 1865.3,668.7 1866.8,669.4 1868.3,669.1 1869.8,672.2 1871.3,670.7 1872.8,672.5 1874.3,670.2 1875.8,672.8 1877.3,673.2 1878.8,674.3 1880.3,674.9 1881.8,672.7 1883.3,672.6 1884.8,674.0 1886.3,674.5 1887.8,671.8 1889.3,673.0 1890.8,676.0 1892.3,674.0 1893.8,674.7 1895.3,675.0 1896.8,675.9 1898.3,675.8 1899.8,674.8 1901.3,676.8 1902.8,676.2 1904.3,674.8 1905.8,674.4 1907.3,673.9 1908.8,675.6 1910.3,674.0 1911.8,675.2 1913.3,675.9 1914.8,676.1 1916.3,675.9 1917.8,678.0 1919.3,676.3 1920.8,677.7 1922.3,677.6 1923.8,677.3 1925.3,678.5 1926.8,678.3 1928.3,678.1 1929.8,678.5 1931.3,680.2 1932.8,679.3 1934.3,680.7 1935.8,680.6 1937.3,681.2 1938.8,681.3 1940.3,681.0 1941.8,682.3 1943.3,682.2 1944.8,683.0 1946.3,682.9 1947.8,682.6 1949.3,682.5 1950.8,682.6 1952.3,683.0 1953.8,682.4 1955.3,683.7 1956.8,683.9 1958.3,684.4 1959.8,684.6 1961.3,687.0 1962.8,687.6 1964.3,687.6 1965.8,686.5 1967.3,687.0 1968.8,687.8 1970.3,687.7 1971.8,687.5 1973.3,687.6 1974.8,688.3 1976.3,687.1 1977.8,685.9 1979.3,687.5 1980.8,687.2 1982.3,688.7 1983.8,687.2 1985.3,687.8 1986.8,688.6 1988.3,688.0 1989.8,688.8 1991.3,689.1 1992.8,689.7 1994.3,691.9 1995.8,692.3 1997.3,689.6 1998.8,691.8 2000.3,692.5 2001.8,692.8 2003.3,693.9 2004.8,690.7 2006.3,694.6 2007.8,692.3 2009.3,690.5 2010.8,693.4 2012.3,692.4 2013.8,690.3 2015.3,689.9 2016.8,692.3 2018.3,694.3 2019.8,694.9 2021.3,694.0 2022.8,694.8 2024.3,696.6 2025.8,695.7 2027.3,695.6 2028.8,696.2 2030.3,695.7 2031.8,694.7 2033.3,696.7 2034.8,696.2 2036.3,698.4 2037.8,697.9 2039.3,697.1 2040.8,696.5 2042.3,697.4 2043.8,697.8 2045.3,697.2 2046.8,699.0 2048.3,699.5 2049.8,698.6 2051.3,696.9 2052.8,697.4 2054.3,696.3 2055.8,698.2 2057.3,698.1 2058.8,698.9 2060.3,698.0 2061.8,697.5 2063.3,699.5 2064.8,698.7 2066.3,699.8 2067.8,701.2 2069.3,699.4 2070.8,701.3 2072.3,700.0 2073.8,700.5 2075.3,701.4 2076.8,699.0 2078.3,701.6 2079.8,701.8 2081.3,702.4 2082.8,703.2 2084.3,703.0 2085.8,703.0 2087.3,704.0 2088.8,703.9 2090.3,705.1 2091.8,703.1 2093.3,704.1 2094.8,704.0 2096.3,704.0 2097.8,702.8 2099.3,702.8 2100.8,701.5 2102.3,703.3 2103.8,702.2 2105.3,704.0 2106.8,704.3 2108.3,704.8 2109.8,705.1 2111.3,705.8 2112.8,706.7 2114.3,706.1 2115.8,704.9 2117.3,704.9 2118.8,705.6 2120.3,706.4 2121.8,705.1 2123.3,706.6 2124.8,707.9 2126.3,706.2 2127.8,705.3 2129.3,707.4 2130.8,706.7 2132.3,706.1 2133.8,706.1 2135.3,706.9 2136.8,707.3 2138.3,706.4 2139.8,707.8 2141.3,706.7 2142.8,708.5 2144.3,708.6 2145.8,710.2 2147.3,711.1 2148.8,712.3 2150.3,711.9 2151.8,710.1 2153.3,711.4 2154.8,712.6" fill="none" stroke="#1eea1e" stroke-width="4.5" stroke-linejoin="round" stroke-linecap="round"/>
<path d="M1320.8,532.5 1322.3,535.1 1323.8,536.8 1325.3,538.4 1326.8,541.6 1328.3,543.8 1329.8,546.2 1331.3,548.4 1332.8,551.3 1334.3,555.0 1335.8,559.3 1337.3,561.2 1338.8,564.2 1340.3,567.3 1341.8,569.2 1343.3,573.3 1344.8,573.8 1346.3,576.5 1347.8,577.3 1349.3,580.7 1350.8,582.0 1352.3,583.6 1353.8,585.9 1355.3,587.8 1356.8,588.5 1358.3,591.4 1359.8,593.1 1361.3,595.8 1362.8,596.9 1364.3,598.1 1365.8,601.5 1367.3,602.3 1368.8,603.5 1370.3,604.9 1371.8,607.5 1373.3,607.9 1374.8,610.2 1376.3,612.0 1377.8,612.4 1379.3,614.3 1380.8,615.4 1382.3,618.3 1383.8,619.7 1385.3,621.1 1386.8,622.4 1388.3,624.2 1389.8,627.3 1391.3,626.4 1392.8,627.0 1394.3,627.9 1395.8,630.0 1397.3,628.9 1398.8,630.9 1400.3,633.0 1401.8,632.9 1403.3,635.5 1404.8,635.5 1406.3,637.3 1407.8,638.1 1409.3,639.7 1410.8,639.2 1412.3,641.5 1413.8,642.5 1415.3,643.2 1416.8,644.9 1418.3,645.4 1419.8,645.5 1421.3,647.0 1422.8,646.9 1424.3,648.0 1425.8,649.1 1427.3,649.7 1428.8,651.2 1430.3,651.4 1431.8,652.2 1433.3,654.1 1434.8,654.7 1436.3,655.8 1437.8,657.8 1439.3,657.4 1440.8,657.4 1442.3,657.8 1443.8,657.7 1445.3,658.7 1446.8,658.4 1448.3,659.9 1449.8,659.6 1451.3,659.4 1452.8,660.9 1454.3,662.2 1455.8,662.6 1457.3,663.2 1458.8,664.6 1460.3,663.9 1461.8,664.9 1463.3,664.9 1464.8,665.5 1466.3,664.8 1467.8,666.5 1469.3,666.2 1470.8,667.6 1472.3,668.6 1473.8,668.9 1475.3,670.8 1476.8,669.7 1478.3,670.3 1479.8,670.5 1481.3,671.0 1482.8,671.9 1484.3,672.3 1485.8,671.9 1487.3,671.9 1488.8,672.6 1490.3,672.6 1491.8,674.5 1493.3,674.4 1494.8,676.8 1496.3,676.2 1497.8,678.5 1499.3,676.4 1500.8,678.4 1502.3,676.9 1503.8,677.9 1505.3,678.0 1506.8,678.8 1508.3,679.8 1509.8,680.0 1511.3,678.8 1512.8,681.0 1514.3,679.9 1515.8,681.2 1517.3,683.2 1518.8,682.2 1520.3,683.3 1521.8,684.4 1523.3,684.1 1524.8,685.4 1526.3,684.2 1527.8,686.1 1529.3,685.7 1530.8,685.7 1532.3,686.8 1533.8,685.8 1535.3,687.3 1536.8,687.8 1538.3,687.9 1539.8,688.4 1541.3,688.1 1542.8,687.5 1544.3,687.3 1545.8,689.0 1547.3,689.3 1548.8,689.0 1550.3,689.4 1551.8,689.2 1553.3,691.5 1554.8,690.7 1556.3,691.8 1557.8,692.1 1559.3,691.4 1560.8,692.3 1562.3,692.9 1563.8,692.7 1565.3,693.4 1566.8,694.0 1568.3,692.4 1569.8,694.4 1571.3,694.2 1572.8,694.3 1574.3,693.5 1575.8,694.1 1577.3,694.4 1578.8,694.2 1580.3,694.7 1581.8,694.2 1583.3,694.6 1584.8,694.8 1586.3,696.4 1587.8,695.7 1589.3,695.4 1590.8,696.2 1592.3,698.0 1593.8,698.6 1595.3,698.2 1596.8,698.3 1598.3,699.2 1599.8,697.9 1601.3,699.4 1602.8,699.4 1604.3,699.5 1605.8,698.3 1607.3,699.8 1608.8,700.4 1610.3,700.0 1611.8,700.1 1613.3,700.3 1614.8,701.3 1616.3,702.4 1617.8,702.6 1619.3,703.2 1620.8,704.3 1622.3,703.7 1623.8,703.5 1625.3,703.9 1626.8,705.0 1628.3,705.4 1629.8,705.9 1631.3,707.2 1632.8,706.1 1634.3,707.1 1635.8,706.6 1637.3,707.2 1638.8,707.6 1640.3,708.4 1641.8,710.1 1643.3,708.8 1644.8,708.8 1646.3,707.7 1647.8,708.1 1649.3,707.9 1650.8,709.1 1652.3,708.6 1653.8,709.6 1655.3,708.6 1656.8,709.7 1658.3,710.4 1659.8,711.4 1661.3,711.9 1662.8,710.7 1664.3,712.4 1665.8,711.8 1667.3,712.2 1668.8,712.2 1670.3,712.7 1671.8,711.7 1673.3,713.3 1674.8,712.9 1676.3,713.5 1677.8,712.5 1679.3,713.8 1680.8,713.8 1682.3,713.9 1683.8,714.2 1685.3,714.7 1686.8,714.2 1688.3,714.6 1689.8,714.1 1691.3,714.1 1692.8,714.8 1694.3,715.2 1695.8,716.3 1697.3,716.5 1698.8,716.9 1700.3,716.8 1701.8,716.5 1703.3,716.3 1704.8,717.8 1706.3,718.0 1707.8,716.6 1709.3,719.2 1710.8,717.5 1712.3,718.7 1713.8,717.4 1715.3,718.3 1716.8,718.2 1718.3,718.8 1719.8,718.6 1721.3,718.3 1722.8,720.0 1724.3,718.5 1725.8,719.6 1727.3,719.1 1728.8,720.9 1730.3,720.7 1731.8,720.5 1733.3,721.8 1734.8,721.4 1736.3,720.8 1737.8,721.0 1739.3,721.0 1740.8,720.8 1742.3,721.3 1743.8,721.0 1745.3,720.9 1746.8,721.3 1748.3,721.1 1749.8,722.3 1751.3,723.1 1752.8,723.2 1754.3,723.3 1755.8,724.0 1757.3,724.1 1758.8,725.3 1760.3,725.4 1761.8,724.4 1763.3,724.7 1764.8,723.9 1766.3,724.1 1767.8,723.6 1769.3,724.7 1770.8,723.5 1772.3,724.8 1773.8,724.0 1775.3,724.8 1776.8,724.6 1778.3,724.5 1779.8,724.5 1781.3,725.1 1782.8,725.4 1784.3,725.4 1785.8,725.5 1787.3,725.1 1788.8,726.1 1790.3,725.5 1791.8,725.9 1793.3,726.3 1794.8,727.1 1796.3,726.6 1797.8,728.3 1799.3,728.5 1800.8,728.7 1802.3,730.5 1803.8,728.4 1805.3,727.4 1806.8,727.4 1808.3,728.4 1809.8,727.9 1811.3,728.6 1812.8,728.8 1814.3,728.6 1815.8,727.9 1817.3,728.9 1818.8,729.6 1820.3,730.7 1821.8,730.6 1823.3,731.9 1824.8,733.5 1826.3,732.3 1827.8,731.9 1829.3,732.0 1830.8,733.3 1832.3,733.0 1833.8,734.5 1835.3,732.4 1836.8,732.1 1838.3,733.2 1839.8,733.9 1841.3,734.8 1842.8,735.1 1844.3,735.0 1845.8,734.5 1847.3,734.6 1848.8,734.6 1850.3,735.4 1851.8,735.2 1853.3,734.4 1854.8,734.8 1856.3,734.2 1857.8,735.0 1859.3,735.1 1860.8,735.2 1862.3,734.3 1863.8,734.6 1865.3,735.1 1866.8,734.4 1868.3,735.4 1869.8,735.8 1871.3,736.4 1872.8,736.2 1874.3,737.9 1875.8,737.7 1877.3,737.4 1878.8,737.7 1880.3,738.4 1881.8,739.3 1883.3,739.8 1884.8,740.1 1886.3,740.2 1887.8,740.5 1889.3,739.8 1890.8,740.4 1892.3,741.0 1893.8,741.4 1895.3,740.5 1896.8,741.8 1898.3,741.9 1899.8,740.2 1901.3,740.0 1902.8,740.3 1904.3,740.6 1905.8,741.4 1907.3,742.0 1908.8,742.3 1910.3,741.5 1911.8,741.5 1913.3,742.9 1914.8,742.4 1916.3,742.2 1917.8,741.7 1919.3,741.6 1920.8,742.3 1922.3,742.1 1923.8,742.2 1925.3,742.5 1926.8,743.5 1928.3,744.3 1929.8,744.7 1931.3,744.9 1932.8,744.2 1934.3,745.8 1935.8,745.6 1937.3,744.5 1938.8,745.3 1940.3,744.8 1941.8,745.1 1943.3,744.9 1944.8,745.2 1946.3,745.9 1947.8,743.8 1949.3,745.4 1950.8,744.3 1952.3,745.7 1953.8,745.3 1955.3,745.4 1956.8,743.5 1958.3,745.7 1959.8,745.9 1961.3,745.6 1962.8,746.0 1964.3,746.6 1965.8,745.8 1967.3,746.2 1968.8,746.1 1970.3,745.7 1971.8,747.6 1973.3,747.7 1974.8,747.0 1976.3,747.2 1977.8,747.8 1979.3,747.4 1980.8,746.7 1982.3,746.6 1983.8,747.8 1985.3,746.6 1986.8,746.9 1988.3,747.5 1989.8,748.0 1991.3,748.4 1992.8,748.3 1994.3,748.9 1995.8,749.6 1997.3,749.4 1998.8,751.3 2000.3,750.0 2001.8,750.6 2003.3,749.2 2004.8,748.9 2006.3,748.7 2007.8,748.5 2009.3,747.8 2010.8,748.3 2012.3,749.1 2013.8,749.5 2015.3,749.4 2016.8,749.5 2018.3,749.9 2019.8,749.0 2021.3,749.7 2022.8,750.0 2024.3,749.2 2025.8,749.6 2027.3,750.2 2028.8,750.6 2030.3,749.1 2031.8,750.7 2033.3,749.7 2034.8,749.5 2036.3,749.9 2037.8,749.5 2039.3,750.7 2040.8,751.1 2042.3,752.0 2043.8,751.7 2045.3,752.2 2046.8,752.9 2048.3,752.7 2049.8,751.6 2051.3,751.9 2052.8,752.6 2054.3,752.6 2055.8,753.3 2057.3,752.9 2058.8,752.9 2060.3,754.0 2061.8,753.7 2063.3,754.3 2064.8,754.3 2066.3,753.3 2067.8,754.2 2069.3,754.0 2070.8,754.0 2072.3,754.2 2073.8,753.5 2075.3,753.7 2076.8,753.4 2078.3,753.4 2079.8,753.8 2081.3,753.4 2082.8,754.7 2084.3,754.4 2085.8,754.0 2087.3,754.3 2088.8,752.7 2090.3,755.1 2091.8,753.4 2093.3,754.3 2094.8,754.5 2096.3,754.3 2097.8,755.3 2099.3,755.0 2100.8,755.9 2102.3,756.1 2103.8,755.7 2105.3,757.1 2106.8,756.7 2108.3,756.1 2109.8,756.2 2111.3,757.0 2112.8,755.2 2114.3,756.0 2115.8,756.8 2117.3,757.0 2118.8,756.7 2120.3,756.6 2121.8,756.0 2123.3,755.7 2124.8,757.1 2126.3,755.7 2127.8,755.9 2129.3,755.7 2130.8,756.8 2132.3,755.2 2133.8,756.9 2135.3,757.0 2136.8,757.8 2138.3,758.6 2139.8,758.0 2141.3,759.3 2142.8,758.1 2144.3,758.6 2145.8,757.8 2147.3,757.7 2148.8,758.0 2150.3,757.5 2151.8,757.8 2153.3,757.5 2154.8,757.9" fill="none" stroke="#17a917" stroke-width="4.5" stroke-linejoin="round" stroke-linecap="round"/>
<path d="M1320.8,535.1 1322.3,537.2 1323.8,540.0 1325.3,542.4 1326.8,544.3 1328.3,547.7 1329.8,550.3 1331.3,554.3 1332.8,556.8 1334.3,557.9 1335.8,560.3 1337.3,565.0 1338.8,565.7 1340.3,566.7 1341.8,569.4 1343.3,572.5 1344.8,574.1 1346.3,577.2 1347.8,579.2 1349.3,580.3 1350.8,583.3 1352.3,584.3 1353.8,587.7 1355.3,589.9 1356.8,592.0 1358.3,594.4 1359.8,597.4 1361.3,597.7 1362.8,599.7 1364.3,601.7 1365.8,603.0 1367.3,605.1 1368.8,606.1 1370.3,606.7 1371.8,609.3 1373.3,610.5 1374.8,611.7 1376.3,614.7 1377.8,615.4 1379.3,617.3 1380.8,619.2 1382.3,619.7 1383.8,620.7 1385.3,621.9 1386.8,623.3 1388.3,624.3 1389.8,626.0 1391.3,626.0 1392.8,628.3 1394.3,629.1 1395.8,630.2 1397.3,630.9 1398.8,631.1 1400.3,632.9 1401.8,634.6 1403.3,636.1 1404.8,636.4 1406.3,637.9 1407.8,639.3 1409.3,640.7 1410.8,641.5 1412.3,641.7 1413.8,643.0 1415.3,644.8 1416.8,645.4 1418.3,648.1 1419.8,646.9 1421.3,648.4 1422.8,648.4 1424.3,649.6 1425.8,651.0 1427.3,649.4 1428.8,651.3 1430.3,651.9 1431.8,653.4 1433.3,653.7 1434.8,655.1 1436.3,655.2 1437.8,657.0 1439.3,657.7 1440.8,657.2 1442.3,656.7 1443.8,658.3 1445.3,658.8 1446.8,658.8 1448.3,660.7 1449.8,659.6 1451.3,662.2 1452.8,661.8 1454.3,662.7 1455.8,662.2 1457.3,662.6 1458.8,664.0 1460.3,665.5 1461.8,664.8 1463.3,666.3 1464.8,666.3 1466.3,666.2 1467.8,667.5 1469.3,668.3 1470.8,668.2 1472.3,669.0 1473.8,669.2 1475.3,670.1 1476.8,669.5 1478.3,669.9 1479.8,671.1 1481.3,670.4 1482.8,671.9 1484.3,672.5 1485.8,673.2 1487.3,674.8 1488.8,675.1 1490.3,675.7 1491.8,676.9 1493.3,676.3 1494.8,678.1 1496.3,677.9 1497.8,679.0 1499.3,680.2 1500.8,679.6 1502.3,679.5 1503.8,679.5 1505.3,680.4 1506.8,680.8 1508.3,681.0 1509.8,681.3 1511.3,681.9 1512.8,682.1 1514.3,682.6 1515.8,682.8 1517.3,684.1 1518.8,683.5 1520.3,684.0 1521.8,684.7 1523.3,685.2 1524.8,684.9 1526.3,685.0 1527.8,685.4 1529.3,685.5 1530.8,686.7 1532.3,686.0 1533.8,686.9 1535.3,687.8 1536.8,688.8 1538.3,690.1 1539.8,689.6 1541.3,690.0 1542.8,691.2 1544.3,691.1 1545.8,690.3 1547.3,689.6 1548.8,690.6 1550.3,689.7 1551.8,691.6 1553.3,691.8 1554.8,691.1 1556.3,692.9 1557.8,692.2 1559.3,693.0 1560.8,694.3 1562.3,693.1 1563.8,693.1 1565.3,693.8 1566.8,695.0 1568.3,695.1 1569.8,694.6 1571.3,694.2 1572.8,695.2 1574.3,695.0 1575.8,696.4 1577.3,695.4 1578.8,697.4 1580.3,697.5 1581.8,698.3 1583.3,699.0 1584.8,699.4 1586.3,698.7 1587.8,699.7 1589.3,698.4 1590.8,699.4 1592.3,698.9 1593.8,698.6 1595.3,699.1 1596.8,699.6 1598.3,700.1 1599.8,701.2 1601.3,701.4 1602.8,701.6 1604.3,703.4 1605.8,701.8 1607.3,701.7 1608.8,702.7 1610.3,703.1 1611.8,703.2 1613.3,703.4 1614.8,703.8 1616.3,702.9 1617.8,704.2 1619.3,703.5 1620.8,704.8 1622.3,704.6 1623.8,705.9 1625.3,706.5 1626.8,707.0 1628.3,707.0 1629.8,707.0 1631.3,708.1 1632.8,708.3 1634.3,707.2 1635.8,706.2 1637.3,707.2 1638.8,707.9 1640.3,707.4 1641.8,707.7 1643.3,708.9 1644.8,709.8 1646.3,709.2 1647.8,709.7 1649.3,710.5 1650.8,710.4 1652.3,711.6 1653.8,710.7 1655.3,712.3 1656.8,711.3 1658.3,711.5 1659.8,712.2 1661.3,712.2 1662.8,712.1 1664.3,712.3 1665.8,711.6 1667.3,713.1 1668.8,711.3 1670.3,711.8 1671.8,711.7 1673.3,711.9 1674.8,713.3 1676.3,713.6 1677.8,713.7 1679.3,713.3 1680.8,712.2 1682.3,712.3 1683.8,712.7 1685.3,713.1 1686.8,714.2 1688.3,714.7 1689.8,715.1 1691.3,715.1 1692.8,717.1 1694.3,717.4 1695.8,716.9 1697.3,718.5 1698.8,717.9 1700.3,719.6 1701.8,717.5 1703.3,718.4 1704.8,717.5 1706.3,716.2 1707.8,716.3 1709.3,716.1 1710.8,716.7 1712.3,717.6 1713.8,717.5 1715.3,718.8 1716.8,719.0 1718.3,720.2 1719.8,720.4 1721.3,721.4 1722.8,722.0 1724.3,721.7 1725.8,722.1 1727.3,721.6 1728.8,721.7 1730.3,721.2 1731.8,721.6 1733.3,721.6 1734.8,722.6 1736.3,721.9 1737.8,722.2 1739.3,723.2 1740.8,723.1 1742.3,723.4 1743.8,724.0 1745.3,724.2 1746.8,724.2 1748.3,725.0 1749.8,725.4 1751.3,725.2 1752.8,724.5 1754.3,724.0 1755.8,724.2 1757.3,724.9 1758.8,723.9 1760.3,724.9 1761.8,724.4 1763.3,724.7 1764.8,725.1 1766.3,725.2 1767.8,724.1 1769.3,724.7 1770.8,726.8 1772.3,726.1 1773.8,727.2 1775.3,726.3 1776.8,726.6 1778.3,726.0 1779.8,726.6 1781.3,726.8 1782.8,726.6 1784.3,727.3 1785.8,727.2 1787.3,726.3 1788.8,728.2 1790.3,728.8 1791.8,728.2 1793.3,729.4 1794.8,728.5 1796.3,729.3 1797.8,729.9 1799.3,728.5 1800.8,730.4 1802.3,730.2 1803.8,730.8 1805.3,730.1 1806.8,730.5 1808.3,730.7 1809.8,730.8 1811.3,730.4 1812.8,731.9 1814.3,730.5 1815.8,731.2 1817.3,731.9 1818.8,731.4 1820.3,732.8 1821.8,732.4 1823.3,732.6 1824.8,733.6 1826.3,734.7 1827.8,733.7 1829.3,734.5 1830.8,733.5 1832.3,733.9 1833.8,734.0 1835.3,734.6 1836.8,734.6 1838.3,734.3 1839.8,734.7 1841.3,735.2 1842.8,735.8 1844.3,737.1 1845.8,735.7 1847.3,736.7 1848.8,736.9 1850.3,735.5 1851.8,735.4 1853.3,737.0 1854.8,736.1 1856.3,738.5 1857.8,738.4 1859.3,739.6 1860.8,739.9 1862.3,739.0 1863.8,740.7 1865.3,740.4 1866.8,738.6 1868.3,738.8 1869.8,739.8 1871.3,739.7 1872.8,739.6 1874.3,739.7 1875.8,739.1 1877.3,739.4 1878.8,740.7 1880.3,738.8 1881.8,738.9 1883.3,741.4 1884.8,741.2 1886.3,742.0 1887.8,741.6 1889.3,741.7 1890.8,741.2 1892.3,740.2 1893.8,740.4 1895.3,741.5 1896.8,741.2 1898.3,741.6 1899.8,742.2 1901.3,741.6 1902.8,743.3 1904.3,742.3 1905.8,743.1 1907.3,744.1 1908.8,744.6 1910.3,744.1 1911.8,744.9 1913.3,743.3 1914.8,744.3 1916.3,744.2 1917.8,743.6 1919.3,743.2 1920.8,743.3 1922.3,742.7 1923.8,744.5 1925.3,743.8 1926.8,743.9 1928.3,744.4 1929.8,744.9 1931.3,744.5 1932.8,744.3 1934.3,745.8 1935.8,744.9 1937.3,744.9 1938.8,744.1 1940.3,745.3 1941.8,745.5 1943.3,745.4 1944.8,745.3 1946.3,744.1 1947.8,746.4 1949.3,746.1 1950.8,745.8 1952.3,746.9 1953.8,746.9 1955.3,747.2 1956.8,746.8 1958.3,747.4 1959.8,747.3 1961.3,747.9 1962.8,747.6 1964.3,747.9 1965.8,747.7 1967.3,748.2 1968.8,748.3 1970.3,748.0 1971.8,748.7 1973.3,748.3 1974.8,750.4 1976.3,749.7 1977.8,750.0 1979.3,748.6 1980.8,749.3 1982.3,749.7 1983.8,750.0 1985.3,749.9 1986.8,750.1 1988.3,749.2 1989.8,751.0 1991.3,750.0 1992.8,750.1 1994.3,749.7 1995.8,749.7 1997.3,749.8 1998.8,750.9 2000.3,749.8 2001.8,750.4 2003.3,750.9 2004.8,749.3 2006.3,749.4 2007.8,749.2 2009.3,750.1 2010.8,748.9 2012.3,749.9 2013.8,750.3 2015.3,750.5 2016.8,749.9 2018.3,752.3 2019.8,751.0 2021.3,751.2 2022.8,752.4 2024.3,751.6 2025.8,751.8 2027.3,751.8 2028.8,752.3 2030.3,752.8 2031.8,753.5 2033.3,752.8 2034.8,752.9 2036.3,751.7 2037.8,752.9 2039.3,753.4 2040.8,753.6 2042.3,752.2 2043.8,752.9 2045.3,752.7 2046.8,753.7 2048.3,754.6 2049.8,753.0 2051.3,754.2 2052.8,753.7 2054.3,755.0 2055.8,754.5 2057.3,754.3 2058.8,755.6 2060.3,756.2 2061.8,756.3 2063.3,756.2 2064.8,756.8 2066.3,756.4 2067.8,755.6 2069.3,755.8 2070.8,755.5 2072.3,756.1 2073.8,756.4 2075.3,756.7 2076.8,755.5 2078.3,756.3 2079.8,756.0 2081.3,756.5 2082.8,756.6 2084.3,756.3 2085.8,756.3 2087.3,756.9 2088.8,756.2 2090.3,756.1 2091.8,755.8 2093.3,755.8 2094.8,757.0 2096.3,757.1 2097.8,756.4 2099.3,756.0 2100.8,757.2 2102.3,756.0 2103.8,755.8 2105.3,756.0 2106.8,756.8 2108.3,756.5 2109.8,757.6 2111.3,757.6 2112.8,757.6 2114.3,756.9 2115.8,757.7 2117.3,759.5 2118.8,759.7 2120.3,759.6 2121.8,759.9 2123.3,759.5 2124.8,759.2 2126.3,758.3 2127.8,759.0 2129.3,758.5 2130.8,757.3 2132.3,756.9 2133.8,757.8 2135.3,757.3 2136.8,758.9 2138.3,758.5 2139.8,758.3 2141.3,759.2 2142.8,759.5 2144.3,760.0 2145.8,761.1 2147.3,760.4 2148.8,760.3 2150.3,759.6 2151.8,761.4 2153.3,761.3 2154.8,760.0" fill="none" stroke="#17a917" stroke-width="4.5" stroke-linejoin="round" stroke-linecap="round"/>
<line x1="1481.7" y1="548.2" x2="1507.2" y2="525.6" stroke="#000" stroke-width="2.0" />
<text transform="translate(1511.4,533.3) scale(0.9615,1)" font-size="28.70" text-anchor="start" font-weight="normal"  style="">mSG</text>
<line x1="1590.6" y1="601.7" x2="1651.3" y2="551.2" stroke="#000" stroke-width="2.0" />
<text transform="translate(1656.0,560.0) scale(0.9615,1)" font-size="28.70" text-anchor="start" font-weight="normal"  style="">mSG2</text>
<line x1="1344.8" y1="594.6" x2="1389.4" y2="605.9" stroke="#000" stroke-width="2.0" />
<text transform="translate(1395.4,615.4) scale(0.9615,1)" font-size="28.70" text-anchor="start" font-weight="normal"  style="">mNeonGreen</text>
<line x1="1404.3" y1="691.0" x2="1479.9" y2="648.2" stroke="#000" stroke-width="2.0" />
<text transform="translate(1484.6,655.3) scale(0.9615,1)" font-size="28.70" text-anchor="start" font-weight="normal"  style="">mEGFP</text>
<line x1="1636.4" y1="707.0" x2="1675.0" y2="683.9" stroke="#000" stroke-width="2.0" />
<text transform="translate(1681.0,698.7) scale(0.9615,1)" font-size="28.70" text-anchor="start" font-weight="normal"  style="">SG</text>
<line x1="1716.7" y1="720.7" x2="1767.3" y2="697.0" stroke="#000" stroke-width="2.0" />
<text transform="translate(1772.0,711.8) scale(0.9615,1)" font-size="28.70" text-anchor="start" font-weight="normal"  style="">td8ox2SG</text>
<line x1="1341.8" y1="722.0" x2="1494.8" y2="725.0" stroke="#000" stroke-width="2.0" />
<text transform="translate(1504.3,730.9) scale(0.9615,1)" font-size="28.70" text-anchor="start" font-weight="normal"  style="">mClover3</text>
<line x1="1331.0" y1="750.5" x2="1600.7" y2="761.2" stroke="#000" stroke-width="2.0" />
<text transform="translate(1609.6,769.5) scale(0.9615,1)" font-size="28.70" text-anchor="start" font-weight="normal"  style="">mGreenLantern</text>
<line x1="177.6" y1="903.4" x2="177.6" y2="1229.7" stroke="#000" stroke-width="2.7" />
<line x1="176.3" y1="1228.4" x2="1014.0" y2="1228.4" stroke="#000" stroke-width="2.7" />
<path d="M177.8,998.5 178.1,1000.6 178.3,1001.7 178.5,1003.0 178.8,1004.4 179.0,1005.9 179.2,1007.4 179.5,1008.9 179.7,1010.4 179.9,1011.8 180.1,1013.3 180.3,1014.8 180.5,1016.3 180.7,1017.8 180.9,1019.3 181.1,1020.7 181.3,1022.2 181.4,1023.7 181.6,1025.2 181.8,1026.7 181.9,1028.2 182.1,1029.7 182.2,1031.2 182.4,1032.7 182.6,1034.2 182.7,1035.7 182.9,1037.1 183.0,1038.6 183.2,1040.1 183.3,1041.6 183.5,1043.1 183.6,1044.6 183.8,1046.1 184.0,1047.6 184.1,1049.1 184.3,1050.6 184.4,1052.1 184.6,1053.6 184.8,1055.0 184.9,1056.5 185.1,1058.0 185.2,1059.5 185.4,1061.0 185.5,1062.5 185.7,1064.0 185.9,1065.5 186.0,1067.0 186.2,1068.5 186.4,1070.0 186.6,1071.5 186.8,1072.9 187.0,1074.4 187.2,1075.9 187.4,1077.4 187.6,1078.9 187.9,1080.3 188.2,1081.8 188.4,1083.3 188.8,1084.7 189.1,1086.2 189.4,1087.6 189.8,1089.1 190.2,1090.6 190.5,1092.0 190.9,1093.5 191.4,1094.9 191.8,1096.4 192.2,1097.8 192.6,1099.2 193.1,1100.7 193.5,1102.1 194.0,1103.5 194.5,1105.0 194.9,1106.4 195.4,1107.8 195.9,1109.2 196.4,1110.6 196.9,1112.0 197.4,1113.4 197.9,1114.8 198.5,1116.2 199.0,1117.6 199.6,1119.0 200.2,1120.4 200.7,1121.8 201.3,1123.2 201.9,1124.6 202.4,1126.0 203.0,1127.4 203.6,1128.8 204.1,1130.1 204.7,1131.5 205.2,1132.9 205.8,1134.3 206.3,1135.8 206.9,1137.2 207.4,1138.6 207.9,1140.0 208.5,1141.4 209.0,1142.8 209.6,1144.2 210.2,1145.5 210.8,1146.9 211.4,1148.2 212.1,1149.6 212.8,1150.9 213.5,1152.2 214.3,1153.5 215.0,1154.8 215.8,1156.0 216.7,1157.3 217.5,1158.5 218.4,1159.8 219.3,1161.0 220.2,1162.2 221.1,1163.4 222.0,1164.6 223.0,1165.7 223.9,1166.9 224.9,1168.1 225.8,1169.2 226.8,1170.3 227.8,1171.5 228.8,1172.6 229.8,1173.7 230.8,1174.8 231.9,1175.9 232.9,1177.0 234.0,1178.0 235.1,1179.1 236.2,1180.1 237.3,1181.2 238.4,1182.2 239.5,1183.1 240.7,1184.1 241.8,1185.0 243.0,1186.0 244.1,1186.9 245.3,1187.8 246.6,1188.6 247.8,1189.5 249.0,1190.4 250.3,1191.2 251.6,1192.0 252.8,1192.8 254.1,1193.6 255.4,1194.4 256.7,1195.1 258.0,1195.8 259.3,1196.6 260.7,1197.3 262.0,1198.0 263.3,1198.6 264.7,1199.3 266.0,1200.0 267.4,1200.6 268.7,1201.3 270.1,1201.9 271.5,1202.5 272.9,1203.1 274.2,1203.7 275.6,1204.2 277.0,1204.8 278.4,1205.3 279.8,1205.8 281.2,1206.3 282.7,1206.8 284.1,1207.3 285.5,1207.8 286.9,1208.3 288.3,1208.7 289.8,1209.1 291.2,1209.6 292.7,1210.0 294.1,1210.4 295.6,1210.8 297.0,1211.2 298.5,1211.5 299.9,1211.9 301.4,1212.2 302.9,1212.5 304.3,1212.7 305.8,1213.0 307.3,1213.2 308.8,1213.5 310.2,1213.7 311.7,1213.9 313.2,1214.1 314.7,1214.3 316.2,1214.5 317.7,1214.7 319.2,1214.9 320.7,1215.0 322.2,1215.2 323.6,1215.4 325.1,1215.5 326.6,1215.7 328.1,1215.9 329.6,1216.0 331.1,1216.2 332.6,1216.4 334.1,1216.5 335.6,1216.7 337.1,1216.9 338.6,1217.1 340.1,1217.2 341.5,1217.4 343.0,1217.6 344.5,1217.7 346.0,1217.9 347.5,1218.1 349.0,1218.3 350.5,1218.4 352.0,1218.6 353.5,1218.7 355.0,1218.9 356.5,1219.0 357.9,1219.2 359.4,1219.3 360.9,1219.4 362.4,1219.6 363.9,1219.7 365.4,1219.8 366.9,1219.9 368.4,1220.0 369.9,1220.1 371.4,1220.2 372.9,1220.3 374.4,1220.4 375.9,1220.5 377.4,1220.6 378.9,1220.7 380.4,1220.7 381.9,1220.8 383.4,1220.9 384.9,1221.0 386.3,1221.1 387.8,1221.2 389.3,1221.2 390.8,1221.3 392.3,1221.4 393.8,1221.5 395.3,1221.5 396.8,1221.6 398.3,1221.7 399.8,1221.8 401.3,1221.8 402.8,1221.9 404.3,1222.0 405.8,1222.0 407.3,1222.1 408.8,1222.2 410.3,1222.2 411.8,1222.3 413.3,1222.3 414.8,1222.4 416.3,1222.5 417.8,1222.5 419.3,1222.6 420.8,1222.6 422.3,1222.7 423.8,1222.7 425.3,1222.8 426.8,1222.8 428.3,1222.9 429.8,1222.9 431.3,1223.0 432.8,1223.0 434.3,1223.1 435.8,1223.1 437.3,1223.2 438.8,1223.2 440.3,1223.3 441.8,1223.3 443.3,1223.4 444.8,1223.4 446.3,1223.4 447.8,1223.5 449.3,1223.5 450.8,1223.5 452.3,1223.6 453.8,1223.6 455.3,1223.7 456.8,1223.7 458.3,1223.7 459.8,1223.8 461.3,1223.8 462.8,1223.8 464.3,1223.9 465.8,1223.9 467.3,1223.9 468.8,1224.0 470.3,1224.0 471.8,1224.0 473.3,1224.1 474.8,1224.1 476.3,1224.1 477.8,1224.2 479.3,1224.2 480.8,1224.2 482.3,1224.2 483.8,1224.3 485.3,1224.3 486.8,1224.3 488.3,1224.4 489.8,1224.4 491.3,1224.4 492.8,1224.5 494.3,1224.5 495.7,1224.5 497.2,1224.5 498.7,1224.6 500.2,1224.6 501.7,1224.6 503.2,1224.6 504.7,1224.7 506.2,1224.7 507.7,1224.7 509.2,1224.7 510.7,1224.8 512.2,1224.8 513.7,1224.8 515.2,1224.8 516.7,1224.9 518.2,1224.9 519.7,1224.9 521.2,1224.9 522.7,1225.0 524.2,1225.0 525.7,1225.0 527.2,1225.0 528.7,1225.1 530.2,1225.1 531.7,1225.1 533.2,1225.1 534.7,1225.1 536.2,1225.2 537.7,1225.2 539.2,1225.2 540.7,1225.2 542.2,1225.2 543.7,1225.3 545.2,1225.3 546.7,1225.3 548.2,1225.3 549.7,1225.3 551.2,1225.4 552.7,1225.4 554.2,1225.4 555.7,1225.4 557.2,1225.4 558.7,1225.5 560.2,1225.5 561.7,1225.5 563.2,1225.5 564.7,1225.5 566.2,1225.6 567.7,1225.6 569.2,1225.6 570.7,1225.6 572.2,1225.6 573.7,1225.6 575.2,1225.7 576.7,1225.7 578.2,1225.7 579.7,1225.7 581.2,1225.7 582.7,1225.7 584.2,1225.8 585.7,1225.8 587.2,1225.8 588.7,1225.8 590.2,1225.8 591.7,1225.8 593.2,1225.9 594.7,1225.9 596.2,1225.9 597.7,1225.9 599.2,1225.9 600.7,1225.9 602.2,1226.0 603.7,1226.0 605.2,1226.0 606.7,1226.0 608.2,1226.0 609.7,1226.0 611.2,1226.1 612.7,1226.1 614.2,1226.1 615.7,1226.1 617.2,1226.1 618.7,1226.1 620.2,1226.2 621.7,1226.2 623.2,1226.2 624.7,1226.2 626.2,1226.2 627.7,1226.2 629.2,1226.2 630.7,1226.3 632.2,1226.3 633.7,1226.3 635.2,1226.3 636.7,1226.3 638.2,1226.3 639.7,1226.4 641.2,1226.4 642.7,1226.4 644.2,1226.4 645.7,1226.4 647.2,1226.4 648.7,1226.4 650.2,1226.5 651.7,1226.5 653.2,1226.5 654.7,1226.5 656.2,1226.5 657.7,1226.5 659.2,1226.5 660.7,1226.6 662.2,1226.6 663.7,1226.6 665.2,1226.6 666.7,1226.6 668.2,1226.6 669.7,1226.6 671.2,1226.7 672.7,1226.7 674.2,1226.7 675.7,1226.7 677.2,1226.7 678.7,1226.7 680.2,1226.7 681.7,1226.7 683.2,1226.8 684.7,1226.8 686.2,1226.8 687.7,1226.8 689.2,1226.8 690.7,1226.8 692.2,1226.8 693.6,1226.8 695.1,1226.9 696.6,1226.9 698.1,1226.9 699.6,1226.9 701.1,1226.9 702.6,1226.9 704.1,1226.9 705.6,1226.9 707.1,1227.0 708.6,1227.0 710.1,1227.0 711.6,1227.0 713.1,1227.0 714.6,1227.0 716.1,1227.0 717.6,1227.0 719.1,1227.0 720.6,1227.1 722.1,1227.1 723.6,1227.1 725.1,1227.1 726.6,1227.1 728.1,1227.1 729.6,1227.1 731.1,1227.1 732.6,1227.1 734.1,1227.2 735.6,1227.2 737.1,1227.2 738.6,1227.2 740.1,1227.2 741.6,1227.2 743.1,1227.2 744.6,1227.2 746.1,1227.2 747.6,1227.2 749.1,1227.2 750.6,1227.3 752.1,1227.3 753.6,1227.3 755.1,1227.3 756.6,1227.3 758.1,1227.3 759.6,1227.3 761.1,1227.3 762.6,1227.3 764.1,1227.3 765.6,1227.3 767.1,1227.4 768.6,1227.4 770.1,1227.4 771.6,1227.4 773.1,1227.4 774.6,1227.4 776.1,1227.4 777.6,1227.4 779.1,1227.4 780.6,1227.4 782.1,1227.4 783.6,1227.4 785.1,1227.4 786.6,1227.4 788.1,1227.5 789.6,1227.5 791.1,1227.5 792.6,1227.5 794.1,1227.5 795.6,1227.5 797.1,1227.5 798.6,1227.5 800.1,1227.5 801.6,1227.5 803.1,1227.5 804.6,1227.5 806.1,1227.5 807.6,1227.5 809.1,1227.5 810.6,1227.5 812.1,1227.5 813.6,1227.5 815.1,1227.6 816.6,1227.6 818.1,1227.6 819.6,1227.6 821.1,1227.6 822.6,1227.6 824.1,1227.6 825.6,1227.6 827.1,1227.6 828.6,1227.6 830.1,1227.6 831.6,1227.6 833.1,1227.6 834.6,1227.6 836.1,1227.6 837.6,1227.6 839.1,1227.6 840.6,1227.6 842.1,1227.6 843.6,1227.7 845.1,1227.7 846.6,1227.7 848.1,1227.7 849.6,1227.7 851.1,1227.7 852.6,1227.7 854.1,1227.7 855.6,1227.7 857.1,1227.7 858.6,1227.7 860.1,1227.7 861.6,1227.7 863.1,1227.7 864.6,1227.7 866.1,1227.7 867.6,1227.7 869.1,1227.7 870.6,1227.7 872.1,1227.7 873.6,1227.8 875.1,1227.8 876.6,1227.8 878.1,1227.8 879.6,1227.8 881.1,1227.8 882.6,1227.8 884.1,1227.8 885.6,1227.8 887.1,1227.8 888.6,1227.8 890.1,1227.8 891.6,1227.8 893.1,1227.8 894.6,1227.8 896.1,1227.8 897.6,1227.8 899.1,1227.8 900.6,1227.8 902.1,1227.8 903.6,1227.8 905.0,1227.8 906.5,1227.8 908.0,1227.9 909.5,1227.9 911.0,1227.9 912.5,1227.9 914.0,1227.9 915.5,1227.9 917.0,1227.9 918.5,1227.9 920.0,1227.9 921.5,1227.9 923.0,1227.9 924.5,1227.9 926.0,1227.9 927.5,1227.9 929.0,1227.9 930.5,1227.9 932.0,1227.9 933.5,1227.9 935.0,1227.9 936.5,1227.9 938.0,1227.9 939.5,1227.9 941.0,1227.9 942.5,1227.9 944.0,1227.9 945.5,1227.9 947.0,1227.9 948.5,1227.9 950.0,1227.9 951.5,1227.9 953.0,1227.9 954.5,1227.9 956.0,1228.0 957.5,1228.0 959.0,1228.0 960.5,1228.0 962.0,1228.0 963.5,1228.0 965.0,1228.0 966.5,1228.0 968.0,1228.0 969.5,1228.0 971.0,1228.0 972.5,1228.0 974.0,1228.0 975.5,1228.0 977.0,1228.0 978.5,1228.0 980.0,1228.0 981.5,1228.0 983.0,1228.0 984.5,1228.0 986.0,1228.0 987.5,1228.0 989.0,1228.0 990.5,1228.0 992.0,1228.0 993.5,1228.0 995.0,1228.0 996.5,1228.0 998.0,1228.0 999.5,1228.0 1001.0,1228.0 1002.5,1228.0 1004.0,1228.0 1005.5,1228.0 1007.0,1228.0 1008.4,1228.0 1009.8,1228.0 1010.9,1228.0 1013.0,1228.0" fill="none" stroke="#000000" stroke-width="4" stroke-linejoin="round" stroke-linecap="round"/>
<path d="M177.8,966.2 177.8,968.3 177.8,969.5 177.8,970.8 177.8,972.2 177.8,973.7 177.8,975.2 177.8,976.7 177.8,978.2 177.8,979.7 177.9,981.2 177.9,982.7 177.9,984.2 177.9,985.7 177.9,987.2 177.9,988.7 177.9,990.2 177.9,991.7 178.0,993.2 178.0,994.7 178.0,996.2 178.0,997.7 178.0,999.2 178.1,1000.7 178.1,1002.2 178.1,1003.7 178.1,1005.2 178.1,1006.7 178.2,1008.2 178.2,1009.7 178.2,1011.2 178.2,1012.7 178.3,1014.2 178.3,1015.7 178.3,1017.2 178.3,1018.7 178.4,1020.2 178.4,1021.7 178.4,1023.2 178.5,1024.7 178.5,1026.2 178.5,1027.7 178.6,1029.2 178.6,1030.7 178.6,1032.2 178.7,1033.7 178.7,1035.2 178.7,1036.7 178.8,1038.2 178.8,1039.7 178.8,1041.2 178.9,1042.7 178.9,1044.2 178.9,1045.7 179.0,1047.2 179.0,1048.7 179.1,1050.2 179.1,1051.7 179.2,1053.2 179.2,1054.7 179.3,1056.2 179.3,1057.7 179.4,1059.2 179.5,1060.7 179.6,1062.2 179.6,1063.7 179.7,1065.2 179.8,1066.7 179.9,1068.2 180.0,1069.7 180.0,1071.2 180.1,1072.7 180.2,1074.2 180.3,1075.7 180.4,1077.2 180.5,1078.7 180.6,1080.2 180.7,1081.6 180.8,1083.1 181.0,1084.6 181.1,1086.1 181.2,1087.6 181.3,1089.1 181.4,1090.6 181.5,1092.1 181.7,1093.6 181.8,1095.1 181.9,1096.6 182.0,1098.1 182.2,1099.6 182.3,1101.1 182.4,1102.6 182.6,1104.1 182.7,1105.5 182.9,1107.0 183.0,1108.5 183.2,1110.0 183.4,1111.5 183.6,1113.0 183.7,1114.5 183.9,1116.0 184.1,1117.5 184.3,1119.0 184.6,1120.4 184.8,1121.9 185.0,1123.4 185.2,1124.9 185.5,1126.4 185.7,1127.9 186.0,1129.4 186.2,1130.8 186.5,1132.3 186.7,1133.8 187.0,1135.3 187.3,1136.7 187.6,1138.2 187.8,1139.7 188.1,1141.1 188.4,1142.6 188.7,1144.1 189.0,1145.5 189.4,1147.0 189.7,1148.5 190.0,1150.0 190.4,1151.4 190.8,1152.9 191.1,1154.4 191.5,1155.8 191.9,1157.3 192.4,1158.7 192.8,1160.1 193.3,1161.6 193.7,1163.0 194.2,1164.4 194.7,1165.8 195.2,1167.2 195.8,1168.6 196.3,1169.9 196.9,1171.3 197.6,1172.7 198.2,1174.1 198.9,1175.4 199.6,1176.8 200.3,1178.1 201.1,1179.5 201.9,1180.8 202.7,1182.0 203.5,1183.3 204.3,1184.5 205.2,1185.7 206.1,1186.9 207.0,1188.1 208.0,1189.2 209.0,1190.3 210.0,1191.4 211.1,1192.5 212.2,1193.5 213.4,1194.5 214.5,1195.4 215.7,1196.3 217.0,1197.2 218.2,1198.0 219.4,1198.7 220.7,1199.5 222.0,1200.1 223.4,1200.8 224.7,1201.5 226.1,1202.1 227.5,1202.7 228.9,1203.3 230.3,1203.8 231.7,1204.4 233.2,1204.9 234.6,1205.4 236.1,1205.8 237.5,1206.3 239.0,1206.7 240.4,1207.1 241.8,1207.4 243.3,1207.8 244.7,1208.1 246.2,1208.4 247.6,1208.7 249.1,1209.0 250.6,1209.3 252.0,1209.6 253.5,1209.9 255.0,1210.2 256.5,1210.4 258.0,1210.7 259.5,1210.9 260.9,1211.1 262.4,1211.4 263.9,1211.6 265.4,1211.8 266.9,1212.0 268.4,1212.2 269.9,1212.4 271.4,1212.6 272.9,1212.7 274.4,1212.9 275.9,1213.1 277.4,1213.3 278.9,1213.4 280.3,1213.6 281.8,1213.7 283.3,1213.9 284.8,1214.0 286.3,1214.2 287.8,1214.3 289.3,1214.5 290.8,1214.6 292.3,1214.8 293.8,1214.9 295.3,1215.0 296.8,1215.2 298.2,1215.3 299.7,1215.4 301.2,1215.6 302.7,1215.7 304.2,1215.8 305.7,1215.9 307.2,1216.1 308.7,1216.2 310.2,1216.3 311.7,1216.4 313.2,1216.5 314.7,1216.6 316.2,1216.7 317.7,1216.8 319.2,1216.9 320.7,1217.0 322.2,1217.1 323.7,1217.2 325.2,1217.3 326.7,1217.3 328.2,1217.4 329.7,1217.5 331.2,1217.6 332.7,1217.7 334.2,1217.7 335.7,1217.8 337.2,1217.9 338.7,1217.9 340.2,1218.0 341.7,1218.1 343.2,1218.1 344.7,1218.2 346.2,1218.3 347.7,1218.3 349.2,1218.4 350.7,1218.4 352.2,1218.5 353.7,1218.5 355.2,1218.6 356.7,1218.7 358.2,1218.7 359.7,1218.8 361.2,1218.8 362.6,1218.9 364.1,1218.9 365.6,1219.0 367.1,1219.0 368.6,1219.1 370.1,1219.1 371.6,1219.1 373.1,1219.2 374.6,1219.2 376.1,1219.3 377.6,1219.3 379.1,1219.4 380.6,1219.4 382.1,1219.5 383.6,1219.5 385.1,1219.5 386.6,1219.6 388.1,1219.6 389.6,1219.7 391.1,1219.7 392.6,1219.7 394.1,1219.8 395.6,1219.8 397.1,1219.9 398.6,1219.9 400.1,1219.9 401.6,1220.0 403.1,1220.0 404.6,1220.0 406.1,1220.1 407.6,1220.1 409.1,1220.2 410.6,1220.2 412.1,1220.2 413.6,1220.3 415.1,1220.3 416.6,1220.3 418.1,1220.4 419.6,1220.4 421.1,1220.5 422.6,1220.5 424.1,1220.5 425.6,1220.6 427.1,1220.6 428.6,1220.6 430.1,1220.7 431.6,1220.7 433.1,1220.7 434.6,1220.8 436.1,1220.8 437.6,1220.8 439.1,1220.9 440.6,1220.9 442.1,1220.9 443.6,1221.0 445.1,1221.0 446.6,1221.0 448.1,1221.1 449.6,1221.1 451.1,1221.1 452.6,1221.2 454.1,1221.2 455.6,1221.2 457.1,1221.3 458.6,1221.3 460.1,1221.3 461.6,1221.4 463.1,1221.4 464.6,1221.4 466.1,1221.4 467.6,1221.5 469.1,1221.5 470.6,1221.5 472.1,1221.5 473.6,1221.6 475.1,1221.6 476.6,1221.6 478.1,1221.6 479.6,1221.7 481.1,1221.7 482.6,1221.7 484.1,1221.7 485.6,1221.8 487.1,1221.8 488.6,1221.8 490.1,1221.8 491.6,1221.9 493.1,1221.9 494.6,1221.9 496.1,1221.9 497.6,1221.9 499.1,1221.9 500.6,1222.0 502.1,1222.0 503.6,1222.0 505.1,1222.0 506.6,1222.0 508.1,1222.1 509.6,1222.1 511.1,1222.1 512.6,1222.1 514.1,1222.1 515.6,1222.1 517.1,1222.2 518.6,1222.2 520.1,1222.2 521.6,1222.2 523.1,1222.2 524.6,1222.2 526.1,1222.2 527.6,1222.3 529.1,1222.3 530.6,1222.3 532.1,1222.3 533.6,1222.3 535.1,1222.3 536.6,1222.3 538.1,1222.4 539.6,1222.4 541.1,1222.4 542.6,1222.4 544.1,1222.4 545.6,1222.4 547.1,1222.4 548.6,1222.4 550.1,1222.5 551.6,1222.5 553.1,1222.5 554.6,1222.5 556.1,1222.5 557.6,1222.5 559.1,1222.5 560.6,1222.5 562.1,1222.6 563.6,1222.6 565.1,1222.6 566.6,1222.6 568.1,1222.6 569.6,1222.6 571.1,1222.6 572.6,1222.6 574.1,1222.6 575.6,1222.7 577.1,1222.7 578.6,1222.7 580.1,1222.7 581.6,1222.7 583.1,1222.7 584.6,1222.7 586.1,1222.7 587.6,1222.8 589.1,1222.8 590.6,1222.8 592.1,1222.8 593.6,1222.8 595.1,1222.8 596.6,1222.8 598.1,1222.9 599.6,1222.9 601.1,1222.9 602.6,1222.9 604.1,1222.9 605.6,1222.9 607.1,1222.9 608.6,1222.9 610.1,1223.0 611.6,1223.0 613.1,1223.0 614.6,1223.0 616.1,1223.0 617.6,1223.0 619.1,1223.0 620.6,1223.1 622.1,1223.1 623.6,1223.1 625.1,1223.1 626.6,1223.1 628.1,1223.1 629.6,1223.1 631.1,1223.1 632.6,1223.2 634.1,1223.2 635.6,1223.2 637.1,1223.2 638.6,1223.2 640.1,1223.2 641.6,1223.2 643.1,1223.3 644.6,1223.3 646.1,1223.3 647.6,1223.3 649.1,1223.3 650.6,1223.3 652.1,1223.3 653.6,1223.3 655.1,1223.4 656.6,1223.4 658.1,1223.4 659.6,1223.4 661.1,1223.4 662.6,1223.4 664.1,1223.4 665.6,1223.5 667.1,1223.5 668.6,1223.5 670.1,1223.5 671.6,1223.5 673.1,1223.5 674.6,1223.5 676.1,1223.5 677.6,1223.6 679.1,1223.6 680.6,1223.6 682.1,1223.6 683.6,1223.6 685.1,1223.6 686.6,1223.6 688.1,1223.6 689.6,1223.7 691.1,1223.7 692.6,1223.7 694.1,1223.7 695.6,1223.7 697.1,1223.7 698.6,1223.7 700.1,1223.7 701.6,1223.8 703.1,1223.8 704.6,1223.8 706.1,1223.8 707.6,1223.8 709.1,1223.8 710.6,1223.8 712.1,1223.8 713.6,1223.9 715.1,1223.9 716.6,1223.9 718.1,1223.9 719.6,1223.9 721.1,1223.9 722.6,1223.9 724.1,1223.9 725.6,1224.0 727.1,1224.0 728.6,1224.0 730.1,1224.0 731.6,1224.0 733.1,1224.0 734.6,1224.0 736.1,1224.0 737.6,1224.1 739.0,1224.1 740.5,1224.1 742.0,1224.1 743.5,1224.1 745.0,1224.1 746.5,1224.1 748.0,1224.1 749.5,1224.1 751.0,1224.2 752.5,1224.2 754.0,1224.2 755.5,1224.2 757.0,1224.2 758.5,1224.2 760.0,1224.2 761.5,1224.2 763.0,1224.2 764.5,1224.3 766.0,1224.3 767.5,1224.3 769.0,1224.3 770.5,1224.3 772.0,1224.3 773.5,1224.3 775.0,1224.3 776.5,1224.3 778.0,1224.4 779.5,1224.4 781.0,1224.4 782.5,1224.4 784.0,1224.4 785.5,1224.4 787.0,1224.4 788.5,1224.4 790.0,1224.4 791.5,1224.4 793.0,1224.5 794.5,1224.5 796.0,1224.5 797.5,1224.5 799.0,1224.5 800.5,1224.5 802.0,1224.5 803.5,1224.5 805.0,1224.5 806.5,1224.5 808.0,1224.6 809.5,1224.6 811.0,1224.6 812.5,1224.6 814.0,1224.6 815.5,1224.6 817.0,1224.6 818.5,1224.6 820.0,1224.6 821.5,1224.6 823.0,1224.6 824.5,1224.7 826.0,1224.7 827.5,1224.7 829.0,1224.7 830.5,1224.7 832.0,1224.7 833.5,1224.7 835.0,1224.7 836.5,1224.7 838.0,1224.7 839.5,1224.7 841.0,1224.8 842.5,1224.8 844.0,1224.8 845.5,1224.8 847.0,1224.8 848.5,1224.8 850.0,1224.8 851.5,1224.8 853.0,1224.8 854.5,1224.8 856.0,1224.8 857.5,1224.9 859.0,1224.9 860.5,1224.9 862.0,1224.9 863.5,1224.9 865.0,1224.9 866.5,1224.9 868.0,1224.9 869.5,1224.9 871.0,1224.9 872.5,1224.9 874.0,1224.9 875.5,1225.0 877.0,1225.0 878.5,1225.0 880.0,1225.0 881.5,1225.0 883.0,1225.0 884.5,1225.0 886.0,1225.0 887.5,1225.0 889.0,1225.0 890.5,1225.0 892.0,1225.0 893.5,1225.1 895.0,1225.1 896.5,1225.1 898.0,1225.1 899.5,1225.1 901.0,1225.1 902.5,1225.1 904.0,1225.1 905.5,1225.1 907.0,1225.1 908.5,1225.1 910.0,1225.1 911.5,1225.1 913.0,1225.2 914.5,1225.2 916.0,1225.2 917.5,1225.2 919.0,1225.2 920.5,1225.2 922.0,1225.2 923.5,1225.2 925.0,1225.2 926.5,1225.2 928.0,1225.2 929.5,1225.2 931.0,1225.2 932.5,1225.3 934.0,1225.3 935.5,1225.3 937.0,1225.3 938.5,1225.3 940.0,1225.3 941.5,1225.3 943.0,1225.3 944.5,1225.3 946.0,1225.3 947.5,1225.3 949.0,1225.3 950.5,1225.3 952.0,1225.3 953.5,1225.4 955.0,1225.4 956.5,1225.4 958.0,1225.4 959.5,1225.4 961.0,1225.4 962.5,1225.4 964.0,1225.4 965.5,1225.4 967.0,1225.4 968.5,1225.4 970.0,1225.4 971.5,1225.4 973.0,1225.4 974.5,1225.4 976.0,1225.5 977.5,1225.5 979.0,1225.5 980.5,1225.5 982.0,1225.5 983.5,1225.5 985.0,1225.5 986.5,1225.5 988.0,1225.5 989.5,1225.5 991.0,1225.5 992.5,1225.5 994.0,1225.5 995.5,1225.5 997.0,1225.5 998.5,1225.5 1000.0,1225.6 1001.5,1225.6 1003.0,1225.6 1004.5,1225.6 1006.0,1225.6 1007.5,1225.6 1008.9,1225.6 1010.2,1225.6 1011.2,1225.6" fill="none" stroke="#e51ee5" stroke-width="4" stroke-linejoin="round" stroke-linecap="round"/>
<path d="M178.9,962.3 180.2,959.8 181.1,959.9 182.1,957.5 183.2,957.9 184.3,958.6 185.5,957.5 186.6,958.9 187.7,960.2 188.8,961.9 189.8,962.8 190.7,963.1 191.5,964.6 192.2,966.0 193.0,968.0 193.6,969.6 194.3,970.2 195.0,971.1 195.6,972.3 196.3,974.6 197.0,976.3 197.7,976.8 198.4,977.8 199.1,979.2 199.8,981.1 200.5,981.5 201.2,983.3 201.9,985.0 202.7,985.4 203.4,987.7 204.2,988.3 205.1,990.5 206.0,990.2 206.9,992.9 207.8,992.8 208.8,994.7 209.8,996.2 210.8,996.7 211.9,998.1 212.9,999.1 214.0,1000.0 215.1,1001.8 216.3,1001.6 217.4,1003.5 218.6,1004.9 219.8,1005.4 220.9,1005.5 222.1,1007.1 223.1,1008.2 224.2,1009.3 225.2,1009.1 226.1,1010.2 227.1,1013.1 228.0,1013.9 228.8,1014.9 229.7,1015.9 230.6,1017.7 231.4,1019.2 232.3,1020.1 233.2,1020.6 234.0,1022.4 234.8,1024.5 235.7,1024.7 236.5,1025.6 237.3,1027.8 238.2,1028.3 239.0,1029.8 239.8,1031.9 240.7,1032.8 241.5,1033.0 242.4,1035.1 243.3,1036.4 244.3,1037.8 245.2,1038.2 246.2,1039.4 247.2,1041.4 248.2,1040.7 249.2,1042.2 250.2,1043.3 251.2,1045.3 252.3,1046.4 253.2,1047.2 254.2,1048.8 255.2,1049.1 256.1,1050.2 257.1,1051.6 258.0,1052.0 259.0,1053.5 259.9,1055.4 260.9,1056.3 261.8,1057.2 262.8,1059.3 263.8,1060.1 264.8,1060.9 265.9,1061.9 267.0,1063.5 268.1,1065.1 269.3,1064.4 270.5,1065.7 271.6,1066.5 272.8,1067.8 274.0,1068.0 275.2,1069.4 276.4,1071.2 277.5,1071.3 278.7,1071.8 279.8,1073.6 281.0,1074.7 282.1,1075.0 283.2,1076.9 284.4,1077.3 285.5,1078.9 286.6,1079.6 287.8,1080.2 288.9,1081.0 290.0,1082.5 291.2,1082.7 292.3,1083.5 293.4,1086.0 294.5,1085.5 295.7,1086.9 296.8,1087.9 297.9,1089.0 299.1,1089.4 300.2,1090.5 301.4,1092.3 302.5,1093.0 303.7,1092.9 304.9,1095.2 306.0,1096.0 307.2,1096.6 308.4,1096.9 309.6,1099.3 310.8,1100.7 311.9,1100.1 313.1,1100.3 314.3,1103.3 315.5,1103.2 316.7,1104.3 317.9,1105.2 319.1,1105.5 320.2,1106.6 321.4,1107.5 322.6,1108.8 323.8,1109.3 325.0,1111.1 326.2,1111.3 327.4,1112.9 328.6,1112.5 329.8,1114.1 331.1,1115.0 332.3,1115.4 333.5,1116.9 334.7,1117.4 336.0,1119.2 337.2,1119.8 338.5,1120.1 339.7,1120.6 341.0,1121.6 342.2,1123.1 343.5,1123.4 344.8,1124.0 346.1,1124.6 347.3,1124.7 348.6,1126.9 349.9,1126.9 351.2,1128.1 352.5,1129.0 353.8,1129.2 355.1,1130.1 356.4,1131.2 357.7,1132.5 359.1,1132.4 360.4,1133.1 361.7,1133.8 363.1,1134.3 364.4,1135.6 365.7,1135.2 367.1,1136.3 368.5,1137.0 369.8,1138.0 371.2,1138.4 372.6,1138.3 374.0,1139.0 375.4,1139.1 376.8,1140.2 378.2,1140.6 379.6,1140.5 381.0,1141.8 382.4,1143.3 383.9,1142.8 385.3,1142.8 386.7,1143.2 388.2,1144.6 389.6,1144.4 391.1,1144.6 392.5,1144.6 394.0,1146.2 395.4,1145.1 396.8,1146.8 398.3,1146.7 399.7,1148.1 401.1,1147.9 402.6,1148.2 404.0,1149.5 405.4,1148.7 406.9,1150.2 408.3,1150.6 409.7,1149.5 411.2,1150.6 412.6,1151.1 414.0,1151.8 415.5,1152.5 416.9,1152.8 418.3,1153.6 419.8,1153.5 421.2,1153.5 422.6,1153.5 424.1,1154.5 425.5,1155.1 426.9,1155.5 428.4,1156.6 429.8,1156.8 431.2,1156.4 432.7,1157.2 434.1,1157.8 435.6,1159.7 437.0,1159.2 438.4,1159.2 439.9,1160.0 441.3,1160.7 442.8,1160.0 444.2,1161.8 445.7,1160.9 447.1,1162.2 448.5,1163.0 450.0,1162.6 451.4,1163.3 452.9,1162.9 454.3,1164.4 455.8,1164.6 457.2,1165.6 458.7,1165.4 460.1,1165.0 461.6,1165.3 463.0,1165.6 464.5,1166.1 465.9,1167.5 467.4,1166.4 468.8,1166.9 470.3,1167.5 471.8,1167.5 473.2,1168.1 474.7,1169.5 476.1,1169.1 477.6,1169.8 479.0,1169.9 480.5,1170.7 481.9,1171.3 483.4,1171.4 484.9,1171.6 486.3,1171.5 487.8,1171.5 489.2,1172.6 490.7,1173.1 492.2,1173.6 493.6,1173.6 495.1,1173.5 496.6,1173.8 498.0,1174.8 499.5,1174.6 500.9,1174.6 502.4,1174.7 503.9,1175.3 505.3,1176.4 506.8,1176.6 508.3,1177.4 509.8,1177.2 511.2,1177.4 512.7,1178.1 514.2,1178.5 515.6,1178.0 517.1,1177.0 518.6,1178.6 520.1,1178.6 521.5,1179.9 523.0,1179.7 524.5,1179.5 525.9,1179.4 527.4,1180.6 528.9,1181.2 530.4,1180.2 531.8,1181.4 533.3,1181.1 534.8,1181.9 536.3,1183.1 537.7,1181.7 539.2,1182.9 540.7,1183.8 542.2,1183.1 543.6,1182.8 545.1,1182.4 546.6,1183.6 548.0,1184.5 549.5,1184.1 551.0,1185.6 552.5,1183.9 553.9,1184.7 555.4,1185.9 556.9,1186.0 558.4,1186.6 559.8,1186.7 561.3,1186.4 562.8,1186.8 564.3,1188.1 565.7,1187.8 567.2,1188.5 568.7,1188.4 570.2,1189.1 571.6,1189.0 573.1,1188.8 574.6,1188.6 576.1,1190.0 577.6,1189.5 579.0,1189.1 580.5,1190.9 582.0,1190.6 583.5,1190.8 585.0,1190.3 586.4,1191.5 587.9,1191.3 589.4,1190.9 590.9,1191.4 592.4,1191.4 593.9,1192.9 595.3,1192.1 596.8,1192.7 598.3,1193.4 599.8,1193.9 601.3,1192.8 602.8,1192.8 604.3,1194.0 605.8,1194.1 607.2,1195.1 608.7,1193.9 610.2,1195.1 611.7,1195.0 613.2,1194.7 614.7,1193.2 616.2,1195.0 617.7,1195.0 619.2,1194.2 620.7,1195.9 622.1,1195.3 623.6,1195.3 625.1,1195.8 626.6,1196.7 628.1,1197.3 629.6,1197.0 631.1,1196.9 632.6,1197.0 634.1,1196.2 635.6,1196.6 637.0,1197.2 638.5,1197.5 640.0,1197.3 641.5,1198.7 643.0,1198.6 644.5,1197.8 646.0,1198.9 647.5,1198.6 649.0,1199.9 650.5,1199.4 652.0,1199.4 653.4,1199.5 654.9,1199.8 656.4,1199.5 657.9,1200.6 659.4,1199.8 660.9,1199.1 662.4,1200.1 663.9,1200.7 665.4,1199.7 666.9,1199.7 668.4,1200.6 669.9,1201.5 671.3,1201.4 672.8,1199.8 674.3,1201.7 675.8,1201.3 677.3,1201.2 678.8,1201.8 680.3,1203.1 681.8,1201.4 683.3,1202.1 684.8,1201.2 686.3,1202.8 687.8,1202.8 689.3,1202.9 690.8,1203.1 692.2,1202.4 693.7,1203.1 695.2,1203.2 696.7,1202.9 698.2,1203.9 699.7,1204.0 701.2,1203.3 702.7,1204.0 704.2,1204.3 705.7,1204.3 707.2,1204.6 708.7,1204.4 710.2,1204.4 711.7,1203.9 713.2,1204.3 714.7,1204.9 716.2,1205.0 717.7,1204.4 719.1,1205.1 720.6,1205.5 722.1,1206.1 723.6,1205.8 725.1,1205.6 726.6,1206.1 728.1,1205.0 729.6,1206.1 731.1,1205.6 732.6,1207.0 734.1,1205.6 735.6,1206.7 737.1,1207.4 738.6,1206.3 740.1,1206.3 741.6,1206.7 743.1,1206.7 744.6,1206.4 746.1,1206.7 747.6,1207.5 749.1,1207.5 750.6,1206.8 752.1,1206.9 753.6,1207.6 755.1,1207.8 756.6,1207.7 758.1,1207.8 759.6,1208.9 761.0,1208.5 762.5,1208.4 764.0,1207.8 765.5,1209.1 767.0,1208.3 768.5,1208.5 770.0,1207.3 771.5,1209.0 773.0,1207.8 774.5,1208.5 776.0,1209.4 777.5,1208.8 779.0,1208.6 780.5,1209.5 782.0,1209.7 783.5,1209.4 785.0,1209.7 786.5,1208.9 788.0,1209.6 789.5,1209.4 791.0,1208.7 792.5,1209.9 794.0,1209.6 795.5,1209.8 797.0,1210.1 798.5,1210.0 800.0,1210.6 801.5,1210.0 803.0,1210.6 804.5,1210.1 806.0,1210.7 807.5,1210.6 809.0,1211.1 810.5,1211.9 812.0,1210.8 813.5,1211.2 815.0,1210.5 816.5,1210.8 817.9,1211.3 819.4,1211.8 820.9,1210.7 822.4,1211.2 823.9,1212.1 825.4,1210.6 826.9,1211.8 828.4,1211.5 829.9,1212.6 831.4,1211.6 832.9,1211.3 834.4,1212.6 835.9,1212.7 837.4,1212.3 838.9,1213.1 840.4,1212.0 841.9,1212.3 843.4,1211.9 844.9,1211.9 846.4,1212.6 847.9,1212.3 849.4,1213.4 850.9,1212.2 852.4,1212.8 853.9,1211.6 855.4,1212.9 856.9,1212.6 858.4,1212.6 859.9,1213.0 861.4,1212.9 862.9,1212.5 864.4,1213.4 865.9,1213.2 867.4,1212.9 868.9,1214.0 870.4,1213.3 871.9,1213.8 873.4,1213.9 874.9,1213.3 876.4,1213.7 877.9,1213.5 879.4,1213.2 880.9,1213.5 882.4,1214.6 883.9,1213.8 885.4,1214.7 886.9,1214.3 888.4,1213.2 889.9,1213.9 891.4,1214.4 892.9,1214.1 894.4,1214.3 895.9,1214.3 897.4,1213.8 898.9,1214.7 900.4,1215.3 901.9,1214.1 903.4,1214.3 904.9,1214.6 906.4,1214.9 907.9,1214.4 909.4,1215.1 910.9,1214.5 912.4,1214.4 913.9,1213.8 915.4,1215.0 916.9,1215.3 918.4,1214.5 919.9,1214.9 921.4,1214.6 922.8,1214.6 924.3,1215.8 925.8,1215.6 927.3,1214.1 928.8,1215.6 930.3,1215.3 931.8,1216.1 933.3,1215.4 934.8,1215.4 936.3,1214.9 937.8,1215.3 939.3,1215.3 940.8,1214.7 942.3,1215.9 943.8,1215.3 945.3,1215.7 946.8,1215.9 948.3,1214.7 949.8,1215.5 951.3,1215.3 952.8,1215.4 954.3,1215.1 955.8,1215.8 957.3,1215.1 958.8,1215.6 960.3,1215.6 961.8,1215.6 963.3,1215.9 964.8,1216.0 966.3,1216.2 967.8,1217.1 969.3,1215.8 970.8,1216.0 972.3,1215.9 973.8,1217.1 975.3,1215.4 976.8,1215.7 978.3,1216.8 979.8,1216.5 981.3,1215.7 982.8,1217.0 984.3,1216.0 985.8,1216.0 987.3,1217.2 988.8,1217.3 990.3,1217.1 991.8,1216.8 993.3,1217.1 994.8,1216.3 996.3,1217.8 997.8,1215.9 999.3,1217.2 1000.8,1217.6 1002.3,1216.4 1003.8,1216.8 1005.3,1217.2 1006.8,1217.9 1008.3,1217.6 1009.7,1217.7 1010.9,1217.1 1012.8,1217.4" fill="none" stroke="#1a1ad8" stroke-width="4" stroke-linejoin="round" stroke-linecap="round"/>
<path d="M178.9,952.6 179.0,950.5 179.0,947.5 179.1,946.6 179.2,944.8 179.4,943.0 179.6,942.7 179.9,940.1 180.2,939.5 180.6,938.2 181.1,937.4 181.9,936.0 182.8,935.3 183.7,937.0 184.7,937.0 185.5,937.3 186.3,938.3 187.0,940.2 187.6,941.7 188.2,943.0 188.8,945.1 189.3,946.3 189.8,947.5 190.4,949.1 190.9,950.0 191.5,952.0 192.1,953.3 192.7,953.5 193.4,956.1 194.0,956.9 194.7,958.4 195.3,960.2 196.0,961.2 196.6,962.8 197.2,963.3 197.8,965.9 198.3,966.6 198.9,968.7 199.4,969.6 200.0,971.1 200.5,972.9 201.1,974.1 201.6,975.2 202.2,976.8 202.7,979.0 203.3,979.4 203.8,980.6 204.4,982.5 204.9,982.9 205.5,985.1 206.0,986.2 206.6,987.9 207.1,988.0 207.7,991.0 208.3,992.0 208.8,992.9 209.4,995.2 209.9,995.8 210.5,996.8 211.0,998.2 211.6,1000.1 212.1,1001.4 212.7,1003.0 213.2,1004.1 213.8,1006.0 214.3,1007.6 214.9,1008.1 215.4,1010.6 216.0,1011.0 216.5,1013.2 217.1,1014.6 217.7,1015.6 218.3,1016.7 218.8,1017.8 219.4,1020.7 220.1,1020.3 220.7,1022.4 221.3,1023.8 222.0,1025.7 222.6,1026.9 223.3,1027.7 223.9,1028.8 224.6,1031.6 225.3,1031.8 226.0,1032.8 226.7,1035.4 227.4,1035.7 228.1,1036.6 228.8,1038.8 229.5,1039.6 230.2,1040.0 230.9,1042.3 231.7,1043.9 232.4,1044.3 233.2,1046.3 233.9,1048.2 234.7,1048.7 235.5,1049.6 236.3,1051.0 237.1,1053.1 237.9,1053.7 238.7,1055.5 239.5,1056.5 240.2,1057.4 241.0,1059.6 241.7,1061.4 242.4,1061.2 243.1,1063.3 243.8,1064.6 244.5,1065.9 245.2,1067.2 245.8,1069.3 246.5,1071.2 247.1,1071.4 247.8,1072.5 248.5,1074.4 249.1,1074.9 249.8,1076.2 250.6,1078.2 251.3,1079.8 252.0,1080.7 252.7,1082.1 253.5,1082.0 254.2,1084.0 255.0,1085.7 255.7,1087.4 256.5,1087.8 257.3,1089.8 258.1,1090.9 258.9,1092.4 259.7,1093.3 260.5,1095.2 261.3,1095.6 262.2,1097.9 263.0,1098.2 263.9,1099.9 264.7,1100.3 265.6,1101.7 266.5,1103.5 267.4,1103.4 268.3,1105.7 269.3,1106.9 270.2,1109.7 271.2,1109.2 272.1,1111.2 273.1,1111.5 274.1,1112.3 275.1,1114.3 276.1,1115.1 277.2,1116.7 278.2,1116.4 279.3,1117.3 280.4,1119.6 281.4,1120.8 282.5,1121.8 283.6,1122.2 284.7,1123.8 285.8,1124.3 286.9,1125.0 288.0,1126.3 289.1,1126.5 290.2,1128.8 291.3,1129.8 292.4,1130.0 293.5,1130.6 294.6,1132.6 295.8,1134.0 296.9,1133.2 298.0,1135.2 299.2,1136.0 300.4,1138.0 301.5,1139.0 302.7,1138.4 303.9,1139.6 305.1,1139.9 306.4,1141.7 307.6,1142.7 308.8,1144.1 310.0,1143.3 311.3,1144.3 312.5,1146.2 313.7,1147.0 314.9,1147.4 316.1,1148.6 317.3,1149.8 318.5,1150.3 319.7,1152.2 320.9,1153.2 322.1,1153.4 323.3,1154.0 324.5,1154.4 325.7,1155.7 326.9,1156.6 328.1,1156.1 329.3,1158.5 330.5,1159.6 331.8,1160.3 333.0,1160.3 334.3,1161.2 335.5,1163.0 336.8,1164.0 338.0,1163.9 339.3,1164.4 340.6,1165.6 341.9,1166.8 343.2,1168.5 344.5,1168.7 345.8,1169.2 347.1,1169.5 348.5,1170.5 349.8,1170.7 351.1,1172.3 352.4,1172.6 353.8,1172.7 355.1,1173.9 356.5,1175.3 357.9,1174.7 359.2,1175.1 360.6,1176.0 362.0,1176.7 363.4,1177.5 364.7,1177.8 366.1,1178.8 367.5,1178.9 368.9,1179.7 370.4,1180.9 371.8,1179.9 373.2,1180.5 374.6,1181.6 376.0,1181.5 377.5,1182.1 378.9,1184.2 380.3,1182.9 381.8,1183.4 383.2,1184.6 384.6,1184.8 386.1,1184.3 387.5,1185.8 389.0,1186.8 390.4,1186.4 391.9,1187.2 393.3,1187.3 394.7,1187.3 396.2,1187.7 397.6,1188.9 399.1,1189.2 400.5,1188.5 402.0,1190.3 403.4,1190.3 404.9,1190.9 406.3,1191.4 407.8,1190.4 409.2,1191.5 410.7,1191.7 412.1,1192.0 413.6,1192.7 415.0,1193.4 416.5,1193.4 417.9,1194.9 419.4,1193.7 420.9,1196.0 422.3,1195.0 423.8,1196.2 425.3,1195.8 426.7,1195.5 428.2,1196.2 429.7,1196.3 431.1,1197.3 432.6,1197.3 434.1,1196.9 435.5,1199.0 437.0,1198.7 438.5,1197.6 439.9,1198.3 441.4,1198.8 442.9,1199.3 444.4,1199.6 445.8,1199.6 447.3,1201.0 448.8,1199.6 450.3,1200.9 451.7,1201.0 453.2,1201.8 454.7,1201.2 456.2,1201.6 457.6,1202.9 459.1,1202.3 460.6,1202.4 462.1,1202.6 463.6,1202.7 465.0,1202.4 466.5,1202.7 468.0,1203.3 469.5,1203.8 471.0,1204.5 472.5,1204.0 474.0,1204.2 475.4,1204.7 476.9,1204.6 478.4,1205.1 479.9,1205.9 481.4,1205.1 482.9,1205.1 484.4,1205.6 485.8,1206.1 487.3,1205.8 488.8,1206.9 490.3,1207.7 491.8,1207.4 493.3,1207.8 494.8,1208.1 496.3,1207.9 497.8,1207.7 499.2,1207.9 500.7,1207.2 502.2,1207.5 503.7,1208.0 505.2,1207.9 506.7,1208.2 508.2,1209.0 509.7,1208.9 511.2,1208.9 512.7,1210.3 514.1,1209.2 515.6,1209.5 517.1,1210.2 518.6,1209.7 520.1,1210.6 521.6,1209.8 523.1,1211.0 524.6,1210.6 526.1,1209.7 527.6,1210.6 529.1,1211.1 530.6,1210.8 532.1,1211.4 533.6,1211.1 535.1,1211.7 536.6,1211.5 538.0,1212.3 539.5,1212.1 541.0,1212.5 542.5,1212.6 544.0,1212.1 545.5,1212.3 547.0,1212.8 548.5,1213.3 550.0,1213.2 551.5,1212.4 553.0,1213.8 554.5,1213.5 556.0,1214.2 557.5,1213.2 559.0,1213.6 560.4,1213.6 561.9,1213.5 563.4,1215.0 564.9,1214.3 566.4,1214.1 567.9,1214.0 569.4,1214.5 570.9,1215.3 572.4,1215.7 573.9,1215.5 575.4,1215.2 576.9,1215.5 578.4,1214.7 579.9,1215.0 581.4,1215.7 582.9,1216.0 584.4,1215.9 585.9,1216.1 587.4,1215.8 588.9,1216.0 590.4,1216.3 591.8,1216.1 593.3,1216.1 594.8,1216.3 596.3,1217.3 597.8,1216.0 599.3,1217.6 600.8,1216.1 602.3,1217.1 603.8,1217.3 605.3,1217.4 606.8,1216.6 608.3,1215.4 609.8,1216.4 611.3,1217.0 612.8,1218.1 614.3,1216.8 615.8,1217.2 617.3,1217.3 618.8,1218.0 620.3,1217.5 621.8,1218.0 623.3,1216.9 624.8,1216.4 626.3,1217.2 627.8,1216.8 629.3,1217.7 630.8,1217.3 632.3,1217.9 633.8,1216.9 635.3,1217.1 636.8,1217.2 638.3,1218.0 639.8,1217.4 641.3,1217.5 642.8,1218.3 644.3,1217.3 645.8,1217.3 647.3,1218.4 648.8,1216.4 650.3,1218.3 651.8,1217.5 653.3,1217.6 654.8,1217.7 656.3,1217.9 657.8,1217.7 659.3,1218.5 660.8,1216.7 662.3,1216.7 663.8,1217.9 665.3,1217.1 666.8,1217.7 668.3,1217.7 669.8,1217.8 671.3,1218.2 672.8,1216.7 674.3,1217.5 675.8,1218.8 677.3,1217.7 678.8,1217.7 680.3,1219.4 681.8,1218.2 683.3,1217.6 684.8,1218.4 686.3,1218.4 687.8,1217.5 689.3,1218.5 690.8,1218.0 692.3,1217.2 693.8,1218.6 695.3,1218.6 696.8,1218.5 698.3,1218.5 699.8,1218.0 701.3,1218.1 702.8,1217.8 704.3,1218.9 705.8,1218.7 707.3,1219.3 708.8,1218.7 710.3,1218.2 711.8,1218.2 713.3,1218.0 714.8,1218.1 716.3,1220.1 717.8,1217.6 719.3,1218.0 720.8,1217.8 722.3,1219.2 723.8,1218.8 725.3,1218.6 726.8,1219.2 728.3,1218.6 729.8,1219.0 731.3,1219.7 732.8,1218.8 734.3,1218.8 735.8,1219.2 737.3,1219.3 738.8,1219.4 740.3,1218.8 741.8,1219.2 743.3,1219.1 744.8,1219.6 746.3,1218.9 747.8,1219.0 749.3,1218.6 750.8,1218.9 752.3,1218.8 753.8,1219.4 755.3,1219.8 756.8,1219.0 758.3,1220.3 759.8,1219.2 761.3,1219.9 762.8,1219.6 764.3,1219.1 765.8,1219.3 767.3,1218.6 768.8,1219.7 770.3,1220.4 771.8,1219.6 773.3,1220.4 774.8,1219.5 776.3,1219.4 777.8,1219.6 779.3,1219.4 780.8,1219.8 782.3,1220.6 783.8,1219.7 785.3,1219.4 786.8,1219.7 788.3,1220.2 789.8,1219.6 791.3,1218.8 792.8,1219.3 794.3,1220.6 795.8,1219.8 797.3,1220.5 798.8,1219.8 800.3,1219.5 801.8,1220.0 803.3,1220.4 804.8,1219.8 806.3,1219.2 807.8,1219.8 809.3,1219.6 810.8,1220.6 812.3,1219.5 813.8,1219.5 815.3,1219.3 816.8,1220.0 818.3,1219.8 819.8,1219.9 821.3,1220.3 822.8,1220.0 824.3,1221.4 825.8,1221.0 827.3,1219.8 828.8,1221.1 830.3,1220.2 831.8,1220.4 833.3,1219.7 834.8,1220.5 836.3,1220.8 837.8,1220.6 839.3,1220.5 840.8,1220.8 842.3,1220.7 843.8,1219.6 845.3,1220.3 846.8,1220.6 848.3,1220.1 849.8,1221.5 851.3,1220.7 852.8,1220.4 854.3,1220.6 855.8,1220.7 857.3,1220.3 858.8,1220.2 860.3,1219.6 861.8,1221.0 863.3,1220.7 864.8,1219.9 866.3,1221.1 867.8,1220.6 869.3,1220.3 870.8,1220.2 872.3,1221.6 873.8,1221.2 875.3,1220.9 876.8,1220.9 878.3,1220.7 879.8,1220.7 881.3,1221.5 882.8,1220.5 884.3,1220.4 885.8,1221.3 887.3,1219.8 888.8,1220.5 890.3,1220.4 891.8,1220.8 893.3,1220.1 894.8,1220.6 896.3,1220.6 897.8,1220.9 899.3,1221.2 900.8,1221.6 902.3,1221.0 903.8,1220.7 905.3,1220.6 906.8,1220.7 908.3,1222.0 909.8,1221.7 911.3,1221.6 912.8,1221.4 914.3,1220.5 915.8,1221.6 917.3,1221.0 918.8,1220.5 920.3,1220.6 921.8,1221.2 923.3,1220.7 924.8,1221.9 926.3,1221.8 927.8,1221.5 929.3,1221.4 930.8,1221.6 932.3,1220.1 933.8,1220.5 935.3,1221.2 936.8,1221.0 938.3,1220.1 939.8,1221.4 941.3,1221.0 942.8,1220.7 944.3,1221.7 945.8,1221.8 947.3,1220.9 948.8,1221.2 950.3,1221.4 951.8,1221.1 953.3,1221.4 954.8,1220.7 956.3,1220.9 957.8,1221.5 959.3,1221.3 960.8,1222.3 962.3,1221.1 963.8,1221.2 965.3,1221.5 966.8,1221.7 968.3,1221.5 969.8,1222.1 971.3,1221.6 972.8,1221.9 974.3,1221.2 975.8,1221.9 977.3,1221.6 978.8,1220.7 980.3,1222.0 981.8,1221.9 983.3,1221.0 984.8,1221.6 986.3,1222.2 987.8,1221.4 989.3,1222.2 990.8,1221.4 992.3,1222.1 993.8,1221.6 995.3,1220.1 996.8,1221.5 998.3,1221.3 999.8,1221.7 1001.3,1221.2 1002.8,1222.1 1004.3,1221.7 1005.8,1221.5 1007.3,1221.5 1008.7,1221.5 1010.1,1221.1 1011.2,1221.7" fill="none" stroke="#e5141b" stroke-width="4" stroke-linejoin="round" stroke-linecap="round"/>
<path d="M177.8,936.1 177.8,934.6 177.8,933.2 177.8,933.2 177.9,931.8 177.9,929.3 177.9,927.9 178.0,925.8 178.0,924.1 178.1,923.5 178.1,922.7 178.2,919.5 178.3,918.6 178.3,915.8 178.4,915.9 178.5,914.7 178.6,912.1 178.6,910.8 178.7,910.1 178.8,907.8 178.9,905.4 179.0,904.5 179.1,902.0 179.2,901.6 179.4,899.9 179.5,898.8 179.7,896.9 179.9,895.8 180.1,894.0 180.3,893.1 180.6,891.4 180.8,889.9 181.1,889.9 181.5,886.0 182.0,885.5 182.6,883.4 183.2,881.9 183.9,880.8 184.8,879.6 185.7,879.0 186.7,876.5 187.8,876.7 189.1,875.5 190.4,875.3 191.8,873.3 193.3,872.0 194.7,872.6 196.2,872.1 197.7,871.6 199.1,871.6 200.6,872.3 202.1,871.8 203.6,872.8 205.2,872.8 206.7,872.4 208.1,872.1 209.6,874.1 211.1,873.4 212.6,873.6 214.0,874.6 215.5,874.8 217.0,874.9 218.4,874.1 219.9,874.5 221.3,874.5 222.7,875.8 224.1,876.7 225.5,878.2 227.0,877.9 228.4,878.1 229.8,879.6 231.2,879.2 232.6,879.5 234.0,880.7 235.4,881.2 236.8,881.7 238.2,881.7 239.6,882.8 241.1,882.8 242.5,883.3 244.0,885.0 245.4,885.8 246.9,885.7 248.3,886.3 249.8,885.9 251.3,886.7 252.7,885.1 254.2,885.4 255.7,885.6 257.1,886.2 258.6,886.7 260.0,886.4 261.5,886.6 262.9,886.9 264.3,887.4 265.7,889.4 267.1,889.1 268.5,890.9 269.9,891.0 271.3,892.3 272.7,892.9 274.0,893.4 275.4,894.1 276.8,893.9 278.1,895.0 279.5,895.0 280.8,895.4 282.2,896.6 283.5,897.6 284.9,898.1 286.2,899.9 287.6,899.5 288.9,900.2 290.3,901.1 291.6,902.7 293.0,902.8 294.3,903.8 295.6,904.5 297.0,904.3 298.3,905.8 299.6,907.1 301.0,907.9 302.3,908.3 303.7,909.3 305.0,909.7 306.3,910.6 307.7,909.9 309.0,910.7 310.4,912.4 311.7,912.4 313.1,912.5 314.4,913.9 315.8,914.5 317.1,914.5 318.5,915.6 319.9,915.9 321.2,916.9 322.6,916.9 324.0,917.4 325.3,917.9 326.7,917.9 328.1,917.7 329.5,917.7 330.8,918.1 332.2,918.5 333.6,919.3 335.0,919.8 336.4,920.3 337.8,920.8 339.2,922.4 340.6,922.2 342.0,922.1 343.5,923.3 344.9,924.2 346.3,924.2 347.7,924.9 349.1,924.8 350.6,926.4 352.0,927.1 353.4,928.1 354.9,928.6 356.3,930.2 357.7,930.4 359.1,931.1 360.6,931.7 362.0,930.8 363.5,931.9 364.9,932.1 366.3,932.3 367.8,931.8 369.2,931.8 370.7,932.4 372.1,932.7 373.5,934.2 375.0,934.4 376.4,935.6 377.8,936.3 379.2,936.9 380.7,937.2 382.1,937.7 383.5,939.2 384.9,938.2 386.2,939.5 387.6,939.3 389.0,939.9 390.4,940.6 391.8,942.4 393.2,942.3 394.6,943.2 395.9,944.0 397.3,944.9 398.7,945.1 400.1,946.1 401.5,945.6 403.0,945.3 404.4,945.3 405.8,945.1 407.2,945.9 408.7,944.6 410.1,945.4 411.5,946.4 413.0,947.3 414.4,948.1 415.9,948.6 417.3,949.9 418.8,950.7 420.2,950.5 421.7,951.4 423.1,951.8 424.5,952.1 425.9,953.2 427.3,952.1 428.7,953.3 430.2,953.8 431.6,953.5 432.9,955.3 434.3,955.1 435.7,956.5 437.1,956.9 438.5,958.0 439.9,959.4 441.3,960.6 442.7,961.0 444.1,961.9 445.4,962.3 446.8,963.3 448.2,963.5 449.6,962.5 451.0,964.6 452.4,963.6 453.8,963.4 455.2,964.1 456.6,964.9 458.0,965.3 459.3,965.3 460.7,966.8 462.1,966.9 463.5,967.8 464.9,969.3 466.3,969.2 467.7,968.7 469.1,969.8 470.5,970.7 471.9,971.7 473.3,972.4 474.6,971.8 476.0,972.3 477.4,973.0 478.8,973.6 480.2,974.5 481.6,975.3 483.0,975.1 484.4,976.8 485.7,976.9 487.1,978.1 488.5,979.0 489.9,979.5 491.3,979.4 492.7,979.4 494.2,980.5 495.6,980.6 497.0,979.7 498.4,981.7 499.9,982.0 501.3,981.0 502.7,982.9 504.2,982.9 505.6,983.0 507.1,982.5 508.5,982.8 510.0,983.7 511.4,984.2 512.8,984.5 514.3,985.6 515.7,985.1 517.1,985.0 518.5,985.8 520.0,987.2 521.4,987.8 522.7,988.6 524.1,989.1 525.5,990.0 526.9,990.3 528.3,991.2 529.7,992.1 531.1,992.5 532.4,992.3 533.8,992.5 535.2,993.4 536.6,995.2 538.0,994.6 539.4,994.6 540.8,995.3 542.2,995.9 543.6,997.4 545.1,998.1 546.5,997.5 547.9,998.4 549.3,999.0 550.8,998.8 552.2,1000.4 553.7,1000.8 555.1,1001.3 556.5,1001.1 558.0,1001.5 559.4,1002.1 560.9,1001.9 562.3,1002.7 563.8,1002.8 565.2,1002.4 566.7,1002.7 568.1,1002.8 569.6,1004.3 571.0,1003.3 572.5,1003.6 573.9,1003.9 575.4,1004.7 576.8,1006.1 578.3,1006.5 579.8,1006.9 581.2,1006.0 582.7,1008.3 584.2,1008.0 585.7,1006.8 587.2,1007.8 588.7,1007.3 590.2,1009.0 591.7,1007.9 593.1,1007.6 594.6,1007.4 596.1,1009.0 597.5,1008.2 599.0,1008.6 600.4,1009.4 601.7,1009.9 603.1,1009.9 604.5,1011.9 605.8,1012.4 607.2,1014.2 608.5,1014.7 609.8,1016.1 611.2,1017.4 612.5,1017.8 613.9,1017.8 615.2,1017.6 616.6,1018.3 618.0,1017.6 619.4,1018.1 620.8,1018.1 622.3,1018.3 623.8,1018.9 625.3,1018.9 626.8,1019.0 628.3,1018.7 629.8,1018.7 631.3,1018.2 632.7,1019.5 634.1,1018.9 635.4,1019.7 636.8,1020.2 638.1,1020.1 639.4,1022.1 640.6,1022.4 641.9,1023.9 643.1,1025.4 644.4,1025.3 645.6,1026.7 646.8,1027.3 648.1,1028.6 649.3,1029.5 650.6,1030.2 651.9,1031.0 653.2,1031.8 654.5,1031.9 655.9,1032.1 657.3,1031.8 658.7,1031.2 660.2,1030.7 661.7,1031.5 663.2,1031.3 664.7,1031.9 666.2,1031.5 667.7,1031.8 669.2,1031.6 670.7,1031.3 672.2,1031.4 673.7,1030.0 675.2,1031.7 676.7,1031.2 678.2,1032.1 679.7,1032.5 681.2,1032.0 682.7,1032.4 684.2,1033.2 685.7,1033.5 687.2,1034.0 688.7,1033.3 690.2,1033.7 691.6,1034.6 693.1,1033.6 694.5,1034.4 696.0,1033.9 697.4,1033.6 698.8,1034.7 700.2,1035.3 701.6,1035.3 703.0,1037.6 704.4,1037.9 705.8,1038.5 707.2,1037.8 708.6,1038.7 710.0,1039.4 711.4,1040.3 712.8,1041.2 714.2,1041.9 715.6,1042.3 716.9,1041.9 718.3,1043.5 719.7,1042.7 721.1,1043.2 722.6,1044.1 724.0,1045.7 725.4,1044.3 726.8,1046.9 728.3,1046.7 729.7,1047.0 731.1,1046.5 732.6,1047.9 734.1,1047.9 735.5,1048.4 737.0,1048.3 738.5,1049.1 740.0,1048.9 741.4,1049.8 742.9,1050.8 744.4,1051.6 745.9,1050.7 747.4,1052.0 748.8,1052.0 750.3,1052.8 751.8,1051.8 753.3,1052.1 754.7,1052.9 756.2,1053.8 757.7,1054.4 759.1,1053.3 760.6,1055.1 762.1,1056.1 763.5,1055.5 765.0,1056.4 766.5,1055.7 768.0,1056.4 769.4,1055.8 770.9,1056.0 772.4,1055.4 773.8,1056.9 775.3,1057.7 776.8,1056.8 778.2,1057.8 779.7,1058.0 781.2,1058.7 782.6,1059.3 784.1,1059.7 785.6,1059.8 787.0,1060.1 788.5,1060.4 790.0,1061.3 791.5,1060.8 792.9,1061.1 794.4,1060.8 795.9,1061.2 797.4,1061.9 798.8,1062.2 800.3,1062.6 801.8,1062.3 803.3,1062.7 804.8,1062.7 806.2,1063.2 807.7,1063.5 809.2,1064.2 810.7,1064.4 812.2,1064.1 813.7,1064.9 815.2,1064.7 816.6,1065.2 818.1,1063.2 819.6,1064.0 821.1,1064.2 822.6,1065.5 824.1,1065.4 825.6,1066.0 827.1,1066.3 828.6,1066.5 830.0,1067.0 831.5,1067.4 833.0,1066.5 834.5,1067.3 836.0,1067.2 837.5,1067.5 838.9,1067.5 840.4,1067.3 841.9,1067.8 843.4,1067.7 844.8,1068.5 846.3,1069.6 847.8,1069.2 849.2,1070.7 850.7,1069.5 852.1,1071.1 853.6,1070.7 855.1,1071.9 856.5,1071.4 858.0,1072.6 859.4,1073.7 860.8,1072.9 862.3,1074.1 863.7,1074.4 865.2,1073.3 866.6,1074.2 868.1,1074.1 869.5,1073.8 870.9,1074.8 872.4,1075.1 873.8,1075.2 875.2,1075.0 876.7,1075.6 878.1,1075.9 879.6,1076.4 881.0,1077.2 882.4,1077.1 883.9,1077.7 885.3,1079.4 886.8,1079.7 888.2,1079.4 889.7,1081.0 891.1,1081.5 892.6,1081.7 894.0,1081.6 895.5,1081.0 897.0,1081.3 898.4,1082.0 899.9,1082.2 901.4,1081.9 902.8,1082.7 904.3,1083.0 905.8,1082.5 907.2,1083.3 908.7,1085.0 910.2,1083.8 911.6,1084.8 913.1,1084.7 914.6,1085.5 916.1,1086.1 917.5,1086.2 919.0,1087.3 920.5,1088.0 922.0,1088.0 923.5,1087.1 924.9,1088.4 926.4,1088.8 927.9,1089.5 929.4,1090.4 930.9,1089.8 932.4,1091.0 933.8,1090.6 935.3,1091.3 936.8,1091.0 938.3,1090.9 939.8,1091.1 941.3,1091.2 942.8,1089.7 944.3,1090.2 945.8,1088.8 947.3,1089.6 948.8,1090.3 950.3,1088.9 951.8,1089.2 953.3,1088.9 954.8,1089.0 956.4,1089.5 957.9,1089.6 959.4,1088.9 960.9,1088.9 962.4,1089.5 963.8,1090.1 965.3,1090.0 966.8,1090.5 968.2,1090.4 969.6,1090.1 971.0,1090.8 972.4,1090.5 973.8,1092.1 975.1,1092.0 976.5,1092.7 977.9,1093.8 979.3,1095.2 980.8,1095.7 982.2,1095.9 983.6,1098.4 985.1,1097.9 986.5,1097.5 988.0,1097.6 989.4,1098.5 990.9,1097.8 992.3,1098.4 993.8,1098.2 995.3,1099.1 996.7,1099.8 998.2,1099.2 999.7,1101.0 1001.2,1099.8 1002.7,1100.3 1004.2,1100.9 1005.7,1100.2 1007.2,1100.3 1008.7,1099.2 1010.0,1099.4 1011.2,1100.3" fill="none" stroke="#1eea1e" stroke-width="4" stroke-linejoin="round" stroke-linecap="round"/>
<path d="M177.8,937.2 177.8,935.3 177.8,933.7 177.8,932.5 177.9,931.2 177.9,929.3 177.9,927.1 178.0,925.4 178.0,924.9 178.1,923.1 178.1,922.0 178.2,920.8 178.3,918.9 178.3,917.6 178.4,915.2 178.5,913.8 178.6,912.6 178.6,910.5 178.7,909.1 178.8,908.2 178.9,906.4 179.0,905.1 179.1,904.9 179.2,902.1 179.4,901.5 179.5,900.1 179.7,898.7 179.9,897.4 180.1,895.6 180.3,893.7 180.6,891.0 180.8,889.6 181.1,888.8 181.5,885.8 182.0,886.1 182.6,884.8 183.2,883.9 183.9,882.0 184.8,881.8 185.7,879.6 186.7,879.2 187.8,878.8 189.1,878.8 190.4,877.0 191.8,876.6 193.3,876.1 194.7,874.5 196.2,874.2 197.7,873.1 199.1,874.8 200.6,873.8 202.1,872.8 203.7,872.5 205.2,872.8 206.7,873.8 208.1,872.6 209.6,873.0 211.1,873.0 212.6,874.6 214.1,875.0 215.5,874.6 217.0,874.8 218.4,876.0 219.9,876.8 221.3,877.0 222.7,877.1 224.1,877.4 225.5,878.3 227.0,877.5 228.4,878.5 229.8,879.1 231.2,879.7 232.6,880.2 234.0,881.0 235.4,882.4 236.8,883.2 238.2,883.5 239.6,884.0 241.1,884.4 242.5,884.9 244.0,884.9 245.4,885.3 246.9,884.9 248.3,885.9 249.8,886.2 251.3,887.5 252.8,888.7 254.2,888.4 255.7,890.4 257.2,889.7 258.6,890.6 260.1,890.9 261.5,891.2 262.9,891.8 264.3,892.2 265.8,892.2 267.2,892.1 268.5,892.9 269.9,892.9 271.3,893.3 272.7,893.8 274.0,895.0 275.4,894.8 276.8,895.2 278.1,895.9 279.5,896.8 280.8,897.8 282.2,898.4 283.5,897.5 284.9,899.6 286.2,900.1 287.6,901.1 288.9,902.1 290.3,901.7 291.6,903.3 293.0,903.2 294.3,905.1 295.7,904.2 297.0,904.5 298.3,904.9 299.7,905.9 301.0,907.3 302.3,907.6 303.7,908.7 305.0,909.1 306.3,910.4 307.7,909.9 309.0,911.4 310.4,911.4 311.7,913.1 313.1,912.4 314.4,913.6 315.8,913.1 317.2,914.4 318.5,914.9 319.9,915.2 321.2,915.6 322.6,916.5 324.0,916.9 325.3,917.3 326.7,919.1 328.1,918.6 329.5,918.7 330.8,919.7 332.2,921.0 333.6,920.3 335.0,921.9 336.4,921.1 337.8,922.9 339.2,923.6 340.7,924.7 342.1,925.8 343.5,926.3 344.9,925.7 346.3,927.5 347.8,927.5 349.2,928.1 350.6,928.2 352.0,928.5 353.5,929.5 354.9,929.7 356.3,929.6 357.7,929.6 359.1,930.4 360.5,931.3 362.0,931.7 363.4,933.2 364.8,933.1 366.2,933.5 367.6,934.7 369.0,934.7 370.5,934.2 371.9,935.1 373.3,935.6 374.7,936.1 376.1,934.7 377.5,936.0 378.9,936.2 380.3,936.8 381.7,936.9 383.0,938.4 384.4,938.9 385.8,939.1 387.2,940.3 388.5,942.7 389.9,942.1 391.3,942.9 392.6,944.5 394.0,945.9 395.4,946.1 396.7,946.1 398.1,947.1 399.5,947.1 400.8,947.9 402.2,949.1 403.6,948.5 404.9,949.9 406.3,950.1 407.7,950.9 409.0,952.0 410.4,953.7 411.8,955.2 413.1,955.7 414.5,955.1 415.8,956.2 417.2,956.2 418.6,957.2 419.9,956.8 421.3,957.1 422.7,957.9 424.1,958.6 425.4,958.3 426.8,959.4 428.2,959.3 429.6,961.3 431.0,960.9 432.4,962.2 433.8,963.6 435.2,964.4 436.6,964.5 438.0,965.3 439.4,965.1 440.8,964.3 442.2,965.0 443.6,966.1 444.9,966.8 446.3,966.0 447.7,967.3 449.1,968.1 450.4,968.0 451.8,969.5 453.2,970.3 454.5,970.9 455.9,971.1 457.2,971.3 458.6,972.7 459.9,972.5 461.3,973.0 462.6,974.2 463.9,974.7 465.3,975.8 466.6,976.0 467.9,977.5 469.3,977.4 470.6,977.3 471.9,977.8 473.2,978.3 474.5,979.8 475.8,980.5 477.1,982.0 478.3,982.7 479.6,984.1 480.9,985.2 482.1,985.7 483.4,988.1 484.7,987.9 485.9,988.8 487.2,989.7 488.5,989.8 489.8,991.9 491.1,992.0 492.4,993.5 493.7,994.6 495.0,994.8 496.4,996.0 497.8,996.3 499.1,996.0 500.5,997.0 501.9,996.4 503.3,997.3 504.8,996.8 506.2,997.6 507.6,997.7 509.1,999.1 510.5,999.6 511.9,999.8 513.4,999.8 514.8,999.7 516.3,1001.7 517.7,1001.3 519.1,1001.2 520.6,1002.3 522.0,1002.6 523.5,1003.3 524.9,1002.5 526.4,1003.8 527.9,1004.6 529.3,1005.2 530.8,1005.0 532.3,1004.9 533.7,1005.3 535.2,1005.1 536.6,1004.3 538.1,1005.7 539.5,1005.4 541.0,1007.5 542.4,1007.3 543.8,1008.6 545.2,1009.5 546.6,1009.3 548.0,1010.0 549.4,1011.4 550.8,1011.7 552.1,1011.7 553.5,1012.3 554.9,1013.5 556.3,1014.6 557.7,1014.5 559.1,1014.8 560.5,1015.4 561.9,1015.1 563.3,1016.5 564.7,1017.1 566.1,1016.5 567.5,1017.5 568.9,1018.0 570.3,1018.5 571.8,1018.5 573.2,1018.6 574.6,1019.6 576.1,1018.9 577.5,1020.2 578.9,1020.0 580.3,1020.8 581.8,1021.5 583.2,1021.8 584.6,1023.2 586.0,1022.9 587.4,1024.4 588.8,1024.2 590.2,1025.8 591.6,1025.4 593.0,1026.4 594.4,1025.7 595.8,1027.5 597.2,1026.6 598.5,1027.2 599.9,1028.1 601.3,1030.3 602.7,1031.2 604.1,1031.9 605.5,1032.5 606.8,1033.6 608.2,1034.7 609.6,1034.5 611.0,1034.2 612.4,1036.0 613.8,1035.9 615.2,1036.5 616.6,1036.3 618.0,1036.8 619.4,1037.9 620.8,1037.9 622.3,1039.5 623.7,1039.4 625.1,1040.9 626.6,1040.9 628.0,1040.7 629.4,1041.6 630.9,1042.0 632.3,1040.6 633.8,1042.1 635.2,1042.1 636.7,1040.9 638.1,1041.9 639.6,1042.5 641.0,1043.4 642.5,1043.2 644.0,1043.2 645.4,1043.0 646.9,1044.0 648.3,1044.8 649.8,1044.8 651.2,1045.3 652.7,1046.4 654.1,1046.6 655.6,1047.1 657.1,1047.2 658.5,1048.1 660.0,1047.4 661.4,1047.7 662.9,1050.2 664.3,1049.7 665.8,1049.1 667.2,1049.1 668.7,1051.4 670.1,1050.5 671.6,1051.2 673.0,1053.1 674.5,1051.8 675.9,1051.7 677.4,1053.7 678.8,1053.6 680.3,1055.9 681.7,1054.8 683.2,1055.4 684.6,1055.9 686.1,1056.4 687.5,1056.7 689.0,1056.9 690.4,1057.7 691.9,1057.3 693.3,1057.4 694.7,1058.3 696.2,1058.3 697.6,1059.3 699.1,1059.6 700.5,1060.0 702.0,1060.6 703.4,1059.1 704.9,1059.8 706.3,1060.8 707.8,1061.4 709.2,1062.4 710.7,1062.1 712.1,1062.5 713.6,1064.1 715.0,1064.6 716.5,1064.2 717.9,1065.2 719.4,1065.3 720.8,1066.5 722.3,1066.9 723.7,1067.2 725.2,1067.2 726.6,1067.6 728.1,1068.5 729.5,1067.4 731.0,1067.5 732.4,1068.4 733.9,1068.3 735.3,1068.0 736.8,1067.6 738.2,1067.7 739.7,1068.9 741.1,1069.1 742.6,1069.5 744.0,1070.8 745.5,1071.4 746.9,1070.6 748.4,1074.0 749.8,1073.3 751.3,1073.6 752.7,1074.2 754.2,1075.4 755.6,1075.4 757.1,1075.3 758.5,1075.4 760.0,1076.1 761.4,1077.2 762.9,1076.8 764.4,1077.4 765.8,1077.4 767.3,1078.1 768.8,1078.4 770.2,1079.1 771.7,1079.4 773.2,1078.5 774.6,1078.7 776.1,1079.7 777.6,1079.0 779.1,1080.1 780.5,1079.7 782.0,1079.5 783.5,1079.2 785.0,1079.4 786.5,1079.4 788.0,1081.1 789.5,1080.4 791.0,1080.8 792.5,1080.2 794.0,1080.3 795.5,1080.2 797.0,1080.8 798.5,1080.6 800.0,1080.6 801.5,1080.6 803.0,1080.5 804.5,1080.9 806.0,1082.1 807.5,1081.4 809.0,1082.4 810.5,1080.7 812.0,1081.8 813.5,1082.2 814.9,1080.7 816.4,1081.0 817.9,1082.0 819.4,1082.4 820.9,1082.8 822.4,1082.7 823.8,1083.7 825.3,1084.4 826.8,1083.2 828.3,1084.2 829.7,1085.0 831.2,1085.0 832.6,1085.3 834.1,1085.9 835.6,1085.2 837.0,1086.2 838.5,1087.5 839.9,1087.4 841.4,1087.5 842.8,1087.9 844.3,1088.9 845.7,1089.0 847.2,1089.3 848.6,1088.7 850.1,1089.2 851.5,1089.4 853.0,1089.6 854.4,1090.3 855.9,1090.7 857.3,1091.4 858.8,1091.2 860.2,1091.5 861.7,1093.0 863.1,1093.1 864.6,1093.6 866.0,1093.8 867.5,1093.9 868.9,1094.9 870.4,1094.7 871.9,1095.3 873.3,1095.8 874.8,1096.8 876.2,1096.2 877.7,1096.3 879.2,1096.9 880.6,1097.5 882.1,1096.7 883.6,1097.2 885.0,1097.6 886.5,1096.9 888.0,1097.0 889.5,1098.2 890.9,1097.8 892.4,1097.8 893.9,1098.8 895.3,1100.0 896.8,1100.3 898.3,1100.1 899.8,1101.7 901.2,1101.3 902.7,1102.2 904.2,1101.7 905.6,1102.8 907.1,1103.7 908.6,1102.3 910.1,1102.1 911.5,1102.6 913.0,1103.0 914.5,1103.4 916.0,1103.0 917.5,1103.3 918.9,1103.3 920.4,1103.1 921.9,1104.6 923.4,1104.3 924.8,1105.7 926.3,1104.8 927.8,1105.2 929.3,1106.2 930.8,1106.7 932.2,1107.2 933.7,1107.4 935.2,1107.5 936.7,1106.4 938.2,1108.5 939.7,1107.6 941.1,1107.2 942.6,1108.0 944.1,1107.6 945.6,1109.3 947.1,1109.4 948.6,1110.0 950.1,1110.0 951.5,1111.1 953.0,1111.2 954.5,1110.7 956.0,1111.0 957.5,1111.2 959.0,1110.2 960.5,1111.3 961.9,1110.3 963.4,1110.8 964.9,1110.9 966.4,1110.2 967.9,1111.3 969.3,1110.8 970.8,1112.0 972.3,1111.7 973.8,1112.4 975.3,1111.8 976.8,1111.6 978.2,1112.4 979.7,1111.3 981.2,1112.1 982.7,1112.5 984.2,1113.3 985.6,1113.6 987.1,1113.6 988.6,1113.5 990.1,1113.7 991.6,1113.9 993.1,1115.2 994.5,1114.5 996.0,1115.7 997.5,1117.0 999.0,1117.4 1000.5,1118.1 1001.9,1118.0 1003.4,1117.3 1004.9,1117.8 1006.4,1116.1 1007.8,1117.4 1009.3,1117.8 1010.5,1117.3 1011.6,1117.7" fill="none" stroke="#1eea1e" stroke-width="4" stroke-linejoin="round" stroke-linecap="round"/>
<path d="M177.8,966.2 178.4,963.3 178.8,961.2 179.3,959.3 179.9,957.9 180.4,956.8 181.0,956.6 181.5,954.6 182.1,954.3 182.7,954.3 183.4,954.8 184.0,956.6 184.7,957.2 185.4,958.9 186.1,961.1 186.8,962.4 187.5,963.9 188.1,965.2 188.8,966.7 189.4,968.0 190.1,969.7 190.7,971.2 191.4,972.1 192.0,973.4 192.6,975.0 193.3,976.3 193.9,978.0 194.5,979.4 195.2,980.2 195.8,981.5 196.5,982.6 197.1,984.1 197.7,986.0 198.4,987.3 199.0,987.4 199.6,989.8 200.3,990.9 200.9,992.5 201.6,994.2 202.2,994.8 202.9,996.0 203.5,997.9 204.2,999.1 204.9,1000.9 205.6,1001.6 206.3,1002.8 207.0,1004.3 207.7,1005.3 208.4,1007.0 209.1,1008.6 209.9,1009.5 210.6,1010.3 211.4,1012.0 212.1,1014.0 212.9,1015.4 213.6,1016.7 214.4,1017.5 215.2,1018.4 215.9,1020.1 216.7,1021.7 217.5,1022.8 218.3,1023.6 219.1,1025.5 219.9,1026.8 220.7,1026.9 221.5,1028.6 222.3,1030.7 223.1,1031.8 224.0,1032.9 224.8,1034.3 225.7,1035.2 226.6,1036.3 227.5,1037.9 228.4,1038.2 229.4,1039.6 230.3,1041.9 231.3,1042.1 232.3,1043.8 233.3,1044.9 234.4,1045.9 235.4,1046.8 236.4,1046.8 237.4,1049.3 238.5,1050.2 239.5,1051.5 240.5,1052.6 241.5,1054.4 242.5,1054.1 243.5,1055.7 244.6,1057.8 245.6,1057.6 246.6,1059.4 247.7,1060.3 248.8,1061.1 249.8,1061.4 251.0,1063.0 252.1,1063.7 253.2,1064.6 254.4,1065.5 255.7,1066.3 256.9,1067.5 258.2,1067.5 259.5,1068.7 260.8,1069.4 262.2,1069.7 263.5,1070.7 264.9,1071.5 266.2,1072.0 267.6,1072.2 268.9,1073.7 270.2,1074.3 271.5,1075.2 272.8,1075.2 274.1,1077.1 275.4,1077.0 276.7,1078.4 277.9,1078.9 279.2,1079.2 280.5,1080.4 281.8,1082.0 283.1,1082.6 284.3,1083.4 285.6,1083.8 286.9,1084.6 288.2,1084.6 289.5,1086.5 290.8,1087.2 292.1,1087.4 293.4,1088.3 294.7,1088.9 295.9,1090.1 297.2,1090.9 298.5,1092.1 299.8,1092.4 301.1,1093.1 302.3,1094.1 303.6,1094.6 304.8,1095.5 306.1,1096.4 307.3,1097.8 308.6,1098.6 309.8,1099.0 311.1,1100.1 312.3,1100.6 313.6,1101.1 314.9,1101.6 316.2,1102.9 317.5,1103.5 318.8,1104.1 320.2,1104.6 321.5,1105.6 322.9,1105.7 324.2,1107.0 325.6,1107.3 326.9,1108.0 328.3,1108.7 329.7,1108.3 331.1,1109.9 332.4,1111.4 333.8,1110.5 335.2,1112.1 336.6,1112.0 337.9,1113.3 339.3,1113.2 340.7,1113.9 342.1,1114.2 343.4,1115.7 344.8,1116.1 346.2,1115.6 347.6,1117.1 348.9,1117.6 350.3,1118.1 351.7,1119.2 353.1,1119.4 354.5,1120.2 355.8,1120.8 357.2,1121.5 358.6,1121.8 360.0,1123.2 361.4,1122.2 362.8,1122.8 364.2,1123.5 365.6,1124.4 367.0,1125.6 368.4,1125.7 369.9,1126.1 371.3,1126.7 372.7,1127.2 374.1,1127.0 375.6,1127.7 377.0,1128.0 378.5,1128.6 379.9,1129.0 381.4,1129.3 382.8,1130.0 384.3,1129.3 385.7,1131.5 387.2,1131.3 388.6,1130.8 390.1,1131.0 391.5,1132.5 393.0,1132.6 394.5,1132.7 395.9,1132.9 397.4,1133.3 398.9,1133.2 400.3,1133.4 401.8,1133.7 403.2,1134.3 404.7,1134.5 406.2,1135.6 407.6,1135.5 409.1,1136.3 410.5,1136.0 412.0,1135.8 413.5,1136.7 414.9,1137.4 416.4,1137.0 417.9,1137.4 419.4,1138.3 420.8,1138.7 422.3,1138.5 423.8,1139.1 425.2,1139.4 426.7,1140.0 428.2,1139.4 429.7,1140.5 431.1,1140.8 432.6,1141.2 434.1,1141.6 435.5,1141.1 437.0,1141.9 438.5,1141.9 440.0,1142.8 441.4,1142.4 442.9,1142.4 444.4,1142.9 445.9,1142.9 447.3,1143.8 448.8,1143.5 450.3,1144.0 451.8,1144.7 453.2,1144.5 454.7,1144.7 456.2,1144.9 457.7,1145.6 459.1,1145.1 460.6,1146.5 462.1,1146.1 463.6,1146.2 465.1,1147.5 466.5,1146.9 468.0,1147.6 469.5,1147.9 471.0,1147.7 472.5,1147.7 473.9,1148.2 475.4,1148.3 476.9,1149.1 478.4,1148.7 479.8,1149.1 481.3,1149.5 482.8,1149.4 484.3,1150.8 485.8,1149.9 487.2,1150.3 488.7,1151.1 490.2,1151.7 491.7,1150.8 493.2,1151.8 494.6,1151.6 496.1,1152.3 497.6,1152.8 499.1,1152.6 500.5,1153.1 502.0,1152.8 503.5,1153.3 505.0,1154.2 506.4,1154.3 507.9,1154.8 509.4,1154.9 510.9,1155.0 512.3,1155.4 513.8,1154.9 515.3,1155.7 516.8,1155.8 518.2,1157.0 519.7,1156.0 521.2,1156.6 522.7,1156.9 524.1,1157.0 525.6,1157.3 527.1,1157.6 528.6,1158.2 530.1,1158.7 531.5,1158.7 533.0,1158.7 534.5,1158.8 536.0,1159.1 537.5,1160.0 538.9,1160.3 540.4,1159.4 541.9,1159.7 543.4,1159.8 544.9,1160.2 546.4,1160.3 547.9,1161.4 549.4,1161.8 550.9,1161.2 552.4,1160.7 553.9,1162.0 555.3,1160.7 556.8,1161.7 558.3,1161.3 559.8,1161.7 561.3,1161.6 562.8,1162.0 564.3,1162.5 565.8,1161.6 567.3,1161.7 568.8,1161.9 570.3,1162.0 571.8,1163.4 573.3,1162.8 574.8,1162.7 576.3,1163.2 577.8,1162.2 579.3,1163.2 580.8,1162.2 582.3,1163.3 583.8,1163.1 585.3,1163.4 586.8,1163.1 588.3,1164.4 589.8,1163.9 591.2,1165.0 592.7,1163.8 594.2,1164.2 595.7,1165.4 597.2,1164.7 598.7,1165.2 600.2,1164.8 601.7,1165.1 603.2,1165.6 604.6,1165.4 606.1,1166.0 607.6,1166.6 609.1,1166.1 610.6,1166.5 612.1,1167.0 613.6,1167.2 615.1,1166.9 616.6,1167.7 618.0,1167.8 619.5,1167.1 621.0,1167.7 622.5,1168.3 624.0,1167.8 625.5,1168.2 627.0,1168.6 628.5,1168.6 629.9,1169.0 631.4,1170.0 632.9,1169.5 634.4,1169.5 635.9,1169.4 637.4,1170.5 638.9,1170.6 640.4,1170.0 641.8,1170.6 643.3,1170.2 644.8,1172.0 646.3,1171.1 647.8,1171.6 649.3,1171.2 650.8,1171.8 652.3,1171.9 653.7,1172.7 655.2,1172.8 656.7,1172.7 658.2,1173.0 659.7,1173.5 661.2,1172.6 662.7,1173.6 664.2,1173.6 665.6,1173.6 667.1,1173.9 668.6,1173.9 670.1,1174.2 671.6,1174.7 673.1,1174.5 674.6,1174.3 676.1,1174.9 677.6,1175.3 679.1,1175.2 680.5,1174.5 682.0,1174.9 683.5,1176.1 685.0,1175.8 686.5,1175.8 688.0,1175.7 689.5,1176.4 691.0,1176.7 692.5,1176.4 694.0,1176.6 695.5,1176.9 697.0,1176.9 698.5,1177.0 700.0,1177.5 701.5,1176.4 703.0,1176.9 704.5,1177.0 706.0,1176.8 707.5,1177.5 709.0,1178.1 710.4,1177.3 711.9,1177.9 713.4,1178.2 714.9,1177.4 716.4,1178.0 717.9,1177.9 719.4,1178.8 720.9,1178.4 722.4,1178.7 723.9,1179.1 725.4,1179.5 726.9,1178.8 728.4,1178.9 729.9,1178.9 731.4,1179.0 732.9,1179.1 734.4,1178.7 735.9,1179.0 737.4,1179.4 738.9,1180.1 740.4,1179.6 741.9,1179.4 743.4,1180.1 744.9,1180.4 746.4,1180.3 747.9,1179.8 749.3,1180.2 750.8,1180.8 752.3,1181.1 753.8,1180.6 755.3,1180.7 756.8,1181.2 758.3,1181.3 759.8,1181.2 761.3,1181.7 762.8,1181.7 764.3,1181.2 765.8,1181.5 767.3,1181.9 768.8,1181.3 770.3,1182.3 771.8,1182.0 773.3,1183.4 774.8,1182.4 776.3,1182.3 777.8,1182.7 779.3,1183.2 780.8,1183.0 782.3,1182.6 783.7,1183.1 785.2,1183.0 786.7,1183.3 788.2,1183.4 789.7,1183.4 791.2,1184.1 792.7,1183.5 794.2,1183.7 795.7,1184.3 797.2,1184.7 798.7,1184.1 800.2,1184.4 801.7,1185.3 803.2,1184.5 804.7,1185.4 806.2,1184.7 807.7,1185.1 809.2,1184.8 810.7,1185.0 812.2,1185.7 813.7,1185.1 815.2,1185.5 816.7,1185.9 818.2,1185.7 819.6,1185.3 821.1,1186.4 822.6,1186.2 824.1,1186.6 825.6,1185.7 827.1,1185.8 828.6,1186.4 830.1,1186.4 831.6,1187.2 833.1,1187.5 834.6,1186.8 836.1,1187.3 837.6,1187.4 839.1,1187.4 840.6,1187.9 842.1,1187.2 843.6,1188.0 845.1,1187.5 846.6,1187.5 848.1,1188.2 849.6,1188.1 851.1,1188.2 852.6,1188.6 854.0,1188.8 855.5,1188.9 857.0,1187.9 858.5,1188.6 860.0,1188.7 861.5,1188.9 863.0,1189.4 864.5,1189.1 866.0,1189.7 867.5,1189.3 869.0,1190.5 870.5,1189.3 872.0,1189.9 873.5,1190.1 875.0,1190.0 876.5,1190.5 878.0,1190.5 879.5,1190.2 881.0,1190.8 882.5,1190.0 884.0,1190.7 885.5,1191.0 887.0,1192.0 888.5,1191.5 889.9,1191.5 891.4,1191.8 892.9,1191.7 894.4,1191.5 895.9,1191.7 897.4,1191.7 898.9,1192.7 900.4,1192.2 901.9,1192.3 903.4,1192.4 904.9,1192.4 906.4,1192.3 907.9,1193.2 909.4,1192.7 910.9,1192.8 912.4,1193.0 913.9,1192.3 915.4,1192.6 916.9,1193.0 918.4,1192.8 919.9,1192.8 921.4,1193.9 922.9,1192.9 924.4,1193.8 925.9,1193.1 927.4,1193.6 928.9,1193.4 930.4,1193.5 931.8,1193.9 933.3,1193.4 934.8,1194.2 936.3,1194.7 937.8,1194.6 939.3,1194.7 940.8,1194.5 942.3,1195.0 943.8,1194.9 945.3,1195.6 946.8,1194.1 948.3,1195.0 949.8,1194.8 951.3,1194.9 952.8,1194.4 954.3,1195.1 955.8,1195.4 957.3,1195.5 958.8,1195.6 960.3,1194.5 961.8,1195.4 963.3,1195.7 964.8,1196.0 966.3,1195.8 967.8,1196.2 969.3,1195.8 970.8,1196.0 972.3,1195.2 973.8,1195.7 975.3,1195.7 976.8,1196.0 978.3,1196.5 979.8,1195.9 981.3,1196.3 982.8,1195.8 984.3,1196.4 985.8,1196.1 987.3,1196.0 988.8,1196.3 990.3,1196.3 991.8,1196.2 993.3,1196.2 994.8,1196.9 996.3,1196.7 997.8,1197.3 999.3,1196.4 1000.8,1196.6 1002.3,1197.1 1003.8,1196.6 1005.3,1196.2 1006.8,1197.0 1008.3,1197.7 1009.7,1196.6 1010.9,1196.5 1012.8,1197.1" fill="none" stroke="#1cae1c" stroke-width="4" stroke-linejoin="round" stroke-linecap="round"/>
<path d="M177.8,966.1 179.1,964.6 179.9,964.4 180.8,964.3 181.6,964.8 182.3,965.6 183.0,965.8 183.7,967.6 184.3,969.4 184.9,971.6 185.5,972.3 186.0,974.0 186.6,976.0 187.2,977.6 187.8,978.9 188.4,980.2 189.0,981.6 189.6,984.3 190.3,984.0 190.9,985.8 191.5,987.2 192.1,988.6 192.7,989.9 193.3,991.7 194.0,992.8 194.6,993.1 195.2,995.5 195.8,997.4 196.4,998.6 197.0,998.8 197.6,1001.5 198.2,1002.5 198.9,1003.3 199.5,1005.4 200.1,1006.4 200.7,1007.8 201.3,1009.3 201.9,1009.9 202.5,1011.9 203.1,1012.9 203.7,1015.2 204.3,1014.8 204.9,1017.3 205.5,1018.5 206.2,1020.2 206.9,1021.7 207.6,1023.2 208.3,1023.9 209.0,1025.5 209.8,1026.3 210.6,1028.2 211.4,1029.8 212.3,1030.0 213.1,1031.2 214.0,1032.9 214.8,1034.5 215.7,1035.5 216.6,1036.0 217.5,1037.2 218.4,1039.1 219.3,1040.9 220.2,1041.0 221.2,1042.3 222.1,1043.3 223.1,1044.7 224.0,1046.5 225.0,1047.0 225.9,1047.4 226.9,1049.2 227.9,1050.1 228.9,1051.9 229.9,1053.1 230.9,1053.7 232.0,1054.9 233.0,1056.7 234.0,1057.6 235.1,1058.3 236.1,1058.7 237.2,1060.4 238.3,1061.5 239.3,1062.6 240.4,1062.9 241.5,1063.6 242.5,1066.1 243.6,1067.9 244.6,1067.2 245.6,1069.1 246.7,1070.3 247.7,1071.3 248.7,1072.6 249.8,1073.4 250.9,1074.9 252.0,1074.8 253.1,1076.2 254.3,1077.7 255.5,1077.4 256.8,1078.8 258.1,1078.9 259.4,1080.4 260.8,1080.6 262.2,1080.8 263.5,1082.4 264.9,1081.9 266.3,1083.3 267.7,1084.0 269.0,1084.5 270.4,1085.1 271.7,1085.7 273.1,1086.5 274.4,1086.8 275.8,1087.5 277.1,1088.8 278.5,1089.0 279.8,1090.5 281.1,1090.6 282.5,1091.0 283.8,1092.0 285.1,1092.1 286.5,1093.3 287.8,1093.6 289.1,1095.1 290.4,1096.3 291.7,1096.3 293.0,1096.8 294.3,1097.7 295.6,1098.4 296.9,1099.3 298.3,1100.1 299.6,1101.0 300.9,1101.5 302.3,1102.2 303.6,1102.6 305.0,1102.5 306.4,1103.7 307.7,1104.4 309.1,1104.8 310.5,1104.8 311.9,1105.7 313.2,1107.2 314.6,1107.1 316.0,1108.3 317.4,1108.6 318.8,1109.3 320.2,1109.9 321.6,1110.6 322.9,1110.5 324.3,1111.3 325.7,1111.9 327.1,1112.8 328.5,1112.5 329.9,1114.0 331.3,1114.4 332.7,1115.0 334.1,1114.9 335.5,1116.3 336.9,1116.9 338.3,1116.5 339.7,1117.9 341.0,1118.2 342.4,1118.4 343.8,1119.5 345.2,1119.9 346.5,1120.6 347.9,1120.6 349.2,1121.1 350.6,1121.9 352.0,1122.9 353.3,1123.8 354.7,1123.9 356.0,1124.8 357.4,1126.2 358.8,1126.5 360.2,1127.0 361.5,1126.9 362.9,1127.9 364.3,1128.4 365.7,1129.1 367.1,1129.6 368.5,1130.4 369.9,1130.9 371.3,1130.8 372.8,1131.3 374.2,1132.2 375.6,1132.0 377.1,1133.1 378.5,1134.0 379.9,1133.4 381.4,1134.4 382.8,1133.5 384.3,1135.2 385.7,1134.8 387.2,1135.0 388.7,1135.2 390.1,1135.8 391.6,1136.2 393.0,1137.3 394.5,1137.6 396.0,1137.2 397.4,1137.5 398.9,1137.6 400.4,1138.7 401.8,1139.2 403.3,1139.7 404.7,1139.5 406.2,1139.1 407.7,1140.1 409.1,1141.0 410.6,1140.6 412.1,1141.4 413.5,1142.3 415.0,1142.1 416.5,1142.4 417.9,1142.8 419.4,1143.0 420.9,1142.9 422.3,1144.2 423.8,1143.4 425.3,1144.4 426.8,1144.4 428.2,1144.7 429.7,1144.8 431.2,1145.4 432.6,1145.4 434.1,1145.6 435.6,1145.8 437.1,1146.3 438.5,1146.3 440.0,1146.7 441.5,1146.9 443.0,1147.6 444.4,1148.5 445.9,1147.3 447.4,1148.2 448.9,1148.6 450.3,1148.9 451.8,1148.3 453.3,1149.6 454.8,1150.0 456.2,1149.5 457.7,1149.9 459.2,1151.3 460.7,1151.5 462.1,1151.4 463.6,1151.0 465.1,1151.3 466.6,1152.0 468.0,1152.2 469.5,1151.8 471.0,1152.8 472.5,1153.3 473.9,1152.9 475.4,1153.7 476.9,1154.0 478.4,1154.0 479.8,1154.7 481.3,1154.5 482.8,1154.8 484.3,1155.5 485.8,1155.3 487.2,1155.5 488.7,1155.6 490.2,1155.7 491.7,1155.4 493.2,1156.6 494.6,1156.7 496.1,1156.2 497.6,1156.4 499.1,1157.2 500.6,1157.8 502.1,1157.3 503.6,1158.4 505.0,1157.9 506.5,1158.8 508.0,1158.6 509.5,1159.0 511.0,1158.6 512.5,1159.2 514.0,1159.1 515.4,1159.4 516.9,1160.0 518.4,1160.3 519.9,1159.5 521.4,1160.3 522.9,1160.4 524.4,1160.9 525.9,1161.1 527.4,1160.7 528.9,1160.6 530.3,1161.2 531.8,1162.0 533.3,1161.7 534.8,1162.0 536.3,1161.7 537.8,1162.7 539.3,1161.8 540.8,1162.4 542.3,1162.4 543.8,1162.2 545.3,1163.0 546.8,1163.1 548.3,1162.9 549.7,1163.3 551.2,1163.1 552.7,1163.8 554.2,1163.5 555.7,1163.0 557.2,1164.1 558.7,1163.4 560.2,1163.6 561.7,1163.7 563.2,1163.8 564.7,1164.3 566.2,1163.8 567.7,1164.7 569.2,1164.0 570.7,1165.1 572.2,1163.8 573.7,1164.6 575.2,1165.0 576.7,1165.0 578.2,1164.7 579.7,1165.1 581.2,1165.4 582.6,1165.8 584.1,1165.9 585.6,1166.2 587.1,1166.5 588.6,1166.6 590.1,1166.6 591.5,1167.4 593.0,1167.5 594.5,1167.0 596.0,1167.1 597.5,1167.9 598.9,1168.3 600.4,1167.3 601.9,1168.8 603.4,1168.8 604.8,1169.1 606.3,1169.7 607.8,1169.4 609.3,1169.9 610.7,1169.8 612.2,1170.5 613.7,1170.3 615.2,1171.0 616.6,1171.3 618.1,1172.0 619.6,1172.0 621.1,1172.7 622.5,1172.3 624.0,1173.6 625.5,1173.1 627.0,1172.9 628.5,1173.2 629.9,1174.3 631.4,1174.6 632.9,1174.3 634.4,1174.1 635.9,1174.3 637.3,1174.9 638.8,1175.7 640.3,1175.0 641.8,1176.0 643.3,1176.0 644.8,1175.5 646.3,1176.2 647.7,1176.7 649.2,1176.6 650.7,1176.7 652.2,1176.5 653.7,1178.4 655.2,1177.9 656.7,1178.1 658.2,1177.6 659.6,1178.2 661.1,1178.1 662.6,1177.8 664.1,1178.3 665.6,1178.2 667.1,1178.2 668.6,1178.7 670.1,1179.3 671.6,1179.5 673.1,1179.5 674.5,1179.5 676.0,1179.2 677.5,1180.4 679.0,1180.0 680.5,1180.3 682.0,1180.3 683.5,1180.6 685.0,1180.4 686.5,1181.1 688.0,1180.6 689.5,1180.7 690.9,1180.9 692.4,1181.5 693.9,1181.7 695.4,1181.7 696.9,1181.9 698.4,1182.0 699.9,1182.3 701.4,1182.2 702.9,1182.7 704.4,1182.7 705.9,1182.3 707.4,1183.5 708.8,1182.9 710.3,1183.5 711.8,1182.7 713.3,1183.3 714.8,1184.0 716.3,1185.3 717.8,1184.3 719.3,1183.8 720.8,1184.5 722.3,1184.5 723.8,1184.1 725.3,1185.2 726.8,1184.9 728.3,1185.0 729.7,1184.6 731.2,1184.8 732.7,1185.2 734.2,1185.0 735.7,1185.3 737.2,1185.3 738.7,1186.0 740.2,1185.9 741.7,1185.7 743.2,1187.1 744.7,1185.5 746.2,1186.4 747.7,1186.6 749.2,1186.7 750.7,1186.5 752.2,1187.0 753.7,1187.5 755.2,1187.0 756.7,1187.5 758.2,1187.6 759.6,1187.1 761.1,1187.5 762.6,1187.9 764.1,1188.4 765.6,1188.0 767.1,1188.6 768.6,1187.8 770.1,1187.7 771.6,1188.5 773.1,1188.5 774.6,1188.4 776.1,1189.3 777.6,1188.9 779.1,1188.7 780.6,1188.7 782.1,1188.9 783.6,1189.1 785.1,1189.6 786.6,1188.4 788.1,1189.3 789.6,1189.1 791.1,1189.6 792.6,1189.6 794.1,1189.5 795.6,1189.2 797.1,1188.8 798.6,1189.9 800.1,1189.5 801.6,1189.7 803.1,1189.9 804.6,1189.7 806.1,1189.5 807.6,1189.7 809.1,1189.7 810.6,1189.4 812.1,1190.1 813.6,1190.0 815.1,1189.6 816.6,1190.0 818.1,1190.2 819.6,1189.9 821.1,1189.9 822.6,1190.1 824.1,1190.7 825.6,1190.7 827.1,1190.4 828.6,1190.6 830.1,1190.6 831.6,1190.7 833.1,1190.1 834.6,1190.6 836.1,1190.9 837.6,1189.7 839.1,1190.2 840.6,1191.3 842.1,1190.8 843.6,1191.1 845.1,1190.6 846.6,1191.3 848.0,1191.1 849.5,1190.9 851.0,1191.2 852.5,1190.8 854.0,1190.7 855.5,1190.8 857.0,1190.5 858.5,1191.3 860.0,1191.2 861.5,1191.8 863.0,1191.8 864.5,1191.5 866.0,1191.7 867.5,1191.7 869.0,1190.9 870.5,1192.0 872.0,1191.9 873.5,1192.3 875.0,1192.6 876.5,1192.8 878.0,1192.6 879.5,1191.5 881.0,1192.7 882.5,1192.5 884.0,1192.2 885.5,1192.9 887.0,1192.5 888.5,1193.1 890.0,1193.6 891.5,1192.6 893.0,1193.2 894.5,1193.4 896.0,1193.4 897.5,1192.9 899.0,1192.3 900.5,1193.9 902.0,1193.1 903.5,1193.3 905.0,1193.2 906.5,1193.2 908.0,1193.9 909.5,1194.1 911.0,1194.1 912.5,1193.8 914.0,1194.1 915.5,1193.4 917.0,1194.5 918.5,1193.9 920.0,1193.6 921.5,1194.4 923.0,1194.1 924.5,1195.2 925.9,1194.6 927.4,1194.9 928.9,1195.4 930.4,1194.3 931.9,1194.5 933.4,1195.5 934.9,1195.0 936.4,1195.1 937.9,1195.4 939.4,1195.3 940.9,1195.3 942.4,1195.3 943.9,1195.4 945.4,1195.8 946.9,1195.9 948.4,1195.0 949.9,1195.4 951.4,1195.2 952.9,1195.9 954.4,1196.0 955.9,1196.6 957.4,1195.6 958.9,1195.9 960.4,1196.0 961.9,1196.4 963.4,1196.7 964.9,1196.8 966.4,1196.9 967.9,1197.0 969.4,1196.9 970.9,1196.9 972.4,1197.2 973.9,1196.9 975.4,1197.3 976.9,1197.4 978.4,1197.6 979.9,1197.3 981.4,1196.7 982.9,1197.4 984.4,1197.8 985.9,1197.8 987.3,1197.9 988.8,1197.7 990.3,1198.3 991.8,1198.0 993.3,1197.8 994.8,1198.3 996.3,1198.0 997.8,1199.0 999.3,1199.3 1000.8,1198.4 1002.3,1199.2 1003.8,1199.2 1005.3,1199.1 1006.8,1199.2 1008.3,1198.8 1009.7,1198.3 1010.9,1199.3 1012.8,1199.9" fill="none" stroke="#1cae1c" stroke-width="4" stroke-linejoin="round" stroke-linecap="round"/>
<line x1="369.1" y1="934.6" x2="409.5" y2="908.5" stroke="#000" stroke-width="2.0" />
<text transform="translate(412.5,918.6) scale(0.9615,1)" font-size="28.70" text-anchor="start" font-weight="normal"  style="">mSG</text>
<line x1="477.7" y1="983.9" x2="544.8" y2="957.2" stroke="#000" stroke-width="2.0" />
<text transform="translate(549.0,964.9) scale(0.9615,1)" font-size="28.70" text-anchor="start" font-weight="normal"  style="">mSG2</text>
<line x1="193.2" y1="955.0" x2="232.7" y2="989.6" stroke="#000" stroke-width="2.0" />
<text transform="translate(244.5,994.0) scale(0.9615,1)" font-size="28.70" text-anchor="start" font-weight="normal"  style="">mNeonGreen</text>
<line x1="261.1" y1="1053.9" x2="329.4" y2="1040.2" stroke="#000" stroke-width="2.0" />
<text transform="translate(336.5,1049.1) scale(0.9615,1)" font-size="28.70" text-anchor="start" font-weight="normal"  style="">mEGFP</text>
<line x1="204.7" y1="1129.3" x2="396.4" y2="1081.8" stroke="#000" stroke-width="2.0" />
<text transform="translate(402.4,1087.7) scale(0.9615,1)" font-size="28.70" text-anchor="start" font-weight="normal"  style="">mClover3</text>
<line x1="198.8" y1="1169.6" x2="438.0" y2="1119.2" stroke="#000" stroke-width="2.0" />
<text transform="translate(443.9,1128.0) scale(0.9615,1)" font-size="28.70" text-anchor="start" font-weight="normal"  style="">mGreenLantern</text>
<line x1="489.6" y1="1148.2" x2="706.2" y2="1124.5" stroke="#000" stroke-width="2.0" />
<text transform="translate(711.0,1132.2) scale(0.9615,1)" font-size="28.70" text-anchor="start" font-weight="normal"  style="">SG</text>
<line x1="724.0" y1="1183.9" x2="750.7" y2="1156.0" stroke="#000" stroke-width="2.0" />
<text transform="translate(753.7,1163.7) scale(0.9615,1)" font-size="28.70" text-anchor="start" font-weight="normal"  style="">td8ox2SG</text>
<line x1="228.6" y1="1372.9" x2="228.6" y2="2302.2" stroke="#000" stroke-width="2.6" />
<line x1="227.3" y1="2300.9" x2="2163.0" y2="2300.9" stroke="#000" stroke-width="2.6" />
<line x1="216.0" y1="2300.9" x2="228.6" y2="2300.9" stroke="#000" stroke-width="2.6" />
<text transform="translate(203.0,2313.0) scale(0.9615,1)" font-size="39.83" text-anchor="end" font-weight="normal"  style="">0</text>
<line x1="216.0" y1="2208.1" x2="228.6" y2="2208.1" stroke="#000" stroke-width="2.6" />
<line x1="216.0" y1="2115.3" x2="228.6" y2="2115.3" stroke="#000" stroke-width="2.6" />
<text transform="translate(203.0,2127.4) scale(0.9615,1)" font-size="39.83" text-anchor="end" font-weight="normal"  style="">2,000</text>
<line x1="216.0" y1="2022.5" x2="228.6" y2="2022.5" stroke="#000" stroke-width="2.6" />
<line x1="216.0" y1="1929.7" x2="228.6" y2="1929.7" stroke="#000" stroke-width="2.6" />
<text transform="translate(203.0,1941.8) scale(0.9615,1)" font-size="39.83" text-anchor="end" font-weight="normal"  style="">4,000</text>
<line x1="216.0" y1="1836.9" x2="228.6" y2="1836.9" stroke="#000" stroke-width="2.6" />
<line x1="216.0" y1="1744.1" x2="228.6" y2="1744.1" stroke="#000" stroke-width="2.6" />
<text transform="translate(203.0,1756.2) scale(0.9615,1)" font-size="39.83" text-anchor="end" font-weight="normal"  style="">6,000</text>
<line x1="216.0" y1="1651.3" x2="228.6" y2="1651.3" stroke="#000" stroke-width="2.6" />
<line x1="216.0" y1="1558.5" x2="228.6" y2="1558.5" stroke="#000" stroke-width="2.6" />
<text transform="translate(203.0,1570.6) scale(0.9615,1)" font-size="39.83" text-anchor="end" font-weight="normal"  style="">8,000</text>
<line x1="216.0" y1="1465.7" x2="228.6" y2="1465.7" stroke="#000" stroke-width="2.6" />
<line x1="216.0" y1="1372.9" x2="228.6" y2="1372.9" stroke="#000" stroke-width="2.6" />
<text transform="translate(203.0,1385.0) scale(0.9615,1)" font-size="39.83" text-anchor="end" font-weight="normal"  style="">10,000</text>
<line x1="227.2" y1="2300.9" x2="227.2" y2="2308.8" stroke="#000" stroke-width="2.4" />
<line x1="289.0" y1="2300.9" x2="289.0" y2="2308.8" stroke="#000" stroke-width="2.4" />
<line x1="341.2" y1="2300.9" x2="341.2" y2="2308.8" stroke="#000" stroke-width="2.4" />
<line x1="386.4" y1="2300.9" x2="386.4" y2="2308.8" stroke="#000" stroke-width="2.4" />
<line x1="426.3" y1="2300.9" x2="426.3" y2="2308.8" stroke="#000" stroke-width="2.4" />
<line x1="696.8" y1="2300.9" x2="696.8" y2="2308.8" stroke="#000" stroke-width="2.4" />
<line x1="931.6" y1="2300.9" x2="931.6" y2="2308.8" stroke="#000" stroke-width="2.4" />
<line x1="1007.2" y1="2300.9" x2="1007.2" y2="2308.8" stroke="#000" stroke-width="2.4" />
<line x1="1069.0" y1="2300.9" x2="1069.0" y2="2308.8" stroke="#000" stroke-width="2.4" />
<line x1="1121.2" y1="2300.9" x2="1121.2" y2="2308.8" stroke="#000" stroke-width="2.4" />
<line x1="1166.4" y1="2300.9" x2="1166.4" y2="2308.8" stroke="#000" stroke-width="2.4" />
<line x1="1206.3" y1="2300.9" x2="1206.3" y2="2308.8" stroke="#000" stroke-width="2.4" />
<line x1="1476.8" y1="2300.9" x2="1476.8" y2="2308.8" stroke="#000" stroke-width="2.4" />
<line x1="1711.6" y1="2300.9" x2="1711.6" y2="2308.8" stroke="#000" stroke-width="2.4" />
<line x1="1787.2" y1="2300.9" x2="1787.2" y2="2308.8" stroke="#000" stroke-width="2.4" />
<line x1="1849.0" y1="2300.9" x2="1849.0" y2="2308.8" stroke="#000" stroke-width="2.4" />
<line x1="1901.2" y1="2300.9" x2="1901.2" y2="2308.8" stroke="#000" stroke-width="2.4" />
<line x1="1946.4" y1="2300.9" x2="1946.4" y2="2308.8" stroke="#000" stroke-width="2.4" />
<line x1="1986.3" y1="2300.9" x2="1986.3" y2="2308.8" stroke="#000" stroke-width="2.4" />
<line x1="462.0" y1="2300.9" x2="462.0" y2="2315.2" stroke="#000" stroke-width="2.6" />
<text transform="translate(462.0,2349.7) scale(0.9615,1)" font-size="39.62" text-anchor="middle" font-weight="normal"  style="">10</text>
<line x1="834.2" y1="2300.9" x2="834.2" y2="2315.2" stroke="#000" stroke-width="2.6" />
<text transform="translate(834.2,2349.7) scale(0.9615,1)" font-size="39.62" text-anchor="middle" font-weight="normal"  style="">30</text>
<line x1="1242.0" y1="2300.9" x2="1242.0" y2="2315.2" stroke="#000" stroke-width="2.6" />
<text transform="translate(1242.0,2349.7) scale(0.9615,1)" font-size="39.62" text-anchor="middle" font-weight="normal"  style="">100</text>
<line x1="1614.2" y1="2300.9" x2="1614.2" y2="2315.2" stroke="#000" stroke-width="2.6" />
<text transform="translate(1614.2,2349.7) scale(0.9615,1)" font-size="39.62" text-anchor="middle" font-weight="normal"  style="">300</text>
<line x1="2022.0" y1="2300.9" x2="2022.0" y2="2315.2" stroke="#000" stroke-width="2.6" />
<text transform="translate(2022.0,2349.7) scale(0.9615,1)" font-size="39.62" text-anchor="middle" font-weight="normal"  style="">1,000</text>
<text transform="translate(1004.5,2397.9) scale(0.9615,1)" font-size="48.36">Irradiance (W/cm<tspan font-size="26.5" dy="-16">2</tspan><tspan dy="16">)</tspan></text>
<text transform="translate(81.2,2067.5) rotate(-90) scale(0.9615,1)" font-size="49.4">Photostability <tspan font-style="italic">t</tspan><tspan font-size="24" dy="9">1/2</tspan><tspan dy="-9"> (sec)</tspan></text>
<line x1="462.0" y1="1372.9" x2="462.0" y2="1428.7" stroke="#45cc45" stroke-width="1.3" />
<line x1="454.0" y1="1372.9" x2="470.0" y2="1372.9" stroke="#45cc45" stroke-width="1.4" />
<line x1="454.0" y1="1428.7" x2="470.0" y2="1428.7" stroke="#45cc45" stroke-width="1.4" />
<line x1="834.2" y1="1588.6" x2="834.2" y2="1651.4" stroke="#45cc45" stroke-width="1.3" />
<line x1="826.2" y1="1588.6" x2="842.2" y2="1588.6" stroke="#45cc45" stroke-width="1.4" />
<line x1="826.2" y1="1651.4" x2="842.2" y2="1651.4" stroke="#45cc45" stroke-width="1.4" />
<line x1="1242.0" y1="1780.0" x2="1242.0" y2="1884.3" stroke="#45cc45" stroke-width="1.3" />
<line x1="1234.0" y1="1780.0" x2="1250.0" y2="1780.0" stroke="#45cc45" stroke-width="1.4" />
<line x1="1234.0" y1="1884.3" x2="1250.0" y2="1884.3" stroke="#45cc45" stroke-width="1.4" />
<line x1="1614.2" y1="1970.3" x2="1614.2" y2="2013.8" stroke="#45cc45" stroke-width="1.3" />
<line x1="1606.2" y1="1970.3" x2="1622.2" y2="1970.3" stroke="#45cc45" stroke-width="1.4" />
<line x1="1606.2" y1="2013.8" x2="1622.2" y2="2013.8" stroke="#45cc45" stroke-width="1.4" />
<line x1="2022.0" y1="2132.6" x2="2022.0" y2="2150.5" stroke="#45cc45" stroke-width="1.3" />
<line x1="2014.0" y1="2132.6" x2="2030.0" y2="2132.6" stroke="#45cc45" stroke-width="1.4" />
<line x1="2014.0" y1="2150.5" x2="2030.0" y2="2150.5" stroke="#45cc45" stroke-width="1.4" />
<path d="M462.0,1400.2 L834.2,1620.2 L1242.0,1831.9 L1614.2,1991.6 L2022.0,2141.6" fill="none" stroke="#1eea1e" stroke-width="4" stroke-linejoin="round"/>
<circle cx="462.0" cy="1400.2" r="6.3" fill="#1eea1e"/>
<circle cx="834.2" cy="1620.2" r="6.3" fill="#1eea1e"/>
<circle cx="1242.0" cy="1831.9" r="6.3" fill="#1eea1e"/>
<circle cx="1614.2" cy="1991.6" r="6.3" fill="#1eea1e"/>
<circle cx="2022.0" cy="2141.6" r="6.3" fill="#1eea1e"/>
<line x1="462.0" y1="1755.1" x2="462.0" y2="1835.2" stroke="#45cc45" stroke-width="1.3" />
<line x1="454.0" y1="1755.1" x2="470.0" y2="1755.1" stroke="#45cc45" stroke-width="1.4" />
<line x1="454.0" y1="1835.2" x2="470.0" y2="1835.2" stroke="#45cc45" stroke-width="1.4" />
<line x1="834.2" y1="1801.3" x2="834.2" y2="1865.3" stroke="#45cc45" stroke-width="1.3" />
<line x1="826.2" y1="1801.3" x2="842.2" y2="1801.3" stroke="#45cc45" stroke-width="1.4" />
<line x1="826.2" y1="1865.3" x2="842.2" y2="1865.3" stroke="#45cc45" stroke-width="1.4" />
<line x1="1242.0" y1="1918.4" x2="1242.0" y2="2020.8" stroke="#45cc45" stroke-width="1.3" />
<line x1="1234.0" y1="1918.4" x2="1250.0" y2="1918.4" stroke="#45cc45" stroke-width="1.4" />
<line x1="1234.0" y1="2020.8" x2="1250.0" y2="2020.8" stroke="#45cc45" stroke-width="1.4" />
<line x1="1614.2" y1="2070.2" x2="1614.2" y2="2104.1" stroke="#45cc45" stroke-width="1.3" />
<line x1="1606.2" y1="2070.2" x2="1622.2" y2="2070.2" stroke="#45cc45" stroke-width="1.4" />
<line x1="1606.2" y1="2104.1" x2="1622.2" y2="2104.1" stroke="#45cc45" stroke-width="1.4" />
<line x1="2022.0" y1="2153.5" x2="2022.0" y2="2170.0" stroke="#45cc45" stroke-width="1.3" />
<line x1="2014.0" y1="2153.5" x2="2030.0" y2="2153.5" stroke="#45cc45" stroke-width="1.4" />
<line x1="2014.0" y1="2170.0" x2="2030.0" y2="2170.0" stroke="#45cc45" stroke-width="1.4" />
<path d="M462.0,1795.5 L834.2,1832.7 L1242.0,1969.0 L1614.2,2086.2 L2022.0,2162.4" fill="none" stroke="#1eea1e" stroke-width="4" stroke-linejoin="round"/>
<circle cx="462.0" cy="1795.5" r="6.3" fill="#1eea1e"/>
<circle cx="834.2" cy="1832.7" r="6.3" fill="#1eea1e"/>
<circle cx="1242.0" cy="1969.0" r="6.3" fill="#1eea1e"/>
<circle cx="1614.2" cy="2086.2" r="6.3" fill="#1eea1e"/>
<circle cx="2022.0" cy="2162.4" r="6.3" fill="#1eea1e"/>
<line x1="462.0" y1="1529.7" x2="462.0" y2="1564.3" stroke="#2b5e2b" stroke-width="1.3" />
<line x1="454.0" y1="1529.7" x2="470.0" y2="1529.7" stroke="#2b5e2b" stroke-width="1.4" />
<line x1="454.0" y1="1564.3" x2="470.0" y2="1564.3" stroke="#2b5e2b" stroke-width="1.4" />
<line x1="834.2" y1="1780.3" x2="834.2" y2="1984.2" stroke="#2b5e2b" stroke-width="1.3" />
<line x1="826.2" y1="1780.3" x2="842.2" y2="1780.3" stroke="#2b5e2b" stroke-width="1.4" />
<line x1="826.2" y1="1984.2" x2="842.2" y2="1984.2" stroke="#2b5e2b" stroke-width="1.4" />
<line x1="1242.0" y1="2118.0" x2="1242.0" y2="2166.6" stroke="#2b5e2b" stroke-width="1.3" />
<line x1="1234.0" y1="2118.0" x2="1250.0" y2="2118.0" stroke="#2b5e2b" stroke-width="1.4" />
<line x1="1234.0" y1="2166.6" x2="1250.0" y2="2166.6" stroke="#2b5e2b" stroke-width="1.4" />
<line x1="1614.2" y1="2236.0" x2="1614.2" y2="2248.0" stroke="#2b5e2b" stroke-width="1.3" />
<line x1="1606.2" y1="2236.0" x2="1622.2" y2="2236.0" stroke="#2b5e2b" stroke-width="1.4" />
<line x1="1606.2" y1="2248.0" x2="1622.2" y2="2248.0" stroke="#2b5e2b" stroke-width="1.4" />
<path d="M462.0,1546.8 L834.2,1882.6 L1242.0,2141.6 L1614.2,2241.6 L2022.0,2275.5" fill="none" stroke="#17a917" stroke-width="4" stroke-linejoin="round"/>
<circle cx="462.0" cy="1546.8" r="6.3" fill="#17a917"/>
<circle cx="834.2" cy="1882.6" r="6.3" fill="#17a917"/>
<circle cx="1242.0" cy="2141.6" r="6.3" fill="#17a917"/>
<circle cx="1614.2" cy="2241.6" r="6.3" fill="#17a917"/>
<circle cx="2022.0" cy="2275.5" r="6.3" fill="#17a917"/>
<line x1="462.0" y1="1517.7" x2="462.0" y2="1547.0" stroke="#2b5e2b" stroke-width="1.3" />
<line x1="454.0" y1="1517.7" x2="470.0" y2="1517.7" stroke="#2b5e2b" stroke-width="1.4" />
<line x1="454.0" y1="1547.0" x2="470.0" y2="1547.0" stroke="#2b5e2b" stroke-width="1.4" />
<line x1="834.2" y1="1900.4" x2="834.2" y2="1995.9" stroke="#2b5e2b" stroke-width="1.3" />
<line x1="826.2" y1="1900.4" x2="842.2" y2="1900.4" stroke="#2b5e2b" stroke-width="1.4" />
<line x1="826.2" y1="1995.9" x2="842.2" y2="1995.9" stroke="#2b5e2b" stroke-width="1.4" />
<line x1="1242.0" y1="2093.2" x2="1242.0" y2="2124.6" stroke="#2b5e2b" stroke-width="1.3" />
<line x1="1234.0" y1="2093.2" x2="1250.0" y2="2093.2" stroke="#2b5e2b" stroke-width="1.4" />
<line x1="1234.0" y1="2124.6" x2="1250.0" y2="2124.6" stroke="#2b5e2b" stroke-width="1.4" />
<line x1="1614.2" y1="2237.0" x2="1614.2" y2="2248.0" stroke="#2b5e2b" stroke-width="1.3" />
<line x1="1606.2" y1="2237.0" x2="1622.2" y2="2237.0" stroke="#2b5e2b" stroke-width="1.4" />
<line x1="1606.2" y1="2248.0" x2="1622.2" y2="2248.0" stroke="#2b5e2b" stroke-width="1.4" />
<path d="M462.0,1532.6 L834.2,1949.0 L1242.0,2108.9 L1614.2,2242.5 L2022.0,2275.5" fill="none" stroke="#17a917" stroke-width="4" stroke-linejoin="round"/>
<circle cx="462.0" cy="1532.6" r="6.3" fill="#17a917"/>
<circle cx="834.2" cy="1949.0" r="6.3" fill="#17a917"/>
<circle cx="1242.0" cy="2108.9" r="6.3" fill="#17a917"/>
<circle cx="1614.2" cy="2242.5" r="6.3" fill="#17a917"/>
<circle cx="2022.0" cy="2275.5" r="6.3" fill="#17a917"/>
<path d="M462.0,2268.4 L834.2,2271.4 L1242.0,2272.0 L1614.2,2275.5 L2022.0,2277.0" fill="none" stroke="#1a1ad8" stroke-width="4" stroke-linejoin="round"/>
<circle cx="462.0" cy="2268.4" r="6.3" fill="#1a1ad8"/>
<circle cx="834.2" cy="2271.4" r="6.3" fill="#1a1ad8"/>
<circle cx="1242.0" cy="2272.0" r="6.3" fill="#1a1ad8"/>
<circle cx="1614.2" cy="2275.5" r="6.3" fill="#1a1ad8"/>
<circle cx="2022.0" cy="2277.0" r="6.3" fill="#1a1ad8"/>
<path d="M462.0,2259.5 L834.2,2272.5 L1242.0,2272.5 L1614.2,2278.4 L2022.0,2283.2" fill="none" stroke="#e5141b" stroke-width="4" stroke-linejoin="round"/>
<circle cx="462.0" cy="2259.5" r="6.3" fill="#e5141b"/>
<circle cx="834.2" cy="2272.5" r="6.3" fill="#e5141b"/>
<circle cx="1242.0" cy="2272.5" r="6.3" fill="#e5141b"/>
<circle cx="1614.2" cy="2278.4" r="6.3" fill="#e5141b"/>
<circle cx="2022.0" cy="2283.2" r="6.3" fill="#e5141b"/>
<circle cx="2022.0" cy="2275.6" r="12.5" fill="#17a917"/>
<path d="M462.0,2292.1 L834.2,2295.1 L1242.0,2297.5 L1614.2,2298.0 L2022.0,2299.0" fill="none" stroke="#000000" stroke-width="4" stroke-linejoin="round"/>
<circle cx="462.0" cy="2292.1" r="6.3" fill="#000000"/>
<circle cx="834.2" cy="2295.1" r="6.3" fill="#000000"/>
<circle cx="1242.0" cy="2297.5" r="6.3" fill="#000000"/>
<circle cx="1614.2" cy="2298.0" r="6.3" fill="#000000"/>
<circle cx="2022.0" cy="2299.0" r="6.3" fill="#000000"/>
<path d="M462.0,2300.3 L834.2,2300.3 L1242.0,2300.3 L1614.2,2300.3 L2022.0,2300.3" fill="none" stroke="#e51ee5" stroke-width="4" stroke-linejoin="round"/>
<circle cx="462.0" cy="2300.3" r="6.3" fill="#e51ee5"/>
<circle cx="834.2" cy="2300.3" r="6.3" fill="#e51ee5"/>
<circle cx="1242.0" cy="2300.3" r="6.3" fill="#e51ee5"/>
<circle cx="1614.2" cy="2300.3" r="6.3" fill="#e51ee5"/>
<circle cx="2022.0" cy="2300.3" r="6.3" fill="#e51ee5"/>
<line x1="642.3" y1="1509.1" x2="696.7" y2="1479.5" stroke="#000" stroke-width="2.0" />
<text transform="translate(702.7,1482.4) scale(0.9615,1)" font-size="41.08" text-anchor="start" font-weight="normal"  style="">mSG</text>
<line x1="897.1" y1="1855.2" x2="963.7" y2="1817.9" stroke="#000" stroke-width="2.0" />
<text transform="translate(970.3,1823.9) scale(0.9615,1)" font-size="41.08" text-anchor="start" font-weight="normal"  style="">mSG2</text>
<line x1="980.2" y1="1976.2" x2="1037.9" y2="1988.4" stroke="#000" stroke-width="2.0" />
<text transform="translate(1041.9,1997.6) scale(0.9615,1)" font-size="41.08" text-anchor="start" font-weight="normal"  style="">td8ox2SG</text>
<line x1="1275.3" y1="2121.2" x2="1335.3" y2="2094.9" stroke="#000" stroke-width="2.0" />
<text transform="translate(1345.5,2108.0) scale(0.9615,1)" font-size="41.08" text-anchor="start" font-weight="normal"  style="">SG</text>
<line x1="492.0" y1="2268.0" x2="580.2" y2="2172.2" stroke="#000" stroke-width="2.0" />
<text transform="translate(584.0,2177.7) scale(0.9615,1)" font-size="41.08" text-anchor="start" font-weight="normal"  style="">mEGFP</text>
<line x1="584.0" y1="2264.0" x2="702.7" y2="2213.4" stroke="#000" stroke-width="2.0" />
<text transform="translate(705.0,2221.6) scale(0.9615,1)" font-size="41.08" text-anchor="start" font-weight="normal"  style="">mNeonGreen</text>
<line x1="769.8" y1="2294.7" x2="1044.5" y2="2228.8" stroke="#000" stroke-width="2.0" />
<text transform="translate(1050.0,2234.3) scale(0.9615,1)" font-size="41.08" text-anchor="start" font-weight="normal"  style="">mClover3</text>
<line x1="879.7" y1="2301.3" x2="1212.0" y2="2251.9" stroke="#000" stroke-width="2.0" />
<text transform="translate(1220.3,2260.0) scale(0.9615,1)" font-size="41.08" text-anchor="start" font-weight="normal"  style="">mGreenLantern</text>
</svg>
</body></html>
